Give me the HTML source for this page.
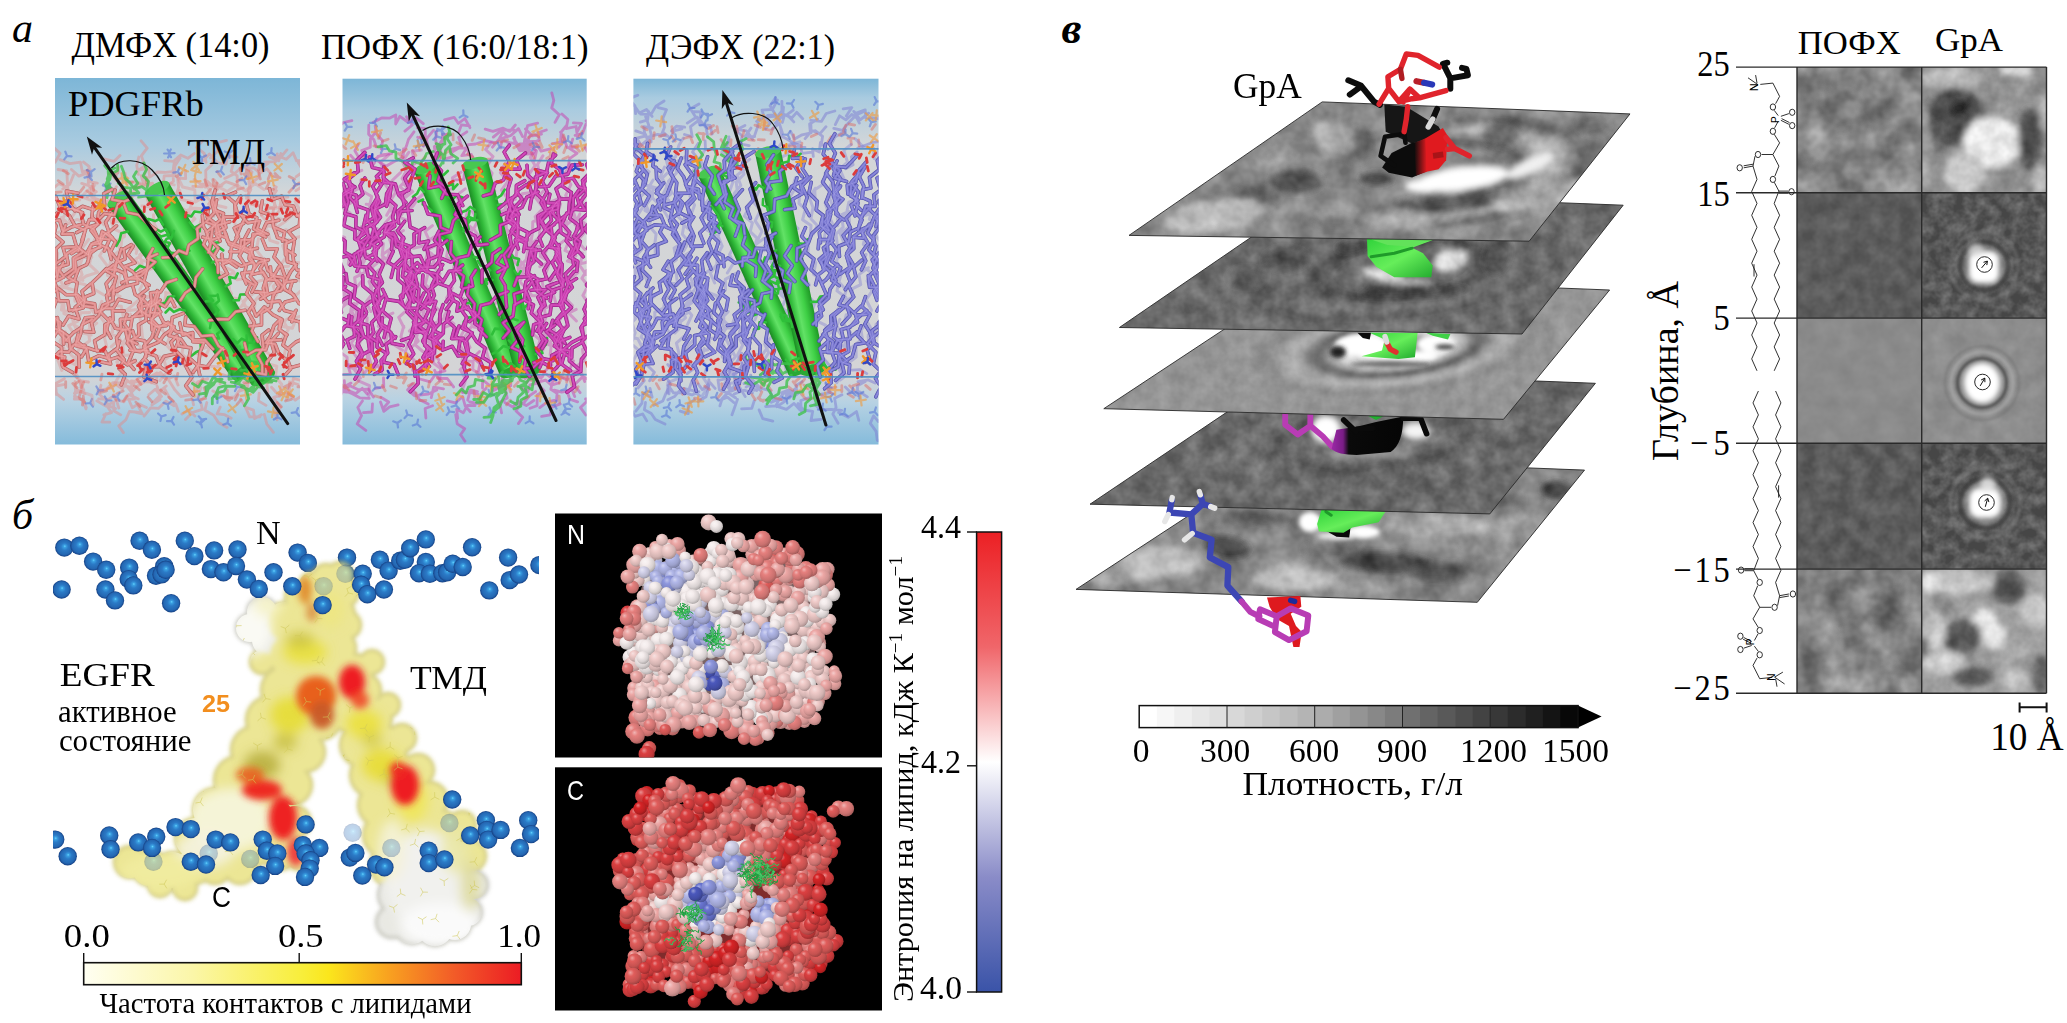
<!DOCTYPE html>
<html lang="ru"><head><meta charset="utf-8"><title>figure</title>
<style>html,body{margin:0;padding:0;background:#fff;overflow:hidden}svg{display:block}</style></head><body>
<svg width="2067" height="1023" viewBox="0 0 2067 1023" font-family="'Liberation Serif','Times New Roman',serif" fill="#000">
<defs>
<linearGradient id="ga0" x1="0" y1="0" x2="0" y2="1"><stop offset="0" stop-color="#7db6d7"/><stop offset="18.1%" stop-color="#a9cbe0"/><stop offset="31.1%" stop-color="#d3d6d8"/><stop offset="81.4%" stop-color="#d4d4d6"/><stop offset="88.4%" stop-color="#b7d2e3"/><stop offset="100%" stop-color="#85bbdb"/></linearGradient>
<clipPath id="ca0"><rect x="55" y="78" width="245" height="366.5"/></clipPath>
<linearGradient id="gc00" gradientUnits="userSpaceOnUse" x1="128.1" y1="191.7" x2="107.9" y2="206.3"><stop offset="0" stop-color="#1f9a26"/><stop offset="0.3" stop-color="#3fd046"/><stop offset="0.55" stop-color="#62e266"/><stop offset="0.8" stop-color="#2fb838"/><stop offset="1" stop-color="#1c8a24"/></linearGradient>
<linearGradient id="gc01" gradientUnits="userSpaceOnUse" x1="168.8" y1="182.4" x2="145.2" y2="195.6"><stop offset="0" stop-color="#1f9a26"/><stop offset="0.3" stop-color="#3fd046"/><stop offset="0.55" stop-color="#62e266"/><stop offset="0.8" stop-color="#2fb838"/><stop offset="1" stop-color="#1c8a24"/></linearGradient>
<path id="fp0" d="M92.3,319.4l-10.3,5.3 -1.3,9.1 -3,7.9 8.8,6.9 -4.9,8.2 M262.3,239.1l4.1,10.1 10.9,-0.5 -3.3,8.3 7.1,8.2 3.9,11.2 M202.6,268.9l-6.7,8.4 -1.4,9.5 -9.1,6 -4.8,7.4 M183.3,313.4l-11,4.1 -1.5,12.4 -6.9,5.1 -5.1,7 -11.1,4.9 -7.3,4.8 -10.5,-1.5 M250,247l3.5,10.5 11.7,2.8 -5.1,8.6 6.2,9 -3,10 1.6,8.4 M202.4,215.4l1.1,11.2 4.7,7.4 -4.8,10.5 5.8,7 8.1,8.9 9.7,-0.1 9.7,6.7 M122.4,329.6l-5.9,8.4 1.7,9.5 -9.7,7.3 2.1,9.2 -9.4,-2.1 M126.9,314.4l-2.9,9.6 6.3,7.9 -3,11.2 5.9,8.2 -4.9,11.2 5.7,6.8 M116.4,270.4l-10,-1.8 -7.7,7.9 -6.6,6.2 1.7,10.8 -8.6,3.4 -1.9,10.9 -10.5,3 M229.7,221.7l-12,3.5 2.9,11.5 -10,3.7 7.7,7.7 -4.2,7.5 3.6,8.2 0.3,8.9 M112.1,237.2l-10,-5.8 -2.3,9.1 -8.3,3.5 -5.8,10.9 M114,240.3l-8.9,-7 -5.2,10.1 -8.6,1.2 -3,10.4 -9,-6.6 -7.7,5.1 M84.9,345.4l-11,-0.8 -5.3,7.7 -9,-0.8 -7.3,7.9 M292.5,281l-3,9.5 6.9,8.6 -11.4,3 -5.7,8.3 M224.4,232.6l3.4,9.2 11.5,4.1 7.5,4.3 10.6,-2 M157.3,254.1l-8.4,3.4 -1.9,12.3 -3.1,11.4 3.8,7.6 -8.6,6.6 2.8,8 -0.3,8.6 M294.3,241.5l-1.8,11 1.1,8.6 3.4,9.1 10.7,0.1 M221.9,254.2l1.2,9.9 9.1,-3.6 9.1,5.8 11.3,-4.3 M264.5,259.5l3.3,10.8 6.6,5.2 -9,6.1 2.1,11.2 -12.3,-0.9 M78.1,334.4l-2.6,11.2 11.1,2.8 2,12.2 10.4,-5 9,2.7 M296.1,310.3l-6.6,8.7 10.7,3.1 0.3,8.7 6.3,6.4 -11,4.8 -7.2,6.1 M204,223l-6.8,5.5 0.8,10.2 -9.2,6.2 -2.1,8.9 -7.9,-3.3 -6.8,6.7 -9.5,0.5 M246.4,204.1l2.6,9.8 7.8,4 -3.3,11 10.5,6 M279.4,266.2l-6,10.2 5.6,10 -5.8,9.6 -2.4,11.6 -9.3,5.4 0,12 -11.7,1.2 M252.1,306.5l4.1,9.7 8.2,-9.2 8.7,7.8 9.1,4.9 -2.9,9.9 7.8,5.1 M113.8,264.8l-7.9,5.8 10.4,5.9 -2.5,9.2 -0,8.9 M133.2,246.1l-5.4,8.8 7.2,7.9 -10.3,3.6 7.7,5 6.9,8.2 M77.9,193.2l-11.5,-2.2 2.2,11.6 -8.6,6.2 9.4,6.8 5.8,10.5 10.2,4.1 -3.5,9.8 M51.7,305l-6.8,7.9 10.4,4.9 -1.1,10.6 9.1,3.7 0.3,12 M112.9,286.2l-6.4,9.4 2,9.3 -8.3,6.9 8.5,8.7 -2,9.7 4.2,8 M213.3,201l2.8,10.4 4.3,8.4 -7.9,7 -1.4,12.4 -8.3,-2 M124.2,310.9l-11.7,-0.3 0.5,9.7 -8.2,4.6 -0.1,9.8 -10.1,6.2 2.5,10.5 M278.2,333.4l-7.1,8.3 3.2,10.8 -7.6,9.9 -0.9,12.3 -8.5,-1.8 M58.4,212l-8.1,7.1 5.8,6.7 -2.1,8.6 9.1,7.7 -7,6.7 0,10.5 -2.1,10.6 M249.6,241.4l-7.5,5.1 8.1,3.2 -1.1,9.1 5.9,6.9 -4.7,10.9 6.1,6.9 -4.5,8.7 M269.5,188.8l3,10.7 9,-3.3 3.6,8.5 8.4,1.4 3.5,10 8.2,-2.9 M307.3,207l-7.1,6.6 -0.8,12.1 -10.8,5.9 6.4,7.4 -9.6,4.6 0.1,11.5 M270.4,266.7l0.7,8.8 12.3,2.4 1.3,11.5 9,5.5 5.4,8.7 9.1,3.4 M144.4,296l-5.9,9.8 4.2,9.7 -10.4,1.3 -1.8,11.4 -8.1,2.4 M240.6,214.7l7.2,8.1 11.9,-2.1 -2.6,8.1 10.7,5.4 M235.5,192.2l-8.9,3.8 7.9,6.7 2.9,10.7 8.1,3.6 -4.8,9.5 -4.5,11 M177.1,337.7l1.9,8.3 12,1.9 -2,9.8 7.6,6.8 M280,318.9l-0.7,10.2 7,6.2 -3.4,9.7 7.1,5.6 -2.1,9.6 2.9,8.7 -5.9,6.5 M47,347.5l6,7.1 11.7,2.3 -1.4,10.4 9.1,5.1 M76.2,248.1l-9.9,5.9 2,10.2 -9.4,3.1 -1.7,11.2 M93.8,317l-8.5,0.7 -4.3,10.1 -7.4,4.7 -8,8 M52.3,306.1l-0.7,9.4 8.8,7.1 -1.4,9.6 8.3,8.8 M157.3,290.6l-3.5,11 6.9,10.3 -9.4,7 0.8,11.2 M119.5,341.1l-2.7,8.8 7.5,10 -5.3,8.5 6.3,6 -4,10.5 M310.4,199.9l-4.8,10.4 -4.8,7.7 -7.2,-5.5 -8.7,7.1 M208.4,208l-1.2,9 8.1,6.4 1.4,10.3 9.1,4 M295.8,280.9l-9.7,1.1 -5.3,8.7 -11.2,3 -9.1,5.4 M281,339.8l-12.1,0.6 -3.1,9.3 -9.9,0.4 -8.3,4.7 -3,-11.7 M65.6,224.9l-3.6,9.3 10.8,-0.4 3.4,11.7 6.9,6.7 -9.7,5.8 0.3,10.8 -8.7,6.2 M58,288.2l8.1,6.5 11,-0.2 4.9,11.3 11.9,1.3 M216.6,199.8l-1.8,10.1 8.7,3.6 -1.9,11.4 4.4,9.2 3.3,10.5 11.9,4.1 7.9,4.1 M151.9,301.1l-1.8,11.4 8.7,0.6 4.7,9.1 10.6,4.4 -5,9 11.6,3.2 5.6,8 M123.5,286.2l-10.7,5.3 0.5,8.8 -10.6,4.8 -3.8,10.3 -7.4,7.5 2.3,9.3 -9.1,-0.7 M176.3,279.4l-9.6,3.2 -6.2,9.3 -10,0.9 1.6,10.5 -8.7,3.1 M145.8,269.3l-9.4,4.8 1.2,9.1 -12.1,3 -8.7,5.2 M84.7,255.5l-9.4,4.3 0.6,11.1 -7.8,6.4 9,5.2 -1.7,12.3 3.7,9.1 M179.6,339l-4.8,10.4 8.3,8.9 3.6,9.6 5.1,9.2 -6.1,8.7 7.4,9.1 M158.9,292.4l-2.5,9.2 -1.2,9 -3.1,9.1 7.5,8.3 -4.1,10 9.4,5.7 M131.3,244.6l-7.6,4.5 1.4,9.8 -8.6,3.9 -2.6,11.7 -7.8,9.2 3.1,11.8 M111.7,213.2l-6.1,9.1 3.3,9.4 -8.7,6 0.4,9.6 -11.8,4.1 -0.5,10.5 M160.2,300.1l-9.2,6.2 -1.4,10.2 -9.3,-5.9 -8.9,8.1 -11,0.6 0.5,8.6 M185.7,316.8l-0.9,8.4 9.4,1.1 7.3,9.9 11.2,-1 5.8,10.6 6.8,5.1 2.6,10.9 M265.7,236.9l-8.8,-3.6 -6,6.4 -9.6,0.1 -1.7,11.8 -10,0.1 M57.6,292.1l1.2,8.5 9.1,0.3 1.4,9.5 10.8,-1.7 M166.3,325.7l-11.1,0.8 -3.3,10.9 -8,8.5 2.5,10.2 -6.3,7.6 M215.2,190.3l-3.4,12 2.6,10.4 -8.4,9.2 9.3,3.4 -8.9,6.9 4.3,11.4 -2.2,8.7 M243.7,223.3l-9.5,4.7 3.9,8.5 -6.5,10.5 -1.3,11.9 -7.9,5.8 5,8.9 -7.8,4.2 M179.8,322.9l2.8,12.3 10.1,-2.6 0.2,9.2 11.1,0.6 -4,9.9 -1.4,12.3 -5.4,7.7 M112.1,189.5l-8.4,4.1 0.8,11.2 -5.9,7.5 -1.1,12 -11.9,3.7 -2.7,12 -4.6,11.2 M152.8,248.6l-5.2,9.7 7.8,3.7 -7,6.1 -7.3,7.6 -9.2,1.8 -10.2,5.3 M116.5,225.8l-8.4,7 7.4,8.9 -4.8,9.8 6.4,8.6 -3.2,8.2 10,4.7 3.4,10.6 M132.8,286.1l2.3,8.4 8,5.2 7.5,7.3 7.1,-4.6 7.3,4.3 5.7,-8.2 4.1,7.9 M249.1,230.2l-4.4,8.2 -0.5,9.2 -4.9,8.3 6.8,10.3 -2.6,12.2 10.5,6.6 M99.7,246.5l-8.9,6.6 -4.1,11.5 -7.9,3.8 -4.3,11.7 -8.5,2.8 M68.6,197.7l1.5,10.1 10.7,4.2 2.6,12.2 10.2,4.8 4.3,9.1 11.6,1.6 -5.1,11.3 M240.7,196.1l-5.8,9.1 0.7,11.9 -12.1,-0.2 2.4,10.7 -10.2,6 4.4,7.5 M262.3,200.7l-1.9,10.8 11.7,4.3 1.5,11.3 11.1,4.8 -2.1,9.3 M130.3,302.2l-11.6,-3 -5.4,9.2 -8.8,0 -8.6,4.1 -1.2,-8.7 -9.1,-1.6 -8.7,-7.9 M150.2,301.5l-4.4,10 0.3,8.8 -7.6,4.3 0.5,10.7 -8.1,5.3 M82.5,212.6l-10.4,-4.4 -10.9,1.7 -4.7,-11.5 -10.7,4.1 -0,-9.2 -8.5,-8 5.1,-7.9 M252.8,249.1l-2.7,8.2 4.7,7.2 -3,10 11.3,-2.4 4.4,7.4 10.3,0.9 7.1,8.3 M90.7,283.8l-8.7,7.5 2,8.2 -8.9,7.9 3.9,11.7 -10.4,-3 -5.5,8.9 M131.2,341.4l4.3,9.1 12.1,-0 -3,8 7.9,9.1 -6.6,9.8 10.3,4.3 M115.2,190.2l-3.3,9.4 11.1,2.1 4.2,10.8 11.4,2.3 7.7,7.4 9.3,7.4 M260.5,293.3l7.3,8.9 11.9,-1.1 4.7,9.4 10.6,2.8 -3.2,8.4 M121.4,248.7l-3.6,11.3 7,9.2 1.8,9.2 12.3,0.5 10.3,6.3 M129.7,199.3l-11.6,4.7 -3.9,11.1 -9.6,-1.5 -6.6,6.5 -8.7,-0.6 -3.1,8.4 -9.6,4.7 M57.5,317.6l1.2,11.4 10,7.3 1.7,12.2 8.4,6.4 0.5,12.4 M303.5,312.7l-2.6,9.5 9.3,4.6 3.1,10.3 12.1,0.8 M109.8,318l5.6,10.3 10,1.4 2.1,9.7 9.3,4.3 M281,318.6l-7.1,7.2 -3.5,10 -4.6,7.2 9.3,1 3.7,9.3 7.6,6.7 M268.7,330l-6.7,5.2 1.5,12 -5.9,8.6 4.7,8.9 0,9.2 M80.7,224.6l-9.4,2.5 -8.3,4.5 -3.5,-11.6 -12.1,2.1 -7.9,-5.7 -11,2 M286.7,251l0.7,10.8 9,2.7 -5.5,6.8 -5.1,9.5 M149.1,321.9l9.5,5.6 9.5,-5.1 8.1,9.1 10,2.1 7,6.3 11.5,-0 8.4,9.2 M222.8,348l-8.4,9.2 -7.3,9.7 -9.5,-1.9 2.2,10.4 M316.5,336.7l-9.8,2 5.4,8.9 -7.7,6.3 -2.9,10.8 -12.1,3.2 M92.9,206.2l-1,11 6.9,6.4 -7.8,6.8 5.3,6.9 3.5,7.8 8.5,3.1 2.9,11.2 M301.9,268.9l-4.8,7.5 8.2,2.7 7.5,5.1 6.6,7.4 -2.7,10.8 M278.8,220.3l-12.3,2.4 -4.8,10.5 -8.6,0.9 -1.1,11.9 M273.7,226.8l3.9,10.8 9.4,3.1 -1.5,8.4 9.4,6 M132.7,330.9l2.6,8.1 9.3,1.9 2.2,11.2 9.3,4 4.2,10.8 9.5,6.3 M86.8,347.5l8,2.7 10.4,0.9 3.5,8.8 9.3,-2.9 9.4,7.8 7.7,-4.1 M75.3,246.9l-12.3,0.7 2.6,8.9 -10,7.5 1.3,11.9 -11.5,4.8 -6.5,10.7 M250.3,284.7l-3.8,8.9 7.4,9.8 -5.7,8.7 6.2,10.7 -2.5,8.1 6.1,10.7 M176.9,335.7l-5.9,6.6 4.1,11.7 -10.9,2.3 -6.3,10.5 -11.1,-0.9 -3,11 M55.5,196l3.5,8.4 8.4,-3.7 7.4,10.2 7.7,-4.6 11.4,3.6 6.7,-5.6 M245.2,310.2l-9.5,1.4 -7.3,7.8 -9.1,-0.3 -10.1,1.2 M57,267.5l-8.4,3.7 0.7,11.7 -7.6,4.4 1.5,8.3 M57.4,331.6l-6.1,9.1 10.2,6.7 0.3,8.7 0.6,9.7 M268.4,259.8l-9.8,2.9 -6.7,9.3 -10.2,1 4.6,10.9 M63.5,262.4l-4.5,7.7 4.8,6.9 -9.2,4.7 2.6,8.2 -7.4,4.9 6.6,5.8 -3.8,10"/>
<linearGradient id="ga1" x1="0" y1="0" x2="0" y2="1"><stop offset="0" stop-color="#7db6d7"/><stop offset="8.4%" stop-color="#a9cbe0"/><stop offset="21.4%" stop-color="#d3d6d8"/><stop offset="80.9%" stop-color="#d4d4d6"/><stop offset="87.9%" stop-color="#b7d2e3"/><stop offset="100%" stop-color="#85bbdb"/></linearGradient>
<clipPath id="ca1"><rect x="342.5" y="78.7" width="244.2" height="365.8"/></clipPath>
<linearGradient id="gc10" gradientUnits="userSpaceOnUse" x1="435.6" y1="163.5" x2="414.4" y2="172.5"><stop offset="0" stop-color="#1f9a26"/><stop offset="0.3" stop-color="#3fd046"/><stop offset="0.55" stop-color="#62e266"/><stop offset="0.8" stop-color="#2fb838"/><stop offset="1" stop-color="#1c8a24"/></linearGradient>
<linearGradient id="gc11" gradientUnits="userSpaceOnUse" x1="487.6" y1="159.8" x2="462.4" y2="166.2"><stop offset="0" stop-color="#1f9a26"/><stop offset="0.3" stop-color="#3fd046"/><stop offset="0.55" stop-color="#62e266"/><stop offset="0.8" stop-color="#2fb838"/><stop offset="1" stop-color="#1c8a24"/></linearGradient>
<path id="fp1" d="M366,215.4l-2.7,12 6.1,9.8 -6.3,10.4 -2.5,8.2 M509.4,145.1l-5.3,6.9 5.1,9.5 -4.2,10.3 6.2,7 -3.3,10.5 -0.2,11.9 -8.8,7.1 M435.1,309.8l-4.5,9.4 5.2,8.7 -6.9,9.8 7.8,4.1 -2.5,8.1 M413.5,322.1l2.8,8.3 9.7,2.9 -1.3,12.1 7.9,7 -0.8,8.6 M466.6,318.5l-1.6,8.5 6.5,6.6 5.2,8.2 8.3,6.2 -2.5,9.4 8.5,5.3 -1.5,10.7 M527,165.2l0.7,9.9 8.9,7.9 -1.5,9.5 8.8,8.3 2.3,8.9 11.1,-4.4 M582.3,164.7l-10.3,0.4 -4.1,9 -12.1,1.9 -6.9,10.3 -9.2,0.4 M549.9,194.2l-2.2,8.6 10,0.3 0.4,10.2 2.2,10.6 0.5,8.5 9.9,6.9 M566.8,213l-4.7,10.6 7.7,8.8 -3.6,8.5 6.3,7.5 -3.7,8.3 9,4.6 -1,10 M599.5,265.2l-8.2,4.5 8.2,8.9 -3.4,10 5.8,10.9 1.3,9.5 M377.3,337.4l-0.2,9.8 8.7,5.8 -2.1,9.2 10.5,2.4 4,9.9 M576.5,278.6l-7.8,4.9 -4.1,9.4 -5.2,10.7 4.9,10 -8.6,7.6 8.5,8.5 -5.3,10.8 M442.7,264.6l-5.9,9.7 0.7,9 -9.3,7.5 2,9.6 -9,8.5 M448.9,311.5l-2.3,9 8.1,7 -3,11.1 11.5,-0.3 M412.2,168.8l-7.5,9.4 4.5,10.3 -7.4,5.7 2.5,11.5 -6.7,5.6 1,11.9 M525.2,299.2l-10.9,5.5 -1.2,11.3 -10.1,6.8 6.5,8.1 -6.3,7.2 M523.9,322.1l-9.8,7.2 3.1,11.2 -5.5,7 8.7,4.1 -0.7,10.3 M557.5,282.5l-10.5,4 7.5,5.8 -11.5,4.6 2.1,8.5 -6.5,5.4 3.9,10.3 -5.7,10.1 M343.1,183.3l2.6,8.3 10.6,3.6 0.8,10.8 10.9,3.9 -0.8,10.7 6.9,7.6 -2.4,9.5 M436.2,244.1l-9.3,3.6 2.4,12.2 -2.1,10.6 8,7.9 -3.7,7.7 2.9,9.1 -4.7,9.1 M452.1,317.3l-8.6,6.9 -0.2,9 -8.7,8.6 -0.6,11.7 -7.9,4.3 -0.4,11.1 -9.1,2.6 M338.5,245.7l0.1,12.2 9.7,-2 6.7,10.3 11.3,0.8 2,9.3 11.4,3.6 M554.4,224.3l-8.1,5.8 8.9,7.7 -3.7,8.1 7.5,7.4 -6.9,9.1 4.2,8 -6.6,9.5 M384.7,225.1l-8.4,9.3 5.2,9.5 -8.3,7.5 4,9.6 M512,200.1l-2.5,10.2 8.7,6.4 -1,10.3 10.3,5.1 -0.8,8.7 M562.2,264.3l-0.8,11.6 2,10.5 -11.4,4.1 -1.8,10.6 M345.1,326.1l-6.8,9.3 5.4,8.6 -4.4,7.4 -0.2,9.6 -7.6,6.6 M404.2,264.1l-1.8,12.2 9.1,7.3 -5.1,7.6 4,9.1 -4.8,7.8 M509,209.2l-2.2,9.8 8.8,3.7 -4.4,8.2 8.3,8.4 -6.1,7.4 -4.9,10.1 M459.8,206l-5,8.6 10.5,5.6 1.4,11.1 8.6,4.7 2.2,9.1 10.2,-1 M329.9,172.8l-2.2,9 7.9,4.7 -2.3,11 6.6,6.1 -3.7,9.7 M393.2,222.9l-6.8,9.6 8.4,3.2 1.2,10.2 10.7,6.6 -1.5,11.7 6.3,7.8 -4.2,7.8 M518,225.1l-0.3,10.8 8.1,3.8 0.4,8.4 10,1.1 -1.5,8.4 6.7,6.3 M430,175.9l-1.4,12.3 10.9,-2.3 7.3,8.4 10.9,0.4 5.1,11 M524.8,180.7l-8.4,4.6 -0.3,10.3 -8,4.3 2.7,10.9 -9.2,4 M379.5,280.7l-1.2,10.8 1.4,9.5 -6.1,6.4 2.2,8.5 M347.6,297l-8,4.7 1.9,11 -9.7,6 6,7.3 -6.4,8.7 M546.5,211.1l-8.4,4.7 0.7,12.6 -8.6,4.2 -5.7,7.6 -9.2,-0.4 3.1,9.1 M547.4,172.5l-5.1,8.5 4.8,10.8 -6,10.8 4.7,8.5 -6.1,6.8 6.4,10.8 -5.5,8.3 M414.7,198.5l-7.3,8.6 1.6,10 1.1,9.9 9.6,4.3 -1,11.7 9.7,-1.9 -4.4,8.2 M540.5,250l-9.9,1.3 -2.4,11.3 -1.6,10.9 5.8,8 -6.8,9.3 4.3,9.4 -1.7,8.6 M555.6,155.1l-6.8,6.4 -2.4,11 -9.9,-2.6 0.9,9 -8.8,4.5 3.6,10.6 M443.1,304.7l-3.2,9.2 0.1,9.4 -7.1,7.1 8,3.8 M416.5,316.5l-0.2,12.1 8.3,5.6 -0.1,9.6 7.8,7 -7.2,8.6 M501.6,255.4l-5.1,7.3 9.3,5.4 -5,10 4.5,7.6 0.4,11 0.9,10.2 -7.4,7.6 M530.8,262.4l-2.7,11.1 9.7,5.7 -0.6,12.3 9.5,6.9 M392.5,183.4l-5.9,10.6 -1,10.1 -10.8,5.3 0.1,12.5 M331.6,286.6l-3.3,11.6 6.5,7.1 4.2,11.6 8.6,3.8 M569.9,337.4l-9.6,3.8 1,9.1 -9.4,5.1 -2.1,11 -9.9,-5.1 -7.2,6.8 -8.5,0.2 M345.5,286.4l-7.8,6.2 3.5,9.7 -5.7,6.3 4.9,9.8 -8.8,5.8 M412,270.8l-2.4,8.9 5.9,6.2 -2.3,10.6 5.7,6.5 -2.5,9.7 7.8,9.4 -9.9,3.9 M437.3,153l-3.5,9.5 7.7,8.4 -3.7,10.1 8.5,6.7 -4.6,10.6 M593.9,200.2l-7.7,3.7 1.9,9.5 -7.6,6.7 2.3,11.6 -8.4,9.1 3.3,10.3 -7.3,6.1 M546.7,172l-11.2,5 1.1,10.6 -5,10.8 -1.9,10.6 M354.3,172.9l-10.5,6.4 9.3,6.5 -3.2,11.8 5.7,6.5 M402.1,238.9l0.5,9 9.4,8 0.3,10.3 7.1,6.1 M546.6,323.5l-6.8,9.6 3.1,7.9 -6.3,9.5 6.8,8.8 -9.7,3.5 M600.8,305.4l-9.4,4.2 1.3,11.3 -10.6,4.7 1,11.1 -11.1,5.7 -9.4,7.7 M507.8,291.5l-11,4.2 -6.5,7.4 -9.6,2.3 -1.8,8.7 -9.5,7.6 M516.7,214.3l-8,7.2 7,5.7 -6,8.2 1.8,9.8 -7.8,9.8 4,11.7 -10.1,5.5 M376.7,248.4l-1,8.5 7.7,7.2 -4.3,10.4 3.3,8 -6.6,8 M536.8,241.6l-6.2,8.2 3.3,11.8 -6.9,6.4 2.8,8.7 -12.3,0.6 -3.3,8.4 M411.5,270.8l-5.9,9 3.7,8.5 -9,7.8 3.1,9.6 M349,315.2l-1.2,10.8 11.5,1.8 4.2,8.1 8.3,5.9 0.3,9.8 4.4,10 -6.6,9.5 M354.3,174.1l-7.2,5.5 3.3,7.9 -8.7,7.7 2.8,10 -10.3,5.9 M390.7,190.4l-2.6,8.1 7.8,7 -3.3,11.4 2.2,9.3 -9.6,6.6 7.4,5.8 -1.1,10.8 M475.6,270.2l-4.6,7.2 1.8,8.8 -9.5,2.3 -3.2,8.8 -7.6,-4 -6.5,8.5 M568.9,198.9l-9.5,0.2 -1.2,10.1 -8.9,2.3 2.2,8.8 -6.1,7.2 M581.9,342.5l-9.9,5.6 -0.3,9.9 -10.1,-6.4 -8.5,9 -9.5,-1.8 -4,8.9 M532.3,281.8l3.4,8.2 10.1,-0.5 -7.9,7.9 4.5,9.5 -4.5,11.4 6.5,10.7 M411.8,282.2l-6.9,6.7 5.7,10.4 -1.3,9.3 6.4,6.5 -1.9,10.1 -3,11.9 -9.3,3.4 M534.4,275.7l-8.4,5.7 -1.6,9.1 -10.4,3.5 1.6,10.9 M523.4,322.7l-6.6,8.3 6,8.7 -2.3,11.6 5.4,7.9 -1.9,9 5.7,8.2 M465.6,300.6l-4.2,9.4 5.3,7.6 -4.6,10.6 10.1,4.6 -7.6,9.9 3.3,11.7 -5.7,9.2 M379.5,233.2l-7.1,5.4 -2.8,8.8 -11.7,4.3 2.2,11.9 -3.2,7.8 M439,231l-4.6,9 7.7,9.4 -3.3,11.2 2.7,8.5 M335.5,258.6l-0.9,11.5 8.8,7.5 -1.2,10.2 8.8,6 -1.3,9.7 9.9,6.9 -1.5,10.4 M377.6,198.4l-2.8,9.4 5.7,9.5 -6.8,8.3 3.7,10.8 -7.8,6.5 8.6,4.7 M383.9,166.5l-0.7,11.3 8.3,6.8 -1.7,11.8 -3.2,9.9 M382.6,308.9l-5.7,8.3 5,10.4 -4.5,7.4 5.1,10.4 M426.2,320.5l-6.6,6 7.5,6.6 -4.4,7.9 5,8 -4.8,8.5 6.5,8.8 M460.7,298.8l6.2,10.3 8.5,3.2 -0.6,11.3 7.7,5.3 -2.9,11.7 M365,233.2l-7.3,5.2 3.8,11.8 -7.4,4.2 1.7,9.5 M589.6,334l-7.6,7.2 5.4,11.3 -6,6.8 -0.6,12 -8.6,4.4 2.3,11.1 -7.6,5.5 M576.7,243.5l-4.7,11.3 1.8,10.6 -8.5,8.7 2.4,10.1 M412.1,210.5l-10.9,0.6 -4.3,10.2 -10.8,3.4 -1.8,12 -10.3,6.9 1,9.8 -8.8,4.6 M345.6,215.9l-1.8,9.6 11.2,4.9 -0.3,8.6 9.1,4.7 1.3,12.2 7.1,4.8 M413.2,157.9l-8.4,4.4 10.2,6.9 -3.6,9.5 -2.7,11.7 -9,3.1 M525.8,288.4l-1.3,11.8 9,4.7 -2.2,8.4 7.8,7.5 0.2,12.5 7.3,7.5 -4.5,7.9 M366,314.5l-6.3,8.1 8.4,2.7 -0.3,10.4 9.7,6.5 M525.4,153l-9,7.4 3.8,8.8 -12,-0.2 -5,11.4 -8.1,2.7 -3.5,10.4 -8.3,2.4 M362.7,275.9l0.2,10 9.5,7.9 1.5,9.9 5.3,9.5 -0.3,9.3 7.6,4.7 -2.5,10.4 M459,326l-3.5,11 11.2,5 1.9,11.2 10.3,5.1 4.2,9.5 M565.5,181.6l-9.5,7.2 4.1,11.1 -8.2,6.6 2.5,9.6 M451.4,241.5l-1,11.6 6.8,8.3 -2.1,8.2 8.7,6.5 -2.3,10.9 M480.3,236.9l-8.6,8.5 -3.4,10.2 -9.8,2.2 -7.9,4.4 -9.1,-3.9 -7.3,8.7 -12.5,0.2 M382.1,183.7l-6.3,9.8 3.8,8.2 -5.2,8.1 2.8,12 -10.8,5.9 1.6,8.8 -7.6,5.9 M385.8,299.3l-3.2,11.7 8.6,7.4 -3,11.3 6.9,8.7 M346.1,273.6l1.1,9.1 8.3,3.7 -1.5,11.4 8.7,5.9 3.8,8.6 M563.2,177.7l-0.9,8.4 9.1,6.4 -2.1,11.4 -0.7,9 -8.3,6.6 M404.6,221.3l-7.1,9.5 6.4,7.7 -4.7,8.4 3.4,10.6 -8.6,8.3 -2.8,11.7 M462.7,265l-9.6,7.2 1.4,8.4 -5.3,7.7 4.1,11.7 -7.1,9.3 M591.3,157.3l-4.7,7.4 3.8,9.7 -7.6,9.8 4.1,9.1 -6.6,8.6 4.6,8.2 -11.3,-0.9 M578.7,190.2l-5.4,7.6 -0.4,10.2 -3.1,10.5 8.3,6.2 -2.6,9.3 M469,285.3l-1.7,9.3 7.4,9.2 -1.2,8.6 8.4,7.3 -2.7,9.5 7.4,7.7 M395.7,336.7l-9.7,7.6 1.8,8.7 -6.7,7.4 1.1,9.5 -7.9,4.4 M338.1,221.9l-2.7,11.9 9.8,7.4 -0.6,10.9 10,5.7 -4.3,7.3 M443.2,341.2l-0.6,8.9 9.7,-3.8 5.7,9.7 9.8,-0.7 M347.3,325l-8.4,5.8 4.2,8.7 -11.7,-0.9 -1.6,10.4 -8.8,6 M588.7,298.8l-4.7,10.5 3.7,7.9 -6.8,10.5 3,10.5 M364.9,177.9l-4.9,7.7 2.9,8.4 -8.7,7.3 3.1,11.1 M467.4,196.1l-9.3,7.8 2.7,9.6 -7.3,7 -3.1,11.2 -11.1,2.8 0.7,9.9 M355,186.9l-9.3,5.2 2.7,9.5 -3.6,12 11.2,3.2 -0.2,10.2 7.6,3.9 -4.9,8.2 M424.7,227.6l-10.7,6.2 0.3,11 -7.5,4.6 -0.6,9.5 -7.4,8.8 M437.2,274.1l0.4,9 11,4 1,11.2 8.6,4.7 -1.4,8.3 11.2,-4.1 6.1,10.7 M387.5,224.1l-3.3,8.3 9.6,0.7 4.7,9 11,4 -1.8,11.3 12.5,-1.5 5.3,11.3 M500.1,248.7l-7.6,5.3 -0.9,8.5 -9.6,7.9 -0.2,12.4 M369.5,156.9l2.8,10.6 10.6,2.4 -6.5,6.6 4.6,8.8 M447.1,240.4l-8.7,6.8 -0.4,8.7 -10.8,4.4 -0.5,9.5 -11,0.9 M554.8,325l-8.6,6.5 7.4,7.7 4.8,10.1 11.2,1.3 -0.3,10.2 9.3,8 M559.2,230.5l-6.5,8 6.8,9.6 -4.4,9.3 4.6,7.6 -2.6,9.5 5.2,10.9 M559,244.7l-2.8,8.1 5,10.5 -4.2,9.1 7.1,7.6 -2.6,8.2 -0.1,10.1 2.3,9.6 M413.2,336l-4.3,8.4 4.8,9.5 -7.5,9.6 8,2.8 0.9,10 M393.2,251.4l-5.1,10.9 10.4,6.3 -0.7,10.7 6.4,5.7 -1.3,12.2 M460,341.4l-1.7,8.6 7.7,5.9 -1.9,11.4 2.9,9.3 -6.4,8.4 M441.2,333.7l-8.4,5.4 1.6,10.9 -7.9,4.7 0.1,8.7 -9.1,8.4 0.6,11.8 -7.8,8.1 M548.3,213l-7.6,8.9 5.1,8.3 -6.6,7.5 3.4,8.4 M538.1,191.8l-11.2,5.3 -4.9,10.3 -8.7,3.9 -2.4,9.7 -10.7,4.2 0.4,9.1 -10.2,5.8 M460.9,270.3l-11.7,0.9 -6.2,10.3 -6.9,-7.8 -10.5,-2.1 -8.3,-9 -6.8,6.1 M544.4,302.3l-5.4,8.5 3.4,11 -8.7,2.8 -1.3,10.3 M421.1,265.7l-6,9.6 2.3,10.1 -7.1,5.3 3.5,11.4 M526.2,184.7l-9.8,6.5 5.7,7.9 -7.1,8 4.1,7.6 M552.7,320.3l-3.2,9.9 9,6 -4.1,9.9 10.4,6.8 -3.2,11.2 8.9,6.5 M563.9,311.3l-6.7,7.3 5,10.6 -8.4,8.1 7.8,7.4 -2.5,8.7 1.4,9.7 -7.4,8.1 M362.8,317.8l-2.1,8.6 3.1,10.2 -6.3,6.1 4.6,9.3 -5.7,9.3 4.2,7.5 -5.6,10.3 M593.1,275l-6.6,10 6.7,7.7 -6.1,7.6 4.8,9.2 -7.6,9.4 5.4,8.2 M364.9,152.4l-7.7,7.2 1,11.7 -9.4,7.5 3.3,11.9 -9.2,5.4 3.1,11 M424,202.8l3.9,11.2 12.2,2.1 0.5,11.3 8,3.3 M517.7,191.7l-7.3,9.9 4.2,7.7 -4.3,7.5 7.7,9.5 -1.6,12.5 8.6,4.2 -1.4,8.8 M422.9,275.1l-0.7,10.6 7.5,8 -5.5,9.7 11.7,-2.1 -3.3,9.4 -1.7,11.1 -3.5,9.3 M329.3,233.5l1.2,9.7 7.7,6.6 1.2,10 4.2,11.5 -9.3,7.7 M385.2,294.4l-8.4,8.4 3.3,10.6 -8.5,9.3 2.1,9.7 -5.6,7.3 1.6,11 -8.2,4.5 M553.5,154l-2.3,9.2 8.3,6.2 4.1,10.3 9.5,-1.5 5.5,8.7 11.8,3 M378.5,178.2l-5.8,8.3 5.1,10.3 -6.4,10.6 2.4,10.3 -8,5 M370.8,301.3l-8.1,5.9 -0.8,10.7 -8.3,7 1.1,11.2 -7.7,3.9 2.8,8.4 M567.7,290.2l-3.3,10.2 7,7 -6.6,6.4 3.1,11.9 -8.5,8.8 5.7,8.9 M574.2,271.4l-6.4,7.7 4.5,8.2 -6.8,7 -4,11 -10.2,-0.4 -1.3,9.9 -10.3,2.8 M423.9,293.1l-4.5,10 9.5,6.8 -4.4,9.9 9,7.1 -1,9.3 8,9.5 M382.7,289.4l4.7,10.2 11.5,1.8 7.2,6.8 11.7,0.1 M374.4,259.5l-5.8,6.4 6.2,7.1 -2.4,8.6 5,6.8 -3.3,8 5,7.2 M403.5,237.3l-2.2,11.2 3.6,9.3 0.8,12.4 8,4.1 -1.7,9.5 6.9,5.5 -0.8,12.1 M409.5,302.7l-2.5,9.4 8.5,8.8 -0.2,11.6 11,-1.4 M382.3,317.8l-0.4,9.6 8.9,4.9 1.2,10.9 11.2,2.4 M556.9,201.8l-6.2,9.5 7.8,8.9 -7.4,6.5 1.3,11.7 -3.2,8.7 10,1.5 1,11.4 M589.4,173.4l-6.9,7.2 2.7,8.5 -8.2,7.9 2.3,8.1 -7.4,6.1 M351.8,316.7l-0.6,8.6 7.9,9.3 -1.9,11.2 5.7,8.1 -3.5,8.9 M578.5,227.9l-5,8.6 6.8,5 -3.1,8.8 6.1,6.5 M384.3,172.9l-0.8,9.4 11.8,1.5 3.3,11.2 7.4,7.5 M548.3,246.4l-5.5,6.4 6.2,9.5 -5.2,7.9 3,8.6 -11,2.4 4.7,7.9 -9.4,1.1 M591.9,218.7l-7.2,10.2 7,9.6 -4.2,10 6.8,8.1 2.7,9.6 5.9,8.5 -4.5,7.6"/>
<linearGradient id="ga2" x1="0" y1="0" x2="0" y2="1"><stop offset="0" stop-color="#7db6d7"/><stop offset="5.2%" stop-color="#a9cbe0"/><stop offset="18.2%" stop-color="#d3d6d8"/><stop offset="81.5%" stop-color="#d4d4d6"/><stop offset="88.5%" stop-color="#b7d2e3"/><stop offset="100%" stop-color="#85bbdb"/></linearGradient>
<clipPath id="ca2"><rect x="633.4" y="78.7" width="245.1" height="365.8"/></clipPath>
<linearGradient id="gc20" gradientUnits="userSpaceOnUse" x1="719.5" y1="167.2" x2="698.5" y2="176.8"><stop offset="0" stop-color="#1f9a26"/><stop offset="0.3" stop-color="#3fd046"/><stop offset="0.55" stop-color="#62e266"/><stop offset="0.8" stop-color="#2fb838"/><stop offset="1" stop-color="#1c8a24"/></linearGradient>
<linearGradient id="gc21" gradientUnits="userSpaceOnUse" x1="780.7" y1="149.4" x2="755.3" y2="154.6"><stop offset="0" stop-color="#1f9a26"/><stop offset="0.3" stop-color="#3fd046"/><stop offset="0.55" stop-color="#62e266"/><stop offset="0.8" stop-color="#2fb838"/><stop offset="1" stop-color="#1c8a24"/></linearGradient>
<path id="fp2" d="M839.6,309.4l-8.8,6.7 0.5,10.2 -8.4,8.3 10,7.1 -1.5,9.3 3.9,10.9 -7.1,8.6 M731.8,159.4l-3.5,11.5 6.8,7.2 -11.5,3.3 2.5,12.1 -6.5,6.3 4.6,8.9 M840.1,187.4l-6.8,7.4 2.9,10.9 -8.8,5.6 0.3,12 -8.4,9.3 1.2,10.2 M740.4,143.2l-9.7,7.2 5,11 -7.2,9.2 1.1,9.1 -7.9,5.5 2.6,10.2 -8.3,9.3 M752.1,314.7l-8.3,7.3 2,9.3 -9.8,5.8 0.2,9.1 -8.1,7.3 3.1,10.8 M708.3,312.1l-7.5,7.5 5.6,6.6 -6,7.9 4.4,8.2 -8.2,7.3 4.9,8.7 -8.1,7.7 M638.2,234.4l-7.3,8.1 4.8,7.3 -6.4,8.9 3,8.5 -8.6,1.9 -2.7,11.8 M772.3,237l-6.9,8.7 4.1,7.6 -4.3,10.2 5.9,10 -6,7.2 M819.9,226.2l-8,7.2 -3.7,10 -11.1,4.9 -0.5,12.6 M794.4,149.7l-2,8.7 10.3,-0.6 -6.8,10.4 6.3,8.5 M748.7,290l-9.1,7.1 1.9,11.7 -7.3,6.1 3.8,10.4 -7.6,8.1 M720,339.6l-2.1,9.8 9.6,7.8 2.3,10.4 11.6,4.2 -2.1,11.7 M656.1,167.4l0.5,11 5.3,7.1 -5.6,7.6 8.3,4.4 -0.6,10.1 8.1,4 M686.7,150.1l-0.3,12.5 10.2,4.6 -1.2,12.4 8.9,8.2 -1.8,10.5 0.2,12.1 M831.2,252.8l-4.8,11 8.4,6.5 -3.2,9.9 7.6,5.4 M630.5,247.1l2.5,10 10.1,3.9 -0.6,9.4 7.4,7.3 -3.6,8.7 M644.7,346.3l-6.8,6 3.6,9.1 -5.7,7.8 2.7,10.1 -7.6,7.4 M635,138.8l0.5,8.6 8.8,7.1 -4.5,11.2 7.4,8.3 -1.9,8.5 M694.4,158.6l-9.3,6 7,9.9 -6.6,9.5 3.9,9.1 -12.4,0.3 -3.2,9.2 -9.3,2.4 M693.6,270.7l-7.3,7.9 2.8,8.8 -9.1,7.4 2.8,11.3 -6.3,9.7 -2.8,10.4 M707.5,281.5l-4.6,7.8 4.8,11.2 -6.8,7.7 4.6,8.2 M883,153.6l-5.7,7 1.9,9.1 -9.8,7.8 1.5,10.6 -8.3,1.7 -0.9,8.5 M840.6,219.5l-7.9,9 -3.2,10.8 -10.6,0.3 -0.7,9.2 M663.6,182.9l-7,7.3 5.2,10.5 -7.3,8.6 3.8,7.6 -9.9,3.6 M691.1,256.9l-6,7.8 12.5,0.5 -0.5,9.1 10.7,3.8 -1.6,12.4 6.7,8.4 M745.2,236.8l-2.6,8.1 7.1,7.1 -2.9,8.4 9.5,6 -0.8,10 M856.8,332l-8.9,8 0.8,11.5 -9.8,5.7 -0.4,9.5 -7.9,4.2 0.6,11.8 -6.6,5.8 M680.4,253.8l-9.6,7.8 2.6,10.4 -8.9,7.9 4,8.3 M691.6,294.2l-10,7.4 1.4,11.8 -6.7,5.9 0,9.8 -7.9,6.1 -7.4,5.7 M832.8,240.7l-9.4,7.3 3,10 -2,8.8 6.4,5.9 -4.9,7.4 M801.2,181.7l-9.5,4.6 -5.1,9.7 -11.9,3.3 -0.6,11.9 -11,4.3 5.5,7.5 -2.5,10.4 M811.2,182.3l-2.3,10.6 8.4,8.3 -1.1,8.8 6.9,5.3 -2.7,10.5 8,4.8 M718.1,266.1l-2.4,12 7.1,5 -3.5,9.4 8.8,6.3 -2,11.1 M663.9,224.1l-4,8 6.4,9.2 -8.8,3.2 0.3,10.5 -10.1,2.8 M773.4,344.9l-1.3,11 8.1,5.5 -3.2,9.6 5.3,7 -8.3,4.3 M651,289.4l-1.2,12.4 6,6.1 7.6,7.7 9.9,-1.5 3.7,11.2 12.1,3.4 -5.3,10.4 M666,225.8l-11.4,-0.9 -7.5,3.9 -7.9,-4.4 -7.1,9.8 -9.5,5.3 7.1,7.3 M693.8,216.9l-5,7.6 3.7,7.7 -4.8,7.9 5.7,8.6 -5.6,8.6 3.4,8.2 -6,8.6 M747.4,332.2l-3.9,8 5.8,8.3 -6.1,8.8 5.4,8.5 -3.2,10.5 7.7,9.5 -4.3,7.4 M860.9,306.2l-6.1,6 2.8,9.9 -9.6,5.7 2.1,11.2 -12.5,0.8 -5.3,11.3 -10.6,0.9 M636.9,144.3l-4.4,8.8 7.7,7.5 -3.9,10.7 7.7,8.9 -2.1,8.9 7.4,6.9 -5,9.5 M805.5,227.6l-3.8,8.6 6,6.9 -2.6,8.9 8.8,6.8 -2.9,10.8 7,6.3 -2.4,8.9 M726.7,193.8l-2.2,8.1 8.8,6 -3.6,9.4 9.7,7.2 -4.1,11.6 M668.9,337.1l-1.2,9.4 8.3,9.1 -0.6,12.2 5.7,7.3 -2.7,10.6 6.2,7.6 M791,245.6l-6.4,10.2 7.7,9.7 -4.9,7.9 7.5,8.1 M825.6,144l-2.4,10.2 8.2,9.4 -5.4,9.4 7,9.1 1.1,12.1 8.9,5 -6.4,6.9 M755,308.3l-4.7,11.6 5.9,7.3 -3.8,9.2 7.9,9.3 -0.7,10.4 8.5,8.4 -2.4,8.5 M879.5,252.2l-7.2,7.7 3.9,8.9 -6.9,7.1 5.2,10.3 5.6,10.3 M676.8,298.5l-7.5,5.3 0.7,9.9 -7.8,8.4 1,11.8 -7.7,4.6 M761.5,249.4l-2.6,11.3 6.9,10.1 -3.5,10 9.7,7.6 -0.7,9.7 M773.5,154.8l-6.6,9.9 4.1,8.4 -5.4,8.2 5.1,7.6 M769.9,240.5l-1.6,9 8.3,6.4 -2.1,9.2 8.4,5.6 -1.6,8.5 9.3,3.9 -1.5,9.7 M707.3,252.6l-5.7,8 1.7,11.3 -8.1,6.9 3,11.2 -4,10.6 7.2,9.8 -5.4,10.6 M884.6,266.6l-6.9,8.8 4,9.2 -6.4,7.6 6.9,9.7 -5.2,9.1 M874.3,335.3l-7,8.4 8.6,8.5 -2.6,12 7.4,6.8 -5.2,7.4 5.5,8.3 -5.2,10.2 M837.7,264.4l-6.2,6.2 4.5,10 -6,8.7 -1.3,8.7 -9.3,8.3 2.2,9.7 -8.6,8.3 M732.5,275.1l-2.6,10 8.9,1.4 4.5,11.2 11,2.7 0.8,10.8 9.1,5.1 M668.9,275l-9.5,7.7 1.7,9 -9.9,5 0.1,8.5 -10.3,7.2 0.5,8.5 M714.2,254.1l6.6,9.3 7.1,-5.5 7.1,5.1 11.4,-2.9 M737.8,326.8l-8,9.2 2.6,8.4 -6.1,7.8 3.7,9.5 -5.8,10 4.6,7.6 -5.2,9.8 M653,288l-8.6,8.4 2.4,9.2 -8.3,7.9 3.3,11.6 M694.1,180.7l-1.1,8.8 8.8,6.3 0.2,9.8 7.9,2.9 -1.3,10.4 8,4.2 M706.6,333.1l-11.9,2.4 -0,9.3 -9.2,8.1 2.4,11.5 -6.2,7.2 M625.9,308.1l-3.2,8.4 6.4,9.3 -5.3,9.7 6.9,10.2 -1.8,9 M771.4,291.7l-9.3,2.1 -2.2,9.1 -7.6,3.8 -1.2,11.5 M657.1,345.7l-8.4,8 4.4,9.8 -8.9,0.3 -3.1,12 -4.9,8.1 M732.5,151.1l-8.3,9.4 0.5,9.2 -6.7,5.7 3,9 M645.6,229.6l-4.2,11.6 7.2,8.2 -5,8.2 6.9,9.7 M857.8,154.6l-5.6,6.5 -6.3,6.3 -10,-1.2 -2.4,9.5 M715.5,303l-1.7,9.6 7,6.9 -3.4,10.7 7.2,6 -4.3,8.2 5.6,6.4 -1.4,10.7 M694.8,177.1l-2.6,10.3 0.9,9.7 -6.5,6.1 2.4,9.6 M828.4,277.4l-6.8,6.2 4.8,10.9 -7,7.5 3.9,7.7 -7.4,4.9 0.4,10.8 M681.2,158l-3.8,10.2 6.3,8.7 3,9.5 11.8,2.8 1,9.5 M673,206.1l-2.2,10.7 6.7,7.7 -5,9.9 7.4,9.8 -3.6,11.4 M704.5,273.2l-4.4,9.8 4.9,7.7 -5.6,9.3 4.6,7.6 -4,9.9 6.2,10.4 M629.8,295.4l-0.4,11.9 9.4,-1.3 3,9.9 8.7,1.3 -5.8,9.6 6,10.4 M866.2,161.9l-7.6,8.7 -2.7,11.5 -8.7,3.1 0.7,9 M837.1,160.8l-3.8,7.8 7.1,9.6 -5.2,10.9 4.2,8.2 -6.5,9.4 5.2,7.6 M880.6,324.1l-8.6,6.6 2.3,11.6 -7.2,7.6 2.6,9 M702.9,318.6l-3.2,8.2 9.5,7.8 -2.1,9.9 7.6,7.7 -9.5,4.5 M637.2,209.3l-5.5,9.6 3.1,11.7 -10.7,1.7 -1.1,11.2 M714.3,217.2l-5.9,8.3 4,8.8 -4,7.7 3.8,9.6 -5,8 3.8,9.5 M879.6,208.1l-4.8,7.3 -3.8,9.7 -9.4,4.3 2.1,8.8 -10.5,-0.9 M810.6,176.9l-8.6,9.1 5.2,11.2 -2.9,9.3 5,9.2 M835.7,324.9l-2.2,12 7,5.1 -0.9,11.7 7.3,7.3 M709.5,202.7l-3.1,8.4 8.5,5.7 -1.9,8.2 6.1,7.1 M832.5,323.2l-7.8,7.2 3.7,10.4 -8.5,7.7 3.3,11.2 -6.2,5.9 3.2,11.2 M775.8,233.1l-9.8,5.3 -0,10.3 -10.2,-0.4 -2.7,8.6 -10.2,0.7 -0.6,8.6 M669,273l-4.3,8.1 4.2,8 -5.5,9.8 3.8,8 -5.1,7.3 M866.8,310.4l-8.8,7.4 -7.8,9.4 -9,2.2 2.1,8.9 -5.8,9.2 M684.7,242.2l-4.5,10.9 5.6,6.7 -7.7,9.9 4.4,9 -6.4,6.6 M856.7,185.5l-5.1,9.4 6.5,7.9 -2.5,9.5 6.5,7.6 -4.2,9.9 M751,309.3l-8.4,5.8 0.6,10 -0.3,11.8 7,5.5 -2.2,10 6.2,8.9 0.5,10.2 M665.4,338.1l-5.2,9.9 11.2,1.3 0.3,8.5 7.7,4.5 0.8,9.7 0.7,8.9 M885.1,172.8l-8.1,5.4 3.6,11.7 -6.8,5 1.3,11.5 -9.5,-0.3 -3.7,11 M634.4,276.7l-3,8.7 9.4,8.1 -3.9,11.1 7.1,7 -3.4,9.7 4.5,10.8 M865.3,166.6l-6,10.3 4.5,9.2 -1.5,11.5 8,3.6 -0.2,9 8.1,7.6 -2.2,8.7 M805.3,158.9l-3,9.7 5.3,8.2 -7.5,6.5 2.1,8.7 M647.7,155.1l-6.6,7.8 1.7,8.3 -8.5,8.4 5,10.9 -7.7,9.2 -2.2,9.5 M859.2,173l-8,9.3 7.2,9.6 -3.9,11.7 6.6,6.4 M826.7,173.4l-4.1,8.7 7.4,9.6 -4.1,10.7 5.3,8.9 -6.4,10.3 4.3,9.1 M822.7,217.2l-0.6,9.7 7.8,7.9 -2.7,9.1 1,11.3 -6.9,6.1 2.4,8.8 M647.3,292.7l-6,8.4 8.1,8.8 -3.1,8.9 3.5,7.9 -3.2,9.2 5.2,10.3 -6.4,9.8 M851.1,185.9l-0.7,9.9 7.7,4.2 -6.9,5 3.9,10.8 M869.2,208.1l-7.6,7.9 -3.2,12.1 -8,3.8 -1.8,10.4 -10,3.9 0.9,10.2 M652.7,206.3l-1.9,8.7 9.9,0.3 4.8,11.6 9.9,4.3 4.1,8.3 M707.6,156.8l-2.9,9.1 7.7,9.9 -3.1,11 5,7.3 M871.6,224.9l-4,8 6,7 -4.7,10.1 8,8.4 -4.1,9.9 8.3,8 0.6,9.1 M674.2,160.6l-6.1,7.3 5.5,10.2 -3.7,9 -3.2,8.1 -8.8,4.7 2.6,9.9 M860.8,231.1l-7.4,5.7 0.4,11.9 -7.5,6.8 3.6,11.7 -10.1,7.1 M690.5,336l-6.7,10.5 -1.4,10.3 -10.8,4.1 1.5,11.5 -9.5,6.7 M635.9,302.8l-1.8,9.2 7.8,7.1 -3.7,9.6 9.4,6.3 -3,8.7 8.3,6.2 M752.5,289.6l-6.5,7.9 2.6,11.7 -6.9,5 -5.7,9.7 -8.7,1.5 M695,182.6l-4.4,7.9 4.3,8.1 -7.5,8.1 5.1,10.9 -10.7,5.5 M852.8,211.2l-6.9,7.3 4.5,9.4 -7.2,7.5 5.8,10.8 M869.3,224.2l-7.2,8.6 6.1,10.5 -6.6,9.2 4.2,8.3 -4.4,9.1 M723.6,290.8l-6.2,10.7 5.1,10.1 -4.9,8.9 3,9.6 -5.8,9.3 M670.6,147l-3.9,9.1 8.7,7.5 -5.1,9.9 6.5,9.2 -1.4,11.9 7.7,8.8 -4.3,10.8 M706.4,210.1l-5.3,7.7 4.6,9.2 -6,6 4.2,10.4 M789.1,164.3l-9.6,7 1.7,9.5 -11.4,1.3 -3.2,9.4 M714.9,225.4l-3,10 6.6,6.7 -3.1,9.4 7.6,4 1,11.1 M742.4,189.7l-7.8,8.9 4.7,10.8 -4.6,10.7 8.8,3.6 1.1,10.4 M843.1,308.2l-8.9,7.3 1.7,11 -9.7,4.8 -7.2,9.8 M631.8,165.2l-3.7,9.4 5.2,8.1 -4.8,7.3 1.8,11.5 M681.7,194.8l-7.2,8.2 4.1,10.2 -9,7.2 4,9.8 M754,151.5l-9,5.8 -3.2,9.3 -9.5,1.8 -0.5,11.2 M703.7,338.2l-5,7.7 3.2,9.9 -7.6,8.7 3.4,7.9 -4.5,7.8 3.2,11 M654.4,245l-7.8,5.9 1.7,11.1 -10.2,5.8 3.5,10.9 -8,6.9 M865.5,296.6l-3.5,9.9 8,8 -5.2,9.7 4.9,7.9 3.4,10.3 8.4,5 M651.9,211.9l-7.9,9.5 2.8,9 -8.1,5.7 2.3,12.2 -8.8,6.2 3.4,8.4 M875.9,245.9l-2.3,8.4 5.8,8.2 -5,10.8 4.8,10.8 -5.4,7.2 3.2,9 M868.3,275.5l1.2,11.7 11.2,0.5 7.1,7.8 9.4,0.5 M804.8,250.3l-4.4,8.6 6.4,9.9 -5.1,9.9 6,6.3 M840.5,186l-6.9,5.9 3.3,11.1 -1,11.3 8,5.6 M755.7,182.7l-5.7,6.4 3.4,10.8 -6.8,7.6 3.8,10.6 M843.4,296.4l-4.5,8.4 9.2,2.5 8.2,7.8 10.4,-0.8 M681,202.4l-2.1,10 10.9,5.3 -0.3,9.2 4.6,9.1 -3,10.4 10.8,-0.3 M852.9,242.8l-6.2,10.6 6.3,10.8 -6,9.2 3.2,8.3 -4.9,8 M702.4,279.1l-4,8.9 5.3,7.4 -5,10.2 8.5,3.2 2,10.1 9.3,8.1 -2.6,9.4 M668.4,319.1l-11.1,-0.9 -4.6,8.8 -6.1,6.2 7.2,8.3 -1.8,9.1 M830.7,214.3l-2.7,8.9 5.9,7 -2.6,12.2 5.4,7.4 -4.9,11.6 8.9,6.4 -3.8,8.9 M861.1,325.8l-3.7,9.6 7.2,7.6 -8.9,1.5 -3.4,12 -10.2,7.1 2.1,9.2 -8.7,7.6 M703.8,288.9l-5,9.2 5.6,7.6 -4,8.7 10.9,5.8 -1.7,9.3 7.5,5 M636.7,186.5l-6.3,6.8 6.6,9.6 -2.7,11.2 8.9,8.1 -5,9.1 M797,177.8l-2.9,10.2 8.3,5.7 -9.8,5.6 2.5,9 -10.5,1.3 M828,341.2l-0.8,11.3 10.9,0.5 3.3,9 8.3,2.7 -0.7,8.8 M765.1,314.2l-5,10.5 7.5,4.6 -2,12.1 8.8,8.7 -2.7,9.7 -0.1,8.7 -6.6,5.9 M886.4,295l-5.4,7.9 4.8,11 -7.4,8.9 1.4,8.8 -6.9,5.9 M861.7,260.1l-8,7.2 2.2,9.3 -7.1,9.3 5,11 -7.2,7.9 3.3,10.8 -7.9,8.7 M645,184.2l-6.6,8.6 2.8,10.7 -8.1,7.1 4.8,7.2 -4.9,10.7 4.1,7.6 M749.9,339l-2.2,11.4 3.3,9.3 -6.7,6.6 -0.9,11.6 -7.9,3.6 3.9,9.6 M834.9,133.7l-5.6,9.7 6.1,9.9 -3.8,9 8.4,8.2 -5.4,7.8 12,3.1 M668.2,261.1l-5.2,8.5 8.4,4.3 -2.4,8.5 6.2,7.4 -4.9,8.9 M738.4,272.1l-2.8,8.1 8.7,7.9 -3.7,10.7 5.8,7.3 -2.5,8.1 7.5,9 -5.8,10.7 M826.3,253.1l-7.2,6.3 5.8,10.2 -7.1,5.6 4.7,10.2 M678.3,315.7l-9.8,6.7 -5.1,9.1 -8.8,0.5 -2.6,12.2 -8.1,3.5 -0.8,10.5 M886.5,193.2l-8.1,8 4,10.8 -6.6,6.1 4.5,9 -6.9,8.4 1.5,9.4 M689.4,308.6l-9.9,3.6 -2.8,8.9 -8.2,3 -5.6,10 -10.8,4.5 -0.9,9.7 -10,3.8 M697,258.2l-6.2,9.8 7.6,8.3 -2.6,8.9 8.8,8 -0.9,10.1 6.5,7.3 M647.5,143.3l-1.2,8.8 7.9,4.5 -1.4,9.4 7.5,5.3"/>
<radialGradient id="sph" cx="0.5" cy="0.5" r="0.5" fx="0.53" fy="0.42"><stop offset="0" stop-color="#66d4ff"/><stop offset="0.14" stop-color="#3aa0e2"/><stop offset="0.4" stop-color="#2b7ac6"/><stop offset="0.8" stop-color="#2467b2"/><stop offset="0.92" stop-color="#1b4f98"/><stop offset="1" stop-color="#15407e"/></radialGradient>
<clipPath id="cb"><rect x="53" y="480" width="486" height="480"/></clipPath>
<clipPath id="csil"><circle cx="326" cy="578" r="14"/><circle cx="340" cy="575" r="13"/><circle cx="312" cy="585" r="13"/><circle cx="300" cy="597" r="15"/><circle cx="322" cy="597" r="18"/><circle cx="344" cy="592" r="15"/><circle cx="262" cy="612" r="15"/><circle cx="250" cy="628" r="14"/><circle cx="268" cy="640" r="16"/><circle cx="285" cy="622" r="20"/><circle cx="310" cy="620" r="22"/><circle cx="335" cy="615" r="20"/><circle cx="347" cy="625" r="14"/><circle cx="290" cy="655" r="22"/><circle cx="315" cy="650" r="24"/><circle cx="338" cy="648" r="18"/><circle cx="262" cy="662" r="12"/><circle cx="285" cy="690" r="24"/><circle cx="310" cy="688" r="26"/><circle cx="335" cy="680" r="22"/><circle cx="355" cy="672" r="18"/><circle cx="365" cy="690" r="16"/><circle cx="372" cy="662" r="12"/><circle cx="270" cy="720" r="24"/><circle cx="295" cy="722" r="26"/><circle cx="320" cy="718" r="22"/><circle cx="350" cy="712" r="20"/><circle cx="372" cy="718" r="20"/><circle cx="388" cy="705" r="12"/><circle cx="255" cy="750" r="24"/><circle cx="280" cy="755" r="26"/><circle cx="305" cy="752" r="20"/><circle cx="362" cy="745" r="22"/><circle cx="385" cy="748" r="22"/><circle cx="402" cy="738" r="14"/><circle cx="238" cy="780" r="24"/><circle cx="265" cy="788" r="26"/><circle cx="292" cy="785" r="20"/><circle cx="372" cy="775" r="22"/><circle cx="398" cy="778" r="24"/><circle cx="418" cy="770" r="16"/><circle cx="215" cy="810" r="22"/><circle cx="240" cy="815" r="24"/><circle cx="270" cy="820" r="24"/><circle cx="295" cy="822" r="16"/><circle cx="380" cy="805" r="22"/><circle cx="405" cy="808" r="26"/><circle cx="430" cy="800" r="18"/><circle cx="195" cy="838" r="20"/><circle cx="220" cy="842" r="22"/><circle cx="250" cy="846" r="22"/><circle cx="280" cy="850" r="20"/><circle cx="298" cy="858" r="12"/><circle cx="385" cy="835" r="22"/><circle cx="412" cy="838" r="26"/><circle cx="440" cy="832" r="22"/><circle cx="462" cy="825" r="14"/><circle cx="130" cy="862" r="16"/><circle cx="150" cy="868" r="18"/><circle cx="172" cy="870" r="18"/><circle cx="195" cy="866" r="18"/><circle cx="215" cy="868" r="16"/><circle cx="240" cy="868" r="16"/><circle cx="160" cy="885" r="12"/><circle cx="185" cy="888" r="12"/><circle cx="392" cy="865" r="22"/><circle cx="420" cy="868" r="26"/><circle cx="448" cy="862" r="24"/><circle cx="470" cy="856" r="16"/><circle cx="398" cy="895" r="20"/><circle cx="425" cy="898" r="24"/><circle cx="452" cy="892" r="22"/><circle cx="474" cy="885" r="14"/><circle cx="392" cy="922" r="16"/><circle cx="412" cy="926" r="18"/><circle cx="435" cy="928" r="18"/><circle cx="455" cy="924" r="16"/><circle cx="468" cy="912" r="14"/></clipPath>
<filter id="bl2" x="-10%" y="-10%" width="120%" height="120%"><feGaussianBlur stdDeviation="2"/></filter>
<filter id="bl6" x="-30%" y="-30%" width="160%" height="160%"><feGaussianBlur stdDeviation="6"/></filter>
<filter id="bl4" x="-30%" y="-30%" width="160%" height="160%"><feGaussianBlur stdDeviation="3.5"/></filter>
<linearGradient id="gcb"><stop offset="0" stop-color="#fffff2"/><stop offset="0.25" stop-color="#fbf6a8"/><stop offset="0.5" stop-color="#f8ee3a"/><stop offset="0.56" stop-color="#fbe61c"/><stop offset="0.7" stop-color="#f8a020"/><stop offset="0.85" stop-color="#f25a28"/><stop offset="1" stop-color="#ec1c24"/></linearGradient>
<radialGradient id="p0" cx="0.4" cy="0.36" r="0.68" fx="0.34" fy="0.28"><stop offset="0" stop-color="#858dcd"/><stop offset="0.3" stop-color="#2c3aa8"/><stop offset="0.72" stop-color="#273394"/><stop offset="0.93" stop-color="#212b7c"/><stop offset="1" stop-color="#181f5b"/></radialGradient>
<radialGradient id="p1" cx="0.4" cy="0.36" r="0.68" fx="0.34" fy="0.28"><stop offset="0" stop-color="#979ed8"/><stop offset="0.3" stop-color="#4b58bc"/><stop offset="0.72" stop-color="#424da5"/><stop offset="0.93" stop-color="#38418b"/><stop offset="1" stop-color="#283066"/></radialGradient>
<radialGradient id="p2" cx="0.4" cy="0.36" r="0.68" fx="0.34" fy="0.28"><stop offset="0" stop-color="#a8afe4"/><stop offset="0.3" stop-color="#6975d1"/><stop offset="0.72" stop-color="#5c67b8"/><stop offset="0.93" stop-color="#4e579b"/><stop offset="1" stop-color="#393f71"/></radialGradient>
<radialGradient id="p3" cx="0.4" cy="0.36" r="0.68" fx="0.34" fy="0.28"><stop offset="0" stop-color="#bdc2eb"/><stop offset="0.3" stop-color="#8d96dd"/><stop offset="0.72" stop-color="#7c84c2"/><stop offset="0.93" stop-color="#686fa4"/><stop offset="1" stop-color="#4c5177"/></radialGradient>
<radialGradient id="p4" cx="0.4" cy="0.36" r="0.68" fx="0.34" fy="0.28"><stop offset="0" stop-color="#d2d5f2"/><stop offset="0.3" stop-color="#b1b7e8"/><stop offset="0.72" stop-color="#9ca1cc"/><stop offset="0.93" stop-color="#8387ac"/><stop offset="1" stop-color="#60637d"/></radialGradient>
<radialGradient id="p5" cx="0.4" cy="0.36" r="0.68" fx="0.34" fy="0.28"><stop offset="0" stop-color="#e5e5f3"/><stop offset="0.3" stop-color="#d3d2ea"/><stop offset="0.72" stop-color="#bab9ce"/><stop offset="0.93" stop-color="#9c9bad"/><stop offset="1" stop-color="#72717e"/></radialGradient>
<radialGradient id="p6" cx="0.4" cy="0.36" r="0.68" fx="0.34" fy="0.28"><stop offset="0" stop-color="#f9f4f4"/><stop offset="0.3" stop-color="#f4ecec"/><stop offset="0.72" stop-color="#d7d0d0"/><stop offset="0.93" stop-color="#b5afaf"/><stop offset="1" stop-color="#847f7f"/></radialGradient>
<radialGradient id="p7" cx="0.4" cy="0.36" r="0.68" fx="0.34" fy="0.28"><stop offset="0" stop-color="#f6e1e0"/><stop offset="0.3" stop-color="#f0cbc9"/><stop offset="0.72" stop-color="#d3b3b1"/><stop offset="0.93" stop-color="#b29695"/><stop offset="1" stop-color="#826e6d"/></radialGradient>
<radialGradient id="p8" cx="0.4" cy="0.36" r="0.68" fx="0.34" fy="0.28"><stop offset="0" stop-color="#f4cccb"/><stop offset="0.3" stop-color="#eca7a5"/><stop offset="0.72" stop-color="#d09391"/><stop offset="0.93" stop-color="#af7c7a"/><stop offset="1" stop-color="#7f5a59"/></radialGradient>
<radialGradient id="p9" cx="0.4" cy="0.36" r="0.68" fx="0.34" fy="0.28"><stop offset="0" stop-color="#f0b5b4"/><stop offset="0.3" stop-color="#e6807e"/><stop offset="0.72" stop-color="#ca716f"/><stop offset="0.93" stop-color="#aa5f5d"/><stop offset="1" stop-color="#7c4544"/></radialGradient>
<radialGradient id="p10" cx="0.4" cy="0.36" r="0.68" fx="0.34" fy="0.28"><stop offset="0" stop-color="#eda1a0"/><stop offset="0.3" stop-color="#e05d5b"/><stop offset="0.72" stop-color="#c55250"/><stop offset="0.93" stop-color="#a64543"/><stop offset="1" stop-color="#793231"/></radialGradient>
<radialGradient id="p11" cx="0.4" cy="0.36" r="0.68" fx="0.34" fy="0.28"><stop offset="0" stop-color="#ea9091"/><stop offset="0.3" stop-color="#db4041"/><stop offset="0.72" stop-color="#c13839"/><stop offset="0.93" stop-color="#a22f30"/><stop offset="1" stop-color="#762323"/></radialGradient>
<radialGradient id="p12" cx="0.4" cy="0.36" r="0.68" fx="0.34" fy="0.28"><stop offset="0" stop-color="#e78081"/><stop offset="0.3" stop-color="#d62426"/><stop offset="0.72" stop-color="#bc2021"/><stop offset="0.93" stop-color="#9e1b1c"/><stop offset="1" stop-color="#741315"/></radialGradient>
<clipPath id="cn"><rect x="555" y="513.5" width="327" height="244"/></clipPath><clipPath id="cc"><rect x="555" y="767.3" width="327" height="243.2"/></clipPath>
<linearGradient id="gent" x1="0" y1="0" x2="0" y2="1"><stop offset="0" stop-color="#ec2024"/><stop offset="0.25" stop-color="#f0666a"/><stop offset="0.5" stop-color="#ffffff"/><stop offset="0.75" stop-color="#8a8cc8"/><stop offset="1" stop-color="#3a53a8"/></linearGradient>
<filter id="pb2" x="-30%" y="-30%" width="160%" height="160%"><feGaussianBlur stdDeviation="2"/></filter>
<filter id="pb4" x="-30%" y="-30%" width="160%" height="160%"><feGaussianBlur stdDeviation="3.2"/></filter>
<filter id="pb1" x="-30%" y="-30%" width="160%" height="160%"><feGaussianBlur stdDeviation="1.1"/></filter>
<clipPath id="cp0"><polygon points="1129,235.4 1529.2,241.2 1630,113.9 1322.2,101.9"/></clipPath>
<clipPath id="cp1"><polygon points="1119.4,327.5 1522,334 1623.2,205.2 1315.4,193.2"/></clipPath>
<clipPath id="cp2"><polygon points="1103.8,408.7 1503.5,419.3 1609.6,290 1301.8,278"/></clipPath>
<clipPath id="cp3"><polygon points="1090,504.2 1489.8,513.9 1595.4,383.3 1287.6,371.3"/></clipPath>
<clipPath id="cp4"><polygon points="1076,589.4 1477.3,602.3 1584.5,470.1 1276.7,458.1"/></clipPath>
<linearGradient id="grn" x1="0" y1="0" x2="1" y2="1"><stop offset="0" stop-color="#2fd23a"/><stop offset="0.5" stop-color="#66ee5a"/><stop offset="1" stop-color="#1fa82c"/></linearGradient>
<filter id="pn4" x="0" y="0" width="100%" height="100%" color-interpolation-filters="sRGB"><feTurbulence type="fractalNoise" baseFrequency="0.045" numOctaves="3" seed="35"/><feColorMatrix type="matrix" values="1.5 0 0 0 -0.25  1.5 0 0 0 -0.25  1.5 0 0 0 -0.25  0 0 0 0 0.22"/></filter>
<filter id="pn3" x="0" y="0" width="100%" height="100%" color-interpolation-filters="sRGB"><feTurbulence type="fractalNoise" baseFrequency="0.06" numOctaves="3" seed="34"/><feColorMatrix type="matrix" values="1.4 0 0 0 -0.3  1.4 0 0 0 -0.3  1.4 0 0 0 -0.3  0 0 0 0 0.2"/></filter>
<linearGradient id="pk" x1="0" y1="0" x2="1" y2="0"><stop offset="0" stop-color="#9a2aa6"/><stop offset="0.16" stop-color="#7a1c86"/><stop offset="0.24" stop-color="#0a0a0a"/><stop offset="1" stop-color="#050505"/></linearGradient>
<filter id="pn2" x="0" y="0" width="100%" height="100%" color-interpolation-filters="sRGB"><feTurbulence type="fractalNoise" baseFrequency="0.07" numOctaves="3" seed="33"/><feColorMatrix type="matrix" values="1.2 0 0 0 -0.05  1.2 0 0 0 -0.05  1.2 0 0 0 -0.05  0 0 0 0 0.12"/></filter>
<filter id="pn1" x="0" y="0" width="100%" height="100%" color-interpolation-filters="sRGB"><feTurbulence type="fractalNoise" baseFrequency="0.06" numOctaves="3" seed="32"/><feColorMatrix type="matrix" values="1.4 0 0 0 -0.3  1.4 0 0 0 -0.3  1.4 0 0 0 -0.3  0 0 0 0 0.2"/></filter>
<filter id="pn0" x="0" y="0" width="100%" height="100%" color-interpolation-filters="sRGB"><feTurbulence type="fractalNoise" baseFrequency="0.045" numOctaves="3" seed="31"/><feColorMatrix type="matrix" values="1.5 0 0 0 -0.25  1.5 0 0 0 -0.25  1.5 0 0 0 -0.25  0 0 0 0 0.22"/></filter>
<linearGradient id="br" x1="0" y1="0" x2="1" y2="0"><stop offset="0" stop-color="#0c0c0c"/><stop offset="1" stop-color="#e01a1f"/></linearGradient>
<filter id="gb5" x="-50%" y="-50%" width="200%" height="200%"><feGaussianBlur stdDeviation="5"/></filter>
<filter id="gb35" x="-50%" y="-50%" width="200%" height="200%"><feGaussianBlur stdDeviation="3.2"/></filter>
<filter id="gb4" x="-50%" y="-50%" width="200%" height="200%"><feGaussianBlur stdDeviation="4"/></filter>
<filter id="gb8" x="-50%" y="-50%" width="200%" height="200%"><feGaussianBlur stdDeviation="8"/></filter>
<filter id="gb3" x="-50%" y="-50%" width="200%" height="200%"><feGaussianBlur stdDeviation="2.6"/></filter>
<filter id="gb15" x="-50%" y="-50%" width="200%" height="200%"><feGaussianBlur stdDeviation="1.3"/></filter>
<clipPath id="cl0"><rect x="1797" y="67.1" width="124.7" height="125.7"/></clipPath><clipPath id="cr0"><rect x="1921.7" y="67.1" width="124.8" height="125.7"/></clipPath>
<filter id="nl0" x="0" y="0" width="100%" height="100%" color-interpolation-filters="sRGB"><feTurbulence type="fractalNoise" baseFrequency="0.04" numOctaves="3" seed="1"/><feColorMatrix type="matrix" values="1.5 0 0 0 -0.25  1.5 0 0 0 -0.25  1.5 0 0 0 -0.25  0 0 0 0 0.3"/></filter>
<filter id="nr0" x="0" y="0" width="100%" height="100%" color-interpolation-filters="sRGB"><feTurbulence type="fractalNoise" baseFrequency="0.06" numOctaves="3" seed="2"/><feColorMatrix type="matrix" values="1.5 0 0 0 -0.25  1.5 0 0 0 -0.25  1.5 0 0 0 -0.25  0 0 0 0 0.15"/></filter>
<clipPath id="cl1"><rect x="1797" y="192.8" width="124.7" height="125.3"/></clipPath><clipPath id="cr1"><rect x="1921.7" y="192.8" width="124.8" height="125.3"/></clipPath>
<filter id="nl1" x="0" y="0" width="100%" height="100%" color-interpolation-filters="sRGB"><feTurbulence type="fractalNoise" baseFrequency="0.06" numOctaves="3" seed="4"/><feColorMatrix type="matrix" values="1.4 0 0 0 -0.34  1.4 0 0 0 -0.34  1.4 0 0 0 -0.34  0 0 0 0 0.13"/></filter>
<filter id="nr1" x="0" y="0" width="100%" height="100%" color-interpolation-filters="sRGB"><feTurbulence type="fractalNoise" baseFrequency="0.085" numOctaves="3" seed="5"/><feColorMatrix type="matrix" values="1.5 0 0 0 -0.45  1.5 0 0 0 -0.45  1.5 0 0 0 -0.45  0 0 0 0 0.22"/></filter>
<clipPath id="cl2"><rect x="1797" y="318.1" width="124.7" height="125.2"/></clipPath><clipPath id="cr2"><rect x="1921.7" y="318.1" width="124.8" height="125.2"/></clipPath>
<filter id="nl2" x="0" y="0" width="100%" height="100%" color-interpolation-filters="sRGB"><feTurbulence type="fractalNoise" baseFrequency="0.05" numOctaves="3" seed="7"/><feColorMatrix type="matrix" values="1.3 0 0 0 -0.12  1.3 0 0 0 -0.12  1.3 0 0 0 -0.12  0 0 0 0 0.06"/></filter>
<filter id="nr2" x="0" y="0" width="100%" height="100%" color-interpolation-filters="sRGB"><feTurbulence type="fractalNoise" baseFrequency="0.06" numOctaves="3" seed="8"/><feColorMatrix type="matrix" values="1.3 0 0 0 -0.15  1.3 0 0 0 -0.15  1.3 0 0 0 -0.15  0 0 0 0 0.08"/></filter>
<clipPath id="cl3"><rect x="1797" y="443.3" width="124.7" height="125.8"/></clipPath><clipPath id="cr3"><rect x="1921.7" y="443.3" width="124.8" height="125.8"/></clipPath>
<filter id="nl3" x="0" y="0" width="100%" height="100%" color-interpolation-filters="sRGB"><feTurbulence type="fractalNoise" baseFrequency="0.06" numOctaves="3" seed="10"/><feColorMatrix type="matrix" values="1.4 0 0 0 -0.34  1.4 0 0 0 -0.34  1.4 0 0 0 -0.34  0 0 0 0 0.15"/></filter>
<filter id="nr3" x="0" y="0" width="100%" height="100%" color-interpolation-filters="sRGB"><feTurbulence type="fractalNoise" baseFrequency="0.085" numOctaves="3" seed="11"/><feColorMatrix type="matrix" values="1.5 0 0 0 -0.45  1.5 0 0 0 -0.45  1.5 0 0 0 -0.45  0 0 0 0 0.22"/></filter>
<clipPath id="cl4"><rect x="1797" y="569.1" width="124.7" height="124.1"/></clipPath><clipPath id="cr4"><rect x="1921.7" y="569.1" width="124.8" height="124.1"/></clipPath>
<filter id="nl4" x="0" y="0" width="100%" height="100%" color-interpolation-filters="sRGB"><feTurbulence type="fractalNoise" baseFrequency="0.04" numOctaves="3" seed="13"/><feColorMatrix type="matrix" values="1.5 0 0 0 -0.25  1.5 0 0 0 -0.25  1.5 0 0 0 -0.25  0 0 0 0 0.3"/></filter>
<filter id="nr4" x="0" y="0" width="100%" height="100%" color-interpolation-filters="sRGB"><feTurbulence type="fractalNoise" baseFrequency="0.06" numOctaves="3" seed="14"/><feColorMatrix type="matrix" values="1.5 0 0 0 -0.25  1.5 0 0 0 -0.25  1.5 0 0 0 -0.25  0 0 0 0 0.15"/></filter>
</defs>
<text x="12" y="42" font-size="42" font-style="italic" >а</text>
<text x="71.5" y="57" font-size="36" textLength="198" lengthAdjust="spacingAndGlyphs" >ДМФХ (14:0)</text>
<text x="321" y="58.5" font-size="36" textLength="267.5" lengthAdjust="spacingAndGlyphs" >ПОФХ (16:0/18:1)</text>
<text x="646" y="58.5" font-size="36" textLength="189" lengthAdjust="spacingAndGlyphs" >ДЭФХ (22:1)</text>
<rect x="55" y="78" width="245" height="366.5" fill="url(#ga0)"/>
<g clip-path="url(#ca0)" fill="none" stroke-linecap="round" stroke-linejoin="round">
<path d="M87.1,175.5l2.2,-8.9 -5.8,-4.5 M287.9,197.2l-7.7,0.4 1.4,10.1 -6.1,8 M145.7,193.2l2.8,9.6 9.3,-4.8 7.3,7.5 10.4,-2.5 M205.3,187.1l0.6,-9.1 -0.2,-7.4 6.3,-6.1 2,-8.5 M276.4,190.7l-4.7,6.9 4.1,8.8 -9.8,3.3 6.6,7.3 M141.1,175.6l2.9,9.3 8.5,-1.7 1.8,8.7 7.5,6.7 M272.6,157.6l8,-0.3 6.3,-7.4 M237,157.1l-9.1,-1.6 -1.9,8.5 -8.6,-1.2 M116.4,186.8l-3.8,6.1 10,1.7 M125.1,173.2l2.1,10 8.7,-1.4 6.2,3.8 4.5,-6.3 M277.2,155.6l9.1,3.7 6.8,-6.5 3.5,8.1 8.9,-1.4 M216.1,161l-6.7,-7.1 -5.9,6.5 M55.1,162.3l5,-8.9 -6.8,-6.2 M87.4,196.8l8.9,-5 -8,-6.1 0.1,-10 M138.8,157l-2.1,8.6 1.7,8.8 M175.6,197.5l3,-10.2 -0.9,-9.2 8,0.6 -0.3,-8.3 M274.8,186.1l-1.2,9.9 1.1,7.4 -1.8,9.4 1.7,10.3 M91.4,188.2l0.3,9 7.4,2.6 8.7,5.8 6.3,-5.1 M268.4,163.2l-7.3,5.1 -3.4,10.1 -7.7,5.3 -1.7,7.2 M217.3,189.6l-7.1,-4.5 -9.9,-1.2 -6.1,-4.5 M103.9,158.9l10.3,2.4 5.8,-5.7 M137.8,170.6l7.1,-4.8 -3.6,-10 5.9,-7.7 -6.1,-7.3 M296.2,176.6l7.4,-5.1 -5.1,-8.5 6.5,-3.7 M206.1,162.4l-1.9,-9 -7.5,-6.1 5.9,-6.4 M164.9,187.1l8.5,-5.7 -0.4,-10.2 1.5,-10.3 M246.5,198.4l4.4,-8.9 -2.1,-8 3.2,-9.5 -6.5,-4.1 M180.1,158.1l-5.3,8 0,9.4 -10.6,0.4 -1.3,10.7 M148.7,168.3l1,8.9 7.9,-5.2 7.6,0.4 8.1,-0.7 M60.1,159.6l9.7,4 10.7,-1.4 1.9,9.7 7.9,-2.2 M214.4,196.6l-5.8,7.5 7.7,4.4 -2.4,7.7 M276.3,187l-3.6,8.6 8.2,4.7 -1.3,8.6 M237.3,186.7l-0.1,-10.8 -6.1,-4.6 2.3,-7.6 M65.7,186.8l-6.8,-3.3 -6.3,5.4 -3.5,-9.2 -8.8,-1.1 M71.4,169.5l7.5,6.6 9.4,-3.7 1.3,9.3 7.7,1.5 M62.8,189l7,-4.7 3.9,-9.7 M272.3,175.6l-5.3,-6.8 -7.3,4.5 -5.6,-5.4 -7.5,0.3 M210.6,158.1l7.4,-7.4 -1.6,-7.7 10.1,-2.6 M245.7,195.3l5.3,8.9 9,2 1.6,9 M168.6,193l3.1,7.6 8.1,4 M214.1,179.7l5.5,6.5 6.4,-4.6 9.3,3.3 M164.7,160.6l8.8,0.8 7.2,-6.4 7.1,3.3 6.4,-4.7 M224.7,178.4l9.3,-4.4 7.5,-6.5 7.9,-2.7 M94.5,195.5l-2.8,-9 -10,-3.1 M264.9,162.1l10.7,-0.4 1.7,-7.9 M192.8,186.3l9.7,0.5 4.9,-5.5 6.1,5.9 8.5,-1.5 M143,177.9l4,-9.8 -8.9,2.3 M269.5,157.2l9.2,3.6 2.2,-7.3 M147.2,178.6l3.3,7.9 7.8,0.2 -2.9,9 6.8,3.6 M173.7,192.9l-3.2,9.7 6.8,3.6 M63.1,196.3l4.9,-6.1 -0.7,-9.2 -0.5,-10.1 -8.7,-1.4 M131.4,197.2l-7.4,5.7 0.4,7.6 -0.9,8.8 6.3,3.8 M295.9,190.7l7.7,-5 1.4,-8.4 5.1,-9.3 -4.2,-9.1 M113.9,383.2l8.3,5.7 5,-7.9 M252.2,380.7l4.7,6.2 5.1,-5.5 M74.4,393.4l9.4,-3.3 -4.7,-9.5 9.3,1.4 M259.2,393.2l-0.7,7.7 7.5,4.5 M152,404.9l8,-5.3 0.1,-8.7 6.2,-4.9 M103.8,414.8l7.7,-2.2 -4.6,-6.8 M100.9,385.3l-2.1,8.4 5.9,5.6 4.1,6.5 6.7,2.8 M122.3,385.6l8.3,1.6 6.2,-7.8 6.7,-3.8 0.9,-9.7 M238.4,391.5l9,-3.1 0.5,-10 M178,385l-3.6,-9 -7.3,3.4 -6.6,-7 -8,5.1 M206.8,402.5l-1.9,7.7 8.6,4.9 4.9,7.5 8.7,4.8 M245.5,407.2l4.2,9.7 10.2,-0.1 M301.2,380.5l-7.9,-2.2 -1,7.3 M279.5,413.7l-0.3,-7.4 -5.7,-8.9 7.1,-2 M247.1,382.8l-6.1,5.5 -6.3,8.7 -9.4,0.8 M164.5,388.6l4.8,8.9 6.6,6.9 2.4,7 M280.7,407.5l-6.2,4 2.6,8.4 M242.9,379.1l5.5,-9.2 -4.6,-6.5 M161.5,396.5l-6.3,-7.3 -6.4,5.5 M98.6,398.8l9.8,0.6 7.2,-4.8 M105.9,413.8l-3.9,8.2 7.8,0.2 M301.2,412l9.6,-3.2 7.5,-6.4 M64.4,378.7l-8.3,4.5 -8.8,5.9 M174.1,405.8l-8.1,-4.7 -7.6,7.3 -7.8,-0.6 -6.5,8.3 M126.1,399.2l8.3,-0.2 -3.6,-7.3 2.1,-6.9 -7.9,-6.1 M165.4,378.5l-8.5,-5.5 -6.3,3.6 -7.8,3.3 M229.9,377.1l-9.5,-3.3 -0.3,9.9 M193.5,404.8l-2,-10.1 -10.6,1.9 -6,-6.7 -5.6,-8.9 M286.3,399.5l3.1,-9.1 0.1,-8.5 8.5,2.6 M75.4,390.8l-1,8.3 7.9,-0.2 3.6,10 M75,381.7l0.4,7.4 9.5,4.5 M145.6,381.3l-8.1,4.7 -6,6.2 -5,-6.3 -9.2,-2.2 M194.9,416.1l-6.4,-6 -6.5,3.9 M133.3,412l9.1,1.9 -3.9,-7.2 M271.5,387.3l6.2,6.9 10,-1.2 7.6,7.2 8,-5.6 M131.4,381l7.6,1 10.5,-0.3 6.8,2.4 0.8,-10.3 M227.7,397.9l-7,-3 -7.8,-3.9 M63.5,384.6l-7.9,1.4 0.9,8.5 -6.4,-4.4 M240.6,399l5.1,8.4 7.8,2.7 1.1,8.5 6.9,-3.9 M53.9,387.4l3.1,6.7 6.6,5.3 M97.9,390.7l7.8,-0.7 7.1,-7.4 10.5,0.6 M128.6,399.3l3.7,8.5 6.1,-3.9 8.1,3.6 M96.8,400.9l9,5.2 7.9,-4.2 -0,8.9 7,4.1 M264.3,414.4l2.5,9.6 6.6,8.3 M271.3,376.2l-4.5,8.4 1.1,7.9 M86.3,407.6l-2.9,-7.4 -8.9,-4.1 M205.8,396l-5.4,5.1 2,8.2 -10,3.2 -7,7 M220.2,407.1l-3.1,6.8 7.5,0.8 6.6,3.5 M207.6,378.8l-10,3 -0.9,9.7 -7.4,0.6 M138.3,398.9l-9.5,-4.4 -4.8,7.3 -7.7,-2.2 2.5,8.4 M152.4,403.2l7.5,-7.6 -2.7,-9.1 M139.5,412.3l-10.1,-0.8 -3.5,8.3 -7.1,6.1 4.6,6.7" stroke="#df8c8c" stroke-width="2.8" opacity="0.5"/>
<path d="M266.3,188.4l2.6,-5.4 M117.9,173l0.4,-6 M92.8,184.4l0.9,5.9 M260.3,179l-1.4,-5.8 M181.2,173.1l-4.9,3.4 M273.5,189.4l-5.9,-0.9 M91.8,194.4l-4.9,-3.5 M61.2,191.9l-6,0.6 M241.2,174l-1.2,-5.9 M269.1,188.8l2.7,5.3 M244.1,174l3.9,4.5 M248.8,170.8l-0.9,5.9 M294.5,179.2l-5.3,-2.7 M294.2,186.2l5.1,-3.2 M215.2,188.7l1.7,-5.7 M259.3,184.8l5.6,-2.3 M220.8,176.3l-3.7,-4.8 M270.4,173.5l-2.2,5.6 M274.1,176.6l5.9,1.1 M89.6,175.9l-2.3,-5.6 M58.1,180.7l5,3.4 M117.2,181l-3.9,-4.6 M241.9,178.3l-5,3.3 M258.5,170.5l1,-5.9 M237.5,189.4l5.8,-1.4 M146.6,183.2l-0.4,-6 M68.3,173.7l-5.1,-3.1 M206.9,185.6l-2,-5.7 M116.2,172.3l-0.2,6 M213.6,185.5l-0.7,-6 M126.5,181.6l6,0.4 M118.7,194.6l2.6,-5.4 M293.1,187.9l-4.1,4.4 M279.3,177.8l-4.2,-4.3 M139.2,187.1l-6,0.4 M222.3,194.1l-6,0.7 M83.8,187.1l-3.7,4.7 M115,174.6l-5.9,-1 M246.6,169.9l-0.6,6 M206.8,193.9l3.8,-4.7 M135.9,402.1l4.1,4.4 M204.3,387.8l1.7,5.8 M243.7,382.7l6,-0.3 M165.3,393.9l-4.7,-3.8 M284.2,386.9l5.4,-2.7 M235.1,400l2.9,-5.3 M65.7,381.6l0,6 M287.5,388.6l3,-5.2 M288.2,393.6l5.2,2.9 M168.9,397.2l4.4,4.1 M151.9,401.7l-3.8,-4.6 M226,397.4l5.9,1.1 M205.6,398.5l-5.9,1.2 M77,387.7l-4.2,-4.2 M227.4,390.5l-0.1,6 M137.4,379.6l3.6,4.8 M84,401.8l-0.8,-5.9 M176.5,379.2l1.3,-5.9 M106.6,390.9l-5.8,1.4 M100.8,380l1.2,-5.9 M79.7,398.6l5,3.4 M229.4,400.2l-4.7,-3.7 M223.8,395.9l4.3,4.2 M199.5,383.7l3.3,-5 M191.6,399.3l-5.9,0.9 M77.2,378l-4.1,-4.4 M126.8,396l-3.3,5 M80.9,391.1l-1.7,5.7 M291.3,399.4l-5.8,1.6 M117.5,393.2l5.6,-2.2 M166.8,377.6l-2.9,5.2 M113.3,395l2.8,5.3 M83,399l-0.6,6 M277.3,402.4l4.1,4.4 M241.1,399.7l-3.9,4.5 M134.7,385.9l4.6,3.9 M81.3,387.6l2.4,-5.5 M265.6,379.4l5.7,2 M74.1,385.1l4.6,-3.9 M297.9,386.9l6,-0.5" stroke="#e05a50" stroke-width="2.8" opacity="0.42"/>
<path d="M228.9,153.3l0.6,4.5M228.9,153.3l-4.1,-1.8M228.9,153.3l3.6,-2.7 M67,155.8l4.5,0.5M67,155.8l-2.7,3.6M67,155.8l-1.7,-4.1 M88.9,176.7l3,3.3M88.9,176.7l-4.4,0.9M88.9,176.7l1.4,-4.3 M168.6,153.4l2.4,3.8M168.6,153.4l-4.5,0.1M168.6,153.4l2.2,-3.9 M220.8,171l3,3.4M220.8,171l-4.4,0.9M220.8,171l1.4,-4.3 M244,180.2l2.2,3.9M244,180.2l-4.5,-0.1M244,180.2l2.3,-3.9 M250.6,162.7l4.1,1.8M250.6,162.7l-3.6,2.7M250.6,162.7l-0.5,-4.5 M91,171.9l0.5,4.5M91,171.9l-4.1,-1.8M91,171.9l3.6,-2.7 M271.2,152.5l3.7,2.6M271.2,152.5l-4.1,1.9M271.2,152.5l0.4,-4.5 M170.1,153.4l-2,4M170.1,153.4l-2.5,-3.7M170.1,153.4l4.5,-0.3 M295.4,184.2l-2.1,4M295.4,184.2l-2.4,-3.8M295.4,184.2l4.5,-0.1 M107.2,186.7l1.1,4.4M107.2,186.7l-4.3,-1.3M107.2,186.7l3.3,-3.1 M177.8,171.9l2.9,3.5M177.8,171.9l-4.4,0.7M177.8,171.9l1.6,-4.2 M106.3,187.9l-1.7,4.2M106.3,187.9l-2.8,-3.5M106.3,187.9l4.5,-0.6 M202,157.5l-0.2,4.5M202,157.5l-3.8,-2.5M202,157.5l4,-2 M117.2,396.8l2.2,3.9M117.2,396.8l-4.5,-0.1M117.2,396.8l2.3,-3.8 M167.7,404.4l0.8,4.4M167.7,404.4l-4.2,-1.6M167.7,404.4l3.5,-2.8 M197.7,399.3l-4.4,0.9M197.7,399.3l1.4,-4.3M197.7,399.3l3,3.4 M237.1,387.1l-2.1,4M237.1,387.1l-2.4,-3.8M237.1,387.1l4.5,-0.2 M107,400.4l-2.3,3.9M107,400.4l-2.2,-3.9M107,400.4l4.5,0.1 M98.8,390.3l-2.1,4M98.8,390.3l-2.4,-3.8M98.8,390.3l4.5,-0.1 M227.5,423.1l3.5,2.8M227.5,423.1l-4.2,1.6M227.5,423.1l0.7,-4.4 M201.7,419.7l-1.4,4.3M201.7,419.7l-3,-3.4M201.7,419.7l4.4,-0.9 M200.9,423l1.1,4.4M200.9,423l-4.3,-1.3M200.9,423l3.3,-3.1 M171.5,420.9l-4.5,0.3M171.5,420.9l2,-4M171.5,420.9l2.5,3.7 M277.6,417.2l-3.8,2.3M277.6,417.2l-0.1,-4.5M277.6,417.2l3.9,2.2 M217.6,398.5l-0.2,4.5M217.6,398.5l-3.8,-2.4M217.6,398.5l4,-2 M90.2,403l2.7,3.6M90.2,403l-4.5,0.5M90.2,403l1.8,-4.1 M296.2,412.2l2.8,3.6M296.2,412.2l-4.5,0.6M296.2,412.2l1.7,-4.1 M161.4,416.5l-0.9,4.4M161.4,416.5l-3.3,-3M161.4,416.5l4.3,-1.4" stroke="#5a78d6" stroke-width="2.2" opacity="0.6"/>
<path d="M252,177.7l1.3,4.8M252,177.7l-4.9,1.2M252,177.7l-1.5,-4.8M252,177.7l4.8,-1.4 M195.5,181.5l0.3,5M195.5,181.5l-5,0.2M195.5,181.5l-0.5,-5M195.5,181.5l5,-0.4 M272.8,180.6l0.9,4.9M272.8,180.6l-4.9,0.7M272.8,180.6l-1.1,-4.9M272.8,180.6l4.9,-1 M196.1,166l-4.1,2.8M196.1,166l-2.7,-4.2M196.1,166l4,-3M196.1,166l2.9,4.1 M183.4,169.4l-2.1,4.6M183.4,169.4l-4.5,-2.2M183.4,169.4l1.9,-4.6M183.4,169.4l4.6,2 M122.2,178.4l-4.9,0.7M122.2,178.4l-0.6,-5M122.2,178.4l4.9,-0.9M122.2,178.4l0.8,4.9 M196,171.4l-1.2,4.8M196,171.4l-4.8,-1.4M196,171.4l1,-4.9M196,171.4l4.9,1.2 M124.3,181.5l-4,3M124.3,181.5l-2.9,-4.1M124.3,181.5l3.9,-3.1M124.3,181.5l3,4 M278.2,167.3l3.3,3.7M278.2,167.3l-3.8,3.2M278.2,167.3l-3.5,-3.6M278.2,167.3l3.7,-3.4 M281.4,390.7l-4.3,2.5M281.4,390.7l-2.3,-4.4M281.4,390.7l4.2,-2.7M281.4,390.7l2.5,4.3 M194.4,391.7l-5,0.3M194.4,391.7l-0.2,-5M194.4,391.7l5,-0.5M194.4,391.7l0.4,5 M245.8,395.2l-5,0.7M245.8,395.2l-0.5,-5M245.8,395.2l4.9,-0.9M245.8,395.2l0.7,4.9 M272.9,412.3l-0.9,4.9M272.9,412.3l-4.9,-1M272.9,412.3l0.7,-5M272.9,412.3l4.9,0.8 M283.6,395.7l4.6,1.8M283.6,395.7l-2,4.6M283.6,395.7l-4.7,-1.7M283.6,395.7l1.8,-4.7 M232.3,408.4l3.1,3.9M232.3,408.4l-4,3M232.3,408.4l-3.2,-3.8M232.3,408.4l3.9,-3.1 M111.7,387l2.2,4.5M111.7,387l-4.5,2.1M111.7,387l-2.4,-4.4M111.7,387l4.4,-2.3 M289.9,393.3l4,3M289.9,393.3l-3.1,3.9M289.9,393.3l-4.1,-2.8M289.9,393.3l2.9,-4 M187.8,410.5l-4.4,2.4M187.8,410.5l-2.3,-4.4M187.8,410.5l4.3,-2.6M187.8,410.5l2.5,4.3" stroke="#f09a3a" stroke-width="2.2" opacity="0.6"/>
<path d="M174.9,243.2l-12.5,-0.2 -2.3,10.1 -9.5,4.5 2,10.5 -8,3.5 -2.3,10.2 M244.2,351.2l-8.1,2.4 -3.5,8.4 -9.1,-3.4 -5.6,8.3 -9.1,-0.8 M304.9,315.2l-8.2,2.1 -4.3,10.9 -10,-1.7 -9.6,4.7 M104.2,248.5l-4.6,7.2 7.4,9.6 0.6,10.3 10.3,3.3 8.1,5.4 M202.9,213.7l-3.1,10.6 2.4,9.2 -4.3,7.5 8,8.5 -8,5.8 2.7,11 M257.5,290.9l-9.6,5.3 -6.4,10.2 -7.5,7.1 2,10.7 -4.9,10.3 M172.2,325.6l3.5,12.1 7.7,6.3 -1.5,10.1 9.5,8.3 M258.5,238.6l-2.3,11.4 7.6,9.6 -2.1,9 6.5,6.3 M303.9,196.9l-8.7,4.6 5.4,10.9 -10.5,0 -3.7,8.3 -9.6,6.5 -0.1,10.7 M139.3,329.7l-4.8,11.3 6.3,6.5 7.4,8.1 8.8,0.3 8.5,2.9 M130.6,208.5l-5.3,11.4 8.5,6.4 -2.5,9.2 6.9,9.6 -2,8.3 M133.7,218.4l-9.1,6.9 -0.2,11.4 -7.9,4.3 3.7,9.3 -9.1,6.6 7.2,7.1 2.2,9.9 M112.6,259.1l0.3,9.3 8.1,3.9 -3.3,11.2 0.1,8.6 -8.2,8.2 2.5,8.6 M233.9,272.1l-7.6,5.1 3.1,10.4 -1,9.8 12.1,1.5 M288.9,250.9l-0.4,11 11.3,0.8 10.9,1.7 5.3,-7 M174.2,184.9l-9.7,-2.5 -5,9.9 -8.2,5.7 -0.4,8.9 -8.9,-0.8 M206.1,208.9l-12.1,-0.6 -8.1,2.3 -8.3,-4.9 1.8,11.5 -1.4,9.9 M130.4,314.2l-6.6,6.1 -1.3,8.7 -10.9,-6.1 1.1,9.1 -8.5,4.4 2.6,10.8 -8.4,4.3 M182.1,264.7l-11,-5.4 -7.1,4.7 -3.9,-8.1 -8.8,6.6 -8.2,-1.9 M314.7,201.8l-9.5,5.5 -3.4,12.1 -8.4,-5.5 -6.7,6.2 -8.9,-1.7 -3.4,8.3 -9.9,-1.3 M211.5,265.7l-10.1,6 2.5,9.5 -0.4,11.1 8.5,8.9 M72.9,343l-2.2,11.5 7.3,6.9 -2.2,11.7 4.7,8.6 1,10 10.4,3.8 1.3,9.4 M171.5,341.6l2.6,11.6 8.8,2.2 1.2,10.3 9.7,5.8 -2,9.2 9.1,7.1 -3.4,9.1 M287.3,270.3l1.9,9.6 10.9,0.3 4.1,8 9.9,2.4 4.4,10.8 M220.5,239.7l-7.1,9.5 3.6,10.6 -3,10 10.9,4.1 0.1,9.7 6.6,10.2 M165.2,303.3l-11.3,-1.8 -6.8,7.8 -7.5,6.2 1.8,11.2 1.2,11.7 7.1,6.4 -3.5,12 M96.7,323.2l-8.6,6.9 1.6,10.6 -9.3,7.1 6.8,5.1 -8.1,4 -3.9,7.8 -7.9,-3.9 M177.7,177l4.9,10 12.1,2.8 0.7,12.1 10.1,-5.9 8.8,8.8 11.6,2.7 M134.8,193.7l-6.1,8.3 8.8,5.6 -4.2,10.3 10.1,7.4 -0.8,8.6 M280.4,281.3l-0.6,8.8 8.4,0.8 8,4.2 6.3,-6 10.2,-2.2 10.4,-6.4 9.2,6.3 M76.1,265.8l-9.9,4.4 2.6,9 -5.9,7.8 11.8,3.2 0.3,11.1 M255.5,223.2l0.2,10.9 12.2,-3 2,9.3 8,2.6 M220,283.4l-2.6,8.3 6.1,6.7 -1.1,8.4 8,7.2 M165.6,292.3l1,8.7 12.2,-0.5 2.4,9.2 10,6.9 M290.6,316.7l-6.9,4.8 4.5,8.3 -5.7,8.2 3.3,9.4 -1.7,8.7 M101.5,210.1l-0.7,11.3 9.6,-1.7 3.7,9.1 8.2,4.2 -1.1,12.3 M80.6,253.3l-1.4,12.1 2.9,9.3 -5.9,8 8.6,1.8 9.4,4.7 9.3,5.6 M213.2,287.1l0.4,10.9 11.1,2.4 -4.1,7.5 8.1,4 -0.8,10.5 7,5.3 -5.2,6.7 M260,339.3l1,10.5 0.6,12.1 -2.6,10.7 7.9,4.2 M288.7,239.7l-6.1,5.8 4,10.9 -6.3,9.3 1.1,11.6 -8.1,8.9 3,8.7 -6.3,8.6 M174.2,285.3l3.7,10.8 11.4,-2.8 6.8,9.6 11,-2.4 0.5,10.1 M199.4,273.6l-3.6,11.6 7.4,7.9 2.9,10.4 10.6,-4.4 -2.5,8.3 6,8.1 -4.3,9 M162.1,321.5l0.4,9.1 7.1,6.3 -3,8.1 6.9,8.2 -9.5,7.1 3.4,11.2 -7.7,9.2 M192.4,239l2,9 9.4,6.1 0.4,11.3 9.5,-1.2 M220.9,255l1.1,10.5 11.2,5.5 3.8,8.7 9.1,-1.1 M325.4,338l-9.4,6.3 9.1,6.1 -2.8,11.5 0.1,8.7 -8.6,7.4 1.5,12.2 M216.7,210.5l6.8,6 10.2,-0.1 2.2,12 4.1,9.9 -4,8.2 M185.1,278l-7,6.2 0.9,9.7 -12.5,-1.2 -2.7,11.7 M62.5,300.8l-1,9.2 11.5,2.6 1,11.2 4.6,10.4 -5.1,6.8 5.6,8 -4.1,9.5 M242.7,323.2l-9.4,0.1 -3.7,12 -8.9,-2.4 -5.8,7.1 M50.8,237.3l-1,11.3 7.9,4.7 -1.2,10.9 8.6,6.2 -6.2,6.5 4.7,10.3 -7.3,4.8 M225,196.6l-11.3,4.5 0,11.5 -8.6,8 6.8,7.5 -7.7,4.4 M104.2,225l-8.3,-9.3 -8.5,7 -10.4,-3.2 -9,4.1 -6.5,-6.1 M101.9,301.3l-4.6,11.2 7.3,10 4.3,11.4 8.3,2.4 6.3,7.7 11.5,-1.3 M94.7,185.4l-8,6 -6.7,7 -8.3,1.8 5.3,9.9 -7.6,9.9 M65.2,331.9l-5.2,9 4,7.9 -6.7,9.9 4.5,11.7 M271,224.3l5.9,10.1 9.3,-4.7 8.5,8.2 9.5,-2.3 M148.1,296.3l-9.5,3.6 -6.6,6 -7.5,5.8 1,12.4 -7.7,5.6 1.7,9.8 -8.2,7.2 M237.1,299.4l-8,3.6 -1.2,9.3 -6.8,7 -3.6,8.1 -7.5,7.5 2.3,9.9 -8.9,3.7 M267.9,261.4l-8.3,8.7 5,9.4 -11.7,3.5 -0.6,11.4 -9.3,7 5,9.7 M88.6,239.4l-7.2,10.1 9.6,6.6 -1.5,8.5 8.2,7.8 -11.4,3.6 -9.9,6.8 M138.6,228l-4.9,11 2.4,9.6 -10.2,0.5 -4.8,8 -9.8,-0.7 -1.3,8.4 -7.7,7.5 M79.7,200l-9,0.7 -3.6,10.3 -5.1,8.5 2.1,10.8 -8.6,3.1 M83.3,294.9l4.6,9.4 7.1,10.2 -5.6,10.7 1.6,9.9 -11.9,-3 M128.9,334l-6.5,10 1.5,10.6 -7.1,7.5 6.6,8.3 -5.2,7 -5.8,10.5 -10.8,2.1 M82.8,280.3l-9.8,-2.4 -5.8,7.6 -12,1.5 -10,3 -11.8,-2.6 -0.8,12.3 M152.4,296l-10.5,3.1 -4.2,10.3 -12.3,1.7 -2.8,12.2 M248.2,192.7l1.3,9.7 10.4,2.8 1.4,9.8 6.9,8.4 -3.5,8 M79.8,196.2l9.9,3.6 10.3,2.7 4.2,8.8 9.3,1.4 2.1,9.2 8.9,-1.7 M155.9,243.5l1.9,8.9 8,4.7 -1.3,9.9 9.4,7.6 -9.2,7.7 M113.8,349.1l5,7 10.7,-1 5.5,7.7 8.7,2.2 2.2,9 5.5,8.8 M288.6,266.2l-10.9,0.7 -3.2,11 -7,8.9 -5.8,6.4 -6.4,7.2 -1.2,11 -9.4,-5.4 M40,217.9l-2.8,9.6 8.5,7.2 -7.7,6.7 5.7,10.7 -3.1,11.3 5.8,7 M264.8,204.7l7.7,4 10.5,-1.7 9.9,4.7 8.2,-3.9 M234.6,333.2l-12.5,0.1 0.8,10.5 -12.2,1.3 -4.9,10.7 -11.5,-2.8 M146.5,186.4l-7.6,-3.7 -6.1,10 -11.4,-1.8 -6.7,8.5 -8.2,1.7 -1.8,11 M153.4,214.7l0.5,8.4 5.7,10.9 -11.5,2.6 0,11.3 -8.5,7.1 2.5,8.8 M206.4,185.3l5.8,8.5 6.4,-6.7 8.5,4.3 9.8,-6.3 8.6,5.7 9.6,-7.3 8.9,6 M164.2,261.4l7.8,9.1 6.6,-5.6 7,6.7 11.1,0.9 -0.1,11.2 9.4,4.8 -3.1,10.3 M89.7,312.4l-8.8,0.3 -3,8.4 -9.3,4.6 4.9,7.6 -7.8,9.6 5.2,7.4 -9.7,1.5 M254.1,320.2l-6.4,8 6.4,8.9 -6.1,10.4 7.4,8.5 -6,10.1 3.9,7.8 M95.3,238l-4.5,11 0.9,8.4 -9.1,-0.1 -3.3,9.6 -8.8,3 M206.9,233.8l-10,6.7 -7.8,6.8 -10.9,0.3 1.2,9.9 -5.6,10 8.6,2.8 M277.6,300.5l-10.4,5.1 -6.6,6.5 -10.2,5.7 -0.1,10.4 -2.2,11.5 M55,271.7l-5,10.8 0.7,8.9 -12.3,-0.9 6.7,7.6 M208.3,312.8l-12,1.1 -8.3,2.6 -4.9,-7.4 -12,-1.9 -8.5,-1.7 M145,253.1l-10,6.7 6.1,6.2 -3.8,8.4 6.5,7.7 -4.1,7.5 5.3,8 M50.2,289.9l4.2,9.3 9.5,5 0,9.4 8,3 2.4,8.7 8.2,3.9 M112.6,281.2l-0.9,11.7 8.4,3.4 -7.8,8.9 9,1 2,10.6 2.4,9.3 M265.5,337l-4.2,11.2 8.6,6.3 -2.1,9.3 8.9,2.4 -1.2,10.6 6.3,7.7 -2.3,11.8 M179.8,190.5l0.7,8.7 12.1,2.8 -4.2,10.7 6.5,6.1 -8.9,8.6 5.6,7.8" stroke="#df8c8c" stroke-width="3" opacity="0.38"/>
</g>
<g clip-path="url(#ca0)">
<polygon points="128.1,191.7 107.9,206.3 232.9,379.3 253.1,364.7" fill="url(#gc00)"/>
<ellipse cx="118" cy="199" rx="5.2" ry="12.5" transform="rotate(54.2 118 199)" fill="#48c850"/>
<ellipse cx="243" cy="372" rx="5.2" ry="12.5" transform="rotate(54.2 243 372)" fill="#2aa834"/>
<polygon points="168.8,182.4 145.2,195.6 251.2,384.6 274.8,371.4" fill="url(#gc01)"/>
<ellipse cx="157" cy="189" rx="5.7" ry="13.5" transform="rotate(60.7 157 189)" fill="#48c850"/>
<ellipse cx="263" cy="378" rx="5.7" ry="13.5" transform="rotate(60.7 263 378)" fill="#2aa834"/>
<path d="M153.7,267.7l-3.5,-3.8 -3.9,4.4 -6.4,-2.5 -5.3,4.8 M167.3,248l2.7,-4.9 -4.7,-1.2 M184.8,310.6l-5,-1.4 -5.9,2.7 -4.3,-3.6 -4,4.2 M206.4,340.6l-5.8,3.6 0.4,6 -4.7,1.8 -4.3,3.6 M215.3,314.5l3.1,-4.4 -4.1,-5 4.7,-4.4 -1.4,-6.1 M156.9,233.6l4.1,3 6.2,-1.8 3.6,4.2 M205.9,301.4l7.1,-0.7 -4.5,-4.7 7,-0.3 M170.7,252.8l6.8,0.5 5.8,-3.8 6.3,1.2 M241.1,350.2l5.7,-0.7 0.7,-6.7 5.9,-0 3.7,-5.4 M174.3,296.1l-6.1,0.9 -2.7,5.4 -4.7,1.7 -2.1,5.5 M127.7,231.6l-6.5,1.6 -1.6,7 -3.2,5.6 M233.2,339.2l4.1,3.9 4.4,-4.5 5.2,2.5 -0.2,-5.9 M160.6,238.7l2.6,5.5 3.5,-5.4 4.9,-1.2 2.4,-6.7 M247.7,375.5l-5.9,2 -6,4 M168.8,234.9l-3.2,-5.8 -4.7,2.5 -5.9,-3 M216.9,320.7l-5.6,0.6 -1.3,6.8 M163.1,224.7l-3.6,-5.7 -4.4,2.1 -6.6,-2.1 -6.8,1.4 M233.4,300.4l5.3,-0.1 1.6,-5.8 7.2,-0.1 M195.4,282.3l-6,3.2 -1.8,4.7 M225.5,286.3l5.2,-2.9 -1.4,-6.3 6,1.2 2.4,-4.9 M205.7,250.9l4.8,-1.2 2.3,-6.6 6.3,-0.9 M212.1,262.5l5.6,-2.2 -3.6,-5.1 M189.7,222.5l4.6,5.3 5.9,-3.1 -0.6,6.6 M185.3,214.6l5.9,1.8 3.3,-4.9 6.1,0.8 4.1,-3.1 M222.2,330.2l-5.1,3.5 1.9,4.8 -6.5,-0.3 M206.6,252.6l6.8,-1.1 5,-4.6 4.8,3.5" stroke="#2fbf3a" stroke-width="2.6" fill="none" stroke-linecap="round" stroke-linejoin="round"/>
<path d="M130.7,194l8.2,-1 -4.9,-5.5 3.8,-4.2 -4.3,-6.8 2.8,-4.8 M113.5,194.2l-2.5,-6 -4.8,-4.4 2.4,-5.7 -0.4,-6.9 6.4,-3.2 M147.9,191.1l-6,-4.5 -7.7,2.3 -4.2,-6 -4.8,-4.3 -1.6,-6.5 -2.2,-5.9 M130.7,193.8l-0.2,-5.7 -6.5,-0.6 -5.7,-4.4 M107,197.7l1.2,-7.4 -2.6,-5.6 4.2,-5 1.1,-5.8 6.7,-3.4 -0,-5.7 M104.9,192.8l4.8,-6.6 -2.5,-7.2 2.6,-7.1 -5.1,-6.3 M138.6,197.2l7.5,-1 0.8,-6.6 1.5,-8.1 -5.3,-5.7 3.5,-6.4 -2.7,-6.5 M222.1,379.3l-5.6,0.1 -2.9,5.1 -5.4,4.5 -2.3,7.1 M256.5,383.9l-4.7,3.2 -4.4,4.7 -3.6,-5.8 -6.2,-2.2 -2.6,-6.1 -6,1.7 0.3,-7.7 M224.9,382.9l-8.1,-2.2 -5.7,4.1 -5.3,2.3 0.8,5.8 -7.1,1.2 M263.6,387.8l-5.6,-1.1 -4.9,5.6 -4.9,-2.9 -6.7,-2.5 M219.1,381.1l-5.8,-4.1 -3.7,7 -7.2,-2.7 -4,5.8 -6,-3.6 M276.1,381l-6.3,-1.7 -6.9,4 -7.3,-1.4 -2.7,7.4 -6.2,1.8 2,7.5 -4.3,7.2 M271.8,382.2l-6.2,-0.2 -6.1,4 -4.2,-7.1 -6.9,2.5 -5.7,-4.3 -4.3,6.2 -7.2,-1.2 M267.5,381l-4.9,-4.3 -5.6,3.1 -1.6,-7 -5.9,2.8 -2.6,-5.8 -6.1,0.6 M277.8,378.2l-7.6,-2.5 -6.8,-2.6 2.8,-5.9 -6.8,0.2 -2.9,-4.9 -5.9,-0.9 -2.3,-5.5 M269,378.5l-4.3,-4.4 -6.5,-3.7 -1.1,-5.9 -6.5,-3.1 -6.3,-5.2 -6.2,-3.8 1.5,-5.8 M225.6,385.7l-6.9,1.8 -2.5,6.1 -3.9,4.6 -0,5.7 M234.8,386.4l-7.7,-0.3 -3.1,5.1 -6.5,1.4 -0.6,6.1" stroke="#3ec24a" stroke-width="2.8" fill="none" opacity="0.78" stroke-linecap="round" stroke-linejoin="round"/>
</g>
<g clip-path="url(#ca0)" fill="none" stroke-linecap="round" stroke-linejoin="round">
<use href="#fp0" stroke="#a65656" stroke-width="3.6"/>
<use href="#fp0" stroke="#df8c8c" stroke-width="2.7"/>
<use href="#fp0" stroke="#f0b2b2" stroke-width="0.7" opacity="0.7"/>
<path d="M290,201.9l-4.5,-0.7 M224.8,198.3l-1.4,-4.4 M282.8,213.3l-1.7,-4.3 M124.8,218.3l-4.6,-0.2 M62.1,202.2l-4.4,-1.2 M113.8,218.9l-0.7,4.5 M192.5,203.5l-4.5,-1 M181.8,197.4l-1.7,-4.3 M254.7,213.2l-2.5,3.9 M241.1,198.4l-0.7,4.6 M285.5,216.1l4.2,-1.9 M287.9,208.4l-1.7,4.3 M267.7,199.1l4.2,1.8 M186.2,212.6l-0.9,4.5 M108.7,210.3l4.3,-1.5 M241.4,213.1l2.2,-4 M204.1,212.3l3.7,2.7 M299,202l-3.3,-3.2 M144.4,207l-0.2,4.6 M268.3,214.5l-1.5,4.4 M162.1,215l-2.5,-3.9 M82.1,197l-4.4,-1.3 M267.5,205.2l-1.4,4.4 M84,214.8l-2.6,3.8 M92.6,202.9l2.6,3.8 M294.6,213.9l-4.4,-1.3 M256.2,206.3l1,-4.5 M238.1,217.6l-2.1,-4.1 M56.5,217.3l1.8,-4.2 M147.8,204.6l3.6,-2.8 M150.4,209.5l4.4,-1.2 M250.9,216.4l-4.5,0.9 M201.8,199.2l1.7,-4.3 M65.5,208.8l-4.6,-0.4 M248.5,200.7l-3.2,3.3 M236.4,217.9l-2.8,3.7 M119.3,206.5l3.2,-3.3 M66.8,211.1l1.1,4.5 M97.3,218.9l2.8,3.7 M71.9,203.3l-3.8,-2.7 M251.3,203l3.9,-2.4 M209.3,208.6l-4.4,1.3 M105.6,209.4l-3.2,-3.3 M169.2,204.5l-3.6,2.9 M58.3,208.8l3.6,2.9 M272.4,214.2l4.6,-0.1 M267.7,368.7l2.5,3.9 M269.5,367.7l-4.4,-1.5 M279.5,359.3l2.6,-3.8 M123.3,367.2l-4.5,0.7 M248.1,352.1l-4.6,-0.2 M177.5,356.3l-3.6,2.9 M284.3,362.4l-0.6,4.6 M76,372.1l0.5,-4.6 M231.6,368.6l4.6,0.6 M151.6,352.7l3.4,-3.1 M187.7,362.7l0.5,-4.6 M171.4,369.9l-3.3,3.2 M173.8,363.6l1.9,-4.2 M270.2,374.1l2,-4.1 M151.6,370.9l-4.4,1.5 M270.5,355.4l4.6,-0.4 M147.8,365.6l0.5,4.6 M142.8,369.3l-3.3,3.2 M208.3,368.2l-4.6,0.2 M121.9,365.9l-4.6,-0.3 M155.5,365l-3.6,2.8 M186.6,365.3l4.3,-1.6 M176.1,366l0.9,-4.5 M69.1,362.7l4,-2.2 M58.3,358.4l-3.9,-2.5 M61.7,360.9l4.6,0.1 M293.5,355.2l-3.5,2.9 M170.9,365.5l-4.2,2 M183.4,358.9l-1.4,4.4 M122.1,352.3l-0.5,-4.6 M176,350.6l-4.6,-0.6 M225.3,351.3l2,4.1 M286,362.3l2.4,-3.9 M95.9,363.5l3.8,-2.6 M100.4,351l3.5,-3 M63.4,360.9l1.1,4.5 M103.3,350.9l2.2,-4 M286.7,367.5l-3.8,-2.6 M139.4,366.2l2,4.1 M68.5,362.7l-3.6,2.9 M137.6,365.6l3.8,-2.6 M108.2,373.7l4.6,0.4 M282.8,357.1l-3,-3.5 M237.3,352.4l-3.3,3.2 M283,374.3l1.2,4.5 M206.2,355.9l-3.9,-2.4" stroke="#dc3c3c" stroke-width="2.8"/>
<path d="M100.7,207.3l1.4,4.3M100.7,207.3l-4.3,1.3M100.7,207.3l-1.6,-4.2M100.7,207.3l4.3,-1.5 M73.1,199.2l4.5,0.1M73.1,199.2l-0.3,4.5M73.1,199.2l-4.5,0M73.1,199.2l0.1,-4.5 M171.3,199.6l3.4,3M171.3,199.6l-3.1,3.3M171.3,199.6l-3.5,-2.9M171.3,199.6l3,-3.4 M64.4,202.7l0.6,4.5M64.4,202.7l-4.5,0.5M64.4,202.7l-0.8,-4.4M64.4,202.7l4.4,-0.7 M99.6,203.7l-1.7,4.2M99.6,203.7l-4.1,-1.9M99.6,203.7l1.6,-4.2M99.6,203.7l4.2,1.7 M222.1,361.9l-4.3,1.4M222.1,361.9l-1.3,-4.3M222.1,361.9l4.2,-1.6M222.1,361.9l1.5,4.3 M217.6,371.7l-3,3.4M217.6,371.7l-3.3,-3.1M217.6,371.7l2.8,-3.5M217.6,371.7l3.4,2.9 M90.9,363l4.5,0.6M90.9,363l-0.7,4.4M90.9,363l-4.5,-0.4M90.9,363l0.5,-4.5 M253.4,367.4l1.3,4.3M253.4,367.4l-4.3,1.2M253.4,367.4l-1.5,-4.2M253.4,367.4l4.3,-1.4 M248.8,374.4l4.3,1.3M248.8,374.4l-1.4,4.3M248.8,374.4l-4.4,-1.1M248.8,374.4l1.2,-4.3" stroke="#f0982a" stroke-width="2.4"/>
<path d="M67.5,204l-3.8,1.1M67.5,204l1,-3.9M67.5,204l2.9,2.8 M243.5,210.6l-3.5,2M243.5,210.6l0.1,-4M243.5,210.6l3.4,2.1 M201.3,196.9l-3.9,1.1M201.3,196.9l1,-3.9M201.3,196.9l2.8,2.8 M204.4,207.5l-2.2,3.4M204.4,207.5l-1.8,-3.6M204.4,207.5l4,0.2 M148.7,364.8l1.8,3.6M148.7,364.8l-4,-0.2M148.7,364.8l2.2,-3.3 M147.4,378.5l-3,2.7M147.4,378.5l-0.8,-3.9M147.4,378.5l3.8,1.3 M96.8,364.1l-3.3,2.3M96.8,364.1l-0.3,-4M96.8,364.1l3.6,1.7 M177.7,361.3l-3.9,1.1M177.7,361.3l1,-3.9M177.7,361.3l2.8,2.8" stroke="#2f48c8" stroke-width="2.4"/>
</g>
<line x1="55" y1="195.5" x2="300" y2="195.5" stroke="#4f8fc4" stroke-width="1.7" opacity="0.9"/>
<line x1="55" y1="376.5" x2="300" y2="376.5" stroke="#4f8fc4" stroke-width="1.7" opacity="0.9"/>
<line x1="287.7" y1="423.6" x2="93.7" y2="146.3" stroke="#111" stroke-width="3" stroke-linecap="round"/>
<polygon points="86.8,136.5 102.2,147.7 94.3,147.2 92,154.8" fill="#111"/>
<path d="M111.4,168 C120,158 140,158 152,170 C160,178 164,186 164.5,195" stroke="#111" stroke-width="1.2" fill="none"/>
<rect x="342.5" y="78.7" width="244.2" height="365.8" fill="url(#ga1)"/>
<g clip-path="url(#ca1)" fill="none" stroke-linecap="round" stroke-linejoin="round">
<path d="M485.2,129.2l7.7,2.1 10.2,-3.1 6.8,3.2 5.4,-6.4 M499.5,138.4l8.6,4 9.8,1.8 M395.7,124l0.1,-9.1 -6.4,3.3 -7.8,-0.2 -8.6,4.4 M522.6,136.6l-4.1,-8 -7.7,6.9 -8.6,2.9 -1.7,9.5 M492.5,147.2l6.4,-7.8 4.9,-9.2 10.4,-0 M423.3,123.6l-7.5,-6 -7.4,4.9 -8.6,-6.2 -3.6,6.9 M341.1,138l-5.9,-5.7 -8.2,2 -9.6,-4 -0.4,7.4 M375.2,125.9l1.1,7.9 6.3,7 -1.4,8.2 M414,131.8l-5.5,7.5 -2.2,7 -4.1,9.6 M585.3,147.8l5.4,9.2 6.9,2.4 M558.7,147.2l6.2,-7.6 -4.4,-7.5 M404.9,131.1l7.4,-6.1 -5.8,-8.2 M525.4,129l6.9,6.9 9.2,-1.7 M575.1,135.3l7.4,-1.8 3.4,-9.2 8.3,2.4 5.4,-6.2 M472.4,164l-7.5,6 -1.3,9.7 -8.1,0.1 M436.5,131.2l-0.9,8.7 2,9.7 M386,154.8l-8,1.6 -4.6,8.2 M534.5,160.2l2,-9.4 -6.7,-5.3 -4,-6.2 M351.9,120.7l-8.5,1.8 -6.4,5.7 M546.3,130l-8.5,2.8 1.5,7.2 -9,3.7 -2.7,7.2 M577.4,131.3l4.2,-7.9 -8.2,-0.6 M425.4,137.4l-0.2,-9.1 -7.8,-0.5 M514.1,137.1l2.1,7.5 9.1,0.3 1.2,9.1 7.9,-0.4 M458.6,147.3l-8.4,2.4 2,7.2 -8.1,2.2 M376.8,130.7l-6.4,8.1 -0.1,8.5 -8.6,3.3 6.4,8.6 M377.6,160.9l8.4,5.4 7.7,-4.6 9.5,-4.4 0.3,-8.3 M494.6,142.7l-9.5,-2 -9.6,3.3 -8.5,0.8 1.8,10.1 M514.6,141.9l5.2,9 7.3,-1.3 M507.4,136.2l-6.3,-5.6 -7.8,6.5 M433.5,130.4l-5.9,6.9 -4.2,8.8 M428.2,147.7l-1.7,-8.2 -8.8,-2.2 M564.3,139.7l2.9,7.9 10.3,-0.6 M358.2,144.3l-3.3,6.4 4.9,8.7 M439.4,160l1.5,-8 -1.7,-7.7 4.5,-6.1 M469.9,127.7l-5,-9.2 -6.5,5 -4.3,-6.2 -9.6,2.5 M555,122.4l4.2,-7.6 -7.5,-6.9 2.1,-7.4 -2,-7.6 M552,143.8l8.5,-1.6 0.7,-10.2 5.6,-6.8 M368.8,125.2l-0.2,9.1 5.3,5.5 2.3,7 M391.6,153.7l-10.2,1.3 -7,4.4 M350.5,155.2l5.1,5.7 8.7,-6.2 M519.6,147.9l9.6,2.7 -0.6,-9 8.9,-0.5 M530.9,152.2l-6.7,-4.1 -6.5,-3.5 -4.1,-6.1 M450.8,135l-8.1,-0.5 -0.8,8.4 -7.6,3.6 1.1,9 M535.9,142.7l5.2,8.5 9.4,-2.4 M572.7,139.2l-3,9.4 7.3,4.7 -7.4,5.4 -1.7,9.1 M586.1,120.8l6.5,7.7 9.9,-1.7 8.7,5.7 M476.1,163.9l-4.8,-9.5 -9.5,1.3 4.9,-7.6 -8.9,-0.1 M577.4,136.9l-1.3,-10.4 -9.9,2.1 1.7,-9 -6,-5.7 M469.5,125.8l-8,-1 -2.9,7.6 M452.5,151.9l9.1,-5.6 -3,-9 8.2,-5.5 M519.6,144l7.5,-0.6 2.4,-6.8 M537.6,123.2l-10,2.5 -1.9,7.5 -1.5,9.4 5.4,6.7 M531.1,376.6l4.8,6.1 9.9,-2.5 5.6,4.9 7.4,-2.3 M453.6,386.9l-6.3,-8.4 -9,-0.1 -3.7,-8.1 M443.5,388.8l-9.9,-1.6 -2.3,10.5 M344.3,380.7l0.6,10.1 7.4,3 7.5,4 9.4,0.6 M381.9,372.8l-4,-7.5 -6,5.1 M447.3,400.9l8.2,1.9 7.1,-6.2 2.6,9.4 5.2,5.8 M514.8,403.3l8.8,-0.1 5.7,-7.4 6.3,-4.2 M520.6,376.7l7.5,0.6 -2.4,-8.4 1.8,-9.6 M525.2,378.6l6.5,-7.2 -6.2,-3.8 M475,405.7l-7.6,-0.4 -4.1,7.5 -6.6,-3.7 0.9,9.2 M510,382l-4.5,7.2 1.7,8.9 -7.7,4.3 2.1,10.5 M338,383.6l2.2,-9.8 -6.7,-5.2 3.3,-9 -9.5,-2 M455.7,414.6l1.5,9.3 7.5,4.8 -4.1,6.1 4.4,6.4 M520.5,375.7l-10,-0.2 0.3,10.3 -9.8,-0.5 -7,2.4 M351,383.1l-6.8,3.7 -3.6,8.4 -5.8,-6.9 -6,4.8 M339.9,374.8l10.6,-0.7 -2.8,-9.5 10,1.7 M584.7,381.5l-3.7,-9.7 -7.6,-0.1 -6.9,-2.4 M556.4,401.4l0.7,-8.1 -6.3,-4 2.3,-9.9 -6.9,-5.4 M469.7,402l10.4,1.8 0.9,-9.8 5.2,-5.9 M478.5,370.9l1.3,-7.3 -6.5,-5.9 6.2,-6.1 M419.2,395l9.3,-0.9 8.2,-4 M558.3,375.9l9,4.2 2,-9.6 4.1,-9.8 M520.6,387.2l7.2,4.7 2.1,-7 9,-1.9 M581.4,375.4l7.6,4.7 9.5,-4.8 4.5,7.4 M477.8,394.1l-7.8,-1.8 -7.4,0.4 M541,378.3l-7.8,-3.5 -6.4,7.8 M398.1,404.9l-8.5,1.9 -5.8,4.5 -3.3,-9.3 M534.3,375.7l7.9,1.5 3.1,-6.5 6.5,-5.7 M587.4,400.8l-6.9,6.8 5.3,7.4 M412.4,383.7l-4.8,6.2 7.2,5.9 M556.7,399.9l-9.3,2 -7.6,5.7 M346.5,392.2l-7.8,-1 -2.4,6.8 -7.6,-4.8 -6.6,-3.3 M530,408.2l7,-2.4 0.3,-10.8 7,-4.3 -5.6,-5.4 M493.5,390.4l8.2,-4.2 0.7,-9 M362.4,401l-4.6,6.5 3.7,8.2 -4.3,8.3 8.6,6.4 M560.2,403.9l-9.1,3.5 -0.9,7.5 -8.5,1.5 M504.8,402.5l8.1,4.5 5.8,-5.6 7.6,4.2 7.5,-5.1 M585.5,399l9.2,-1.2 7,-4.7 7.2,2.2 5.7,-7.3 M432.6,405.7l-7.5,2.8 0.8,9.5 M363.5,412.6l8.5,-0.6 0.5,-8.1 M375.2,388.5l8.6,-1.7 -0.3,-8.9 M520.2,404.3l-4.2,6.7 6.7,6.3 -4.3,6.3 M413.8,391l5.8,8.7 8.6,4.4 M419.9,379l10.3,2.8 6.1,-8.8 8.7,-2.1 -6.4,-8.4 M554.3,390.2l7.3,2 10.4,-2.4 2.7,6.7 M567,391l2.8,8.2 7.8,2.7 M346.9,390l8.8,3.6 6.6,-5.3 4.9,5.7 M581.1,378.2l-6.9,6.9 5.9,7.6 M489.1,385.1l-6.5,-5.3 -0.1,8.2 M373.4,397l-5,-7.9 -10.5,0.5 -8,-3.8 -7.6,4.3 M477.5,391.6l-7.1,-1.7 -2.7,10.3 M383.5,408.2l5.2,-6.2 -7.8,-4.8" stroke="#c83aae" stroke-width="2.8" opacity="0.5"/>
<path d="M425.2,156.7l-3.8,4.7 M472.8,156.9l-5.3,-2.8 M565.9,147l-2.1,5.6 M461.9,145.9l-5,-3.3 M568.2,156.7l-5.4,2.6 M420.4,136.7l5.3,2.8 M542.2,147l-2.5,-5.5 M583.1,149.3l3.7,-4.7 M453.2,139.9l-0.2,-6 M444.6,138.9l3.1,-5.2 M565.4,140.6l-1.8,-5.7 M519.1,144.8l-5.2,3 M563.3,135.9l-0.8,5.9 M472.2,140.4l2.4,-5.5 M578,145.2l-5.9,1.1 M579.4,151.2l-4,-4.5 M448.8,151.1l-5.2,3 M528.4,137.5l4.9,-3.4 M489.8,159.2l-6,0.2 M530,144.7l5.9,-1.1 M382.5,141.3l5.6,-2.1 M378.5,138.4l2.1,-5.6 M550.4,152.9l0.1,6 M401.3,152.6l5,-3.3 M373.9,145.8l5.9,1.3 M579.1,136.5l3.1,-5.1 M507.6,139.7l-5.6,2.2 M533.3,145.9l5.9,1.2 M536.9,144.4l5.2,3.1 M345.9,148.6l-4.7,-3.7 M415.9,155.4l-3.3,-5 M493.8,143.4l5.7,-1.9 M554.2,147.6l-1.2,5.9 M531.4,152.6l2.7,5.3 M539,137l-5,-3.4 M441.2,157.5l-2.4,-5.5 M551.8,155.2l-5.1,3.2 M484.5,139.1l-5.9,-1.3 M398.5,153.5l4.4,4.1 M364.6,156.8l-1.5,5.8 M363.3,376.7l-0.6,-6 M571.6,384.7l-2.1,-5.6 M563.4,377.5l-5.5,-2.5 M559.2,396.2l0.4,6 M442.2,381.5l-4.7,-3.7 M416.6,398.8l-0.5,-6 M348.9,389.9l-4.1,-4.3 M514.3,386.4l4,-4.5 M444.3,384.1l6,0.7 M345.2,387.9l-4.7,-3.7 M477.9,397.8l4.8,3.6 M435.9,384.5l4.6,-3.8 M478.8,377.1l-2.5,-5.5 M397.3,377.7l6,-0.8 M403,377.9l3.3,-5 M428.4,387.2l1.2,-5.9 M523.4,399l5.5,-2.5 M555.2,380.7l-2,-5.7 M358.7,380.7l-4.3,4.2 M529.2,375.1l2.3,5.5 M553.7,375.7l-1.9,-5.7 M380.7,397.7l-5.7,-1.8 M537.5,379.4l-5.3,-2.8 M566.7,382.4l-0,-6 M559.9,378.2l5.9,-1.3 M494.5,379.8l3.7,-4.7 M425.9,400.4l-6,0.1 M413.9,383.3l-5.5,2.4 M510.3,400.2l-3.8,4.6 M403.4,383l2.8,-5.3 M390.7,386l5.7,2 M510.4,391.8l-1.7,-5.7 M382.3,385.5l2.9,5.2 M575.1,391.8l3.1,-5.2 M562.4,375.2l2.2,-5.6 M416.4,375.9l-0.4,-6 M571.3,377.4l4.7,-3.8 M561.3,377.6l-2.1,5.6 M474,391l0.7,6 M422.3,374.8l-1.2,-5.9" stroke="#e05a50" stroke-width="2.8" opacity="0.42"/>
<path d="M395.8,148.8l4.3,1.3M395.8,148.8l-3.3,3.1M395.8,148.8l-1,-4.4 M567.9,140.6l-4.1,1.9M567.9,140.6l0.4,-4.5M567.9,140.6l3.7,2.6 M463.5,114.9l-3.8,2.5M463.5,114.9l-0.2,-4.5M463.5,114.9l4,2.1 M436.5,136.4l-3.2,3.2M436.5,136.4l-1.2,-4.3M436.5,136.4l4.3,1.2 M374.5,122.6l2.4,3.8M374.5,122.6l-4.5,0.2M374.5,122.6l2.1,-4 M382.9,149l-2,4M382.9,149l-2.4,-3.8M382.9,149l4.5,-0.2 M422.2,143.9l-3.3,3.1M422.2,143.9l-1,-4.4M422.2,143.9l4.3,1.4 M418.9,144.4l-3.1,3.2M418.9,144.4l-1.2,-4.3M418.9,144.4l4.4,1.1 M534.6,146.7l4.5,0.4M534.6,146.7l-2.6,3.7M534.6,146.7l-1.9,-4.1 M441.5,130.4l0.9,4.4M441.5,130.4l-4.3,-1.4M441.5,130.4l3.4,-3 M581.1,137.5l-4.3,1.4M581.1,137.5l0.9,-4.4M581.1,137.5l3.3,3 M441.3,130.1l2.8,3.5M441.3,130.1l-4.4,0.7M441.3,130.1l1.7,-4.2 M499.5,147l-2.8,3.5M499.5,147l-1.6,-4.2M499.5,147l4.4,0.7 M347.2,126.8l4.5,0.1M347.2,126.8l-2.4,3.8M347.2,126.8l-2.1,-4 M412.1,121.3l3.5,2.9M412.1,121.3l-4.2,1.6M412.1,121.3l0.8,-4.4 M397.4,423l0.6,4.5M397.4,423l-4.2,-1.7M397.4,423l3.6,-2.7 M568.7,403.4l-4.3,1.3M568.7,403.4l1,-4.4M568.7,403.4l3.3,3.1 M565.4,412.4l-3.9,2.2M565.4,412.4l0.1,-4.5M565.4,412.4l3.9,2.3 M554.1,404.8l2.4,3.8M554.1,404.8l-4.5,0.2M554.1,404.8l2.1,-4 M529.6,420.9l-3.9,2.2M529.6,420.9l0.1,-4.5M529.6,420.9l3.8,2.4 M489.9,394.2l-3.1,3.3M489.9,394.2l-1.3,-4.3M489.9,394.2l4.4,1.1 M375.6,387.1l-2.8,3.5M375.6,387.1l-1.6,-4.2M375.6,387.1l4.4,0.7 M407.6,414.8l-3,3.3M407.6,414.8l-1.4,-4.3M407.6,414.8l4.4,1 M417.1,424l3.4,2.9M417.1,424l-4.3,1.5M417.1,424l0.9,-4.4 M449.5,411.5l4.5,0.6M449.5,411.5l-2.8,3.5M449.5,411.5l-1.7,-4.2 M455.9,405.4l-4.3,1.3M455.9,405.4l1.1,-4.4M455.9,405.4l3.2,3.1 M565.5,389.1l3.2,3.1M565.5,389.1l-4.3,1.2M565.5,389.1l1.1,-4.4 M423.7,391l4.4,0.9M423.7,391l-3,3.4M423.7,391l-1.4,-4.3 M491.2,411.7l4.5,0.6M491.2,411.7l-2.7,3.6M491.2,411.7l-1.7,-4.2 M565.8,408.7l-2.5,3.7M565.8,408.7l-2,-4M565.8,408.7l4.5,0.3" stroke="#5a78d6" stroke-width="2.2" opacity="0.6"/>
<path d="M376.9,131.3l-4.9,0.9M376.9,131.3l-0.8,-4.9M376.9,131.3l4.9,-1.1M376.9,131.3l1,4.9 M355.4,145.6l-4.4,2.5M355.4,145.6l-2.3,-4.4M355.4,145.6l4.2,-2.6M355.4,145.6l2.5,4.3 M537.1,129.9l-4.7,1.8M537.1,129.9l-1.6,-4.7M537.1,129.9l4.6,-1.9M537.1,129.9l1.8,4.7 M581.3,145.9l-4.9,1.1M581.3,145.9l-1,-4.9M581.3,145.9l4.8,-1.3M581.3,145.9l1.2,4.9 M418.7,145.6l0.9,4.9M418.7,145.6l-4.9,0.8M418.7,145.6l-1.1,-4.9M418.7,145.6l4.9,-1 M347.5,139.9l4.7,1.8M347.5,139.9l-1.9,4.6M347.5,139.9l-4.8,-1.6M347.5,139.9l1.7,-4.7 M557.3,144l-0.3,5M557.3,144l-5,-0.5M557.3,144l0.1,-5M557.3,144l5,0.3 M552.8,148.8l3.3,3.8M552.8,148.8l-3.9,3.2M552.8,148.8l-3.4,-3.6M552.8,148.8l3.7,-3.3 M483.4,145.2l4.9,0.7M483.4,145.2l-0.9,4.9M483.4,145.2l-5,-0.5M483.4,145.2l0.7,-5 M440.2,407.2l-4,3M440.2,407.2l-2.9,-4.1M440.2,407.2l3.9,-3.2M440.2,407.2l3,4 M440,399l-4.7,1.7M440,399l-1.6,-4.8M440,399l4.6,-1.9M440,399l1.7,4.7 M491.3,386.4l5,0.5M491.3,386.4l-0.6,5M491.3,386.4l-5,-0.3M491.3,386.4l0.4,-5 M550.2,403l0.4,5M550.2,403l-5,0.3M550.2,403l-0.7,-5M550.2,403l5,-0.5 M481.7,396.6l4.9,0.9M481.7,396.6l-1.1,4.9M481.7,396.6l-4.9,-0.7M481.7,396.6l0.9,-4.9 M507.7,386.2l3.7,3.3M507.7,386.2l-3.4,3.6M507.7,386.2l-3.9,-3.2M507.7,386.2l3.3,-3.8 M458.5,395.3l-2.1,4.6M458.5,395.3l-4.5,-2.2M458.5,395.3l1.9,-4.6M458.5,395.3l4.6,2 M540.5,396.3l-0.3,5M540.5,396.3l-5,-0.4M540.5,396.3l0.1,-5M540.5,396.3l5,0.2 M482.4,402.5l3.8,3.3M482.4,402.5l-3.4,3.7M482.4,402.5l-3.9,-3.1M482.4,402.5l3.2,-3.8" stroke="#f09a3a" stroke-width="2.2" opacity="0.6"/>
<path d="M367.4,254.1l-5.4,7.3 3.4,10.8 -10.8,5.5 1.4,11 -8,6.5 -2.4,9.1 -8.6,7.6 M475.3,183.3l-3.1,11.4 4.6,7.1 -4.4,9.7 5.6,8.6 -4.3,8.8 5.3,7.6 M561.3,197.3l-10.9,4.8 -0.3,11.9 -7.1,5.6 1.7,10.3 M357.3,326.4l-3.6,8.5 6.3,7.7 -6.6,10.2 5.3,6.8 -4.1,10.4 5.8,8.1 M496.3,324l5.5,8.9 8.7,2.6 0.4,11.7 11.1,5.6 4.1,11.4 8.6,2.3 M586.6,270.6l-4.7,7.7 6,7.6 -5,9.5 6,9.2 -4.5,11.4 M491.2,142.5l-5.6,7 7.4,7 -6.2,10.1 5.3,6.5 -2.3,8.4 5,9.7 M358.9,301l-7.1,10.1 3.9,8.6 -5.1,7.8 6.5,7.2 -6.1,8.8 8.2,9 M381,259.9l-9,7.4 3.1,7.9 -6.1,6.3 4.2,11.2 -7.3,9.5 5.1,9.3 M463.3,298.5l-3.2,10.8 8.4,9.2 5,8.4 11.2,1.6 4.7,8.5 M526.4,326.2l-1.2,10.3 5.5,7.2 -3.6,11 6.8,9.2 M415.8,324.5l-6.4,6.6 7.8,3.2 -2.3,10.3 7.9,6.9 M334.2,268.9l-1.2,12.3 9.9,7.7 1.3,9.5 7.7,5.5 -1.6,9.4 11.2,5.3 0.6,12 M432.4,225.6l-7.3,5.8 4.4,9.4 -5.9,7.2 8.4,5.9 -3.7,8.9 8.6,7.4 M394.8,230.5l-6.2,6 3.9,10.9 -9.8,7 0.5,12.2 -7.9,6.3 2.3,10.2 -7.7,4.7 M415.4,236.9l-2.3,11.3 11.2,-2.4 3,8.1 8.2,1.8 -3.1,9.5 7.5,8.4 -4.3,10.4 M418,241.3l-9,8.2 3.4,8.7 -5.2,8.9 2.6,8.8 -5.9,8.5 M503.3,280.9l-3.4,8.3 0.7,9.7 -8.7,7.5 10,6.2 -3.5,8.1 8.6,8 -4.9,7.4 M361.8,170.4l-10.8,4.5 -2.2,10.6 -9.4,4.1 3.5,10.9 -5.8,7.5 M590.2,344.8l-7.7,4.5 1.5,11.2 -7.2,5.7 0.7,8.6 M504.1,240.9l-6.6,6.9 9.5,7.1 -10.1,1.8 0.5,8.7 -10.3,5.6 2.2,11.1 -7.1,4.8 M403.7,326.2l-2.9,10.6 7.1,7.1 -2.7,8.3 9,8 -1.6,10 M549.6,227.2l-9.6,1.4 -0.7,8.9 -8.9,7.4 10.2,5 M424.5,193l-6.4,5.5 -5.4,7.8 -10.4,2.7 -8.3,2.8 -4.9,-10.5 -10.9,4.3 -12,-1.3 M505.8,297.8l-4.2,9.9 8,4.7 1.9,11.2 9.9,5.5 -2.6,8.8 M594.7,167.5l-7.9,7.8 4.1,11.1 -6.2,7 9.6,5 -3.2,12 8,8.3 M545.5,329.8l-2.3,12.1 8,3.9 -1,9 7.6,5 -0.6,8.5 M404.3,174.3l-0.7,9.7 9.1,7.6 -9.1,7.3 2.5,9.6 -6.7,8.9 10.3,3.8 M452.2,288l-5.6,10 2.6,8.7 -5,9.3 9.7,7.9 -8.8,3.2 M328.6,239.2l-0.3,11.4 2,10.5 -5.8,10 5,9.7 -3.5,9.8 6,6.6 -1.5,10.8 M506,216.9l-1.2,11 7.6,6.3 -3.1,8.9 8,5.4 -1.3,8.6 8.3,8.2 -1.8,10.1 M455.4,218.8l-6.9,5 -0.8,12.1 -10.4,-3.1 -0.5,12 -8.2,4.3 -2.6,9.4 M345.2,292.6l-1.8,11.1 10.9,-0.3 2.8,12 10,2.2 -0.4,9.4 7.4,5.3 -2.8,8.3 M549.9,243.3l-4.9,10.4 4.4,9.9 -4,11 5.4,8.2 -4.4,10.6 M535.1,150l-4.7,7.4 4.7,8.2 -7.2,10.3 3.8,8.2 M392.9,313.1l-10.1,4.4 -1.3,10.9 -7.3,5.5 0.6,12.4 -7.8,5.5 0.9,9.9 -9.9,4.4 M576.2,309.4l-9.7,4.7 1.7,10 -6.6,5.6 1.8,9.5 -6.5,6.3 M515.7,240l-6.3,9.2 4,8.7 4.5,8.2 9.6,5 5.6,6.3 8.6,1.8 1.8,9.5 M429.7,318.6l-4.7,8.5 6.9,6.7 -2.5,11.1 6.3,6.1 -2.6,11.8 7.6,5.8 -1.1,12.1 M471.5,326.5l-6.7,10.2 5.2,10.8 -7.2,6.9 4.8,9.1 -7.4,6.1 5.6,9.8 -3.9,11.9 M560.7,318.6l-7.8,7.8 3.4,8.5 -6.8,8.3 7.5,4.9 -2,8.5 7,6.1 M560.6,203.7l-3.4,11.2 9.5,6 -1.6,8.8 8.8,8.9 -0,10.3 8.5,4.5 -1.6,8.9 M601.9,251.8l-9.5,0 -5.1,10.3 -9.5,2.3 -0.1,8.5 -7.7,5.8 -4.4,8.5 -11.5,0 M505.4,280l-5.1,7.4 0.9,11.5 -2.7,11.6 1.1,11.6 -7.2,6.6 M334.6,207.3l-4.4,9.6 8.5,7.2 -3.7,10 9.6,3.2 0.4,11.8 M565.2,287.6l0.7,11 6.5,6.9 -2.8,8.6 6.8,6.9 M489,306.7l-4.4,9 7.3,8.8 -2.7,8.1 6.1,10.7 M377.3,228.6l-2.2,11.5 8.2,3.4 -1.1,12.2 7.6,6.7 M492.3,212.3l-5.5,11.3 6.9,10.2 5.5,10.3 9.6,3.7 1.2,11.9 9.3,5.9 -2.5,10.6 M366.7,327.6l3.9,10.4 3.6,8.8 -5.6,8.9 2.5,9.2 -6.8,8.4 M472.3,161.1l-2.2,9.8 6.1,5.9 5.5,8.2 10.3,3 M545.1,308.2l-9.5,4.9 0.5,9.5 -2.8,11.5 6.7,5.7 -2.9,11.5 4.8,7.2 M361,180.1l0.2,10.1 10.5,6.3 -2.5,10.6 5.9,10.5 -4.1,8.2 4.5,8.2 M464.8,257.2l-4.5,10.9 6.8,9.9 -4.3,9.8 8.1,8.7 -2.7,8.9 M448.4,245.2l-1.8,11.6 8.1,6.4 -2.1,10.4 8.9,2 1.7,11.4 5,9.3 -3.8,10.9 M374.1,222.4l-7.1,5 4.2,11.2 -6,7.8 -5.5,8.8 -10.3,-0.3 -1.1,9.3 M407.2,290.7l-7,9.2 7.2,9.7 -8.7,7.7 5.1,10.2 M430,167.7l-2.6,8.5 10.5,-0 1.7,10.6 6.7,5.7 -5.9,10 9,8.4 M569,240.7l-4,9.8 10.9,5.4 -8.5,5.1 11.7,3.5 6.8,10.1 11.8,-0.1 M454,297.2l-5.5,10.9 -5.2,11.3 -10.6,4.7 -0.3,9 -5.5,7.9 9.2,4.9 -1.9,12.3 M361.3,226.7l-4.1,10 5.3,7.3 -4.4,7.5 6.4,9.3 -5.8,9.6 4.3,9.4 -7.6,9.1 M538,175.3l-8.8,6.4 2.3,10.9 -9.3,1.2 -1.1,9.2 -8.7,2.4 0.6,8.7 -4,8.4 M421.2,150.1l-9,1.2 3,12.2 -9.9,5.6 1.1,11.2 -6.6,6.4 7.1,6 -5.2,7.3 M542.9,155.8l-5.3,8.6 2.1,10.3 -9.2,7.1 7.6,4.3 -2.9,11.2 7.5,9.7 M411.2,260.4l-7.5,5.7 1.4,11.9 -1.9,10.1 7.1,7.1 -4.5,8.8 M383.3,315l-5.1,11.4 9.6,8.1 -2.7,8.3 9.4,2.1 8,5.3 M546.5,187.4l-7.6,8.7 4.7,11.7 -8.4,9 2.9,8.3 M505.2,163.2l-4.8,9.5 7.5,8.6 -6.4,8.8 7.1,9.8 -4.1,10.1 M403.4,230.6l-7.4,4.7 3.1,10.2 -9.8,7.1 -3.1,11.2 M443.1,209.7l-1.9,11.6 9.5,-1.9 5.4,9.8 10.9,1.1 M467.3,212.3l-2.7,9.9 7.4,6 -1.9,8.8 1.2,11.8 -8.4,3.4 1.4,11.5 1.6,9.3 M465.2,188.9l-8.4,6.2 2.9,9.6 -9.6,-0.2 -2.9,9.4 -4.2,9.4 -3.8,10.8 -10.1,5.9 M478.9,178l1.2,11.3 9.9,4.3 -2.5,10.7 10.4,4.1 -0.3,10.7 8.6,5.1 0.2,10.4 M590.3,184.6l-8.4,8.3 0.8,9.1 -10.7,5.9 3.4,9.9 -9.3,7.4 2.3,12.1 -8.7,6.8 M360.1,187.6l-8,4.2 1.8,9.4 -7.8,4.4 2.1,8.5 -6,7.3 M336.5,338.6l0.7,11.4 9.8,7.1 0.5,9.1 8.6,3.6 2.4,11 10.9,4.8 -0.7,10.1 M400.4,172.6l-8.7,8.4 3.9,11.4 -6.4,10.5 3.4,11.4 -7.7,9.1 5.4,9.8 -11.7,-0.1 M419.6,269l-6.2,8.3 7.1,9.1 -4.5,9.4 6.7,7 -2.2,8.3 M501.3,324.8l-9.4,6.8 2.8,11.2 -8.8,7.2 2.9,9.5 M515.4,199.4l-9.1,1.7 -0.8,8.6 -9.2,3.7 1.5,10.9 -10,5.7 2,10.7 M561.3,276l-9.3,3.9 0.3,10.1 -10.8,3.8 0.6,10.9 M530.6,238.9l-2.7,11.5 -1.7,9.5 -8.2,7.7 3.8,10.4 -7.1,7.5 5.3,8.1 -6.7,8.6 M422.7,309l-5.5,6.5 5,8.2 -7.8,9.1 3.8,8.3 -7.7,7.1 M426.1,304l-3.2,10.8 6.8,9.6 -4.1,9.8 7.1,9.1 -0.3,9.5 6.4,7 M332.5,156.1l-2.3,11.7 9.5,8.1 -1.1,12.5 8.2,4.5 -3.1,11.4 M542.5,217.4l-9.7,4.4 -0.4,11.8 -2.2,12.2 9.6,0.4 0.7,10.2 9,5.5 -9.7,4.8 M569.6,163.8l-4.9,10.5 6.2,10.3 -5.2,10.7 5.5,11.1 1.7,10.8 9.2,4.1 7.7,6.7 M351.7,185.2l-12.1,1.9 0.9,10.5 -0.1,9.1 9.6,6.4 M579.9,213.8l-4.9,10.8 9.4,7.9 -7.1,8.5 7.5,8.4 M486.3,285.9l-9.2,6.5 10.9,5.4 0.4,9.7 10,5.4 M463.7,330.9l-5.7,10.9 5.4,9.4 -1.3,10.1 11,-0.1 -0.3,8.5 9.6,6 M461,172.2l-8.5,5.6 1.1,11 -9.1,0.6 -6.2,6.9 -6.1,-6.2 M428.1,273.1l-2.9,11.3 8.4,8.4 -0.5,12.1 8.3,7.3 -3.1,7.9 M408.7,152.3l-6.1,9.2 3.8,9.5 -4.3,7.4 5.5,8.7 -4.9,7.5 2.3,9.4 M559.5,285.9l-6.1,8.6 2.7,9.4 -11.7,4.4 1.3,9.5 -4,11.4 6.3,10.7 -5.8,11.1 M523.8,274.1l-4.1,7.6 6.9,6.8 5.4,7.2 10.1,-0 M591.6,301.5l-6.7,8 3,8.4 -6.8,9 4.1,10.7 M388.8,154.8l-8.5,7.6 4.3,8.9 -0.6,11.4 5.7,8.2 -4.4,8.4 5.9,8 -4.5,8" stroke="#c83aae" stroke-width="3" opacity="0.38"/>
</g>
<g clip-path="url(#ca1)">
<polygon points="435.6,163.5 414.4,172.5 500.4,376.5 521.6,367.5" fill="url(#gc10)"/>
<ellipse cx="425" cy="168" rx="4.8" ry="11.5" transform="rotate(67.1 425 168)" fill="#48c850"/>
<ellipse cx="511" cy="372" rx="4.8" ry="11.5" transform="rotate(67.1 511 372)" fill="#2aa834"/>
<polygon points="487.6,159.8 462.4,166.2 515.4,375.2 540.6,368.8" fill="url(#gc11)"/>
<ellipse cx="475" cy="163" rx="5.5" ry="13" transform="rotate(75.8 475 163)" fill="#48c850"/>
<ellipse cx="528" cy="372" rx="5.5" ry="13" transform="rotate(75.8 528 372)" fill="#2aa834"/>
<path d="M442.1,182l4.2,4.8 6.5,-2.9 0.4,5.2 4.3,-4.7 M448.3,196.7l4.4,2.7 3.8,-4 6.3,2.2 M443.4,238.3l-4.5,-2.4 -1.8,5.2 M502.7,325.6l5.8,-1.2 2.4,-6.1 6.8,1.9 M431.8,210.8l-3.8,-3.4 -5.2,-3 0.2,-4.9 -4.5,2.1 M463,231.4l5.9,-2.2 -2.1,-6.7 1.9,-6 0.9,-5.6 M423.8,191.9l-3.9,-4.2 -2.7,5.7 -4.2,3.3 M470.7,303l-6.5,0.4 0.4,5.6 -6.2,-2.1 M438.4,173.1l4.9,2.1 4.5,-4.2 M457.9,219.3l5.9,2.2 4.7,-4.9 5.9,2.6 1,-5.1 M508.9,340.4l4.1,4.2 6.6,-1.9 4.7,3.5 M473.6,256.7l6.2,1.6 -1,-6.9 3.2,-4.5 -3,-5.6 M476.7,317.3l-2.4,-5.1 -1.8,4.9 -5.7,0.6 -3.1,4.2 M514.4,270.8l3.6,4.8 2.7,-4.4 M490.2,270.4l-3.4,-3.7 -6,-1.3 -3.1,-4.6 M496.1,198.6l5,-3.1 3.6,-5.9 M497.7,205.1l6.9,-1.4 2.2,-5 M477.4,220.1l-6.8,-0.4 -3.9,5.5 -3.9,3.2 M535.6,354.2l6.9,-1 -1.9,-4.5 5.2,-3.9 1.2,-6.8 M492.6,280.1l-6.8,-1.1 1,5.1 M474.7,209.6l-4.5,-2.7 -3.8,3.5 -6.5,2.3 M522.7,303.4l0.7,5.5 4.2,-4.4 M509.7,252.4l4.2,5.4 5.1,1.1 -1.5,6.2 M505.1,329.2l-3.5,-4.9 -1.4,4.8 -5.2,-0.5 -2.8,5.7 M514.6,366.6l-3.9,-3.4 -4.4,3.3 -4,-3.6 M509.8,347.7l-6.5,-1.6 -5,4.8 -5.5,2.8" stroke="#2fbf3a" stroke-width="2.6" fill="none" stroke-linecap="round" stroke-linejoin="round"/>
<path d="M440.4,165.6l4.1,-7.2 1,-8 5.6,-5.6 -3.9,-6 1.9,-6.7 M453.1,163.1l4.6,-4.7 -6.9,-4.7 -1.1,-6.2 M435.4,160.8l4.3,-6.2 -2.4,-8 7.6,-2.7 -0.3,-6.3 5.9,-3 -2.2,-7.7 M420,163.7l4.3,-5 2.3,-5.2 6.6,-2 M407.6,167.3l-4,-5.6 -7.7,-3.4 0,-6.1 -6.5,-1.4 -3.2,-5.2 -8.2,1.3 M443.2,163.2l-0.2,-8.3 -4.2,-4 3.3,-4.8 -5.9,-2.5 M418.8,163.1l-6.2,-2.1 -1,6.5 -5.8,0.7 M483.2,381l-7.7,-1.6 -1.1,6.1 -5.9,1.6 -2.6,5.9 -4.3,-3.9 -5.4,5.9 M503.4,381l-5,5.1 2,6.8 -4.1,4 2.2,7.2 -4.6,3.7 -0.9,8.1 -2.3,6.6 M520.4,372.1l-6.7,1.9 -1.7,6.8 -7.4,1 1.2,7.4 -7,-1 M532.1,373.8l-0.8,-5.9 -4.8,5 -8.2,1 -7,4.6 -5.8,-4.3 M490.2,373l-2.1,5.2 7.3,0.4 -3.4,6 7.4,0.7 0.1,6.5 M517.9,374l2.5,6.2 5.5,2.2 -0.4,6.5 1.7,7.6 -6.1,3.5 -0.3,6.2 -6.8,2.7 M535.3,379.5l-5.9,-1 -3.3,4.6 -6.4,3.2 4,5.8 -5.6,5.2 -1.4,7.2 -5.8,-3.1 M535.6,376.2l-2.7,7.6 -0.8,6.1 -6.8,-4.2 -7.5,0.6 M502.5,372l-4.1,4.2 1.2,7.9 -7.2,1.8 -0.5,7 -4.3,3.8 -3.8,5.7 -7.3,-0 M509.5,380.5l-7.2,0.5 3.1,7.1 -5.3,3.9 -3.2,4.6 M509.5,381.7l-6.3,4.5 -0.7,6.3 -6.1,1 -6.3,2.7 -6.8,-3.6 -4,6.7 -5.6,0.2 M504,379.7l-2.1,7.8 4.2,5.7 -3.6,6.8 -3.1,6.8 -4.5,3.5 -4.5,6.5 -6.4,0.6" stroke="#3ec24a" stroke-width="2.8" fill="none" opacity="0.78" stroke-linecap="round" stroke-linejoin="round"/>
</g>
<g clip-path="url(#ca1)" fill="none" stroke-linecap="round" stroke-linejoin="round">
<use href="#fp1" stroke="#8a1f7c" stroke-width="3.6"/>
<use href="#fp1" stroke="#c83aae" stroke-width="2.7"/>
<use href="#fp1" stroke="#e070cc" stroke-width="0.7" opacity="0.7"/>
<path d="M500.5,169.8l4.6,-0 M569.2,181.2l-4.1,2.2 M420.9,164.1l4.1,2.1 M549.4,176.5l3.3,-3.2 M534,180.7l-4,2.2 M390.1,172.9l-4.2,1.9 M555.5,171.2l2.2,4 M462.7,165.7l1.2,4.4 M578.7,169.2l4.5,0.9 M529.5,183.5l-1.9,4.2 M495,166.3l2.1,-4.1 M539.4,184.2l2.1,-4.1 M422.7,181.4l-2.3,4 M503.3,173.1l4.6,0.3 M406.2,168.5l-4.4,1.5 M343.7,166.5l-4.6,0.6 M468.7,178.1l4.3,-1.5 M369.3,181.7l0,4.6 M485.2,183.6l0,4.6 M524.7,171l-1.6,4.3 M387.8,170.4l-3.2,-3.3 M509.8,179.5l-4.1,-2.1 M501.3,182l-4.6,-0.3 M449.2,183.3l4.1,-2.2 M409.2,181.4l2.3,-4 M555.9,164.9l-4.3,1.5 M476.6,176.1l-0.7,4.5 M478.8,167.9l3,3.5 M501.4,167.9l4.6,0.5 M366.5,179.8l-4.6,-0.1 M429.8,172.1l-2.8,3.7 M480.1,182.4l3.6,2.8 M415.1,178.3l4.6,-0.6 M538.4,172.4l-3.3,-3.2 M458.1,172.7l1.4,4.4 M343.8,164.2l-0.1,-4.6 M355.3,162.5l4.6,-0.6 M581.1,165.3l-1.9,-4.2 M408.6,167.3l3.5,3 M427.2,167.9l-1.5,-4.3 M433.8,182l-2.9,3.6 M436.9,168l-1.4,4.4 M380.3,180.5l-4.6,0.3 M460.9,183.6l-0.9,-4.5 M574.2,176.1l4.5,1.1 M516.6,174.3l3.7,2.7 M516.5,371.8l-3.2,-3.3 M380.9,366.9l-1.7,4.3 M475.7,358.3l3.9,2.5 M465.7,371.3l4.3,-1.7 M376.5,352l3.9,-2.5 M564.6,370.5l4.2,1.9 M427.9,360.5l-4.2,1.8 M350.7,366.2l4.5,-0.7 M539,351l-3.2,-3.3 M466,354.4l-4.6,-0.1 M503.6,361.5l-0.7,-4.5 M353.8,352.5l-4.6,-0.2 M419.5,360.1l-2.9,3.5 M504.8,360l2.9,3.6 M358.3,363.4l3.9,2.4 M511.2,371l0.2,-4.6 M547.7,367.5l4.5,0.9 M360.6,360.1l4.6,-0.2 M494,361.4l-2,4.2 M495.9,359.6l-3.3,3.2 M447.5,365l-3.3,3.2 M469.6,365.1l-3.8,-2.6 M484.1,370.4l-1.7,-4.3 M519.5,360.5l2.2,-4 M544.7,371.6l-4.6,0.1 M437,356.9l3.8,-2.5 M406.1,354.1l1.7,4.3 M483.8,367.2l4.6,0.6 M418.9,371.8l4.4,-1.4 M536.9,361.3l4.1,-2.1 M407.3,363.3l3,3.5 M440.1,349.1l-3.8,-2.6 M398.1,359.5l1.9,4.2 M420.9,363l-4.4,-1.2 M392,363.6l-2.5,3.9 M555.6,359.8l2.3,4 M548.8,362.9l-0.3,4.6 M414.1,369l-1.2,-4.4 M431.8,362l-4,-2.2 M374.9,356.5l3.7,-2.7 M550.8,359.8l3.7,-2.7 M400.2,353.2l0.9,4.5 M553.6,372l-2.1,4.1 M346.1,365.8l0.1,-4.6 M368.1,361.3l0.5,4.6 M586.3,362.5l1.5,4.4" stroke="#dc3c3c" stroke-width="2.8"/>
<path d="M479,174.7l-2.3,3.9M479,174.7l-3.8,-2.4M479,174.7l2.1,-4M479,174.7l3.9,2.3 M513.4,163.4l-1.5,4.2M513.4,163.4l-4.2,-1.6M513.4,163.4l1.3,-4.3M513.4,163.4l4.3,1.5 M348,160.7l-0.2,4.5M348,160.7l-4.5,-0.4M348,160.7l0,-4.5M348,160.7l4.5,0.2 M508.1,166.6l3.6,2.8M508.1,166.6l-2.9,3.5M508.1,166.6l-3.7,-2.6M508.1,166.6l2.7,-3.6 M350.3,174.5l-0.6,4.5M350.3,174.5l-4.4,-0.7M350.3,174.5l0.4,-4.5M350.3,174.5l4.5,0.5 M405,357.9l-1.1,4.4M405,357.9l-4.3,-1.2M405,357.9l0.9,-4.4M405,357.9l4.4,1 M520.5,370.4l-1.9,4.1M520.5,370.4l-4,-2M520.5,370.4l1.7,-4.2M520.5,370.4l4.1,1.8 M370.2,369l-1.2,4.3M370.2,369l-4.3,-1.3M370.2,369l1,-4.4M370.2,369l4.4,1.1 M427.6,370.6l-1.8,4.1M427.6,370.6l-4.1,-1.9M427.6,370.6l1.6,-4.2M427.6,370.6l4.1,1.8 M556.6,375.6l-3.3,3M556.6,375.6l-2.9,-3.4M556.6,375.6l3.2,-3.1M556.6,375.6l3.1,3.3" stroke="#f0982a" stroke-width="2.4"/>
<path d="M365.4,158.9l3.1,2.6M365.4,158.9l-3.8,1.3M365.4,158.9l0.7,-3.9 M575.4,167.9l-3.1,2.5M575.4,167.9l-0.6,-4M575.4,167.9l3.7,1.5 M562.5,169.1l-0,4M562.5,169.1l-3.4,-2.1M562.5,169.1l3.5,-1.9 M372.1,158.1l3.4,2.1M372.1,158.1l-3.6,1.8M372.1,158.1l0.2,-4 M389.6,374.5l-2.1,3.4M389.6,374.5l-1.8,-3.6M389.6,374.5l4,0.2 M490.7,374.7l2.3,3.3M490.7,374.7l-4,0.3M490.7,374.7l1.8,-3.6 M552.6,378.4l3.7,1.6M552.6,378.4l-3.2,2.4M552.6,378.4l-0.4,-4 M489.5,373.7l-4,0.5M489.5,373.7l1.6,-3.7M489.5,373.7l2.4,3.2" stroke="#2f48c8" stroke-width="2.4"/>
</g>
<line x1="342.5" y1="160.6" x2="586.7" y2="160.6" stroke="#4f8fc4" stroke-width="1.7" opacity="0.9"/>
<line x1="342.5" y1="374.7" x2="586.7" y2="374.7" stroke="#4f8fc4" stroke-width="1.7" opacity="0.9"/>
<line x1="556" y1="420.5" x2="411.9" y2="113.4" stroke="#111" stroke-width="3" stroke-linecap="round"/>
<polygon points="406.8,102.5 420.1,116.2 412.3,114.3 408.8,121.4" fill="#111"/>
<path d="M422.5,130.5 C432,124 452,124 461,136 C467,144 470,152 470.7,160" stroke="#111" stroke-width="1.2" fill="none"/>
<rect x="633.4" y="78.7" width="245.1" height="365.8" fill="url(#ga2)"/>
<g clip-path="url(#ca2)" fill="none" stroke-linecap="round" stroke-linejoin="round">
<path d="M666.2,136l-8.6,-1.7 -9.5,2.7 M854.2,117.1l-5.6,5.6 -6.1,7.7 -8.7,-2 M645.9,135.8l-9.1,2.4 4.5,7.2 -5.2,6.4 M661,136l3.5,-8.8 -1.6,-8.9 3.6,-8.6 -8.3,-2.1 M640.7,114.1l10.3,0.3 5,-8.3 8.1,-5.1 M684.7,127.2l-8.1,-1.1 -5.2,5 M698.2,120.6l-7.7,6.1 1.7,10 -7.7,-2.2 M652.1,116.4l-5.6,-6.9 -7.2,3.4 -5.6,-8 -10,1.9 M698.3,143.2l-5.8,8.8 5.6,6.6 3,8.6 7.9,6.2 M810.7,120.4l10.7,1 4.8,-7.9 8.6,-2.5 M776.2,116l-10.6,1 4.8,5.8 -4.9,6 M645.6,116.7l3.1,8.3 2.3,8.7 0.1,8.4 M752.6,139.4l-6.1,-8.6 -10.5,-1.4 M705.1,140.9l0.4,8.8 10.7,0 M687.3,123.1l8.6,-5.6 -5.5,-8.7 8.6,-4.8 M865.8,118l-0.6,-8.2 -9.5,3.6 M780.4,126.6l1.6,10 7.8,4 5.6,6.3 9.6,0.4 M648.7,143.4l-3.2,-9.1 -9.7,-3.4 M754.3,136.4l3.5,-10.1 0.6,-7.2 M756.6,121.4l7.6,-4.2 -2.2,-7 10.5,-0.9 4.9,-9.3 M697.2,117.2l2.5,7.5 10.4,0.7 2,8.6 M844,131.4l-9.1,5.7 -4.5,8.9 M870.2,117.6l8.8,1.2 3,-7 M767.7,115.3l7.8,-0.5 -5.4,-9 5.4,-8.1 M744.9,125.4l-9.2,4.8 6.3,5.5 -1,8.3 8.2,1.6 M817.7,119.1l-8.1,4.9 0.7,8.4 -5.2,6.3 M812.9,130.9l7.1,2.7 6,-6.9 M821.2,145.4l1.4,-9.1 -7.4,-5.6 M846.3,116l5.5,-8.4 -8.6,1.2 M681.9,128.8l-7.2,1.9 -4.7,7.3 -6.8,-5.8 M859.3,119.7l-7.6,-5.2 -5.8,5.4 -6.3,-4.1 -4.3,8.8 M784.9,137.9l8.1,4.9 7.7,2.7 1.3,7.9 10.2,-1.3 M635.6,113.7l-0.6,-7.8 -6.2,-7.1 9,-3.6 M793.2,110.1l-6.1,4.6 6.7,7.2 M775.4,123.1l7.3,-7.4 0.8,-8.6 M881.7,141.2l-8.5,1.1 -7.2,2.7 -8.2,3.1 M802.7,118.7l-6,-6.4 -4.8,5.6 -7.4,-3.3 -2.1,7.9 M649.9,137.9l-6.8,5.7 -6.3,5.8 -8.2,-3 M790.6,131.3l3.9,7.6 7.6,-4.1 9,-2 -0.2,-8.1 M883.2,147.3l2.4,7.5 7.3,-2.3 M827.7,149.5l-7.3,-7 -1.1,9.5 -6.8,-3.2 0.8,7.6 M628.9,122l-6.1,6.7 7.9,7.2 -5.9,8.1 8.4,0.2 M640.3,122.1l7.4,-2.2 0.9,-8.5 M729.1,136.9l-2.3,10 6.9,4.9 M776.3,118.2l5.6,-7.4 -0,-9.5 M782.3,132.8l-3,-9.4 -7.2,5.8 M857.1,151.9l-5.7,4.8 1.7,8 -7.5,4.1 M707.8,137.5l-1.6,-9.6 -6.4,-7.9 1.1,-8.2 -7.4,-0.1 M853.8,111.4l6.4,8.4 8.4,-6.6 M652.4,128l-8.7,-1.4 1.3,8.7 M751,128.1l-5.9,8.5 9.6,-0.1 M863.9,111.5l-8.4,3.7 3.8,7.8 M667.9,399.8l6.6,-3.2 5.6,-6.5 8.3,1.4 3.4,-10.2 M867.3,396.8l-7.6,-5 -8.9,0.7 -5.5,-5.5 M776.9,406.7l8.8,-5.8 1.3,-9.6 6.6,5.3 8.1,-5.7 M740.6,389.5l-8.1,-1.8 -5,5.3 -5.4,5.8 -2.2,7 M820.2,394.5l10.2,-1.8 -4.6,-9.1 M668.1,385.4l5.4,7.4 9.7,-0.1 8.8,2.2 6.8,-3.2 M750.8,375.1l-1.6,8.7 5.3,6.4 M778.8,406.9l7.7,2.4 7.5,-5.9 5.6,6.1 M759.1,409.9l3.7,8.8 10,2.4 M735.5,397.7l-6.1,-3.9 -10,-3.9 -1.4,-9.9 M741.7,408.9l10.1,-0.5 2.4,-7.5 M698.1,401.6l7.9,-4.8 2.6,-9 0.3,-8.1 M635.8,411.2l6.2,-8 0.7,-10.3 9.4,4.2 -2.1,-8.8 M630.9,403.7l-8.8,-4.2 -8.3,6.3 -8,-2.4 M760.2,390.3l-7.7,-7.4 -6.4,4.2 M838.6,412.6l9.6,4.7 8.3,-5.7 2.3,8.7 M765.6,406.5l10.2,-0.7 3.6,-7 9.7,-0.6 6.7,-7.5 M866.8,373.6l-6.5,-4 -8.4,0.6 M726.3,385.4l4.8,5.7 8.8,-3.5 5.3,9 M801.3,373.9l-4.1,-7.3 -4,-6.1 M802,381.6l-6,4.1 0.9,7.3 -8.7,-2.9 -6.7,2.8 M771.4,402.3l7.1,-3.2 5.8,-6.3 9.5,3.7 0.8,-7.4 M734.1,402.7l-6.7,-5.6 -7.4,3.1 M645.5,402.4l-1.1,7.4 6.9,3.6 4,6.2 9.7,4.5 M669,393.9l1,-10.5 -3.6,-6.3 6.5,-7 -5.1,-5.5 M841.7,410.4l-10.6,-1.1 -10.6,0.6 -5.6,-5.7 M694.3,399.8l-6,4 -0.1,9.9 -8,-2.6 M731.8,390.5l4.1,-7.5 -2.7,-8.7 7.6,-3.8 1.5,-7.4 M653.8,405.3l9,-4.3 3.1,-7.6 4.6,-8.7 M756.1,383l-7.2,0.2 3.5,9.7 -8.4,-2.7 -9.8,3.8 M865.2,381.6l-7.8,4.1 0.4,10.1 M687.1,373.6l6.8,-4.9 -6,-8.6 M773.8,398.7l10.7,0.9 6.5,-7.9 7.3,1 M649.6,380.8l4.8,-8.5 -7.7,-7.5 M808.6,397.9l-7.8,2.6 0.3,10.6 M773.1,399.5l-3.1,-8.8 -9.9,-2.7 -7.2,-7.9 -9,3.5 M737.5,399.4l-2.9,8.1 -2.6,7.3 M873.2,416.6l-2.9,6.8 5.8,8 1.2,8.9 7.8,2.1 M715.1,388.4l-5,-5.8 -7.6,7.2 -4.4,-5.9 M841.9,394.8l-7.3,3.5 1.5,9.2 -3.3,6.6 5.3,9.1 M875.1,383.1l-6.7,-3.2 -10.4,1.8 M718.5,380.4l8.4,-1.9 3.5,-9 6.3,-7.1 5,-9.2 M631.1,409.2l3.9,7.2 7.7,-2.4 4.1,6.9 M798,403.6l5.7,6.4 9,1.3 -1.7,9.2 10.1,-1.2 M637.9,388l6.4,-7.5 -3.6,-9.4 M730.2,388.6l-2,-7.8 -7.4,-6.5 8.9,-5.1 M760.3,375.4l6.3,-4.9 -3.7,-9.8 M843.6,373.8l-4.4,-9.5 -9.7,1.2 -5.5,-6.6 M873.6,415.8l4.8,5.8 6.5,-7.1 M677.6,374.2l2.8,-8.8 -8.6,-0.1 M750.6,375.1l-1.9,10.2 8.1,5.3 M699.5,395.6l-6.3,-4.9 -9.9,-2.4" stroke="#7c7ad2" stroke-width="2.8" opacity="0.5"/>
<path d="M647,129.7l-5.2,-2.9 M667.6,147.8l-4.3,4.2 M758.2,148.4l-2.6,5.4 M843.5,130.8l2.3,-5.5 M665.2,134.7l-5.8,1.6 M731.1,139.7l-0.5,6 M773,128.1l-2,5.7 M640.1,144.1l4.5,4 M690.5,137l2.1,5.6 M710.7,134.1l4.7,-3.7 M736.8,126.2l0.6,6 M850.6,138.7l0.8,5.9 M704.5,134.1l-5.9,-0.9 M875.4,124.4l-3.5,4.9 M683.9,138.5l5.7,-1.9 M672.6,132.6l-0.7,-6 M858.6,139.9l0.6,6 M721,139.6l3.3,5 M801.9,143.1l-0.9,5.9 M742.4,136.6l1.7,-5.8 M708.4,128.5l5.2,-3 M764.1,126.7l0.8,-6 M764.3,140l-6,-0.4 M703.2,139.5l0.2,-6 M853.9,138.3l-6,-0.1 M637.6,144.9l3,5.2 M831.2,136.7l-3.2,5.1 M671.7,136.2l3.5,4.9 M760.5,127.4l-5.5,-2.3 M653.6,138.6l0.7,-6 M794.1,140.8l-0.5,-6 M839.4,135.2l5.5,-2.4 M795.1,146.7l-5.9,-0.9 M718.1,132.5l-1.1,-5.9 M732.2,126l4,4.5 M770,130.1l-5.9,-1 M816.7,134.1l-5.4,2.5 M848.8,124l5.9,1.1 M754.2,140.3l-5.9,-0.8 M649.8,140.6l-0.5,6 M698,383.2l-2.7,-5.3 M833.4,393.9l-5.4,-2.7 M870.2,389.4l-4.5,-4 M835.9,387.1l-5.9,1.1 M759.3,397.3l2.5,-5.5 M766.3,400.2l-6,0.1 M793.1,381.7l3.7,4.7 M763.2,383.6l4.7,-3.8 M795.1,381.9l4.4,-4 M739.7,384.9l-4.3,4.2 M841.8,385.7l0,6 M824.7,389.4l5.6,-2.1 M775.3,398l5.8,1.7 M721.6,383.6l1.1,5.9 M854.1,389.9l-4.4,-4.1 M704.7,386.1l5,3.4 M665.1,379l-5.9,1 M805.6,398.7l-4.1,-4.3 M792.9,390.3l-4.8,-3.6 M633.4,398.5l1.7,5.8 M734.8,377.4l4,4.4 M652.8,380.6l4,-4.5 M807.2,399.6l5.8,-1.4 M761.2,387.6l1.3,-5.9 M675.7,385.4l-5.8,-1.5 M808.2,389.1l-4.3,-4.1 M739.8,384.3l-4.7,3.7 M852.9,385.8l5.7,-1.9 M800.8,383.9l3.8,-4.7 M755.3,399.7l-3.3,-5 M659.3,388.9l-2.9,-5.3 M818.3,393.5l5.3,2.9 M642.9,380.7l-0.5,-6 M853.4,397.3l-5.1,-3.2 M717.5,398.1l3.9,-4.6 M763.1,401.2l-5.1,-3.2 M771.3,390.5l-3.6,-4.8 M726.8,377l-3.4,-4.9 M700.4,399.2l-5.9,-1 M684.1,388.5l-1.4,5.8" stroke="#e05a50" stroke-width="2.8" opacity="0.42"/>
<path d="M676.2,138.7l4.3,1.4M676.2,138.7l-3.4,2.9M676.2,138.7l-0.8,-4.4 M845.3,134l3.7,2.5M845.3,134l-4,2M845.3,134l0.3,-4.5 M871.3,122.1l-1.5,4.2M871.3,122.1l-2.9,-3.4M871.3,122.1l4.4,-0.8 M791.5,103.7l2,4M791.5,103.7l-4.5,-0.3M791.5,103.7l2.5,-3.7 M775.2,101.7l3.8,2.4M775.2,101.7l-4,2.1M775.2,101.7l0.2,-4.5 M707.9,116l-0.4,4.5M707.9,116l-3.7,-2.6M707.9,116l4.1,-1.8 M852.7,133.1l4.5,0.6M852.7,133.1l-2.8,3.5M852.7,133.1l-1.6,-4.2 M818.5,105l-1.2,4.3M818.5,105l-3.2,-3.2M818.5,105l4.4,-1.1 M703.5,113.5l-2.5,3.8M703.5,113.5l-2,-4M703.5,113.5l4.5,0.3 M704.4,124.7l-4.5,0.6M704.4,124.7l1.7,-4.2M704.4,124.7l2.7,3.6 M667.6,140.3l1.1,4.4M667.6,140.3l-4.3,-1.2M667.6,140.3l3.3,-3.1 M876.6,101.2l4.5,0.3M876.6,101.2l-2.5,3.7M876.6,101.2l-1.9,-4.1 M730,112.2l4.4,0.8M730,112.2l-2.9,3.4M730,112.2l-1.5,-4.3 M787.7,134.8l2,4M787.7,134.8l-4.5,-0.3M787.7,134.8l2.5,-3.7 M690,107.8l4.5,0.2M690,107.8l-2.4,3.8M690,107.8l-2,-4 M859.4,394.2l0,4.5M859.4,394.2l-3.9,-2.3M859.4,394.2l3.9,-2.2 M852,392.3l-4.3,1.5M852,392.3l0.9,-4.4M852,392.3l3.4,3 M646.7,391l4.3,1.2M646.7,391l-3.3,3.1M646.7,391l-1,-4.4 M827.1,426.3l-2.6,3.7M827.1,426.3l-1.9,-4.1M827.1,426.3l4.5,0.4 M715.6,397l-4.4,0.7M715.6,397l1.6,-4.2M715.6,397l2.8,3.5 M844.2,413.3l3.5,2.9M844.2,413.3l-4.2,1.5M844.2,413.3l0.8,-4.4 M666.2,415l3.6,2.7M666.2,415l-4.2,1.7M666.2,415l0.6,-4.5 M827.1,386.7l4.4,1M827.1,386.7l-3,3.3M827.1,386.7l-1.3,-4.3 M786.7,399l0.5,4.5M786.7,399l-4.1,-1.8M786.7,399l3.7,-2.6 M635.7,393.1l-4,2.1M635.7,393.1l0.2,-4.5M635.7,393.1l3.8,2.4 M822.2,408.1l3.5,2.8M822.2,408.1l-4.2,1.6M822.2,408.1l0.7,-4.4 M679.9,404.5l4.1,1.8M679.9,404.5l-3.7,2.6M679.9,404.5l-0.4,-4.5 M668.2,407l-4.4,0.8M668.2,407l1.6,-4.2M668.2,407l2.9,3.5 M830.1,397.4l1.7,4.2M830.1,397.4l-4.5,-0.7M830.1,397.4l2.8,-3.5 M874.5,411.8l3,3.3M874.5,411.8l-4.4,0.9M874.5,411.8l1.4,-4.3" stroke="#5a78d6" stroke-width="2.2" opacity="0.6"/>
<path d="M758.9,116.4l1.4,4.8M758.9,116.4l-4.9,1.2M758.9,116.4l-1.6,-4.8M758.9,116.4l4.8,-1.4 M876.3,115.3l5,0.6M876.3,115.3l-0.8,4.9M876.3,115.3l-5,-0.4M876.3,115.3l0.5,-5 M763.7,125.1l-0.8,4.9M763.7,125.1l-4.9,-1M763.7,125.1l0.6,-5M763.7,125.1l4.9,0.8 M661.1,121.4l-0.8,4.9M661.1,121.4l-4.9,-0.9M661.1,121.4l0.6,-5M661.1,121.4l5,0.7 M814.3,115.2l-4.3,2.6M814.3,115.2l-2.4,-4.4M814.3,115.2l4.2,-2.7M814.3,115.2l2.6,4.3 M869.3,116.8l-3.4,3.6M869.3,116.8l-3.5,-3.5M869.3,116.8l3.3,-3.8M869.3,116.8l3.7,3.4 M874,138.2l4.1,2.9M874,138.2l-3,4M874,138.2l-4.2,-2.7M874,138.2l2.8,-4.1 M777.5,117.5l-4,2.9M777.5,117.5l-2.8,-4.1M777.5,117.5l3.9,-3.1M777.5,117.5l3,4 M762.4,121.1l4.7,1.8M762.4,121.1l-1.9,4.6M762.4,121.1l-4.7,-1.6M762.4,121.1l1.8,-4.7 M698.3,401.5l0.1,5M698.3,401.5l-5,-0M698.3,401.5l-0.3,-5M698.3,401.5l5,-0.2 M646.2,395l-2.7,4.2M646.2,395l-4.1,-2.8M646.2,395l2.5,-4.3M646.2,395l4.2,2.7 M690.3,402.1l1.5,4.8M690.3,402.1l-4.8,1.4M690.3,402.1l-1.7,-4.7M690.3,402.1l4.7,-1.6 M825.7,397.5l-4.9,0.8M825.7,397.5l-0.7,-5M825.7,397.5l4.9,-1.1M825.7,397.5l0.9,4.9 M835.2,390l-0.1,5M835.2,390l-5,-0.3M835.2,390l-0.1,-5M835.2,390l5,0.1 M860.9,400.5l-5,0.6M860.9,400.5l-0.5,-5M860.9,400.5l4.9,-0.8M860.9,400.5l0.7,5 M687.3,410.3l4.5,2.2M687.3,410.3l-2.3,4.4M687.3,410.3l-4.6,-2M687.3,410.3l2.1,-4.5 M653.9,403.1l-3.2,3.9M653.9,403.1l-3.8,-3.3M653.9,403.1l3,-4M653.9,403.1l3.9,3.1 M802,389.9l1.5,4.8M802,389.9l-4.8,1.4M802,389.9l-1.7,-4.7M802,389.9l4.8,-1.6" stroke="#f09a3a" stroke-width="2.2" opacity="0.6"/>
<path d="M771.1,337.4l-6.4,6.5 4,8.9 -6.4,9.9 4.2,8.6 M815.3,188.3l-5.9,9.3 3.6,9.9 -2.1,11.2 6.4,6.9 -4,8.4 M866.2,233.1l-2.9,11.2 6.5,5.8 2.1,11.3 10.7,2.9 4.6,9.9 11.2,2 M728.1,142.3l-6.3,10 5.7,6.7 -4.2,10.1 8.4,9.2 -8.3,2.8 M694.7,167.7l-4.8,10 6.2,8.3 -6.2,10.1 4.7,9 -4.2,11.3 M684.8,335.7l-8.4,7.5 2.7,10.5 -8.3,4.5 0.1,8.6 M647.6,201.6l-2.7,8.9 7.9,4.5 -3.9,10.8 7.2,8.2 -1.4,11.2 M802.7,263.8l-3.3,11.8 9.4,8.1 -0.9,12 7,7.3 -2.9,8.1 5.6,6.7 -3.1,9.4 M642.4,262.8l-3.3,8.3 0.1,11.8 -7.5,6.2 4.4,10.7 -5.1,8.7 4.2,9.8 -7.6,9.1 M647.6,189.7l-8.5,8.4 4.5,7.8 -6.3,9.9 3.2,8.3 -5.3,6.8 -1.6,11 -10.3,3.1 M747.5,261l-2.9,11.6 7.2,6.7 -3.2,9.5 5.6,7.4 -3.2,8.9 6.8,6.7 -2.8,8.1 M866.1,254.3l-3.9,11.4 9.5,7.3 -4.3,8.3 4.9,10.7 M696,281.6l-6.7,7.3 2.9,7.9 -7,7.9 3.3,7.7 -9,4.9 1.5,9.4 -6,6.3 M831.5,166l-6.5,7.6 -1.5,10.5 -8.7,5.6 0.3,10 M774.5,205.5l-7.2,7.9 5.1,10.9 -6.4,7.4 2.5,8.9 -4.1,10.2 M762.9,309.1l0.6,10.7 11,4.8 0,10.7 9.6,2.5 -4.9,10.7 8.4,6.1 -4,9.2 M871.8,210.6l-2.4,8.6 7.2,5.2 -2.1,9.4 6.3,8.4 -3.8,8.2 M797.7,296.8l-2,9.6 8.8,7.3 -3.9,8.4 6.2,10 -3.1,10.2 M868.4,267.6l-9.5,7 1.8,10 -8.2,4.1 -0.3,8.6 -7.7,4.1 M733.1,211.1l-4.7,7.1 5.4,10 -4.8,9.8 5.5,7.3 -5,9.4 4.3,8 -6.5,10.3 M749.3,206.5l-4.9,9.7 8,6.7 -2.2,8.7 6.9,6.6 -2.3,8.3 M736,273.3l-10.7,6.1 0.2,10.6 -8.5,7.1 0.7,8.7 -7.2,9 3.2,8.8 -5.6,7.4 M790.2,221.8l-3.6,11.4 8.1,5.9 -6.1,7.8 3.9,10.3 -6,10.6 -1.4,9.9 M839.8,319.4l-3.7,7.9 6,9 -5.6,10.4 6,10.7 -5.5,7.6 4.8,9.6 -5.1,8 M704.2,348.5l-3.2,11.4 6.1,6.6 -3.7,11.4 5.3,7.9 -6.7,10.6 M694.7,260.7l-7.1,9.9 4.6,11.2 -5.7,8.1 4.4,10 -4.4,8.9 5.3,6.5 -4.9,10.6 M704.5,150.2l-5.1,9.3 5.6,7.1 -5.8,10.9 8.7,4.2 -5.3,8.5 M830.8,196.5l-5.7,6.5 3.2,9 -6.3,7.4 3.6,10.8 -1.8,11.4 10,-3.1 M685.9,156.4l-10.1,5.9 0.7,10.6 -8.1,8.4 3.3,11.8 -9.1,7.9 M808.7,241.6l-0.8,12.4 7.9,8.5 -2.2,11.7 8.6,6.3 M684.1,242l-10,6 2.3,11.8 -8.1,5.6 -0,11.5 -9.6,5.1 2.1,8.5 -8.6,7.9 M664.5,167.1l-4.2,9.9 6.6,9.3 -4,8 5.9,6.1 -5,10.3 4.9,7.7 M764.3,238.3l-10,7.2 -0.8,11.7 -8.8,4.2 7.9,8.1 -7.1,9.9 7,8.8 -4.7,8 M735.9,314.2l-4.2,11.6 3.9,9.7 -5.1,11.1 4.8,10.3 -6.6,7.7 2.1,11 -6.5,8 M683.3,138.1l-4.5,7.5 -3.2,11.2 -9,4.4 2.5,10 -7.1,7.2 6,9.5 M721.8,228.4l-3.8,7.8 4.2,10 -5,9.5 -0.3,8.7 -6.6,8.7 4.4,9.9 M645.4,245.6l-8.5,9 1.8,8.9 -0.8,9.1 7.8,4.8 3.2,10.9 M641.8,174.2l0.9,8.4 10.3,6.1 -0.7,9 6.5,6.8 -3.5,10.7 M789.8,257l0.7,9.9 11.1,3.6 -0.5,10.5 8.2,4.1 M728.2,311.6l-6.5,6.6 2.7,12.3 -3.8,8.8 3.9,7.6 -2.4,9.7 6.8,8.7 5.4,10.1 M720.9,178.4l-7.4,5.7 1.4,9.7 -7.4,7.1 3.9,11.3 -9.3,7.6 M662.9,241.8l-7.8,5 0.2,8.4 -9.5,1 -1.7,9 -9.3,2 0.4,10.8 M825.6,296.9l-7.6,6.1 3.3,10.6 -5.2,7 9.8,4.8 -0.1,9.7 8.1,5.4 -5.1,9.5 M630.4,135.7l3,11.7 9.1,7 -3.1,10.3 9.7,6.9 -5.3,11.4 M627.7,276.6l-2.6,9.3 9.5,7.9 -1.3,11.3 10.8,-1.1 M819.5,344.1l-3.1,8 5.4,7.5 -4.7,10 4.5,10.5 -6.6,8.4 M741,326.9l-2.8,9.8 4.6,8.3 -5.1,9.8 4.7,9.8 -7,9.8 3.4,8 -8.6,0.8 M706.5,202l-2.5,8.9 6.7,8.3 -5.2,10.1 10.1,5.8 M858.5,207.6l-9.5,7.3 0.7,11.7 -9.4,6.8 3.5,9.2 -7.3,5.2 3.3,8.9 M673.6,297.4l-5.5,8.1 5.2,10 -8.4,9.1 5.4,10.3 -5,8.9 M758.7,191.3l-5,11.2 6.8,7.7 -5.3,10.6 6.8,10.3 -4.3,8.9 M839.5,253.4l-3.2,7.9 5.8,9.9 -3.2,10.9 7.3,7.9 -3.2,10.6 M846.3,314.7l-2.4,9.5 6.8,8.6 -5.8,9.6 0.3,9 -8.3,5.7 1.2,8.4 M802.9,322.8l-4.1,9.4 4.4,9.6 -8,2.7 -1,11 -10,5.6 2.5,11.8 M835.2,190.2l-5.5,8 3.3,8.5 -4.9,7.2 4.2,9.5 -2.5,8.3 M632.9,305.3l-7,7 1.7,11.6 -0.3,12.5 10.5,2.3 5.4,10.6 M838,308.8l-5.1,10.3 5.9,9.9 -10.5,5.1 1.4,8.3 -10.2,6.8 4.5,11.5 M772.9,232.9l-3.7,8.4 6.4,8.8 -4.9,11.3 4.6,7.3 -4.2,10.6 7.5,9.9 -3.7,8 M793.2,191.8l-5.7,9.3 2.8,10 -0.9,10.9 8.5,6.5 M870.9,272.6l-3.8,8.3 6,8.7 -7,10.1 5.4,10.4 -4.7,11 4.5,7.8 -3.2,7.9 M701.7,268.5l-6.5,6.1 3.2,9.2 -7.1,10.4 0.5,8.7 -9.8,7 3.5,7.9 -8.7,7 M749.7,159.4l-7.8,5.7 2.1,9.1 -7.8,7.9 1.1,8.8 M689.7,252.4l-8.4,5 0.9,9.4 -6,6 1.3,11 -11.3,-0.8 M649.8,307.6l-4.8,8.2 6.8,10.6 -6.5,8.9 3.6,10.1 -7.3,8.9 M839.1,279.3l-2.1,11.6 9,6.6 -2.1,9.6 8.1,6.4 M799.9,141.9l-10.8,2.8 -1.7,9.7 -9.4,4.3 1.1,10.6 -8.8,8 3.1,8.8 M723.6,311.7l0.2,8.8 8.6,8.9 -6.1,10.4 5.9,11.1 -3.9,9.7 3.3,8 M693,340.6l-8.4,8.6 3.4,11.7 -5.1,7.9 -4.1,9.3 -10.9,4.6 -0.4,10.2 M801.7,318.6l-11.4,1.9 0.1,9.5 -10.6,6.9 -0.1,9.9 -10.4,-1.8 -6.5,9.2 -11.9,0.7 M739.4,236.3l-5.3,8.7 8.3,3.5 1.6,8.7 8,4.3 -1.8,9 9.2,-3.4 7.5,9.8 M776.2,268.1l-0.5,9.1 7.8,5.8 -2.5,12 7.3,6.6 M778.1,156.4l-8.9,5.6 -0.2,9.1 -8.4,5.2 2.1,10.2 M765.1,264.5l1.6,9.2 9.5,6.8 -3,9.2 8.9,5.1 M795.5,177.7l-3.2,10.5 7.4,4.2 -0.7,11.1 6.4,5.5 -2.8,10.7 8.4,5.8 -0.7,12.3 M637.9,316.1l-5.9,6.3 3.2,10.3 -3.9,11.1 7.3,6.4 -5.6,11.1 5.1,11.5 M867.3,322.9l-6.3,7.1 1.5,9.4 -6.6,5.4 0.3,12.3 -7.5,5.6 0.6,10.2 -9.1,7.1 M653.1,180l-4.5,7.6 3.2,10.2 -6.1,7.2 4.7,9.5 -5.9,6 3.6,9.7 M773,289.2l-3,8.8 9,4.4 5,8.1 8.7,0.7 4.5,10.1 10.3,5 M674.8,293l-9.7,6.8 -1.6,8.4 -8.7,3.9 0.1,11.2 M710.9,250.7l-4.2,9.7 5.5,7.8 -8,5.8 3.6,9.2 -0.7,8.7 10.2,4.1 M876.4,327.7l-8.1,7.1 0.2,8.5 -8.9,-2 -8.9,6.9 -8.5,-2.4 M784.2,280.4l-4.2,10.3 6.7,5.4 -4.6,11.3 6.5,6.9 -2.6,8.4 7.6,6.3 6.2,10.3 M849.4,211.5l-7.7,6 1.5,9.7 -7.2,6.9 1.4,11.4 -10.2,-3.3 M733.1,181.4l-4,11.3 6.6,7.5 -4.1,8.1 4.9,9.6 -5.6,6.9 1.7,9.3 M679.3,199.3l-1.2,10.5 6.6,6.5 -1.3,8.6 9.8,7.7 -2.7,8 M879.7,143.1l-2.3,12.2 7.8,7 -2.7,9.9 6.1,8.6 2.2,11.2 9.1,6.8 M641.7,152.7l-1.3,11.2 6.7,8.7 -1.6,12.4 11.8,3.2 M857.1,199.3l-8.3,2.9 -2,10.1 -9.4,4.4 0.3,9 M741.8,309.4l-7.1,7 2.1,11.5 -10.6,0.2 -5.4,8.3 -11.1,2.3 -1.7,11 -9.7,2 M788.5,214.4l-4.8,11 5.5,7.9 -4.6,9 9.4,5.7 M645.1,327.2l-4,10 8.7,8.6 -5.1,8.4 7.7,8.8 M744,169.8l-7,5.4 3.8,10.3 -6.4,7.8 2.4,10.8 -5.7,7 M855.2,138.8l8.5,8.5 9.7,0.6 0.9,10.6 8.8,1.8 1.4,8.7 11.4,4.7 M851.1,144.5l-7.3,5.9 3.8,11.8 -7.8,6.7 4.7,11.4 -11.5,-0.8 -3.7,9.6 M678.8,206l-1.9,9.1 7.4,7.9 -2,11.3 6.6,7.5 -5.4,9.5 M893.4,179.3l-6.2,6.6 1,10 -11.4,0.6 4.4,7.2 -9,0 -3.4,10.5 -9,2.6 M876.1,324.2l-0.8,9.8 9.5,5.5 -0.6,10.3 9.9,7.1 M781.1,143.6l-6.5,10 4.2,10.7 -5.7,9.3 6.3,10.3 -5.1,9" stroke="#7c7ad2" stroke-width="3" opacity="0.38"/>
</g>
<g clip-path="url(#ca2)">
<polygon points="719.5,167.2 698.5,176.8 788.5,374.8 809.5,365.2" fill="url(#gc20)"/>
<ellipse cx="709" cy="172" rx="4.8" ry="11.5" transform="rotate(65.6 709 172)" fill="#48c850"/>
<ellipse cx="799" cy="370" rx="4.8" ry="11.5" transform="rotate(65.6 799 370)" fill="#2aa834"/>
<polygon points="780.7,149.4 755.3,154.6 800.3,372.6 825.7,367.4" fill="url(#gc21)"/>
<ellipse cx="768" cy="152" rx="5.5" ry="13" transform="rotate(78.3 768 152)" fill="#48c850"/>
<ellipse cx="813" cy="370" rx="5.5" ry="13" transform="rotate(78.3 813 370)" fill="#2aa834"/>
<path d="M763.8,317.6l-4,-4.5 -5.9,2.1 -0.7,-4.8 -6.5,2.6 M768.8,278.6l5.5,-2.5 0.8,-6.1 5.7,1.6 M722.3,226.2l-4.6,-2.6 1.3,5.4 M764.8,269.7l6,0.6 2.8,-5.1 6.6,0.5 M769.8,280.9l6.5,2.9 2.2,-6 5.7,2 2.8,-5.1 M773.7,289.3l5.3,-0.1 -0.9,-5.6 3.8,-4 -1.3,-4.9 M759,307l-5.5,-2.5 -5.2,2.5 -3.1,-4 -6.5,-0.5 M720.8,223l-5,1.4 1.4,7 -6.5,2.8 M720.1,221.5l-2.2,-6.7 -3.1,-4 -3.2,-4.3 -2.4,4.8 M724.5,181.2l4.1,-3.6 -6.1,-3.2 5.1,-2.1 3.6,-4.5 M767.3,275.3l5.9,-4 -1.7,-4.7 2.8,-4.9 M765.9,322.3l-6.4,0 -0.4,6.3 -5.1,0.7 -0,6.6 M756.2,300.9l-6.3,-2.6 0,6.5 -6.5,-0.9 -1.7,6.3 M798.8,243.3l5.3,0.7 3.3,-4.6 M782.2,163.1l6.3,-1.5 0.7,-5.8 6.8,1.8 4.6,-3.8 M771.6,227.1l0.5,-4.8 -5.4,-1.2 M798.7,358.4l-6.2,2 -1.7,4.6 -4.7,-5.4 M763.4,187.8l-4.8,-2.7 -2.6,4.6 -4,-5 M810.9,301.9l6.4,-0.3 3,-5.1 7,-0.8 M792.2,326.9l-1,-5.2 -5.3,-1.1 0.6,-4.8 -5.8,-1.4 M784.2,288.3l-5.7,0.4 -0.7,4.9 -6.9,-2.1 M768.5,212.4l-1.2,-5.2 -4.5,-2.3 0.3,-5.8 M783.4,284.4l-1,-6.1 -6.1,-0.7 -3.8,-3.7 M791.4,323.1l-2.5,-4.5 -5.8,2.4 -2.4,-4.7 M776.3,250.1l-5.8,3.2 1.1,5.5 -6.6,-1.4 -1.5,4.6 M823.5,362.8l3.6,5.6 4.6,-2.2 4,3.3" stroke="#2fbf3a" stroke-width="2.6" fill="none" stroke-linecap="round" stroke-linejoin="round"/>
<path d="M694.5,171.2l5.6,-4.7 -1.9,-5.5 4.5,-6.1 -4.8,-6.4 2.7,-6.9 -3.8,-6.9 M738.3,166.8l-5,-5.3 -6.7,-1.4 0.8,-6.5 -5,-4.9 4.8,-6.2 M737.3,164.7l-2.3,-6.7 -7.5,0.6 -6.3,-3.9 M733,165.8l4.2,-5.4 -6,-5.7 -2.4,-6 -7.9,0.1 2.6,-6.3 2.6,-6.3 M720.8,170.1l-0.7,-6.6 -6.1,-1.6 2.3,-7.7 -2.1,-6 -0.5,-6.3 -6.2,-5.2 M728.9,169.1l2,-6.1 -5,-4 5.3,-5.7 M730.1,164.1l7.3,-1.5 0.2,-6.9 5.3,-6.4 -2.8,-7.6 6.1,-3.1 M823.6,372.7l-6.1,5.6 -3.9,5 -6.8,2 -4.5,6.6 -6.7,0.8 -1.8,6.1 M773.9,379.2l-8.3,0.5 -1.6,5.8 -4.6,-4.8 -6.3,4.1 -7.5,-2 M768.3,371.5l-4.4,-6 -7.8,0 -3.3,-6.7 -7.5,1.8 1,-7.1 M822.5,375.9l-6.3,4.3 -0.2,6.6 -6.1,5.3 1.2,6.4 -5.5,4.7 -0.6,8.3 -5.7,3.1 M795.3,370.7l-1.9,-5.7 -5.8,-1.3 -6.9,-0.4 -6,1.8 -6.2,-4.8 M791.3,375.2l-4.4,5.9 -0.5,6 -6.7,1 -1.3,6 -7.3,3.8 -4.1,6.1 M778.8,373.2l-8,-1.8 -7.3,0.1 1.2,-6.2 -7.1,-0.5 -4,-4.6 -4.7,4.2 M812.8,372.4l-3.8,5.1 5.5,2.2 -5.5,6.2 5.6,4.9 -0.3,6.5 1.9,5.5 M782.7,374l-4,-6.3 -5.8,5.8 -7.4,-3 -5.2,4.4 M772.4,370.3l-4.4,5.3 3.2,5.4 -3.9,7.1 4.2,6.6 -5,5.4 M817,371.9l-0.8,6.4 3.7,4.4 -4.1,6.7 3.6,5 -5.1,3.7 3.5,6.3 -7.4,1.4 M786.4,371.8l-6.6,3 -1.3,5.7 -5.4,-1.7 -6.9,2 -6.7,-2.4 -8.3,-1.2" stroke="#3ec24a" stroke-width="2.8" fill="none" opacity="0.78" stroke-linecap="round" stroke-linejoin="round"/>
</g>
<g clip-path="url(#ca2)" fill="none" stroke-linecap="round" stroke-linejoin="round">
<use href="#fp2" stroke="#4848a2" stroke-width="3.6"/>
<use href="#fp2" stroke="#7c7ad2" stroke-width="2.7"/>
<use href="#fp2" stroke="#a6a4e6" stroke-width="0.7" opacity="0.7"/>
<path d="M823.7,158.8l4.3,-1.5 M782.3,149.9l1.6,-4.3 M856.4,170.6l-2.7,3.7 M770.5,166.2l1.9,-4.2 M736.7,167.6l4.3,1.6 M738.1,155.5l-0.4,4.6 M873,156.8l2.6,-3.8 M861.3,154.3l-2.1,4.1 M826.4,161.2l3.5,3 M716.6,150l0.9,4.5 M708,150.2l4.1,-2 M782.1,166.3l3.7,2.8 M825.7,161.4l4.6,-0.5 M790.8,168.6l-3.3,-3.2 M638.5,159.1l-0.2,4.6 M735.1,158.6l4.2,1.9 M867.2,162.4l-0.8,-4.5 M727.9,151.9l-3.9,-2.4 M794,152.7l-4.4,-1.3 M762.1,154.2l1.9,4.2 M827.8,166.7l-3.5,-3 M644.3,154.1l2.7,3.7 M697.8,170.8l0.6,4.6 M669.8,163.3l4.2,1.8 M743,165.5l4,2.2 M690,156.1l4.3,1.6 M737.9,157.5l1.5,-4.3 M774.4,172.5l-3.9,2.4 M843.9,156.3l-2.7,-3.7 M789.2,164.3l4.1,2 M777.3,165.6l1.3,-4.4 M767.1,169.7l1.1,-4.5 M867.3,166.5l1,4.5 M810.7,159.3l-0.9,4.5 M859.3,154.8l-4.5,-0.9 M739.3,158.3l-4.6,-0 M770.9,168.9l-0.4,-4.6 M680.3,150.5l4,-2.2 M821.9,165.4l4.1,-2.2 M797.3,167.8l1.8,4.2 M678.4,154.2l-3.7,-2.7 M743.1,158.4l2.3,4 M826.5,165.2l3,3.4 M719.7,169.4l-3.7,-2.8 M832.6,160.1l-4.4,-1.4 M792.8,155.7l4.2,-2 M796.8,364.8l-2.9,-3.6 M682.2,368.3l2.3,4 M646.7,356.9l-3.4,3 M806.6,365.5l-3.7,-2.7 M645.3,372.2l-3.8,-2.6 M665.2,355.2l0.1,4.6 M857.6,373.3l-0.1,4.6 M755.8,359.9l3.1,-3.4 M741.1,355.3l-0.4,4.6 M701.4,373.6l3.7,2.7 M714.3,361.2l4.1,-2.1 M801.9,365.9l2.7,3.7 M830.7,374.4l-1.8,4.3 M678.8,358l2.6,3.8 M813.3,362.2l-4.5,0.7 M815.5,366.1l-0.6,4.6 M771.6,353.9l2.5,-3.8 M862.7,371.7l-0.9,4.5 M767.6,372.3l2.4,3.9 M866.6,358.3l-1.1,4.5 M750.5,364.8l0.3,-4.6 M840.5,351.3l4.3,-1.7 M662.9,367l1,4.5 M687.1,366.4l3.7,2.7 M717.5,370.9l1.1,4.5 M686.2,360.9l-2,-4.1 M762.7,369.9l-3.9,-2.4 M669.9,357.1l-4.1,-2 M699,354.8l-2.2,4.1 M713.9,363.5l-2.9,-3.6 M868.8,358l3.2,3.3 M795,354.9l-3.5,-3 M738.8,363.8l-4.6,0.1 M758.9,357.6l4,2.3 M691.1,361.9l-4.4,-1.4 M761.4,354.8l1.6,4.3 M700,364.1l2.9,-3.6 M791.1,366.1l4.6,0.5 M767.4,373.3l2.3,-4 M644.7,357.5l0.7,4.5 M862.8,351l4.2,-1.8 M671.2,367.3l-2.2,4.1 M753.6,351.4l1,4.5 M720.1,370.7l-4.4,-1.5 M742.3,373.2l0.4,4.6 M795,364.9l-1.7,4.3" stroke="#dc3c3c" stroke-width="2.8"/>
<path d="M645.9,162.4l-4.5,0.6M645.9,162.4l-0.5,-4.5M645.9,162.4l4.4,-0.8M645.9,162.4l0.7,4.5 M697.1,160.9l0.9,4.4M697.1,160.9l-4.4,0.8M697.1,160.9l-1.1,-4.4M697.1,160.9l4.4,-1 M871.3,149.2l-2.1,4M871.3,149.2l-3.9,-2.2M871.3,149.2l1.9,-4.1M871.3,149.2l4,2 M800.9,161.7l-4.5,0.2M800.9,161.7l-0.1,-4.5M800.9,161.7l4.5,-0.4M800.9,161.7l0.3,4.5 M786.1,148.7l4.5,0.3M786.1,148.7l-0.5,4.5M786.1,148.7l-4.5,-0.1M786.1,148.7l0.3,-4.5 M796.6,365.8l2.5,3.7M796.6,365.8l-3.8,2.4M796.6,365.8l-2.6,-3.6M796.6,365.8l3.7,-2.5 M639.7,366.4l-3.3,3.1M639.7,366.4l-3,-3.4M639.7,366.4l3.1,-3.2M639.7,366.4l3.1,3.2 M826.1,371l-3.5,2.8M826.1,371l-2.7,-3.6M826.1,371l3.4,-3M826.1,371l2.9,3.5 M865.7,359.8l-3.5,2.8M865.7,359.8l-2.7,-3.6M865.7,359.8l3.4,-3M865.7,359.8l2.9,3.5 M827,378.5l-4.1,1.8M827,378.5l-1.6,-4.2M827,378.5l4.1,-1.9M827,378.5l1.8,4.1" stroke="#f0982a" stroke-width="2.4"/>
<path d="M653.7,158.8l3.6,1.7M653.7,158.8l-3.3,2.2M653.7,158.8l-0.2,-4 M664.1,151.7l-3.7,1.4M664.1,151.7l0.7,-3.9M664.1,151.7l3.1,2.6 M774.1,145.4l-3.6,1.7M774.1,145.4l0.3,-4M774.1,145.4l3.3,2.3 M667.6,155.7l4,0.3M667.6,155.7l-2.3,3.3M667.6,155.7l-1.7,-3.6 M637.4,375.1l4,0.4M637.4,375.1l-2.4,3.2M637.4,375.1l-1.6,-3.7 M707,366.4l-0.1,4M707,366.4l-3.4,-2.1M707,366.4l3.5,-1.9 M867.3,361.9l-3.8,1.4M867.3,361.9l0.7,-3.9M867.3,361.9l3,2.6 M761.3,364.5l1.6,3.7M761.3,364.5l-4,-0.5M761.3,364.5l2.4,-3.2" stroke="#2f48c8" stroke-width="2.4"/>
</g>
<line x1="633.4" y1="148.9" x2="878.5" y2="148.9" stroke="#4f8fc4" stroke-width="1.7" opacity="0.9"/>
<line x1="633.4" y1="376.9" x2="878.5" y2="376.9" stroke="#4f8fc4" stroke-width="1.7" opacity="0.9"/>
<line x1="825.9" y1="425" x2="725.9" y2="101.5" stroke="#111" stroke-width="3" stroke-linecap="round"/>
<polygon points="722.4,90 733.6,105.4 726.2,102.4 721.8,109" fill="#111"/>
<path d="M731.4,118 C742,111 764,111 773,124 C779,132 782,140 783,148.5" stroke="#111" stroke-width="1.2" fill="none"/>
<text x="68" y="115.6" font-size="35" textLength="135.6" lengthAdjust="spacingAndGlyphs" >PDGFRb</text>
<text x="187.6" y="163.5" font-size="35" textLength="77.4" lengthAdjust="spacingAndGlyphs" >ТМД</text>
<text x="12" y="529" font-size="42" font-style="italic" >б</text>
<g clip-path="url(#cb)">
<circle cx="297.6" cy="552.6" r="9.2" fill="url(#sph)"/><circle cx="307.9" cy="562.9" r="9.2" fill="url(#sph)"/><circle cx="323.6" cy="586.3" r="9.2" fill="url(#sph)"/><circle cx="347" cy="557.6" r="9.2" fill="url(#sph)"/><circle cx="345.4" cy="573.8" r="9.2" fill="url(#sph)"/>
<g filter="url(#bl2)" opacity="0.8"><circle cx="326" cy="578" r="15.2" fill="#c9c166"/><circle cx="340" cy="575" r="14.2" fill="#c9c166"/><circle cx="312" cy="585" r="14.2" fill="#c9c166"/><circle cx="300" cy="597" r="16.2" fill="#c9c166"/><circle cx="322" cy="597" r="19.2" fill="#c9c166"/><circle cx="344" cy="592" r="16.2" fill="#c9c166"/><circle cx="262" cy="612" r="16.2" fill="#b9b9ae"/><circle cx="250" cy="628" r="15.2" fill="#b9b9ae"/><circle cx="268" cy="640" r="17.2" fill="#b9b9ae"/><circle cx="285" cy="622" r="21.2" fill="#c9c166"/><circle cx="310" cy="620" r="23.2" fill="#c9c166"/><circle cx="335" cy="615" r="21.2" fill="#c9c166"/><circle cx="347" cy="625" r="15.2" fill="#c9c166"/><circle cx="290" cy="655" r="23.2" fill="#c9c166"/><circle cx="315" cy="650" r="25.2" fill="#c9c166"/><circle cx="338" cy="648" r="19.2" fill="#c9c166"/><circle cx="262" cy="662" r="13.2" fill="#c9c166"/><circle cx="285" cy="690" r="25.2" fill="#c9c166"/><circle cx="310" cy="688" r="27.2" fill="#c9c166"/><circle cx="335" cy="680" r="23.2" fill="#c9c166"/><circle cx="355" cy="672" r="19.2" fill="#c9c166"/><circle cx="365" cy="690" r="17.2" fill="#c9c166"/><circle cx="372" cy="662" r="13.2" fill="#c9c166"/><circle cx="270" cy="720" r="25.2" fill="#c9c166"/><circle cx="295" cy="722" r="27.2" fill="#c9c166"/><circle cx="320" cy="718" r="23.2" fill="#c9c166"/><circle cx="350" cy="712" r="21.2" fill="#c9c166"/><circle cx="372" cy="718" r="21.2" fill="#c9c166"/><circle cx="388" cy="705" r="13.2" fill="#c9c166"/><circle cx="255" cy="750" r="25.2" fill="#c9c166"/><circle cx="280" cy="755" r="27.2" fill="#c9c166"/><circle cx="305" cy="752" r="21.2" fill="#c9c166"/><circle cx="362" cy="745" r="23.2" fill="#c9c166"/><circle cx="385" cy="748" r="23.2" fill="#c9c166"/><circle cx="402" cy="738" r="15.2" fill="#c9c166"/><circle cx="238" cy="780" r="25.2" fill="#c9c166"/><circle cx="265" cy="788" r="27.2" fill="#c9c166"/><circle cx="292" cy="785" r="21.2" fill="#c9c166"/><circle cx="372" cy="775" r="23.2" fill="#c9c166"/><circle cx="398" cy="778" r="25.2" fill="#c9c166"/><circle cx="418" cy="770" r="17.2" fill="#c9c166"/><circle cx="215" cy="810" r="23.2" fill="#c9c166"/><circle cx="240" cy="815" r="25.2" fill="#c9c166"/><circle cx="270" cy="820" r="25.2" fill="#c9c166"/><circle cx="295" cy="822" r="17.2" fill="#c9c166"/><circle cx="380" cy="805" r="23.2" fill="#c9c166"/><circle cx="405" cy="808" r="27.2" fill="#c9c166"/><circle cx="430" cy="800" r="19.2" fill="#c9c166"/><circle cx="195" cy="838" r="21.2" fill="#c9c166"/><circle cx="220" cy="842" r="23.2" fill="#c9c166"/><circle cx="250" cy="846" r="23.2" fill="#c9c166"/><circle cx="280" cy="850" r="21.2" fill="#c9c166"/><circle cx="298" cy="858" r="13.2" fill="#c9c166"/><circle cx="385" cy="835" r="23.2" fill="#c9c166"/><circle cx="412" cy="838" r="27.2" fill="#c9c166"/><circle cx="440" cy="832" r="23.2" fill="#c9c166"/><circle cx="462" cy="825" r="15.2" fill="#c9c166"/><circle cx="130" cy="862" r="17.2" fill="#c9c166"/><circle cx="150" cy="868" r="19.2" fill="#c9c166"/><circle cx="172" cy="870" r="19.2" fill="#c9c166"/><circle cx="195" cy="866" r="19.2" fill="#c9c166"/><circle cx="215" cy="868" r="17.2" fill="#c9c166"/><circle cx="240" cy="868" r="17.2" fill="#c9c166"/><circle cx="160" cy="885" r="13.2" fill="#c9c166"/><circle cx="185" cy="888" r="13.2" fill="#c9c166"/><circle cx="392" cy="865" r="23.2" fill="#c9c166"/><circle cx="420" cy="868" r="27.2" fill="#c9c166"/><circle cx="448" cy="862" r="25.2" fill="#c9c166"/><circle cx="470" cy="856" r="17.2" fill="#c9c166"/><circle cx="398" cy="895" r="21.2" fill="#b9b9ae"/><circle cx="425" cy="898" r="25.2" fill="#b9b9ae"/><circle cx="452" cy="892" r="23.2" fill="#b9b9ae"/><circle cx="474" cy="885" r="15.2" fill="#b9b9ae"/><circle cx="392" cy="922" r="17.2" fill="#b9b9ae"/><circle cx="412" cy="926" r="19.2" fill="#b9b9ae"/><circle cx="435" cy="928" r="19.2" fill="#b9b9ae"/><circle cx="455" cy="924" r="17.2" fill="#b9b9ae"/><circle cx="468" cy="912" r="15.2" fill="#b9b9ae"/></g>
<g filter="url(#bl2)" opacity="0.95"><circle cx="326" cy="578" r="12.5" fill="#eee896"/><circle cx="340" cy="575" r="11.5" fill="#eee896"/><circle cx="312" cy="585" r="11.5" fill="#eee896"/><circle cx="300" cy="597" r="13.5" fill="#eee896"/><circle cx="322" cy="597" r="16.5" fill="#eee896"/><circle cx="344" cy="592" r="13.5" fill="#eee896"/><circle cx="262" cy="612" r="13.5" fill="#ebebe6"/><circle cx="250" cy="628" r="12.5" fill="#ebebe6"/><circle cx="268" cy="640" r="14.5" fill="#ebebe6"/><circle cx="285" cy="622" r="18.5" fill="#eee896"/><circle cx="310" cy="620" r="20.5" fill="#eee896"/><circle cx="335" cy="615" r="18.5" fill="#eee896"/><circle cx="347" cy="625" r="12.5" fill="#eee896"/><circle cx="290" cy="655" r="20.5" fill="#eee896"/><circle cx="315" cy="650" r="22.5" fill="#eee896"/><circle cx="338" cy="648" r="16.5" fill="#eee896"/><circle cx="262" cy="662" r="10.5" fill="#eee896"/><circle cx="285" cy="690" r="22.5" fill="#eee896"/><circle cx="310" cy="688" r="24.5" fill="#eee896"/><circle cx="335" cy="680" r="20.5" fill="#eee896"/><circle cx="355" cy="672" r="16.5" fill="#eee896"/><circle cx="365" cy="690" r="14.5" fill="#eee896"/><circle cx="372" cy="662" r="10.5" fill="#eee896"/><circle cx="270" cy="720" r="22.5" fill="#eee896"/><circle cx="295" cy="722" r="24.5" fill="#eee896"/><circle cx="320" cy="718" r="20.5" fill="#eee896"/><circle cx="350" cy="712" r="18.5" fill="#eee896"/><circle cx="372" cy="718" r="18.5" fill="#eee896"/><circle cx="388" cy="705" r="10.5" fill="#eee896"/><circle cx="255" cy="750" r="22.5" fill="#eee896"/><circle cx="280" cy="755" r="24.5" fill="#eee896"/><circle cx="305" cy="752" r="18.5" fill="#eee896"/><circle cx="362" cy="745" r="20.5" fill="#eee896"/><circle cx="385" cy="748" r="20.5" fill="#eee896"/><circle cx="402" cy="738" r="12.5" fill="#eee896"/><circle cx="238" cy="780" r="22.5" fill="#eee896"/><circle cx="265" cy="788" r="24.5" fill="#eee896"/><circle cx="292" cy="785" r="18.5" fill="#eee896"/><circle cx="372" cy="775" r="20.5" fill="#eee896"/><circle cx="398" cy="778" r="22.5" fill="#eee896"/><circle cx="418" cy="770" r="14.5" fill="#eee896"/><circle cx="215" cy="810" r="20.5" fill="#eee896"/><circle cx="240" cy="815" r="22.5" fill="#eee896"/><circle cx="270" cy="820" r="22.5" fill="#eee896"/><circle cx="295" cy="822" r="14.5" fill="#eee896"/><circle cx="380" cy="805" r="20.5" fill="#eee896"/><circle cx="405" cy="808" r="24.5" fill="#eee896"/><circle cx="430" cy="800" r="16.5" fill="#eee896"/><circle cx="195" cy="838" r="18.5" fill="#eee896"/><circle cx="220" cy="842" r="20.5" fill="#eee896"/><circle cx="250" cy="846" r="20.5" fill="#eee896"/><circle cx="280" cy="850" r="18.5" fill="#eee896"/><circle cx="298" cy="858" r="10.5" fill="#eee896"/><circle cx="385" cy="835" r="20.5" fill="#eee896"/><circle cx="412" cy="838" r="24.5" fill="#eee896"/><circle cx="440" cy="832" r="20.5" fill="#eee896"/><circle cx="462" cy="825" r="12.5" fill="#eee896"/><circle cx="130" cy="862" r="14.5" fill="#eee896"/><circle cx="150" cy="868" r="16.5" fill="#eee896"/><circle cx="172" cy="870" r="16.5" fill="#eee896"/><circle cx="195" cy="866" r="16.5" fill="#eee896"/><circle cx="215" cy="868" r="14.5" fill="#eee896"/><circle cx="240" cy="868" r="14.5" fill="#eee896"/><circle cx="160" cy="885" r="10.5" fill="#eee896"/><circle cx="185" cy="888" r="10.5" fill="#eee896"/><circle cx="392" cy="865" r="20.5" fill="#eee896"/><circle cx="420" cy="868" r="24.5" fill="#eee896"/><circle cx="448" cy="862" r="22.5" fill="#eee896"/><circle cx="470" cy="856" r="14.5" fill="#eee896"/><circle cx="398" cy="895" r="18.5" fill="#ebebe6"/><circle cx="425" cy="898" r="22.5" fill="#ebebe6"/><circle cx="452" cy="892" r="20.5" fill="#ebebe6"/><circle cx="474" cy="885" r="12.5" fill="#ebebe6"/><circle cx="392" cy="922" r="14.5" fill="#ebebe6"/><circle cx="412" cy="926" r="16.5" fill="#ebebe6"/><circle cx="435" cy="928" r="16.5" fill="#ebebe6"/><circle cx="455" cy="924" r="14.5" fill="#ebebe6"/><circle cx="468" cy="912" r="12.5" fill="#ebebe6"/></g>
<g clip-path="url(#csil)">
<g filter="url(#bl6)"><ellipse cx="250" cy="630" rx="22" ry="26" fill="#fbfbf4" opacity="0.95"/><ellipse cx="268" cy="605" rx="14" ry="12" fill="#f6f3c8" opacity="0.9"/><ellipse cx="305" cy="652" rx="22" ry="12" fill="#e9e040" opacity="0.95"/><ellipse cx="330" cy="610" rx="14" ry="18" fill="#eee680" opacity="0.8"/><ellipse cx="290" cy="715" rx="20" ry="18" fill="#e6dc3a" opacity="0.95"/><ellipse cx="262" cy="765" rx="18" ry="14" fill="#b9b040" opacity="0.9"/><ellipse cx="364" cy="724" rx="18" ry="14" fill="#ebe040" opacity="0.95"/><ellipse cx="382" cy="765" rx="20" ry="16" fill="#e8dc38" opacity="0.95"/><ellipse cx="412" cy="800" rx="16" ry="22" fill="#efe65a" opacity="0.9"/><ellipse cx="230" cy="820" rx="42" ry="32" fill="#f6f4da" opacity="0.95"/><ellipse cx="205" cy="850" rx="30" ry="18" fill="#f4f2e0" opacity="0.9"/><ellipse cx="300" cy="640" rx="14" ry="8" fill="#c9c040" opacity="0.8"/><ellipse cx="285" cy="742" rx="12" ry="9" fill="#c4bc3c" opacity="0.8"/><ellipse cx="372" cy="740" rx="10" ry="8" fill="#cfc640" opacity="0.7"/><ellipse cx="392" cy="778" rx="9" ry="8" fill="#c8c03c" opacity="0.7"/><ellipse cx="160" cy="872" rx="40" ry="18" fill="#f1eca0" opacity="0.9"/><ellipse cx="425" cy="880" rx="40" ry="50" fill="#f1f1ee" opacity="1"/><ellipse cx="440" cy="925" rx="40" ry="22" fill="#fafafa" opacity="1"/><ellipse cx="392" cy="850" rx="14" ry="30" fill="#f4f2d8" opacity="0.9"/><ellipse cx="455" cy="850" rx="14" ry="24" fill="#e9e7a8" opacity="0.9"/><ellipse cx="470" cy="885" rx="10" ry="26" fill="#dfdca0" opacity="0.9"/><ellipse cx="345" cy="835" rx="12" ry="20" fill="#f3f0c0" opacity="0.8"/></g>
<g filter="url(#bl4)"><ellipse cx="316" cy="696" rx="20" ry="20" fill="#e8601c" opacity="1"/><ellipse cx="322" cy="715" rx="12" ry="14" fill="#c85a28" opacity="0.95"/><ellipse cx="305" cy="590" rx="7" ry="14" fill="#e08a2a" opacity="0.9"/><ellipse cx="312" cy="612" rx="6" ry="10" fill="#d88a40" opacity="0.8"/><ellipse cx="352" cy="682" rx="13" ry="17" fill="#ee1c24" opacity="1"/><ellipse cx="360" cy="700" rx="9" ry="9" fill="#f04a28" opacity="0.9"/><ellipse cx="262" cy="790" rx="20" ry="10" fill="#ee2a24" opacity="1"/><ellipse cx="283" cy="818" rx="14" ry="22" fill="#ee2424" opacity="1"/><ellipse cx="296" cy="852" rx="9" ry="14" fill="#ee3a3a" opacity="0.95"/><ellipse cx="250" cy="775" rx="14" ry="8" fill="#e8601c" opacity="0.9"/><ellipse cx="405" cy="785" rx="14" ry="20" fill="#ee1c24" opacity="1"/><ellipse cx="398" cy="770" rx="8" ry="8" fill="#ee2a24" opacity="1"/></g>
<path d="M236.6,625.8l-2.3,4.5M236.6,625.8l-2.7,-4.2M236.6,625.8l5,-0.2 M146.1,768.3l2.1,4.6M146.1,768.3l-5,-0.5M146.1,768.3l3,-4 M140.9,757.8l5,0.6M140.9,757.8l-3,4M140.9,757.8l-1.9,-4.6 M276.1,595.8l4.8,1.4M276.1,595.8l-3.6,3.4M276.1,595.8l-1.1,-4.9 M272.8,875.9l4.6,1.9M272.8,875.9l-4,3M272.8,875.9l-0.6,-5 M200.4,802.2l-4.9,0.8M200.4,802.2l1.8,-4.7M200.4,802.2l3.1,3.9 M327.8,716.8l-5,0.4M327.8,716.8l2.2,-4.5M327.8,716.8l2.8,4.2 M136.8,887.6l3.1,3.9M136.8,887.6l-5,0.7M136.8,887.6l1.9,-4.6 M171.9,613.6l2.8,4.1M171.9,613.6l-5,0.4M171.9,613.6l2.2,-4.5 M413.8,636.9l-1.3,4.8M413.8,636.9l-3.5,-3.5M413.8,636.9l4.8,-1.3 M350,707.8l-0.7,4.9M350,707.8l-3.9,-3.1M350,707.8l4.7,-1.8 M142.6,592.1l4,3M142.6,592.1l-4.6,1.9M142.6,592.1l0.7,-5 M364.9,728.2l2.8,4.2M364.9,728.2l-5,0.3M364.9,728.2l2.3,-4.4 M330.8,737.7l2.9,4M330.8,737.7l-5,0.5M330.8,737.7l2.1,-4.5 M406,828.6l3.6,3.5M406,828.6l-4.8,1.4M406,828.6l1.3,-4.8 M326.8,764.3l-4.6,1.9M326.8,764.3l0.7,-5M326.8,764.3l3.9,3.1 M382.6,676.5l-5,0.3M382.6,676.5l2.2,-4.5M382.6,676.5l2.7,4.2 M162.5,724.7l-3.6,3.5M162.5,724.7l-1.2,-4.9M162.5,724.7l4.8,1.5 M174.7,750.9l5,0.6M174.7,750.9l-3,4M174.7,750.9l-1.9,-4.6 M360.6,852.9l-1.1,4.9M360.6,852.9l-3.6,-3.4M360.6,852.9l4.8,-1.4 M435.2,686.1l-2.9,4.1M435.2,686.1l-2.1,-4.5M435.2,686.1l5,0.5 M334,784.6l0.7,5M334,784.6l-4.6,-1.9M334,784.6l4,-3 M422.4,919.5l0.4,5M422.4,919.5l-4.5,-2.2M422.4,919.5l4.1,-2.8 M359.1,592.4l-3,4M359.1,592.4l-2,-4.6M359.1,592.4l5,0.6 M353,937.4l-4.2,2.7M353,937.4l-0.2,-5M353,937.4l4.4,2.4 M222.5,712.7l-2.5,4.3M222.5,712.7l-2.5,-4.4M222.5,712.7l5,0.1 M128.1,740.8l4.3,2.5M128.1,740.8l-4.4,2.5M128.1,740.8l0.1,-5 M162.2,591.8l-3.7,3.3M162.2,591.8l-1,-4.9M162.2,591.8l4.7,1.6 M166.6,661.6l1.7,4.7M166.6,661.6l-4.9,-0.9M166.6,661.6l3.3,-3.8 M433.7,599.8l0.8,4.9M433.7,599.8l-4.7,-1.8M433.7,599.8l3.9,-3.1 M317.8,896.9l-4.2,2.7M317.8,896.9l-0.2,-5M317.8,896.9l4.4,2.4 M431,673l1.3,4.8M431,673l-4.8,-1.3M431,673l3.6,-3.5 M249.2,897.2l-5,0.7M249.2,897.2l1.9,-4.6M249.2,897.2l3,4 M174.3,635.2l3.7,3.3M174.3,635.2l-4.8,1.5M174.3,635.2l1.1,-4.9 M204,749.4l-1.4,4.8M204,749.4l-3.5,-3.6M204,749.4l4.9,-1.2 M214.6,571.5l1.3,4.8M214.6,571.5l-4.8,-1.4M214.6,571.5l3.6,-3.5 M252.9,779.5l-4.9,0.7M252.9,779.5l1.9,-4.6M252.9,779.5l3.1,3.9 M368.6,760.7l-1.8,4.7M368.6,760.7l-3.1,-3.9M368.6,760.7l4.9,-0.7 M363.4,590l-4.8,1.6M363.4,590l1.1,-4.9M363.4,590l3.7,3.4 M400.8,893.6l-4,3M400.8,893.6l-0.5,-5M400.8,893.6l4.6,2 M261.3,717.6l4.7,1.6M261.3,717.6l-3.8,3.3M261.3,717.6l-0.9,-4.9 M348.3,593l4.9,1M348.3,593l-3.4,3.7M348.3,593l-1.5,-4.8 M195.2,630.1l2.4,4.4M195.2,630.1l-5,-0.1M195.2,630.1l2.6,-4.2 M138.9,570.1l4.4,2.3M138.9,570.1l-4.2,2.7M138.9,570.1l-0.2,-5 M156.5,704.5l5,0.4M156.5,704.5l-2.9,4.1M156.5,704.5l-2.1,-4.5 M434.8,797.2l4.5,2.2M434.8,797.2l-4.2,2.7M434.8,797.2l-0.2,-5 M210.8,698.5l2.1,4.6M210.8,698.5l-5,-0.5M210.8,698.5l3,-4 M164.2,884.1l-5,0.1M164.2,884.1l2.4,-4.4M164.2,884.1l2.6,4.3 M287.8,749l4.8,1.3M287.8,749l-3.6,3.5M287.8,749l-1.2,-4.9 M156.8,696.8l3.4,3.7M156.8,696.8l-4.9,1M156.8,696.8l1.6,-4.7 M418.4,629.7l5,0.4M418.4,629.7l-2.8,4.1M418.4,629.7l-2.1,-4.5 M462.4,765.5l4.5,2.2M462.4,765.5l-4.2,2.7M462.4,765.5l-0.3,-5 M315.5,580l-0.4,5M315.5,580l-4.1,-2.9M315.5,580l4.6,-2.1 M472.3,889.4l-2.9,4.1M472.3,889.4l-2.1,-4.6M472.3,889.4l5,0.5 M214,705.7l4.3,2.5M214,705.7l-4.3,2.5M214,705.7l0.1,-5 M397.9,767.1l-3.8,3.2M397.9,767.1l-0.8,-4.9M397.9,767.1l4.7,1.8 M238.7,652.5l-4.1,2.8M238.7,652.5l-0.3,-5M238.7,652.5l4.5,2.2 M474.6,885.5l-4.1,2.9M474.6,885.5l-0.4,-5M474.6,885.5l4.5,2.2 M414.6,843.8l3.8,3.3M414.6,843.8l-4.7,1.6M414.6,843.8l1,-4.9 M306.3,701.6l5,0.5M306.3,701.6l-2.9,4.1M306.3,701.6l-2,-4.6 M130.1,673.4l3.4,3.6M130.1,673.4l-4.9,1.1M130.1,673.4l1.5,-4.8 M369.3,923.9l0.8,4.9M369.3,923.9l-4.7,-1.8M369.3,923.9l3.9,-3.1 M457.3,935.6l-4.9,0.7M457.3,935.6l1.9,-4.6M457.3,935.6l3,4 M251.3,651.6l3.8,3.3M251.3,651.6l-4.7,1.6M251.3,651.6l1,-4.9 M190.8,645.6l-1.9,4.6M190.8,645.6l-3,-4M190.8,645.6l5,-0.6 M444.1,881l0.3,5M444.1,881l-4.5,-2.2M444.1,881l4.2,-2.7 M355.1,865.9l4.8,1.3M355.1,865.9l-3.6,3.5M355.1,865.9l-1.2,-4.8 M357.8,906.6l-3.9,3.2M357.8,906.6l-0.8,-4.9M357.8,906.6l4.7,1.8 M390.1,746.9l4.2,2.7M390.1,746.9l-4.4,2.3M390.1,746.9l0.2,-5 M404.1,693l-4,2.9M404.1,693l-0.5,-5M404.1,693l4.5,2.1 M469.8,716.5l1.5,4.8M469.8,716.5l-4.9,-1.1M469.8,716.5l3.4,-3.7 M460.8,838.2l4.3,2.5M460.8,838.2l-4.4,2.4M460.8,838.2l0.1,-5 M165.7,625.9l-4.8,1.5M165.7,625.9l1.1,-4.9M165.7,625.9l3.6,3.4 M410.3,624.1l-4.3,2.6M410.3,624.1l-0.1,-5M410.3,624.1l4.4,2.4 M472.9,813.2l2.3,4.5M472.9,813.2l-5,-0.3M472.9,813.2l2.8,-4.2 M317.5,618.5l5,0.2M317.5,618.5l-2.7,4.2M317.5,618.5l-2.3,-4.5 M469.5,810.4l-0.4,5M469.5,810.4l-4.1,-2.9M469.5,810.4l4.5,-2.1 M456.1,730.5l-4.6,2M456.1,730.5l0.6,-5M456.1,730.5l4,3 M417.4,648.1l3.5,3.6M417.4,648.1l-4.8,1.2M417.4,648.1l1.4,-4.8 M225.5,659l-1.3,4.8M225.5,659l-3.5,-3.6M225.5,659l4.9,-1.2 M213.4,725l4.6,2M213.4,725l-4,2.9M213.4,725l-0.5,-5 M447.6,700.9l0.7,5M447.6,700.9l-4.6,-1.9M447.6,700.9l4,-3 M330,904.6l1.2,4.8M330,904.6l-4.8,-1.4M330,904.6l3.6,-3.5 M450.4,755.6l-0.5,5M450.4,755.6l-4,-2.9M450.4,755.6l4.6,-2 M308.5,576.9l0.9,4.9M308.5,576.9l-4.7,-1.7M308.5,576.9l3.8,-3.2 M185.9,571.5l-4,3M185.9,571.5l-0.5,-5M185.9,571.5l4.6,2.1 M182,745.2l-3.2,3.8M182,745.2l-1.6,-4.7M182,745.2l4.9,1 M320.3,690.6l-0.3,5M320.3,690.6l-4.2,-2.8M320.3,690.6l4.5,-2.2 M320,860.2l4.7,1.6M320,860.2l-3.8,3.3M320,860.2l-0.9,-4.9 M321.7,661.9l3.2,3.8M321.7,661.9l-4.9,0.9M321.7,661.9l1.7,-4.7 M398,757.9l-1,4.9M398,757.9l-3.8,-3.3M398,757.9l4.7,-1.6 M393.6,907.6l0.9,4.9M393.6,907.6l-4.7,-1.7M393.6,907.6l3.9,-3.2 M340.5,757.1l-0.2,5M340.5,757.1l-4.2,-2.7M340.5,757.1l4.4,-2.3 M369.4,737.4l-0.5,5M369.4,737.4l-4,-3M369.4,737.4l4.6,-2 M292.1,918.4l-2.9,4.1M292.1,918.4l-2,-4.6M292.1,918.4l5,0.6 M435.6,918.6l3.4,3.6M435.6,918.6l-4.9,1.1M435.6,918.6l1.5,-4.8 M321.4,919l-4.4,2.4M321.4,919l0.1,-5M321.4,919l4.3,2.6 M169.4,615l0.9,4.9M169.4,615l-4.7,-1.7M169.4,615l3.8,-3.2 M146.1,659l4.9,1.1M146.1,659l-3.4,3.6M146.1,659l-1.4,-4.8 M361,860.1l-4.7,1.6M361,860.1l1,-4.9M361,860.1l3.7,3.3 M175.6,835l-2.4,4.4M175.6,835l-2.6,-4.3M175.6,835l5,-0 M171.5,896.6l-5,0.5M171.5,896.6l2.1,-4.6M171.5,896.6l2.9,4.1 M199.1,922.4l1.6,4.7M199.1,922.4l-4.9,-1M199.1,922.4l3.4,-3.7 M295.4,936.3l-4.3,2.5M295.4,936.3l0,-5M295.4,936.3l4.3,2.5 M178.1,729.7l-0.2,5M178.1,729.7l-4.2,-2.7M178.1,729.7l4.5,-2.2 M242.1,642.4l2.7,4.2M242.1,642.4l-5,0.2M242.1,642.4l2.3,-4.4 M380,577.2l-0.8,4.9M380,577.2l-3.8,-3.2M380,577.2l4.7,-1.7 M278.6,576.7l2.5,4.3M278.6,576.7l-5,0M278.6,576.7l2.5,-4.3 M344.6,759.5l4.9,1M344.6,759.5l-3.3,3.7M344.6,759.5l-1.5,-4.8 M474.6,861.7l-5,0.5M474.6,861.7l2.1,-4.5M474.6,861.7l2.8,4.1 M157.7,668.3l5,0.6M157.7,668.3l-3,4M157.7,668.3l-1.9,-4.6 M400.4,670.1l4.6,2M400.4,670.1l-4,3M400.4,670.1l-0.5,-5 M272,907.2l-4.2,2.7M272,907.2l-0.2,-5M272,907.2l4.4,2.3 M213.1,625.3l-4.8,1.3M213.1,625.3l1.4,-4.8M213.1,625.3l3.5,3.6 M325.4,829.2l4.8,1.4M325.4,829.2l-3.6,3.4M325.4,829.2l-1.1,-4.9 M140.7,824.6l1.2,4.9M140.7,824.6l-4.8,-1.4M140.7,824.6l3.7,-3.4 M146.1,917.2l-2,4.6M146.1,917.2l-2.9,-4.1M146.1,917.2l5,-0.5 M408.6,601l-4.5,2.2M408.6,601l0.4,-5M408.6,601l4.1,2.8 M144,889.2l0.7,4.9M144,889.2l-4.6,-1.9M144,889.2l4,-3.1 M242.1,774.6l-4.9,1.1M242.1,774.6l1.5,-4.8M242.1,774.6l3.4,3.7 M216.4,617.8l-0.4,5M216.4,617.8l-4.1,-2.9M216.4,617.8l4.5,-2.1 M205.8,610.5l4.4,2.4M205.8,610.5l-4.3,2.5M205.8,610.5l-0,-5 M138.1,644.7l2.8,4.2M138.1,644.7l-5,0.3M138.1,644.7l2.3,-4.5 M229.8,851l3.1,3.9M229.8,851l-5,0.7M229.8,851l1.9,-4.6 M300,635.8l2.3,4.4M300,635.8l-5,-0.2M300,635.8l2.7,-4.2 M126.5,662.7l5,0.2M126.5,662.7l-2.7,4.2M126.5,662.7l-2.2,-4.5 M383.9,773.9l4.1,2.8M383.9,773.9l-4.5,2.2M383.9,773.9l0.4,-5 M290.9,915.8l4.7,1.6M290.9,915.8l-3.8,3.3M290.9,915.8l-0.9,-4.9 M414.8,729.9l0.1,5M414.8,729.9l-4.4,-2.5M414.8,729.9l4.3,-2.5 M420.5,715.4l-0.1,5M420.5,715.4l-4.3,-2.6M420.5,715.4l4.4,-2.4 M367.6,933.5l2.4,4.4M367.6,933.5l-5,-0.2M367.6,933.5l2.7,-4.2 M419.6,831.5l-2.1,4.6M419.6,831.5l-2.9,-4.1M419.6,831.5l5,-0.4 M265.7,698.6l4.9,0.8M265.7,698.6l-3.2,3.8M265.7,698.6l-1.7,-4.7 M166.7,596.2l-3.4,3.6M166.7,596.2l-1.4,-4.8M166.7,596.2l4.9,1.2 M212,630.4l4.8,1.3M212,630.4l-3.6,3.5M212,630.4l-1.2,-4.8 M422.9,892.1l-2.5,4.3M422.9,892.1l-2.4,-4.4M422.9,892.1l5,0.1 M221.5,659.6l3,4M221.5,659.6l-5,0.6M221.5,659.6l2,-4.6 M285.4,628.3l0.9,4.9M285.4,628.3l-4.7,-1.8M285.4,628.3l3.9,-3.2 M214.8,925.9l-5,0.4M214.8,925.9l2.1,-4.5M214.8,925.9l2.8,4.1 M316.9,660.4l-5,0.5M316.9,660.4l2,-4.6M316.9,660.4l2.9,4.1 M231.4,701.9l5,0M231.4,701.9l-2.5,4.3M231.4,701.9l-2.4,-4.4 M257.4,745.6l-0,5M257.4,745.6l-4.3,-2.6M257.4,745.6l4.4,-2.4 M192.4,756.8l5,0.1M192.4,756.8l-2.6,4.3M192.4,756.8l-2.4,-4.4 M215.1,603.2l1.6,4.8M215.1,603.2l-4.9,-1.1M215.1,603.2l3.4,-3.7 M135,578.3l2.9,4.1M135,578.3l-5,0.4M135,578.3l2.1,-4.5 M203.8,786.7l-0.5,5M203.8,786.7l-4.1,-2.9M203.8,786.7l4.6,-2 M390.2,813.3l-3.1,3.9M390.2,813.3l-1.8,-4.7M390.2,813.3l4.9,0.8 M436.5,714.1l2.6,4.3M436.5,714.1l-5,0.1M436.5,714.1l2.4,-4.4 M474.5,625.3l-3.2,3.8M474.5,625.3l-1.7,-4.7M474.5,625.3l4.9,0.9 M351.6,586.2l-4.3,2.5M351.6,586.2l0.1,-5M351.6,586.2l4.3,2.6" stroke="#cfc85a" stroke-width="1" fill="none" opacity="0.55"/>
</g>
<circle cx="352.6" cy="832.7" r="9.2" fill="url(#sph)" opacity="0.3"/><circle cx="449.4" cy="823" r="9.2" fill="url(#sph)" opacity="0.3"/><circle cx="208.7" cy="853.4" r="9.2" fill="url(#sph)" opacity="0.3"/><circle cx="153.4" cy="861.7" r="9.2" fill="url(#sph)" opacity="0.3"/><circle cx="250.2" cy="858.9" r="9.2" fill="url(#sph)" opacity="0.3"/><circle cx="391.3" cy="847.9" r="9.2" fill="url(#sph)" opacity="0.3"/>
<circle cx="297.6" cy="552.6" r="9.2" fill="url(#sph)" opacity="0.25"/><circle cx="307.9" cy="562.9" r="9.2" fill="url(#sph)" opacity="0.25"/><circle cx="323.6" cy="586.3" r="9.2" fill="url(#sph)" opacity="0.25"/><circle cx="347" cy="557.6" r="9.2" fill="url(#sph)" opacity="0.25"/><circle cx="345.4" cy="573.8" r="9.2" fill="url(#sph)" opacity="0.25"/>
<circle cx="64.3" cy="547.6" r="9.2" fill="url(#sph)"/><circle cx="79.4" cy="545.7" r="9.2" fill="url(#sph)"/><circle cx="93.1" cy="561.6" r="9.2" fill="url(#sph)"/><circle cx="106.2" cy="569.8" r="9.2" fill="url(#sph)"/><circle cx="61.6" cy="589.5" r="9.2" fill="url(#sph)"/><circle cx="105.4" cy="589.5" r="9.2" fill="url(#sph)"/><circle cx="115" cy="600.4" r="9.2" fill="url(#sph)"/><circle cx="129.2" cy="567.6" r="9.2" fill="url(#sph)"/><circle cx="128.7" cy="579.1" r="9.2" fill="url(#sph)"/><circle cx="133.3" cy="585.4" r="9.2" fill="url(#sph)"/><circle cx="139.6" cy="540.8" r="9.2" fill="url(#sph)"/><circle cx="151.9" cy="549.8" r="9.2" fill="url(#sph)"/><circle cx="164.2" cy="566.2" r="9.2" fill="url(#sph)"/><circle cx="156" cy="575.8" r="9.2" fill="url(#sph)"/><circle cx="161.5" cy="574.4" r="9.2" fill="url(#sph)"/><circle cx="165.6" cy="569.8" r="9.2" fill="url(#sph)"/><circle cx="171.1" cy="603.2" r="9.2" fill="url(#sph)"/><circle cx="184.8" cy="540.8" r="9.2" fill="url(#sph)"/><circle cx="194.4" cy="556.1" r="9.2" fill="url(#sph)"/><circle cx="214.1" cy="550.4" r="9.2" fill="url(#sph)"/><circle cx="237.5" cy="549.4" r="9.2" fill="url(#sph)"/><circle cx="210.9" cy="569.1" r="9.2" fill="url(#sph)"/><circle cx="223.5" cy="572.3" r="9.2" fill="url(#sph)"/><circle cx="236" cy="566" r="9.2" fill="url(#sph)"/><circle cx="246.9" cy="579.5" r="9.2" fill="url(#sph)"/><circle cx="258.8" cy="588.9" r="9.2" fill="url(#sph)"/><circle cx="273.5" cy="572.3" r="9.2" fill="url(#sph)"/><circle cx="292.3" cy="586.3" r="9.2" fill="url(#sph)"/><circle cx="322.6" cy="605.1" r="9.2" fill="url(#sph)"/><circle cx="362.7" cy="573.8" r="9.2" fill="url(#sph)"/><circle cx="361.1" cy="584.8" r="9.2" fill="url(#sph)"/><circle cx="367.3" cy="594.2" r="9.2" fill="url(#sph)"/><circle cx="383.9" cy="589.5" r="9.2" fill="url(#sph)"/><circle cx="379.9" cy="559.8" r="9.2" fill="url(#sph)"/><circle cx="388.6" cy="570.7" r="9.2" fill="url(#sph)"/><circle cx="400.2" cy="560.7" r="9.2" fill="url(#sph)"/><circle cx="404.9" cy="559.8" r="9.2" fill="url(#sph)"/><circle cx="410.2" cy="548.2" r="9.2" fill="url(#sph)"/><circle cx="425.8" cy="539.4" r="9.2" fill="url(#sph)"/><circle cx="425.8" cy="562" r="9.2" fill="url(#sph)"/><circle cx="419" cy="573.2" r="9.2" fill="url(#sph)"/><circle cx="429.9" cy="573.8" r="9.2" fill="url(#sph)"/><circle cx="442.4" cy="573.2" r="9.2" fill="url(#sph)"/><circle cx="447.1" cy="572.3" r="9.2" fill="url(#sph)"/><circle cx="452.7" cy="563.8" r="9.2" fill="url(#sph)"/><circle cx="462.7" cy="567" r="9.2" fill="url(#sph)"/><circle cx="472.1" cy="547.3" r="9.2" fill="url(#sph)"/><circle cx="508.1" cy="557.6" r="9.2" fill="url(#sph)"/><circle cx="509.7" cy="580.1" r="9.2" fill="url(#sph)"/><circle cx="519" cy="574.5" r="9.2" fill="url(#sph)"/><circle cx="489.3" cy="590.4" r="9.2" fill="url(#sph)"/><circle cx="539.4" cy="565.1" r="9.2" fill="url(#sph)"/>
<circle cx="55.2" cy="839.6" r="9.2" fill="url(#sph)"/><circle cx="67.7" cy="856.2" r="9.2" fill="url(#sph)"/><circle cx="109.2" cy="835.4" r="9.2" fill="url(#sph)"/><circle cx="110.5" cy="849.3" r="9.2" fill="url(#sph)"/><circle cx="138.2" cy="842.4" r="9.2" fill="url(#sph)"/><circle cx="156.2" cy="836.8" r="9.2" fill="url(#sph)"/><circle cx="152" cy="847.9" r="9.2" fill="url(#sph)"/><circle cx="175.5" cy="827.1" r="9.2" fill="url(#sph)"/><circle cx="190.8" cy="829.1" r="9.2" fill="url(#sph)"/><circle cx="190.8" cy="861.7" r="9.2" fill="url(#sph)"/><circle cx="206" cy="864.5" r="9.2" fill="url(#sph)"/><circle cx="215.7" cy="839.6" r="9.2" fill="url(#sph)"/><circle cx="230.3" cy="842.4" r="9.2" fill="url(#sph)"/><circle cx="262.7" cy="839.6" r="9.2" fill="url(#sph)"/><circle cx="266.8" cy="850.7" r="9.2" fill="url(#sph)"/><circle cx="277.3" cy="853.4" r="9.2" fill="url(#sph)"/><circle cx="275.1" cy="865.9" r="9.2" fill="url(#sph)"/><circle cx="260.7" cy="875" r="9.2" fill="url(#sph)"/><circle cx="305.6" cy="824.4" r="9.2" fill="url(#sph)"/><circle cx="302.8" cy="845.1" r="9.2" fill="url(#sph)"/><circle cx="319.4" cy="847.9" r="9.2" fill="url(#sph)"/><circle cx="305.6" cy="853.4" r="9.2" fill="url(#sph)"/><circle cx="310.5" cy="860.3" r="9.2" fill="url(#sph)"/><circle cx="309.7" cy="868.6" r="9.2" fill="url(#sph)"/><circle cx="305" cy="876.9" r="9.2" fill="url(#sph)"/><circle cx="349.8" cy="857.6" r="9.2" fill="url(#sph)"/><circle cx="355.4" cy="852.9" r="9.2" fill="url(#sph)"/><circle cx="362.3" cy="875.5" r="9.2" fill="url(#sph)"/><circle cx="376.1" cy="864.5" r="9.2" fill="url(#sph)"/><circle cx="384.4" cy="867.2" r="9.2" fill="url(#sph)"/><circle cx="428.7" cy="850.7" r="9.2" fill="url(#sph)"/><circle cx="428.7" cy="863.1" r="9.2" fill="url(#sph)"/><circle cx="444.4" cy="859.5" r="9.2" fill="url(#sph)"/><circle cx="452.2" cy="799.5" r="9.2" fill="url(#sph)"/><circle cx="470.2" cy="835.4" r="9.2" fill="url(#sph)"/><circle cx="485.9" cy="820.2" r="9.2" fill="url(#sph)"/><circle cx="486.7" cy="829.9" r="9.2" fill="url(#sph)"/><circle cx="488.1" cy="839.6" r="9.2" fill="url(#sph)"/><circle cx="500.6" cy="829.9" r="9.2" fill="url(#sph)"/><circle cx="519.9" cy="847.9" r="9.2" fill="url(#sph)"/><circle cx="528.2" cy="820.2" r="9.2" fill="url(#sph)"/><circle cx="531" cy="834.1" r="9.2" fill="url(#sph)"/>
</g>
<text x="256" y="544.3" font-size="34" textLength="24.6" lengthAdjust="spacingAndGlyphs" >N</text>
<text x="59.7" y="686" font-size="34" textLength="95" lengthAdjust="spacingAndGlyphs" >EGFR</text>
<text x="58" y="722.3" font-size="32" textLength="118.6" lengthAdjust="spacingAndGlyphs" >активное</text>
<text x="58.9" y="751" font-size="32" textLength="132.7" lengthAdjust="spacingAndGlyphs" >состояние</text>
<text x="202" y="712" font-size="24" font-family="'Liberation Sans',Arial,sans-serif" font-weight="bold" fill="#f28e1e" textLength="28" lengthAdjust="spacingAndGlyphs" >25</text>
<text x="410" y="689" font-size="34" textLength="77" lengthAdjust="spacingAndGlyphs" >ТМД</text>
<text x="212" y="907.4" font-size="29" font-family="'Liberation Sans',Arial,sans-serif" textLength="19" lengthAdjust="spacingAndGlyphs" >C</text>
<rect x="83.7" y="962.7" width="437.6" height="22" fill="url(#gcb)" stroke="#111" stroke-width="1.6"/>
<line x1="83.7" y1="953" x2="83.7" y2="963" stroke="#111" stroke-width="1.4"/>
<line x1="299.2" y1="953" x2="299.2" y2="963" stroke="#111" stroke-width="1.4"/>
<line x1="521.3" y1="953" x2="521.3" y2="963" stroke="#111" stroke-width="1.4"/>
<text x="63.8" y="947" font-size="34.5" textLength="46" lengthAdjust="spacingAndGlyphs" >0.0</text>
<text x="278" y="947" font-size="34.5" textLength="45.6" lengthAdjust="spacingAndGlyphs" >0.5</text>
<text x="497.2" y="947" font-size="34.5" textLength="43.8" lengthAdjust="spacingAndGlyphs" >1.0</text>
<text x="99.5" y="1012.5" font-size="28.5" textLength="372" lengthAdjust="spacingAndGlyphs" >Частота контактов с липидами</text>
<rect x="555" y="513.5" width="327" height="244" fill="#000"/>
<rect x="555" y="767.3" width="327" height="243.2" fill="#000"/>
<g clip-path="url(#cn)"><g filter="url(#sfb)">
<rect x="640" y="558" width="175" height="161" rx="40" fill="#7c6464"/>
<circle cx="667.4" cy="598" r="8.5" fill="url(#q5)"/><circle cx="647.8" cy="580.8" r="6.9" fill="url(#q6)"/><circle cx="662.4" cy="684.2" r="7.5" fill="url(#q7)"/><circle cx="761.3" cy="570" r="7.5" fill="url(#q9)"/><circle cx="750.8" cy="722" r="6.7" fill="url(#q6)"/><circle cx="792.2" cy="635.1" r="7.5" fill="url(#q7)"/><circle cx="745.8" cy="655.8" r="9" fill="url(#q6)"/><circle cx="709" cy="602.4" r="8.6" fill="url(#q6)"/><circle cx="754.6" cy="603.1" r="6.9" fill="url(#q6)"/><circle cx="774.3" cy="685.3" r="7.9" fill="url(#q7)"/><circle cx="709.4" cy="586.9" r="8.4" fill="url(#q6)"/><circle cx="730.4" cy="569.3" r="7.8" fill="url(#q6)"/><circle cx="710.3" cy="614.5" r="8.3" fill="url(#q4)"/><circle cx="644.2" cy="566" r="8.2" fill="url(#q7)"/><circle cx="636.6" cy="717.6" r="8.2" fill="url(#p9)"/><circle cx="723.9" cy="597.2" r="5.7" fill="url(#p7)"/><circle cx="755.5" cy="676.5" r="8" fill="url(#q7)"/><circle cx="817.4" cy="658.1" r="5.7" fill="url(#p7)"/><circle cx="759.8" cy="545.1" r="8.3" fill="url(#p7)"/><circle cx="814.5" cy="621.2" r="6.6" fill="url(#q7)"/><circle cx="783.9" cy="605" r="8.5" fill="url(#q7)"/><circle cx="728.5" cy="609.5" r="8.8" fill="url(#q7)"/><circle cx="657.7" cy="678.8" r="6.6" fill="url(#p7)"/><circle cx="719" cy="675.9" r="6.9" fill="url(#q1)"/><circle cx="717.4" cy="591.8" r="8.3" fill="url(#q6)"/><circle cx="696.2" cy="700.1" r="7.8" fill="url(#q8)"/><circle cx="791.2" cy="658.6" r="6.7" fill="url(#q7)"/><circle cx="680.3" cy="565.8" r="7.5" fill="url(#q5)"/><circle cx="710.1" cy="658.8" r="6.9" fill="url(#q6)"/><circle cx="814.7" cy="664.3" r="9" fill="url(#q7)"/><circle cx="796.8" cy="609.7" r="8.3" fill="url(#p7)"/><circle cx="678" cy="666.3" r="7.5" fill="url(#p6)"/><circle cx="664.5" cy="607.2" r="7" fill="url(#q4)"/><circle cx="714.4" cy="664.6" r="8.5" fill="url(#q5)"/><circle cx="651.4" cy="573.1" r="7.7" fill="url(#p4)"/><circle cx="706.6" cy="700.8" r="7.3" fill="url(#p7)"/><circle cx="635.4" cy="669.9" r="7.2" fill="url(#p8)"/><circle cx="744.7" cy="633.1" r="9.1" fill="url(#q6)"/><circle cx="716.9" cy="714.3" r="7.1" fill="url(#q7)"/><circle cx="740.2" cy="562.7" r="7.4" fill="url(#q7)"/><circle cx="812.6" cy="574.5" r="7.2" fill="url(#q9)"/><circle cx="715.4" cy="672.1" r="7.5" fill="url(#p2)"/><circle cx="804.8" cy="681.2" r="9.2" fill="url(#q7)"/><circle cx="796.7" cy="553.9" r="8.1" fill="url(#p9)"/><circle cx="652.2" cy="642" r="7.1" fill="url(#q6)"/><circle cx="770.9" cy="643.3" r="8.2" fill="url(#p3)"/><circle cx="747.7" cy="626.7" r="9.2" fill="url(#q7)"/><circle cx="725.1" cy="655.2" r="7.8" fill="url(#q7)"/><circle cx="748.2" cy="666" r="7.2" fill="url(#q6)"/><circle cx="709.8" cy="696.1" r="6.4" fill="url(#q7)"/><circle cx="717.6" cy="657" r="7.9" fill="url(#q6)"/><circle cx="654.2" cy="560.8" r="8.2" fill="url(#p5)"/><circle cx="785.4" cy="567.4" r="8.9" fill="url(#q9)"/><circle cx="738.1" cy="680.1" r="7.6" fill="url(#p6)"/><circle cx="797.8" cy="626.9" r="8.3" fill="url(#q7)"/><circle cx="684.7" cy="641" r="7.4" fill="url(#p3)"/><circle cx="685.1" cy="580.6" r="5.9" fill="url(#p5)"/><circle cx="731.4" cy="707.7" r="7.8" fill="url(#p7)"/><circle cx="752.6" cy="699.3" r="8.2" fill="url(#q7)"/><circle cx="794.7" cy="633.5" r="8.2" fill="url(#q7)"/><circle cx="774.6" cy="603.2" r="7.8" fill="url(#q6)"/><circle cx="743" cy="553.6" r="7.4" fill="url(#q8)"/><circle cx="659.9" cy="728.3" r="6.7" fill="url(#p9)"/><circle cx="711.6" cy="553.7" r="8" fill="url(#p6)"/><circle cx="824.5" cy="678" r="8.6" fill="url(#q7)"/><circle cx="723.5" cy="680.1" r="8" fill="url(#q5)"/><circle cx="817.8" cy="643.2" r="8.3" fill="url(#p8)"/><circle cx="651.1" cy="657.9" r="7.8" fill="url(#p7)"/><circle cx="748.1" cy="559.5" r="8.2" fill="url(#q8)"/><circle cx="820.4" cy="683.2" r="6.5" fill="url(#q7)"/><circle cx="760.6" cy="701.7" r="7.9" fill="url(#p8)"/><circle cx="654.7" cy="707.9" r="7" fill="url(#p7)"/><circle cx="767.4" cy="618.4" r="9" fill="url(#q6)"/><circle cx="776.7" cy="613.1" r="7.2" fill="url(#p7)"/><circle cx="640.1" cy="677.5" r="6.4" fill="url(#p7)"/><circle cx="669.7" cy="639.2" r="6.5" fill="url(#q6)"/><circle cx="788.8" cy="592.2" r="7" fill="url(#p7)"/><circle cx="732.4" cy="589.2" r="6.5" fill="url(#q7)"/><circle cx="699.8" cy="575.2" r="6.6" fill="url(#q6)"/><circle cx="658.7" cy="724.4" r="7.9" fill="url(#p9)"/><circle cx="806.2" cy="632.6" r="8.3" fill="url(#p7)"/><circle cx="693.6" cy="658.8" r="6.9" fill="url(#q6)"/><circle cx="810.3" cy="648.3" r="7.6" fill="url(#q7)"/><circle cx="647.2" cy="669.9" r="7.6" fill="url(#p7)"/><circle cx="699.6" cy="601.9" r="7.8" fill="url(#p5)"/><circle cx="716.8" cy="625.2" r="6.3" fill="url(#p5)"/><circle cx="799.1" cy="602.8" r="6.4" fill="url(#q7)"/><circle cx="739.6" cy="708.9" r="8.1" fill="url(#q7)"/><circle cx="763.1" cy="625.9" r="9.1" fill="url(#q5)"/><circle cx="826" cy="594.3" r="5.7" fill="url(#p6)"/><circle cx="755.5" cy="591.6" r="8.3" fill="url(#q8)"/><circle cx="759.5" cy="584.9" r="6.5" fill="url(#q9)"/><circle cx="767.7" cy="661.3" r="8.1" fill="url(#q6)"/><circle cx="709.2" cy="713.5" r="8" fill="url(#q6)"/><circle cx="789.3" cy="722.6" r="7.3" fill="url(#p8)"/><circle cx="717.4" cy="567.7" r="8.2" fill="url(#p7)"/><circle cx="748.2" cy="721.9" r="5.9" fill="url(#p8)"/><circle cx="701.2" cy="661.9" r="8.1" fill="url(#q6)"/><circle cx="755.8" cy="685.2" r="7.3" fill="url(#q7)"/><circle cx="792.8" cy="596.7" r="8" fill="url(#p7)"/><circle cx="700.4" cy="712.8" r="7.1" fill="url(#q7)"/><circle cx="669" cy="694.2" r="7.4" fill="url(#q7)"/><circle cx="676.6" cy="626.6" r="7.5" fill="url(#q4)"/><circle cx="664.3" cy="558.6" r="7.9" fill="url(#q5)"/><circle cx="684.7" cy="552" r="7.7" fill="url(#q7)"/><circle cx="687.2" cy="602.3" r="7.7" fill="url(#p6)"/><circle cx="627.7" cy="612.8" r="7.3" fill="url(#p11)"/><circle cx="775.9" cy="710.8" r="8.9" fill="url(#q8)"/><circle cx="682.1" cy="720.6" r="8" fill="url(#p8)"/><circle cx="805.8" cy="568.9" r="7.8" fill="url(#p9)"/><circle cx="663.8" cy="724.8" r="7.4" fill="url(#p8)"/><circle cx="715.9" cy="562.5" r="7" fill="url(#q8)"/><circle cx="654" cy="636.1" r="6.7" fill="url(#p6)"/><circle cx="647.5" cy="635.8" r="7.8" fill="url(#p7)"/><circle cx="804.2" cy="595.9" r="7.4" fill="url(#p7)"/><circle cx="644.9" cy="729.3" r="6.5" fill="url(#p9)"/><circle cx="746.9" cy="610.8" r="6.1" fill="url(#p6)"/><circle cx="791.3" cy="707.7" r="6.5" fill="url(#p7)"/><circle cx="673.6" cy="713.5" r="8.2" fill="url(#p7)"/><circle cx="788.5" cy="671.7" r="8.3" fill="url(#p7)"/><circle cx="686.4" cy="672.7" r="6.5" fill="url(#p6)"/><circle cx="696" cy="680.3" r="7.7" fill="url(#q6)"/><circle cx="788.8" cy="580" r="5.7" fill="url(#p8)"/><circle cx="738.8" cy="611.9" r="7.9" fill="url(#q6)"/><circle cx="755.6" cy="581.3" r="6.4" fill="url(#q9)"/><circle cx="701.5" cy="589.4" r="7.1" fill="url(#p6)"/><circle cx="747.8" cy="710" r="6.2" fill="url(#p7)"/><circle cx="766" cy="597" r="6.3" fill="url(#p7)"/><circle cx="761.8" cy="666.4" r="6.6" fill="url(#p7)"/><circle cx="731" cy="673.2" r="8.3" fill="url(#p6)"/><circle cx="725.6" cy="710.1" r="6.3" fill="url(#p7)"/><circle cx="676.6" cy="592.5" r="7.4" fill="url(#p5)"/><circle cx="780.5" cy="720.9" r="8.2" fill="url(#p8)"/><circle cx="767.8" cy="733.3" r="6.8" fill="url(#p9)"/><circle cx="791.1" cy="565.9" r="5.8" fill="url(#p9)"/><circle cx="824.3" cy="671.2" r="6.1" fill="url(#p7)"/><circle cx="650" cy="554.9" r="7.8" fill="url(#p7)"/><circle cx="669.9" cy="673.6" r="7.6" fill="url(#q6)"/><circle cx="803.2" cy="648.8" r="6.9" fill="url(#p7)"/><circle cx="657.2" cy="596.5" r="8.3" fill="url(#p5)"/><circle cx="669.8" cy="710.4" r="8" fill="url(#p7)"/><circle cx="671" cy="648.8" r="7.7" fill="url(#q6)"/><circle cx="766.9" cy="655.8" r="7" fill="url(#p6)"/><circle cx="702.7" cy="565.7" r="7.7" fill="url(#q8)"/><circle cx="709.1" cy="672.1" r="6.3" fill="url(#p1)"/><circle cx="731.1" cy="538.8" r="6.7" fill="url(#p7)"/><circle cx="760" cy="677.4" r="7.2" fill="url(#p6)"/><circle cx="813.3" cy="625.2" r="6.7" fill="url(#p7)"/><circle cx="805.6" cy="672.5" r="6.2" fill="url(#p7)"/><circle cx="751" cy="707.5" r="7.7" fill="url(#p6)"/><circle cx="688.4" cy="611.2" r="7.4" fill="url(#p5)"/><circle cx="711.2" cy="561.1" r="5.7" fill="url(#p6)"/><circle cx="709.1" cy="621.1" r="7.7" fill="url(#p4)"/><circle cx="643.9" cy="579.6" r="6.6" fill="url(#p6)"/><circle cx="768.8" cy="589.2" r="6.9" fill="url(#p9)"/><circle cx="788.3" cy="662.2" r="8.7" fill="url(#q8)"/><circle cx="662.3" cy="572.9" r="6.5" fill="url(#p3)"/><circle cx="647.7" cy="729.6" r="6.9" fill="url(#p9)"/><circle cx="738.5" cy="727.6" r="6.7" fill="url(#p8)"/><circle cx="708" cy="676.9" r="7.1" fill="url(#q1)"/><circle cx="726.4" cy="698.7" r="8.3" fill="url(#p6)"/><circle cx="784" cy="662" r="7.7" fill="url(#p6)"/><circle cx="728.3" cy="661.5" r="7.1" fill="url(#q7)"/><circle cx="721.4" cy="650.9" r="7.6" fill="url(#p7)"/><circle cx="699.5" cy="625.1" r="6.8" fill="url(#p3)"/><circle cx="702.7" cy="706.7" r="6.2" fill="url(#p6)"/><circle cx="724.4" cy="691" r="6.6" fill="url(#p5)"/><circle cx="669.4" cy="680.5" r="5.6" fill="url(#p6)"/><circle cx="678.7" cy="700.3" r="7.3" fill="url(#p7)"/><circle cx="751.5" cy="621" r="6.7" fill="url(#p6)"/><circle cx="730.4" cy="688.5" r="5.8" fill="url(#p7)"/><circle cx="654.4" cy="625.7" r="7.9" fill="url(#p8)"/><circle cx="642.5" cy="589.9" r="6.8" fill="url(#q7)"/><circle cx="739.6" cy="555.5" r="6.9" fill="url(#q7)"/><circle cx="630.1" cy="657" r="7.6" fill="url(#p6)"/><circle cx="647.2" cy="709.4" r="7.7" fill="url(#p8)"/><circle cx="827.4" cy="569.3" r="7.2" fill="url(#p8)"/><circle cx="797.6" cy="668.4" r="5.7" fill="url(#p7)"/><circle cx="818.5" cy="598.5" r="6.6" fill="url(#p6)"/><circle cx="753.1" cy="554.2" r="7.8" fill="url(#p8)"/><circle cx="776.5" cy="721.1" r="7" fill="url(#p9)"/><circle cx="655.2" cy="546.8" r="5.9" fill="url(#p8)"/><circle cx="816.9" cy="626.6" r="6.9" fill="url(#p7)"/><circle cx="797.1" cy="658.2" r="6.4" fill="url(#p7)"/><circle cx="747.6" cy="594.7" r="7.9" fill="url(#p7)"/><circle cx="658.5" cy="669.7" r="6.4" fill="url(#p6)"/><circle cx="643.6" cy="640.6" r="6.6" fill="url(#p6)"/><circle cx="781.3" cy="583.7" r="6" fill="url(#p8)"/><circle cx="828.8" cy="589.2" r="6.3" fill="url(#p7)"/><circle cx="634.2" cy="688" r="7" fill="url(#p8)"/><circle cx="666.4" cy="658.5" r="5.7" fill="url(#p6)"/><circle cx="748.5" cy="669.3" r="7.6" fill="url(#p7)"/><circle cx="666" cy="708.1" r="6.5" fill="url(#p7)"/><circle cx="739.5" cy="699.2" r="6.5" fill="url(#p7)"/><circle cx="740" cy="643.5" r="7.9" fill="url(#p7)"/><circle cx="724.3" cy="569.1" r="6.2" fill="url(#p6)"/><circle cx="769.7" cy="605.3" r="7.3" fill="url(#p6)"/><circle cx="677.3" cy="713.3" r="6.8" fill="url(#p8)"/><circle cx="673.6" cy="570.3" r="7.9" fill="url(#p4)"/><circle cx="750.5" cy="657.6" r="6.6" fill="url(#p6)"/><circle cx="633" cy="651.6" r="6.2" fill="url(#p6)"/><circle cx="633.4" cy="639.8" r="6.6" fill="url(#p7)"/><circle cx="769.4" cy="723.3" r="8.2" fill="url(#p8)"/><circle cx="772.6" cy="681.5" r="6.5" fill="url(#p7)"/><circle cx="657.8" cy="567.3" r="7.1" fill="url(#p4)"/><circle cx="721.7" cy="684.6" r="7.8" fill="url(#p4)"/><circle cx="729.2" cy="559.8" r="7.5" fill="url(#p7)"/><circle cx="679.9" cy="562.7" r="7.2" fill="url(#p4)"/><circle cx="689.4" cy="692.2" r="6.6" fill="url(#p7)"/><circle cx="742.8" cy="701.1" r="5.6" fill="url(#p7)"/><circle cx="637.3" cy="580.2" r="7.3" fill="url(#p7)"/><circle cx="655.1" cy="686.3" r="6.9" fill="url(#p8)"/><circle cx="777.1" cy="672.9" r="6.5" fill="url(#p7)"/><circle cx="803.7" cy="629.7" r="7.4" fill="url(#p7)"/><circle cx="785.6" cy="699.8" r="7" fill="url(#p7)"/><circle cx="725.3" cy="671.3" r="6.9" fill="url(#p5)"/><circle cx="751.7" cy="546" r="7.1" fill="url(#p8)"/><circle cx="729.1" cy="628.3" r="5.7" fill="url(#p6)"/><circle cx="635.6" cy="637.1" r="5.7" fill="url(#p6)"/><circle cx="804.4" cy="721.9" r="6.1" fill="url(#p8)"/><circle cx="717" cy="575.1" r="7.9" fill="url(#p6)"/><circle cx="760" cy="642.8" r="6.9" fill="url(#p5)"/><circle cx="833.1" cy="594.5" r="7.1" fill="url(#p6)"/><circle cx="637.7" cy="607.2" r="7.9" fill="url(#p8)"/><circle cx="634.7" cy="572.2" r="6.3" fill="url(#p7)"/><circle cx="744.1" cy="577.1" r="6.5" fill="url(#p7)"/><circle cx="721.8" cy="666.1" r="7" fill="url(#p6)"/><circle cx="694.3" cy="649.4" r="7.6" fill="url(#p5)"/><circle cx="721.2" cy="614.2" r="8.1" fill="url(#p4)"/><circle cx="629.7" cy="665.7" r="7.1" fill="url(#p8)"/><circle cx="679.6" cy="658.8" r="7.7" fill="url(#p6)"/><circle cx="649.2" cy="748.1" r="7" fill="url(#p10)"/><circle cx="780.1" cy="629.4" r="8.4" fill="url(#p5)"/><circle cx="820.2" cy="647.1" r="5.8" fill="url(#p7)"/><circle cx="641.5" cy="687.7" r="6.5" fill="url(#p7)"/><circle cx="781.2" cy="671.1" r="7.4" fill="url(#p7)"/><circle cx="713.7" cy="616.9" r="7.9" fill="url(#p5)"/><circle cx="650.3" cy="717.2" r="5.7" fill="url(#p8)"/><circle cx="669.5" cy="544.9" r="6" fill="url(#p8)"/><circle cx="651.4" cy="619.6" r="6.9" fill="url(#p6)"/><circle cx="821.8" cy="621.7" r="6.5" fill="url(#p7)"/><circle cx="728.1" cy="555.2" r="7.4" fill="url(#p7)"/><circle cx="713.8" cy="548.3" r="7.4" fill="url(#p6)"/><circle cx="647.1" cy="561.7" r="7.4" fill="url(#p7)"/><circle cx="775.3" cy="715.1" r="7.3" fill="url(#p7)"/><circle cx="788.6" cy="677.1" r="6.4" fill="url(#p7)"/><circle cx="789.3" cy="703.1" r="7.6" fill="url(#p8)"/><circle cx="665.5" cy="715.9" r="6.7" fill="url(#p7)"/><circle cx="728.5" cy="620.2" r="8.4" fill="url(#p6)"/><circle cx="693" cy="589.6" r="7.3" fill="url(#p6)"/><circle cx="700.7" cy="581.9" r="6.1" fill="url(#p6)"/><circle cx="721.7" cy="589.5" r="7.2" fill="url(#p6)"/><circle cx="662.2" cy="546.3" r="6.1" fill="url(#p7)"/><circle cx="701.4" cy="669.3" r="5.7" fill="url(#p6)"/><circle cx="641.8" cy="562.2" r="6.9" fill="url(#p7)"/><circle cx="640.5" cy="611.1" r="7.7" fill="url(#p6)"/><circle cx="674.1" cy="618.1" r="5.7" fill="url(#p5)"/><circle cx="798.5" cy="716.3" r="5.7" fill="url(#p8)"/><circle cx="776.3" cy="642.2" r="8.1" fill="url(#p4)"/><circle cx="730.6" cy="692.8" r="8" fill="url(#p7)"/><circle cx="665.2" cy="568.5" r="6.9" fill="url(#p4)"/><circle cx="782.6" cy="637" r="5.8" fill="url(#p6)"/><circle cx="776.8" cy="555.2" r="7.8" fill="url(#p10)"/><circle cx="803.5" cy="607.4" r="6.7" fill="url(#p7)"/><circle cx="632.5" cy="587.1" r="6.5" fill="url(#p9)"/><circle cx="806.2" cy="701.9" r="5.7" fill="url(#p7)"/><circle cx="662.7" cy="690.7" r="7.8" fill="url(#p7)"/><circle cx="723.3" cy="603.2" r="6.4" fill="url(#p6)"/><circle cx="804.2" cy="664.8" r="7.8" fill="url(#p7)"/><circle cx="666.9" cy="551" r="8.2" fill="url(#p6)"/><circle cx="673.4" cy="624.9" r="6.4" fill="url(#p5)"/><circle cx="784.2" cy="554" r="6.6" fill="url(#p8)"/><circle cx="693.9" cy="713.4" r="7.3" fill="url(#p7)"/><circle cx="812.8" cy="673.4" r="8.1" fill="url(#p6)"/><circle cx="815.1" cy="702.7" r="7.9" fill="url(#p9)"/><circle cx="658.3" cy="640.6" r="7.8" fill="url(#p6)"/><circle cx="784.6" cy="715" r="6.8" fill="url(#p8)"/><circle cx="633.5" cy="694.7" r="6.7" fill="url(#p8)"/><circle cx="758.9" cy="613" r="7.5" fill="url(#p7)"/><circle cx="678.9" cy="550.2" r="7" fill="url(#p8)"/><circle cx="817.8" cy="701.5" r="7.1" fill="url(#p8)"/><circle cx="680.3" cy="642.8" r="7.4" fill="url(#p5)"/><circle cx="666.4" cy="636.1" r="5.7" fill="url(#p6)"/><circle cx="657.7" cy="551.5" r="8.2" fill="url(#p7)"/><circle cx="798.8" cy="693.7" r="6.9" fill="url(#p7)"/><circle cx="782.8" cy="619.6" r="6.4" fill="url(#p7)"/><circle cx="659.8" cy="603.1" r="7.8" fill="url(#p4)"/><circle cx="760.7" cy="621" r="7.3" fill="url(#p7)"/><circle cx="682" cy="594.4" r="6" fill="url(#p6)"/><circle cx="686.8" cy="656.5" r="7.5" fill="url(#p5)"/><circle cx="684.4" cy="651.4" r="6.1" fill="url(#p6)"/><circle cx="760.4" cy="635.5" r="6.6" fill="url(#p5)"/><circle cx="756" cy="575.1" r="6" fill="url(#p8)"/><circle cx="783.8" cy="650.4" r="6.3" fill="url(#p7)"/><circle cx="762.2" cy="687.3" r="7.6" fill="url(#p7)"/><circle cx="775.8" cy="547.6" r="7.4" fill="url(#p9)"/><circle cx="659" cy="619.8" r="6.8" fill="url(#p6)"/><circle cx="671.3" cy="656" r="7.1" fill="url(#p6)"/><circle cx="766.2" cy="717.8" r="6.8" fill="url(#p7)"/><circle cx="669.3" cy="632.8" r="6.8" fill="url(#p6)"/><circle cx="671.9" cy="576.3" r="6.9" fill="url(#p4)"/><circle cx="678.1" cy="685.7" r="7.1" fill="url(#p7)"/><circle cx="754.5" cy="661.6" r="6.8" fill="url(#p7)"/><circle cx="684.6" cy="679.7" r="8.3" fill="url(#p7)"/><circle cx="717.3" cy="553.3" r="5.7" fill="url(#p6)"/><circle cx="662" cy="539.8" r="6" fill="url(#p7)"/><circle cx="673.4" cy="610.3" r="6.8" fill="url(#p6)"/><circle cx="829.9" cy="620.2" r="6.4" fill="url(#p7)"/><circle cx="739.7" cy="662.7" r="8.1" fill="url(#p6)"/><circle cx="662.1" cy="627.7" r="5.9" fill="url(#p7)"/><circle cx="618.8" cy="640.6" r="6" fill="url(#p8)"/><circle cx="698.7" cy="595.4" r="6.1" fill="url(#p6)"/><circle cx="689.5" cy="687.1" r="7.6" fill="url(#p7)"/><circle cx="676.4" cy="619.5" r="5.8" fill="url(#p5)"/><circle cx="789.6" cy="576.8" r="6.7" fill="url(#p9)"/><circle cx="640.8" cy="634.4" r="7.7" fill="url(#p7)"/><circle cx="783.5" cy="594.6" r="7" fill="url(#p8)"/><circle cx="711.2" cy="651.9" r="6.8" fill="url(#p6)"/><circle cx="657.5" cy="650.2" r="6" fill="url(#p7)"/><circle cx="753.8" cy="598.7" r="5.7" fill="url(#p7)"/><circle cx="709.9" cy="685.2" r="6" fill="url(#p1)"/><circle cx="721.5" cy="550" r="6.3" fill="url(#p7)"/><circle cx="647.9" cy="685.1" r="6.5" fill="url(#p7)"/><circle cx="730.2" cy="714.2" r="6.5" fill="url(#p7)"/><circle cx="760.5" cy="718.5" r="7.6" fill="url(#p6)"/><circle cx="651.8" cy="691.8" r="5.9" fill="url(#p7)"/><circle cx="691.3" cy="624.5" r="7.9" fill="url(#p3)"/><circle cx="750.7" cy="633" r="6.6" fill="url(#p6)"/><circle cx="649.2" cy="604.5" r="8.3" fill="url(#p3)"/><circle cx="693.3" cy="673.7" r="7.3" fill="url(#p7)"/><circle cx="696.8" cy="620.3" r="7.8" fill="url(#p4)"/><circle cx="828.3" cy="584.8" r="6.7" fill="url(#p8)"/><circle cx="650" cy="587.7" r="6.6" fill="url(#p5)"/><circle cx="770.7" cy="545.3" r="6.6" fill="url(#p8)"/><circle cx="806.7" cy="580.2" r="8" fill="url(#p8)"/><circle cx="682.1" cy="668.4" r="6.7" fill="url(#p6)"/><circle cx="806.2" cy="612.4" r="6.3" fill="url(#p6)"/><circle cx="766.3" cy="585.4" r="8.2" fill="url(#p10)"/><circle cx="687.1" cy="629.2" r="7.4" fill="url(#p3)"/><circle cx="811.6" cy="677.6" r="7.8" fill="url(#p7)"/><circle cx="698.8" cy="678.1" r="7.6" fill="url(#p5)"/><circle cx="686.4" cy="591.4" r="7.8" fill="url(#p6)"/><circle cx="700.7" cy="683.5" r="6.9" fill="url(#p4)"/><circle cx="806.9" cy="620.4" r="7.2" fill="url(#p6)"/><circle cx="677" cy="651.8" r="6.5" fill="url(#p5)"/><circle cx="803.7" cy="718.2" r="6.8" fill="url(#p8)"/><circle cx="770" cy="562.3" r="7.7" fill="url(#p9)"/><circle cx="777.7" cy="580.2" r="5.9" fill="url(#p9)"/><circle cx="674.3" cy="587.4" r="7.4" fill="url(#p5)"/><circle cx="689.2" cy="714.1" r="6.1" fill="url(#p7)"/><circle cx="757.9" cy="599.7" r="6.4" fill="url(#p7)"/><circle cx="806.9" cy="589.2" r="5.8" fill="url(#p7)"/><circle cx="656.2" cy="701.3" r="7.1" fill="url(#p7)"/><circle cx="679.6" cy="695.2" r="7.5" fill="url(#p6)"/><circle cx="696.7" cy="572.5" r="7.8" fill="url(#p6)"/><circle cx="770.9" cy="651.6" r="5.7" fill="url(#p5)"/><circle cx="634.5" cy="564.8" r="8.3" fill="url(#p8)"/><circle cx="687.3" cy="598.6" r="7.2" fill="url(#p6)"/><circle cx="685.3" cy="702.8" r="7.8" fill="url(#p7)"/><circle cx="663.1" cy="671.5" r="5.6" fill="url(#p7)"/><circle cx="709.3" cy="721.4" r="5.9" fill="url(#p7)"/><circle cx="670.1" cy="685.8" r="7.8" fill="url(#p7)"/><circle cx="709" cy="580.4" r="7.5" fill="url(#p6)"/><circle cx="768.3" cy="701.5" r="6.9" fill="url(#p8)"/><circle cx="711" cy="666.7" r="7.1" fill="url(#p3)"/><circle cx="744.8" cy="693.4" r="8.3" fill="url(#p6)"/><circle cx="751" cy="567.3" r="6.9" fill="url(#p8)"/><circle cx="789.3" cy="642.5" r="6.8" fill="url(#p6)"/><circle cx="794.7" cy="723" r="7.2" fill="url(#p9)"/><circle cx="809.7" cy="683.9" r="6.6" fill="url(#p6)"/><circle cx="834.2" cy="670.9" r="5.6" fill="url(#p8)"/><circle cx="707.2" cy="628.1" r="7.8" fill="url(#p3)"/><circle cx="714.7" cy="599.6" r="6.9" fill="url(#p6)"/><circle cx="639.6" cy="551.2" r="7.5" fill="url(#p8)"/><circle cx="733.9" cy="676.5" r="6.5" fill="url(#p7)"/><circle cx="662.5" cy="620.9" r="6.7" fill="url(#p6)"/><circle cx="696.7" cy="634.7" r="6.6" fill="url(#p3)"/><circle cx="715.1" cy="700" r="7.9" fill="url(#p7)"/><circle cx="739.5" cy="671.3" r="6.1" fill="url(#p6)"/><circle cx="814.9" cy="614.6" r="8.2" fill="url(#p7)"/><circle cx="797.7" cy="683.4" r="5.9" fill="url(#p7)"/><circle cx="694.9" cy="614.9" r="5.7" fill="url(#p4)"/><circle cx="778.2" cy="620.4" r="8.3" fill="url(#p6)"/><circle cx="740" cy="604.8" r="5.8" fill="url(#p6)"/><circle cx="656" cy="576.7" r="5.9" fill="url(#p4)"/><circle cx="834.9" cy="683.8" r="6.5" fill="url(#p8)"/><circle cx="686.5" cy="634" r="7.5" fill="url(#p3)"/><circle cx="785.6" cy="575.1" r="8.2" fill="url(#p8)"/><circle cx="694.2" cy="582" r="8" fill="url(#p6)"/><circle cx="672.7" cy="728.7" r="6.8" fill="url(#p9)"/><circle cx="740.5" cy="580.8" r="7" fill="url(#p7)"/><circle cx="759.5" cy="555.8" r="6.5" fill="url(#p8)"/><circle cx="747.2" cy="584.2" r="7.1" fill="url(#p7)"/><circle cx="731.5" cy="604.1" r="7.7" fill="url(#p6)"/><circle cx="730.2" cy="723.8" r="7.3" fill="url(#p8)"/><circle cx="736.4" cy="636.2" r="5.9" fill="url(#p6)"/><circle cx="788.1" cy="693.9" r="7.2" fill="url(#p8)"/><circle cx="822.2" cy="611.6" r="7" fill="url(#p6)"/><circle cx="779.9" cy="640.6" r="7.9" fill="url(#p5)"/><circle cx="692.8" cy="561.3" r="6.9" fill="url(#p7)"/><circle cx="751.9" cy="691.4" r="7.2" fill="url(#p6)"/><circle cx="646.9" cy="677.5" r="5.7" fill="url(#p7)"/><circle cx="805.1" cy="643.3" r="7.3" fill="url(#p6)"/><circle cx="766" cy="694.4" r="6.9" fill="url(#p8)"/><circle cx="740.8" cy="565.2" r="8.3" fill="url(#p8)"/><circle cx="768.3" cy="629.5" r="7.7" fill="url(#p4)"/><circle cx="741.3" cy="598" r="7.7" fill="url(#p7)"/><circle cx="715.8" cy="611.2" r="6.2" fill="url(#p6)"/><circle cx="745" cy="683.9" r="8.1" fill="url(#p6)"/><circle cx="737.3" cy="627.1" r="7.6" fill="url(#p6)"/><circle cx="678.8" cy="610.6" r="5.8" fill="url(#p6)"/><circle cx="824.6" cy="693.4" r="6.9" fill="url(#p8)"/><circle cx="640.7" cy="673" r="5.9" fill="url(#p7)"/><circle cx="736.3" cy="620.9" r="6.8" fill="url(#p6)"/><circle cx="708.1" cy="594.8" r="8.2" fill="url(#p7)"/><circle cx="812.8" cy="634" r="6.2" fill="url(#p7)"/><circle cx="798.9" cy="569.5" r="6.9" fill="url(#p8)"/><circle cx="731.6" cy="730.8" r="8.4" fill="url(#p9)"/><circle cx="740.4" cy="577.4" r="8.2" fill="url(#p8)"/><circle cx="775.3" cy="625.1" r="5.9" fill="url(#p6)"/><circle cx="633.5" cy="731.4" r="8.3" fill="url(#p9)"/><circle cx="699.7" cy="694.5" r="7.7" fill="url(#p6)"/><circle cx="640.4" cy="626.4" r="6.4" fill="url(#p7)"/><circle cx="789.4" cy="613.3" r="6.1" fill="url(#p6)"/><circle cx="703.2" cy="616.8" r="7.6" fill="url(#p4)"/><circle cx="639.7" cy="607" r="7.4" fill="url(#p7)"/><circle cx="634.2" cy="663" r="8.2" fill="url(#p7)"/><circle cx="650.3" cy="703.5" r="5.8" fill="url(#p6)"/><circle cx="750.7" cy="713.7" r="5.7" fill="url(#p6)"/><circle cx="640.4" cy="619.8" r="7.5" fill="url(#p7)"/><circle cx="695.2" cy="721.5" r="6.8" fill="url(#p8)"/><circle cx="696" cy="642.1" r="8.4" fill="url(#p4)"/><circle cx="729.9" cy="574.3" r="6.7" fill="url(#p6)"/><circle cx="762" cy="721.3" r="6" fill="url(#p8)"/><circle cx="814.9" cy="606.8" r="6" fill="url(#p6)"/><circle cx="787.6" cy="715.9" r="8.2" fill="url(#p7)"/><circle cx="729.2" cy="699.2" r="7.9" fill="url(#p7)"/><circle cx="754.8" cy="609.5" r="6" fill="url(#p7)"/><circle cx="817.5" cy="705.5" r="6.1" fill="url(#p7)"/><circle cx="673.7" cy="724.6" r="8" fill="url(#p8)"/><circle cx="627.6" cy="668.5" r="5.7" fill="url(#p9)"/><circle cx="800.1" cy="618.9" r="8.2" fill="url(#p7)"/><circle cx="799" cy="591.4" r="6.9" fill="url(#p7)"/><circle cx="748.7" cy="607.3" r="6.1" fill="url(#p6)"/><circle cx="767.6" cy="672.8" r="7.3" fill="url(#p6)"/><circle cx="637" cy="736" r="7.8" fill="url(#p9)"/><circle cx="816.9" cy="637.1" r="8.2" fill="url(#p8)"/><circle cx="752.7" cy="638.7" r="5.8" fill="url(#p6)"/><circle cx="798.4" cy="707.6" r="7.2" fill="url(#p7)"/><circle cx="784.4" cy="680" r="7" fill="url(#p7)"/><circle cx="773.8" cy="662.7" r="5.7" fill="url(#p6)"/><circle cx="703.8" cy="720.2" r="6.4" fill="url(#p7)"/><circle cx="644.9" cy="720.1" r="7.1" fill="url(#p8)"/><circle cx="643" cy="647.2" r="8" fill="url(#p6)"/><circle cx="634.1" cy="624.8" r="7.6" fill="url(#p8)"/><circle cx="767.6" cy="676.1" r="8.3" fill="url(#p6)"/><circle cx="806.2" cy="690.6" r="7.8" fill="url(#p7)"/><circle cx="733.8" cy="597.6" r="6.7" fill="url(#p7)"/><circle cx="789.9" cy="558.9" r="7.2" fill="url(#p9)"/><circle cx="791.9" cy="555.3" r="8.3" fill="url(#p9)"/><circle cx="701.8" cy="647.6" r="5.8" fill="url(#p5)"/><circle cx="667" cy="702.4" r="6.4" fill="url(#p7)"/><circle cx="785.7" cy="591.6" r="6.5" fill="url(#p8)"/><circle cx="646.6" cy="753.9" r="8.1" fill="url(#p11)"/><circle cx="795.9" cy="559.7" r="6.3" fill="url(#p8)"/><circle cx="758.8" cy="738.8" r="5.8" fill="url(#p9)"/><circle cx="746.6" cy="730.1" r="8.3" fill="url(#p8)"/><circle cx="699" cy="640" r="5.6" fill="url(#p3)"/><circle cx="666.2" cy="612.7" r="5.8" fill="url(#p4)"/><circle cx="813.3" cy="597.6" r="5.7" fill="url(#p6)"/><circle cx="707.5" cy="566.7" r="5.9" fill="url(#p7)"/><circle cx="789.5" cy="649.5" r="7.6" fill="url(#p6)"/><circle cx="731.1" cy="642.5" r="6.8" fill="url(#p7)"/><circle cx="672.6" cy="701.5" r="6.4" fill="url(#p7)"/><circle cx="763.2" cy="728.3" r="7.8" fill="url(#p8)"/><circle cx="627.7" cy="576.6" r="7.2" fill="url(#p8)"/><circle cx="636.2" cy="560.7" r="6.1" fill="url(#p7)"/><circle cx="646.8" cy="666.2" r="8.3" fill="url(#p6)"/><circle cx="718.7" cy="631.8" r="6.3" fill="url(#p5)"/><circle cx="706.8" cy="639.4" r="7" fill="url(#p4)"/><circle cx="650.5" cy="597.6" r="6.6" fill="url(#p5)"/><circle cx="781.5" cy="609.9" r="6.6" fill="url(#p7)"/><circle cx="789.2" cy="687.6" r="6" fill="url(#p7)"/><circle cx="655.9" cy="663.8" r="8" fill="url(#p7)"/><circle cx="738.4" cy="539" r="7" fill="url(#p7)"/><circle cx="628.8" cy="629.7" r="5.9" fill="url(#p9)"/><circle cx="751.8" cy="629.1" r="8" fill="url(#p5)"/><circle cx="776" cy="572.2" r="6.1" fill="url(#p9)"/><circle cx="710.1" cy="707.2" r="8" fill="url(#p8)"/><circle cx="726.1" cy="641.2" r="5.7" fill="url(#p6)"/><circle cx="748.1" cy="714.5" r="6.2" fill="url(#p7)"/><circle cx="743.4" cy="545.9" r="6.4" fill="url(#p8)"/><circle cx="755.4" cy="739.1" r="6.8" fill="url(#p9)"/><circle cx="767.2" cy="635.3" r="7.2" fill="url(#p4)"/><circle cx="659.8" cy="714.9" r="6.7" fill="url(#p8)"/><circle cx="648.4" cy="629.6" r="6.9" fill="url(#p7)"/><circle cx="710.5" cy="633.7" r="5.9" fill="url(#p4)"/><circle cx="673.1" cy="604.4" r="8" fill="url(#p6)"/><circle cx="715.5" cy="722.2" r="6.1" fill="url(#p7)"/><circle cx="722" cy="715.5" r="8.2" fill="url(#p8)"/><circle cx="634.6" cy="655.9" r="5.8" fill="url(#p7)"/><circle cx="681.4" cy="705.6" r="7.3" fill="url(#p7)"/><circle cx="773.1" cy="633.6" r="6.3" fill="url(#p4)"/><circle cx="822.6" cy="679.3" r="7.2" fill="url(#p7)"/><circle cx="703.8" cy="698.1" r="6.7" fill="url(#p7)"/><circle cx="767.3" cy="568" r="8.1" fill="url(#p9)"/><circle cx="642.7" cy="661.1" r="8.1" fill="url(#p6)"/><circle cx="748.4" cy="568.9" r="7.9" fill="url(#p7)"/><circle cx="776" cy="589.8" r="6.2" fill="url(#p8)"/><circle cx="737.5" cy="721.7" r="6" fill="url(#p7)"/><circle cx="821" cy="591.4" r="7.8" fill="url(#p7)"/><circle cx="724.4" cy="582.6" r="7.8" fill="url(#p7)"/><circle cx="688.9" cy="662" r="6.4" fill="url(#p6)"/><circle cx="825.8" cy="574.8" r="7.2" fill="url(#p9)"/><circle cx="682" cy="606.5" r="7.2" fill="url(#p6)"/><circle cx="673" cy="560.2" r="7.7" fill="url(#p4)"/><circle cx="715.6" cy="639.1" r="5.8" fill="url(#p5)"/><circle cx="721.7" cy="625.5" r="7.2" fill="url(#p6)"/><circle cx="665.2" cy="729.7" r="5.8" fill="url(#p10)"/><circle cx="685.2" cy="557.3" r="5.8" fill="url(#p6)"/><circle cx="694.7" cy="604.3" r="7.3" fill="url(#p6)"/><circle cx="797.8" cy="597.8" r="7.1" fill="url(#p8)"/><circle cx="811.8" cy="692.6" r="7.2" fill="url(#p7)"/><circle cx="760.8" cy="654.9" r="7" fill="url(#p6)"/><circle cx="803.4" cy="657.9" r="6.2" fill="url(#p7)"/><circle cx="799.6" cy="581.9" r="6.7" fill="url(#p9)"/><circle cx="695.8" cy="707.6" r="6.6" fill="url(#p7)"/><circle cx="733.1" cy="583.1" r="8.3" fill="url(#p7)"/><circle cx="790.7" cy="605.4" r="7.6" fill="url(#p7)"/><circle cx="681.2" cy="576.1" r="7.7" fill="url(#p4)"/><circle cx="753.7" cy="559.1" r="6.2" fill="url(#p9)"/><circle cx="745.1" cy="640.6" r="5.7" fill="url(#p7)"/><circle cx="663.5" cy="583.1" r="5.7" fill="url(#p5)"/><circle cx="699.1" cy="732.4" r="6.3" fill="url(#p10)"/><circle cx="773.4" cy="597.2" r="6.1" fill="url(#p7)"/><circle cx="731.3" cy="634.4" r="6.1" fill="url(#p7)"/><circle cx="776.7" cy="562.9" r="5.6" fill="url(#p9)"/><circle cx="709.9" cy="730.1" r="7.2" fill="url(#p9)"/><circle cx="649.8" cy="724.8" r="6.2" fill="url(#p9)"/><circle cx="736.9" cy="649.4" r="6.4" fill="url(#p7)"/><circle cx="724.5" cy="724.8" r="6.7" fill="url(#p9)"/><circle cx="647.1" cy="647.5" r="8" fill="url(#p6)"/><circle cx="677.5" cy="544" r="7.1" fill="url(#p8)"/><circle cx="640.9" cy="715" r="7.2" fill="url(#p8)"/><circle cx="761.6" cy="706.6" r="6.8" fill="url(#p7)"/><circle cx="776.3" cy="647.9" r="8.3" fill="url(#p5)"/><circle cx="732.6" cy="544.4" r="6.9" fill="url(#p6)"/><circle cx="655.8" cy="692.5" r="5.6" fill="url(#p7)"/><circle cx="767.6" cy="734.9" r="6.1" fill="url(#p7)"/><circle cx="797.9" cy="677.1" r="7.8" fill="url(#p6)"/><circle cx="725.5" cy="632.5" r="6.2" fill="url(#p5)"/><circle cx="765.5" cy="553.1" r="7.2" fill="url(#p9)"/><circle cx="757.8" cy="647.1" r="7.8" fill="url(#p6)"/><circle cx="725.6" cy="575.4" r="6.6" fill="url(#p6)"/><circle cx="654.5" cy="609.7" r="6.1" fill="url(#p4)"/><circle cx="773.8" cy="653.8" r="8.3" fill="url(#p5)"/><circle cx="642.9" cy="657.5" r="6.5" fill="url(#p6)"/><circle cx="718.4" cy="691.8" r="7.7" fill="url(#p5)"/><circle cx="814.7" cy="592" r="7" fill="url(#p6)"/><circle cx="647.5" cy="564.9" r="8" fill="url(#p6)"/><circle cx="685.1" cy="708.2" r="8" fill="url(#p7)"/><circle cx="703.5" cy="633" r="7.6" fill="url(#p4)"/><circle cx="722.6" cy="561.2" r="6.7" fill="url(#p7)"/><circle cx="658.1" cy="581.3" r="6" fill="url(#p4)"/><circle cx="754.9" cy="669.2" r="6.1" fill="url(#p7)"/><circle cx="666.3" cy="639.2" r="7.4" fill="url(#p6)"/><circle cx="798.6" cy="665.5" r="7.1" fill="url(#p7)"/><circle cx="663.4" cy="651.5" r="7.8" fill="url(#p7)"/><circle cx="656.9" cy="659.3" r="8" fill="url(#p7)"/><circle cx="743.1" cy="677.1" r="7.3" fill="url(#p6)"/><circle cx="822.6" cy="570.4" r="8.3" fill="url(#p8)"/><circle cx="729.7" cy="651.4" r="6.4" fill="url(#p6)"/><circle cx="634" cy="611.9" r="7.4" fill="url(#p9)"/><circle cx="725" cy="621.8" r="6.4" fill="url(#p6)"/><circle cx="791.5" cy="620.6" r="6.8" fill="url(#p7)"/><circle cx="785.6" cy="706" r="6.4" fill="url(#p8)"/><circle cx="731.6" cy="653.9" r="7.9" fill="url(#p6)"/><circle cx="707.6" cy="576.4" r="8.3" fill="url(#p6)"/><circle cx="714.9" cy="683.1" r="7.6" fill="url(#p1)"/><circle cx="816.9" cy="580.6" r="7.5" fill="url(#p8)"/><circle cx="715.9" cy="605.6" r="8" fill="url(#p6)"/><circle cx="835.5" cy="676" r="6.7" fill="url(#p8)"/><circle cx="626.8" cy="642.6" r="7.2" fill="url(#p6)"/><circle cx="822.5" cy="577.5" r="7.9" fill="url(#p8)"/><circle cx="781.9" cy="692.9" r="5.7" fill="url(#p8)"/><circle cx="746.7" cy="617.9" r="5.7" fill="url(#p5)"/><circle cx="777.6" cy="569.4" r="7.3" fill="url(#p8)"/><circle cx="826.4" cy="628.6" r="6.3" fill="url(#p8)"/><circle cx="696" cy="662.9" r="6.9" fill="url(#p7)"/><circle cx="700.3" cy="653.8" r="7.6" fill="url(#p6)"/><circle cx="699.6" cy="558.2" r="6" fill="url(#p8)"/><circle cx="640.3" cy="700.6" r="7" fill="url(#p8)"/><circle cx="618.9" cy="632.8" r="5.8" fill="url(#p9)"/><circle cx="715.2" cy="709.7" r="7.7" fill="url(#p7)"/><circle cx="812.8" cy="658.8" r="6.5" fill="url(#p6)"/><circle cx="735.8" cy="692.7" r="8.4" fill="url(#p7)"/><circle cx="735.7" cy="713" r="5.7" fill="url(#p7)"/><circle cx="761.8" cy="591.9" r="7.8" fill="url(#p9)"/><circle cx="799.4" cy="646.1" r="8" fill="url(#p6)"/><circle cx="744.1" cy="738.6" r="6.3" fill="url(#p9)"/><circle cx="736.6" cy="587.8" r="6.8" fill="url(#p7)"/><circle cx="700.4" cy="612.3" r="5.7" fill="url(#p5)"/><circle cx="737.2" cy="542.9" r="6.2" fill="url(#p7)"/><circle cx="669.5" cy="583.8" r="8.2" fill="url(#p3)"/><circle cx="825" cy="656.6" r="7.8" fill="url(#p8)"/><circle cx="692.6" cy="596.6" r="7.4" fill="url(#p6)"/><circle cx="695" cy="695.9" r="7.5" fill="url(#p7)"/><circle cx="814.6" cy="718.5" r="6.7" fill="url(#p8)"/><circle cx="666.4" cy="592.7" r="5.6" fill="url(#p6)"/><circle cx="745.9" cy="586.9" r="7.7" fill="url(#p7)"/><circle cx="739.7" cy="684.6" r="6.7" fill="url(#p7)"/><circle cx="761" cy="573.2" r="7.5" fill="url(#p8)"/><circle cx="811.8" cy="583.5" r="7.8" fill="url(#p7)"/><circle cx="817.9" cy="669.1" r="6.3" fill="url(#p7)"/><circle cx="768.2" cy="575" r="8.3" fill="url(#p9)"/><circle cx="673" cy="598.7" r="8" fill="url(#p6)"/><circle cx="761.2" cy="669.6" r="6.4" fill="url(#p7)"/><circle cx="807.6" cy="711.1" r="7.7" fill="url(#p8)"/><circle cx="817.1" cy="602" r="6.9" fill="url(#p7)"/><circle cx="758.4" cy="560.2" r="5.7" fill="url(#p9)"/><circle cx="663" cy="679.1" r="5.6" fill="url(#p7)"/><circle cx="671.6" cy="662.1" r="6.1" fill="url(#p6)"/><circle cx="809.7" cy="709.5" r="6.4" fill="url(#p8)"/><circle cx="634.2" cy="618.7" r="7" fill="url(#p9)"/><circle cx="626.6" cy="618.6" r="6.9" fill="url(#p9)"/><circle cx="814.3" cy="642.3" r="7.9" fill="url(#p7)"/><circle cx="792" cy="626.1" r="8" fill="url(#p7)"/><circle cx="680.5" cy="631.8" r="8.1" fill="url(#p4)"/><circle cx="804.4" cy="684.5" r="6.4" fill="url(#p7)"/><circle cx="780.3" cy="688.3" r="6" fill="url(#p8)"/><circle cx="644" cy="572.4" r="6.1" fill="url(#p5)"/><circle cx="765.5" cy="610.8" r="6.8" fill="url(#p6)"/><circle cx="639.6" cy="705.6" r="7.7" fill="url(#p8)"/><circle cx="691.1" cy="567.4" r="8.3" fill="url(#p6)"/><circle cx="714.4" cy="583.2" r="6.9" fill="url(#p6)"/><circle cx="796.5" cy="702.1" r="6.8" fill="url(#p7)"/><circle cx="770.4" cy="683.2" r="7.1" fill="url(#p8)"/><circle cx="629.6" cy="634.3" r="6.9" fill="url(#p8)"/><circle cx="689.2" cy="575" r="6" fill="url(#p5)"/><circle cx="760" cy="693.3" r="5.8" fill="url(#p7)"/><circle cx="775.8" cy="702.8" r="7.9" fill="url(#p9)"/><circle cx="773.9" cy="691" r="6.1" fill="url(#p8)"/><circle cx="667" cy="666.6" r="7" fill="url(#p7)"/><circle cx="795.3" cy="640.9" r="6.4" fill="url(#p7)"/><circle cx="798" cy="574.9" r="5.8" fill="url(#p9)"/><circle cx="700.6" cy="555.1" r="7.2" fill="url(#p9)"/><circle cx="718.1" cy="649.6" r="7.6" fill="url(#p5)"/><circle cx="753.5" cy="646.5" r="8" fill="url(#p7)"/><circle cx="792.6" cy="547.3" r="7.3" fill="url(#p9)"/><circle cx="677.3" cy="677.1" r="7.7" fill="url(#p6)"/><circle cx="708.6" cy="522.4" r="8" fill="url(#p7)"/><circle cx="677" cy="582.5" r="6.9" fill="url(#p4)"/><circle cx="686.9" cy="619.8" r="7.4" fill="url(#p4)"/><circle cx="689.3" cy="722.4" r="7.6" fill="url(#p8)"/><circle cx="643.2" cy="596.2" r="6.5" fill="url(#p7)"/><circle cx="762.6" cy="539.2" r="8.4" fill="url(#p9)"/><circle cx="810.7" cy="570" r="6.8" fill="url(#p9)"/><circle cx="716.5" cy="526.4" r="6.5" fill="url(#p6)"/><circle cx="826.1" cy="685.6" r="6" fill="url(#p8)"/><circle cx="655.1" cy="588" r="6.6" fill="url(#p6)"/><circle cx="747.8" cy="647.1" r="6.8" fill="url(#p7)"/><circle cx="696.1" cy="684.3" r="8" fill="url(#p6)"/><circle cx="758.3" cy="606.9" r="8.2" fill="url(#p6)"/><circle cx="766.1" cy="705.3" r="6.6" fill="url(#p8)"/><circle cx="641.6" cy="692.7" r="7.3" fill="url(#p7)"/><circle cx="825.8" cy="604.2" r="6.8" fill="url(#p6)"/><circle cx="785.2" cy="659.2" r="8" fill="url(#p7)"/><circle cx="636.5" cy="677" r="6.3" fill="url(#p8)"/><circle cx="686.5" cy="565.7" r="6.8" fill="url(#p5)"/><circle cx="781.5" cy="558.2" r="6.5" fill="url(#p9)"/><circle cx="806.1" cy="572.4" r="6.6" fill="url(#p9)"/><circle cx="817.2" cy="692.8" r="8.2" fill="url(#p7)"/><circle cx="753.8" cy="731" r="6.5" fill="url(#p8)"/><circle cx="818.2" cy="662.6" r="7.4" fill="url(#p7)"/><circle cx="736.2" cy="656.1" r="7.5" fill="url(#p7)"/><circle cx="668.9" cy="551.4" r="7.5" fill="url(#p7)"/><circle cx="651" cy="614" r="8.2" fill="url(#p5)"/>
<path d="M677.6,611.4l-2.6,1.5 1.6,2.6 M682.6,611.6l-1,-3.5 -2.7,0.5 -1.5,-2.2 M685.2,611.2l-2.1,-2.9 -2.2,2 -2.9,-1 -0.7,2.9 M682.6,612.2l2.2,1.5 1.3,-3.4 3.4,-0.4 -0.3,-3.8 M682.5,610.3l1.9,-2.9 -2,-2.1 3.1,-0.8 -3.5,-1.3 M679.7,610.4l2.1,2.4 3,-0.4 1.7,3.2 3.1,-0.2 M676.1,612.4l1.4,3.5 3,-1.6 -0.4,2.9 M686.9,613.9l0.5,-2.9 -2.6,-1 3.2,-0.7 -1.4,-3.1 M681.7,610.8l1.3,-2.2 -3.1,-2.2 0.9,-3.4 M682.4,610.7l-2.6,-0.9 -1.9,2.7 M684,610.1l3.1,1.8 3.7,0 2.6,2 M677.3,608.5l3.5,0.2 1.8,-3.3 3.5,1.3 1.9,-2 M684.7,609.1l-0.2,3 2.7,-2 -0.7,3 M683,612.5l0.3,3.4 2.9,0 1.9,3 3.4,-1.7 M682.9,610.2l-3.7,-0.1 -2,2.6 -3.5,-1.5 M682.4,614.3l-2.9,1 1.8,2 -3.1,2 M679.7,615.4l-0.9,-3.2 -2.7,0.4 M683.6,612.7l-1.5,-2.2 -1.6,2.1 -3.7,0.4 M683,615.4l-2,2.6 3.4,-1 0.5,2.6 2.7,-0.1 M682,610.2l0.2,3.3 2.5,2.6 1.2,3.2 M687.5,615l1.6,-2.9 0.2,-3.4 M682.2,612.2l-2.5,2.7 -0.1,3" stroke="#1fa040" stroke-width="1" fill="none"/>
<path d="M677.6,611.4l-2.6,1.5 1.6,2.6 M682.6,612.2l2.2,1.5 1.3,-3.4 3.4,-0.4 -0.3,-3.8 M676.1,612.4l1.4,3.5 3,-1.6 -0.4,2.9 M682.4,610.7l-2.6,-0.9 -1.9,2.7 M684.7,609.1l-0.2,3 2.7,-2 -0.7,3 M682.4,614.3l-2.9,1 1.8,2 -3.1,2 M683,615.4l-2,2.6 3.4,-1 0.5,2.6 2.7,-0.1 M682.2,612.2l-2.5,2.7 -0.1,3" stroke="#52d070" stroke-width="0.7" fill="none"/>
<path d="M708.9,637l-1.7,2.3 2.3,2.5 -1.8,2.6 1.5,2.7 M717.2,645.5l-2.4,-1.8 -2.8,2.7 M705.1,641.9l2.7,-0.8 -2.5,-1.5 3.5,-1.2 M712.8,634.4l-0.2,3.7 2.7,-1 1.4,2.5 2.6,-1 M715.4,636.1l-3.1,-2.2 -1.9,2.8 -3.3,-2 -1.3,3.2 M717.3,632.4l2.8,1.8 1.9,-2 M715.5,646.8l2.6,1.3 2.4,-1.7 0.4,2.6 3.4,-0.7 M713.7,640.7l-2.3,1.2 0.9,3.5 M716.6,640.3l-3.5,-0.7 -0.1,3.8 M714.7,640.1l2.1,1.6 1.9,-2.6 3,-1.7 -2.8,-2.5 M708.7,637.8l1.4,-2.4 -3.3,0.1 M707,635.1l2,2.1 3.2,-1.9 2.4,2.2 2.9,-1.9 M718.5,643.2l2.8,1.7 3.5,-0.7 M711.5,639.8l1.9,2.5 2.8,-0.3 -0.6,2.8 M713.5,638.2l-1.1,2.4 2,1.9 M717.4,635.1l0.3,3.2 2.2,1.4 M717.2,640.3l-3,1.2 2.5,1.7 -1.1,2.4 M716.2,641.7l0.5,3.2 1.9,-2 2.3,1.2 M721.4,643.7l1.4,2.2 1.4,-2.9 2.8,2.3 3,-0.4 M713.7,640.2l-0,-2.7 -3.5,-1.2 3,-1 M715.4,637.5l-2.7,-2.4 -1.5,2.6 -3.4,0.1 M718.1,637.7l0.8,-3.5 -0.1,-3.3 1.1,-3.5 M715.3,634.3l-0,-3.1 -1.9,-1.9 -1.8,-2.9 M712.1,635.4l1.3,3.2 2.8,-1.6 1.8,2.4 2.6,-1.9 M709,646.4l1.1,2.8 2.5,-1.4 0.8,3.5 1.9,-2.6 M715.8,638.2l2.6,-2.2 -1.6,-2.9 M710.4,637.5l-1.9,-2.7 -3.5,-1.2 M712.2,636.4l0.8,-2.9 -1.3,-3.1 -0.1,-2.9 M709.5,636l0.1,2.8 3.4,0.4 -2.9,2.3 1.4,3.5 M720.9,640.5l3,1.4 1,-2.9 M713.5,642.2l3.2,-0.1 0.8,-3 M714,639.6l2.4,-2.5 -1.2,-2.3 2.6,-2.2 -0.2,-2.9 M713.7,636.3l1.7,3.1 3.5,0.4 -1,3.1 M719.1,637.9l-2.5,1.9 -0.4,3.8 M717.3,637.6l-2.2,2 1.4,3.3 M708.5,634l2.9,-1.1 -1.2,-3 M716.4,633.6l1.8,-1.9 0.4,-3.6 1.2,-3.2 -2.8,0.7 M718.6,633.3l-3.4,0.2 -3.2,0.9 M707.7,635.5l-0.2,3.3 2,-2.5 M714,639.6l1.7,2.5 1.2,-2.4 M715.2,645.4l-3.2,0.2 -0.3,3.4 -3.4,-0.5 -0.8,2.8 M717.6,638.9l3,1.1 1.2,-3.2 3,-0.8 M710.6,634.3l3.1,-2.1 -1.4,-3.4 M714.1,641.2l2.5,1.9 2.6,0.9 -0.8,3.1 M709.8,642l-2.5,-1.4 -3.5,-0.5 0.1,-3" stroke="#1fa040" stroke-width="1" fill="none"/>
<path d="M708.9,637l-1.7,2.3 2.3,2.5 -1.8,2.6 1.5,2.7 M712.8,634.4l-0.2,3.7 2.7,-1 1.4,2.5 2.6,-1 M715.5,646.8l2.6,1.3 2.4,-1.7 0.4,2.6 3.4,-0.7 M714.7,640.1l2.1,1.6 1.9,-2.6 3,-1.7 -2.8,-2.5 M718.5,643.2l2.8,1.7 3.5,-0.7 M717.4,635.1l0.3,3.2 2.2,1.4 M721.4,643.7l1.4,2.2 1.4,-2.9 2.8,2.3 3,-0.4 M718.1,637.7l0.8,-3.5 -0.1,-3.3 1.1,-3.5 M709,646.4l1.1,2.8 2.5,-1.4 0.8,3.5 1.9,-2.6 M712.2,636.4l0.8,-2.9 -1.3,-3.1 -0.1,-2.9 M713.5,642.2l3.2,-0.1 0.8,-3 M719.1,637.9l-2.5,1.9 -0.4,3.8 M716.4,633.6l1.8,-1.9 0.4,-3.6 1.2,-3.2 -2.8,0.7 M714,639.6l1.7,2.5 1.2,-2.4 M710.6,634.3l3.1,-2.1 -1.4,-3.4" stroke="#52d070" stroke-width="0.7" fill="none"/>
</g></g>
<g clip-path="url(#cc)"><g filter="url(#sfb)">
<rect x="640" y="804" width="173" height="174" rx="40" fill="#802c2c"/>
<circle cx="812.9" cy="872" r="7.5" fill="url(#q10)"/><circle cx="783.8" cy="880.2" r="7.7" fill="url(#q10)"/><circle cx="707.2" cy="892.2" r="6.9" fill="url(#q3)"/><circle cx="636.8" cy="859.9" r="7" fill="url(#p10)"/><circle cx="707.6" cy="974.8" r="8.8" fill="url(#q11)"/><circle cx="655.7" cy="931.9" r="7.5" fill="url(#q10)"/><circle cx="778.1" cy="875.7" r="7.8" fill="url(#q11)"/><circle cx="651.9" cy="931.2" r="8.3" fill="url(#q10)"/><circle cx="729" cy="968.2" r="8.3" fill="url(#q10)"/><circle cx="656.7" cy="811.7" r="6.3" fill="url(#p10)"/><circle cx="703.2" cy="936.9" r="8.3" fill="url(#q5)"/><circle cx="663.3" cy="953.6" r="6.9" fill="url(#q11)"/><circle cx="752" cy="801.5" r="7.4" fill="url(#q11)"/><circle cx="716.6" cy="807.8" r="7.9" fill="url(#q10)"/><circle cx="640.5" cy="962" r="7.9" fill="url(#q11)"/><circle cx="722" cy="857.6" r="9.1" fill="url(#q5)"/><circle cx="810.5" cy="911.5" r="8.1" fill="url(#q12)"/><circle cx="750.7" cy="911.3" r="7.7" fill="url(#q7)"/><circle cx="759.3" cy="886" r="9.1" fill="url(#q8)"/><circle cx="809.8" cy="897.3" r="7.1" fill="url(#q12)"/><circle cx="789.3" cy="821.5" r="5.7" fill="url(#p10)"/><circle cx="696.2" cy="857.4" r="5.7" fill="url(#p9)"/><circle cx="694.9" cy="942.1" r="7.2" fill="url(#p8)"/><circle cx="745.6" cy="886.7" r="8.1" fill="url(#p7)"/><circle cx="772.6" cy="919.9" r="7.1" fill="url(#p5)"/><circle cx="677.3" cy="848.8" r="6.4" fill="url(#p11)"/><circle cx="785.5" cy="933.3" r="6.8" fill="url(#q10)"/><circle cx="708" cy="852" r="7.6" fill="url(#q8)"/><circle cx="821.6" cy="841.8" r="8.4" fill="url(#q11)"/><circle cx="729.3" cy="902.1" r="8.8" fill="url(#q6)"/><circle cx="788.3" cy="945.2" r="7.2" fill="url(#q11)"/><circle cx="785.7" cy="835.4" r="6.9" fill="url(#p10)"/><circle cx="713.8" cy="858.1" r="6.4" fill="url(#q7)"/><circle cx="784.4" cy="951.4" r="7.4" fill="url(#q11)"/><circle cx="802.7" cy="846.1" r="8.1" fill="url(#p11)"/><circle cx="750.3" cy="887.4" r="7.9" fill="url(#q8)"/><circle cx="781.8" cy="948" r="8.3" fill="url(#q10)"/><circle cx="681" cy="910.7" r="7.5" fill="url(#p8)"/><circle cx="740.2" cy="910" r="6.8" fill="url(#q8)"/><circle cx="651.3" cy="897.2" r="6.3" fill="url(#p7)"/><circle cx="802.1" cy="850.6" r="6.3" fill="url(#p10)"/><circle cx="783.9" cy="863.9" r="6.2" fill="url(#p11)"/><circle cx="701.8" cy="823.9" r="8.7" fill="url(#q11)"/><circle cx="770.3" cy="968.2" r="7.4" fill="url(#q11)"/><circle cx="644.9" cy="852.8" r="7.3" fill="url(#p9)"/><circle cx="656.4" cy="946.3" r="7.9" fill="url(#p11)"/><circle cx="759.7" cy="798.1" r="7.7" fill="url(#p11)"/><circle cx="628.6" cy="984.2" r="6" fill="url(#p10)"/><circle cx="812.1" cy="884.9" r="7.5" fill="url(#q11)"/><circle cx="643.3" cy="948.1" r="7.4" fill="url(#q9)"/><circle cx="703" cy="933" r="7.5" fill="url(#q4)"/><circle cx="643.3" cy="823.6" r="9.2" fill="url(#q11)"/><circle cx="746.4" cy="944.9" r="8.3" fill="url(#p8)"/><circle cx="710.9" cy="844.8" r="8.9" fill="url(#q8)"/><circle cx="766.2" cy="865.6" r="7.8" fill="url(#p10)"/><circle cx="728.1" cy="834.8" r="9.1" fill="url(#q10)"/><circle cx="646.8" cy="793.2" r="7.1" fill="url(#p12)"/><circle cx="695.5" cy="842.9" r="7.5" fill="url(#p8)"/><circle cx="780.8" cy="903.8" r="8.7" fill="url(#q8)"/><circle cx="691.2" cy="806.9" r="7.4" fill="url(#q11)"/><circle cx="790.5" cy="911.7" r="6.5" fill="url(#p10)"/><circle cx="754.4" cy="918.8" r="7.5" fill="url(#q7)"/><circle cx="768.7" cy="870.3" r="9.1" fill="url(#q12)"/><circle cx="666.3" cy="814" r="8.2" fill="url(#p9)"/><circle cx="669.4" cy="871.6" r="7.7" fill="url(#q9)"/><circle cx="696.6" cy="888.3" r="7.4" fill="url(#q4)"/><circle cx="721.8" cy="930.3" r="7.4" fill="url(#q6)"/><circle cx="693.9" cy="981.3" r="7.7" fill="url(#p11)"/><circle cx="765.1" cy="960.8" r="8.3" fill="url(#p10)"/><circle cx="731.5" cy="805.2" r="8.4" fill="url(#q10)"/><circle cx="685.8" cy="959.3" r="7.9" fill="url(#q10)"/><circle cx="714.8" cy="956.3" r="7.6" fill="url(#q11)"/><circle cx="707.6" cy="801.2" r="6" fill="url(#p10)"/><circle cx="788.8" cy="856" r="7.9" fill="url(#q11)"/><circle cx="724" cy="865.2" r="7.5" fill="url(#p4)"/><circle cx="674.3" cy="807.1" r="6.6" fill="url(#p9)"/><circle cx="681.2" cy="945.8" r="5.8" fill="url(#p10)"/><circle cx="655.5" cy="954.3" r="6.6" fill="url(#q11)"/><circle cx="790.4" cy="922.1" r="7.3" fill="url(#q11)"/><circle cx="717.8" cy="826" r="7.1" fill="url(#p9)"/><circle cx="776.5" cy="793.4" r="7.2" fill="url(#p11)"/><circle cx="620.2" cy="863.8" r="6.5" fill="url(#p11)"/><circle cx="753.7" cy="831.3" r="9.2" fill="url(#q9)"/><circle cx="822.5" cy="860.8" r="7.3" fill="url(#p10)"/><circle cx="747.2" cy="924.4" r="7.2" fill="url(#q8)"/><circle cx="757.8" cy="874" r="6.2" fill="url(#p10)"/><circle cx="796.1" cy="887.8" r="6.7" fill="url(#p10)"/><circle cx="744.3" cy="825.7" r="6.5" fill="url(#p10)"/><circle cx="726.3" cy="942.3" r="7.2" fill="url(#q10)"/><circle cx="693" cy="866.9" r="8.7" fill="url(#q8)"/><circle cx="788.5" cy="938.6" r="7.4" fill="url(#p11)"/><circle cx="651.9" cy="924.4" r="7.8" fill="url(#q9)"/><circle cx="758.5" cy="959.7" r="7.2" fill="url(#q8)"/><circle cx="640.2" cy="908.6" r="9.1" fill="url(#q9)"/><circle cx="754.9" cy="864.7" r="5.7" fill="url(#p10)"/><circle cx="777.6" cy="894.2" r="7.7" fill="url(#p8)"/><circle cx="752.3" cy="793.7" r="7" fill="url(#p11)"/><circle cx="757.8" cy="949.3" r="9.2" fill="url(#q6)"/><circle cx="689" cy="885.1" r="7.5" fill="url(#p6)"/><circle cx="689.3" cy="867.7" r="5.6" fill="url(#p8)"/><circle cx="806" cy="970.9" r="5.7" fill="url(#p10)"/><circle cx="729" cy="910.5" r="8.2" fill="url(#p6)"/><circle cx="789.2" cy="865.8" r="8.3" fill="url(#q11)"/><circle cx="728.6" cy="922" r="6.9" fill="url(#p8)"/><circle cx="669.6" cy="892.5" r="7.1" fill="url(#p8)"/><circle cx="662.1" cy="822.9" r="8.7" fill="url(#q9)"/><circle cx="730.9" cy="975.7" r="6" fill="url(#p10)"/><circle cx="783.1" cy="926.4" r="5.9" fill="url(#p9)"/><circle cx="777.2" cy="821.8" r="7.2" fill="url(#q9)"/><circle cx="757.8" cy="897.5" r="8.5" fill="url(#q5)"/><circle cx="736.8" cy="879.5" r="8.4" fill="url(#p6)"/><circle cx="708.8" cy="899.7" r="6.6" fill="url(#p3)"/><circle cx="702.7" cy="847.7" r="7" fill="url(#p8)"/><circle cx="651.1" cy="900.5" r="8.2" fill="url(#q8)"/><circle cx="791.1" cy="888.1" r="6.4" fill="url(#p9)"/><circle cx="732.6" cy="844.9" r="8.3" fill="url(#q7)"/><circle cx="640.2" cy="931.4" r="8.1" fill="url(#p9)"/><circle cx="665.1" cy="973.5" r="8.4" fill="url(#q11)"/><circle cx="701.9" cy="954.2" r="6.6" fill="url(#p10)"/><circle cx="720.9" cy="895" r="5.8" fill="url(#p4)"/><circle cx="761.3" cy="806.4" r="7.7" fill="url(#q11)"/><circle cx="828.7" cy="942.3" r="6" fill="url(#p10)"/><circle cx="654.2" cy="908.3" r="7.2" fill="url(#p7)"/><circle cx="679.3" cy="785.4" r="6.5" fill="url(#p10)"/><circle cx="765" cy="976.5" r="5.8" fill="url(#p11)"/><circle cx="762.5" cy="793.7" r="7.6" fill="url(#p11)"/><circle cx="812.9" cy="844.7" r="5.8" fill="url(#p11)"/><circle cx="686.7" cy="838.5" r="8.3" fill="url(#p11)"/><circle cx="648.9" cy="978.6" r="8.2" fill="url(#p12)"/><circle cx="703.5" cy="868.1" r="6.8" fill="url(#p7)"/><circle cx="750.8" cy="848.8" r="6.3" fill="url(#p9)"/><circle cx="746.8" cy="818.9" r="7.1" fill="url(#p9)"/><circle cx="747.1" cy="894.8" r="5.8" fill="url(#p8)"/><circle cx="750.4" cy="948.1" r="6.8" fill="url(#p7)"/><circle cx="760.4" cy="924.9" r="7.6" fill="url(#p6)"/><circle cx="633.4" cy="955.8" r="5.8" fill="url(#p9)"/><circle cx="629.7" cy="894.7" r="5.7" fill="url(#p10)"/><circle cx="750.8" cy="859.8" r="6.5" fill="url(#p9)"/><circle cx="673.1" cy="959.2" r="8.3" fill="url(#p10)"/><circle cx="821.3" cy="871.2" r="8.2" fill="url(#p11)"/><circle cx="738.4" cy="933.2" r="5.8" fill="url(#p8)"/><circle cx="827.3" cy="841.3" r="6.2" fill="url(#p10)"/><circle cx="669.3" cy="818.5" r="5.9" fill="url(#p10)"/><circle cx="765.9" cy="848.2" r="6.3" fill="url(#p9)"/><circle cx="670.2" cy="975.5" r="6.7" fill="url(#q10)"/><circle cx="647.3" cy="951.4" r="8.1" fill="url(#q10)"/><circle cx="695.4" cy="902.6" r="6.7" fill="url(#p1)"/><circle cx="796.2" cy="800.9" r="8.2" fill="url(#p10)"/><circle cx="649.1" cy="969.1" r="7.3" fill="url(#p11)"/><circle cx="785.6" cy="886" r="7.5" fill="url(#p10)"/><circle cx="772.6" cy="927.5" r="8.8" fill="url(#q8)"/><circle cx="685.4" cy="921.7" r="7.9" fill="url(#q8)"/><circle cx="700" cy="908.2" r="8.7" fill="url(#q2)"/><circle cx="654.8" cy="894.5" r="6.6" fill="url(#p8)"/><circle cx="743.4" cy="941.2" r="8" fill="url(#p7)"/><circle cx="694" cy="945.7" r="5.8" fill="url(#p9)"/><circle cx="678.3" cy="934.6" r="7.3" fill="url(#p11)"/><circle cx="725.3" cy="882.2" r="8.9" fill="url(#q5)"/><circle cx="769.9" cy="897.3" r="6.7" fill="url(#q4)"/><circle cx="701" cy="811" r="6.7" fill="url(#q11)"/><circle cx="795.2" cy="836.6" r="6.4" fill="url(#p12)"/><circle cx="643.3" cy="833.5" r="5.9" fill="url(#p10)"/><circle cx="658.7" cy="902.3" r="6.6" fill="url(#q7)"/><circle cx="679.9" cy="813.2" r="7.1" fill="url(#p11)"/><circle cx="743.9" cy="914.9" r="5.8" fill="url(#p8)"/><circle cx="782.8" cy="850.6" r="8.4" fill="url(#p12)"/><circle cx="774.5" cy="967.1" r="6.9" fill="url(#p11)"/><circle cx="753" cy="967.3" r="8.1" fill="url(#p9)"/><circle cx="784.3" cy="874.6" r="5.6" fill="url(#p11)"/><circle cx="806.7" cy="856" r="8.8" fill="url(#q9)"/><circle cx="642.7" cy="865.7" r="7.7" fill="url(#q11)"/><circle cx="768.4" cy="821.4" r="9.2" fill="url(#q9)"/><circle cx="647.7" cy="852.6" r="7" fill="url(#p9)"/><circle cx="714.7" cy="923.2" r="5.8" fill="url(#p6)"/><circle cx="728.5" cy="952.4" r="6.9" fill="url(#p11)"/><circle cx="739" cy="797.6" r="6.9" fill="url(#p9)"/><circle cx="746.7" cy="909.3" r="7.4" fill="url(#q8)"/><circle cx="682" cy="916.1" r="6.5" fill="url(#p7)"/><circle cx="670.4" cy="881.3" r="6.6" fill="url(#q9)"/><circle cx="702.8" cy="843.9" r="7.4" fill="url(#p8)"/><circle cx="762.4" cy="822.5" r="7.1" fill="url(#p9)"/><circle cx="797.7" cy="955.3" r="6.7" fill="url(#p9)"/><circle cx="759" cy="865.7" r="7.8" fill="url(#p10)"/><circle cx="745.3" cy="951.7" r="6.6" fill="url(#p9)"/><circle cx="761.1" cy="813.7" r="6.5" fill="url(#p10)"/><circle cx="706.9" cy="951.7" r="7.3" fill="url(#p10)"/><circle cx="807.5" cy="907.9" r="7.4" fill="url(#p12)"/><circle cx="701.8" cy="859.1" r="6.6" fill="url(#p8)"/><circle cx="788.4" cy="840.5" r="6.6" fill="url(#p12)"/><circle cx="708.8" cy="831.3" r="9" fill="url(#q9)"/><circle cx="636.3" cy="932" r="7.5" fill="url(#p10)"/><circle cx="803.6" cy="886.3" r="7.8" fill="url(#p10)"/><circle cx="681.6" cy="902.4" r="6.6" fill="url(#p7)"/><circle cx="766.4" cy="949.2" r="7.1" fill="url(#p8)"/><circle cx="811.5" cy="816.4" r="6.1" fill="url(#p11)"/><circle cx="743.5" cy="874.3" r="7.8" fill="url(#p7)"/><circle cx="705.9" cy="933.8" r="8.4" fill="url(#q4)"/><circle cx="723.4" cy="925.7" r="8.4" fill="url(#p7)"/><circle cx="821.8" cy="963.8" r="5.8" fill="url(#p11)"/><circle cx="792.7" cy="827" r="8.3" fill="url(#p11)"/><circle cx="651.3" cy="860" r="8" fill="url(#p10)"/><circle cx="744.4" cy="857.3" r="7" fill="url(#p6)"/><circle cx="745.7" cy="834.9" r="8.1" fill="url(#p10)"/><circle cx="812.8" cy="936.8" r="6.6" fill="url(#p10)"/><circle cx="714.3" cy="889.3" r="7.4" fill="url(#p4)"/><circle cx="718.3" cy="915" r="6" fill="url(#p5)"/><circle cx="678.7" cy="796.3" r="7.2" fill="url(#p10)"/><circle cx="792.5" cy="834.3" r="7.6" fill="url(#p12)"/><circle cx="642.7" cy="924.6" r="6.6" fill="url(#p10)"/><circle cx="731.1" cy="938.4" r="7.7" fill="url(#q8)"/><circle cx="709.5" cy="969.8" r="6.1" fill="url(#p12)"/><circle cx="762.4" cy="986.7" r="7.8" fill="url(#p11)"/><circle cx="632.4" cy="966" r="7.1" fill="url(#p10)"/><circle cx="650.8" cy="985.7" r="7.7" fill="url(#p11)"/><circle cx="710.6" cy="871.9" r="6.1" fill="url(#p6)"/><circle cx="722.6" cy="833.7" r="6.7" fill="url(#p10)"/><circle cx="694.3" cy="1001.3" r="6.6" fill="url(#p11)"/><circle cx="777.6" cy="881.1" r="7.7" fill="url(#p10)"/><circle cx="811.6" cy="971.9" r="5.9" fill="url(#p12)"/><circle cx="761.1" cy="988.5" r="5.9" fill="url(#p11)"/><circle cx="775.3" cy="799.1" r="6.5" fill="url(#p11)"/><circle cx="735.7" cy="895.1" r="6.9" fill="url(#p5)"/><circle cx="651.3" cy="840.9" r="7.3" fill="url(#p9)"/><circle cx="641.9" cy="889.9" r="6.3" fill="url(#p10)"/><circle cx="755.9" cy="926.7" r="6" fill="url(#p7)"/><circle cx="695.3" cy="872.1" r="6.5" fill="url(#p8)"/><circle cx="799.8" cy="843.7" r="5.7" fill="url(#p11)"/><circle cx="782.5" cy="825.8" r="6.6" fill="url(#p10)"/><circle cx="817.9" cy="939.2" r="7.9" fill="url(#p10)"/><circle cx="666.7" cy="932.7" r="8.2" fill="url(#p10)"/><circle cx="730.5" cy="984.7" r="7.9" fill="url(#p9)"/><circle cx="807.4" cy="946.1" r="6" fill="url(#p9)"/><circle cx="795.5" cy="909.1" r="6.3" fill="url(#p10)"/><circle cx="836.2" cy="941.3" r="7.4" fill="url(#p11)"/><circle cx="630" cy="989.7" r="7.5" fill="url(#p11)"/><circle cx="737.2" cy="884.9" r="8.2" fill="url(#p6)"/><circle cx="634.6" cy="867.9" r="6.7" fill="url(#p10)"/><circle cx="722.6" cy="850.5" r="8.2" fill="url(#p9)"/><circle cx="641.7" cy="875.7" r="7.2" fill="url(#p10)"/><circle cx="719" cy="966.8" r="8.4" fill="url(#p12)"/><circle cx="794.9" cy="851.6" r="7.4" fill="url(#p11)"/><circle cx="776" cy="834.2" r="7.7" fill="url(#p9)"/><circle cx="828.8" cy="932.5" r="7.5" fill="url(#p10)"/><circle cx="651.7" cy="960.1" r="7.5" fill="url(#p11)"/><circle cx="667" cy="836.6" r="8.1" fill="url(#p9)"/><circle cx="657.2" cy="926.4" r="7.7" fill="url(#p9)"/><circle cx="671.6" cy="932.8" r="6.6" fill="url(#p11)"/><circle cx="835.3" cy="842.8" r="5.7" fill="url(#p11)"/><circle cx="670.6" cy="967.7" r="5.9" fill="url(#p10)"/><circle cx="769.1" cy="790.9" r="5.8" fill="url(#p12)"/><circle cx="774.3" cy="948.1" r="5.9" fill="url(#p10)"/><circle cx="732.9" cy="819.1" r="6.4" fill="url(#p10)"/><circle cx="689.3" cy="830.9" r="6.1" fill="url(#p11)"/><circle cx="647.2" cy="807.6" r="5.9" fill="url(#p11)"/><circle cx="687.7" cy="941.9" r="7.7" fill="url(#p10)"/><circle cx="711.2" cy="856.3" r="7.2" fill="url(#p8)"/><circle cx="665.2" cy="849.4" r="7.3" fill="url(#p10)"/><circle cx="722.1" cy="827.6" r="5.9" fill="url(#p9)"/><circle cx="752.3" cy="964.4" r="5.7" fill="url(#p9)"/><circle cx="689" cy="855.4" r="6.9" fill="url(#p10)"/><circle cx="781.4" cy="797.5" r="6.1" fill="url(#p10)"/><circle cx="656.4" cy="984.7" r="6.1" fill="url(#p10)"/><circle cx="672" cy="862.9" r="8.2" fill="url(#p11)"/><circle cx="719.1" cy="879.3" r="7.7" fill="url(#p5)"/><circle cx="762.2" cy="829.8" r="7.4" fill="url(#p9)"/><circle cx="633.9" cy="915.9" r="8.1" fill="url(#p10)"/><circle cx="762.2" cy="907.7" r="7.8" fill="url(#p3)"/><circle cx="739.6" cy="814.6" r="7.4" fill="url(#p9)"/><circle cx="775.1" cy="939" r="8.2" fill="url(#p8)"/><circle cx="715.5" cy="874" r="5.9" fill="url(#p7)"/><circle cx="680.1" cy="882.2" r="7.4" fill="url(#p8)"/><circle cx="800.5" cy="809.1" r="7.7" fill="url(#p11)"/><circle cx="722.4" cy="917.5" r="5.9" fill="url(#p6)"/><circle cx="700.2" cy="949.7" r="6.1" fill="url(#p11)"/><circle cx="647.7" cy="869.9" r="7.8" fill="url(#p11)"/><circle cx="799.7" cy="893.9" r="5.7" fill="url(#p9)"/><circle cx="768.3" cy="811.4" r="7.1" fill="url(#p10)"/><circle cx="650.4" cy="886.8" r="6.9" fill="url(#p10)"/><circle cx="637" cy="892.9" r="5.9" fill="url(#p10)"/><circle cx="641.6" cy="894.1" r="7.6" fill="url(#p10)"/><circle cx="695.9" cy="926.1" r="6.6" fill="url(#p6)"/><circle cx="788" cy="931" r="7.8" fill="url(#p11)"/><circle cx="775" cy="841.6" r="6.3" fill="url(#p10)"/><circle cx="813.1" cy="852.7" r="7.1" fill="url(#p10)"/><circle cx="803.9" cy="864.1" r="7.1" fill="url(#p10)"/><circle cx="754" cy="840.5" r="7.3" fill="url(#p9)"/><circle cx="700.6" cy="905.2" r="7.3" fill="url(#p2)"/><circle cx="728.7" cy="855.6" r="6.8" fill="url(#p4)"/><circle cx="744.5" cy="811.6" r="6.8" fill="url(#p9)"/><circle cx="636.9" cy="840.5" r="5.7" fill="url(#p11)"/><circle cx="701.9" cy="878.4" r="6.3" fill="url(#p6)"/><circle cx="677.2" cy="809" r="5.9" fill="url(#p10)"/><circle cx="671.8" cy="917" r="7.2" fill="url(#p8)"/><circle cx="811.3" cy="865.3" r="8.1" fill="url(#p9)"/><circle cx="632.2" cy="884.7" r="5.7" fill="url(#p10)"/><circle cx="662.6" cy="799.9" r="6.7" fill="url(#p11)"/><circle cx="721.5" cy="886.4" r="6.3" fill="url(#p4)"/><circle cx="720.8" cy="908.1" r="7" fill="url(#p5)"/><circle cx="656.1" cy="882.1" r="6.1" fill="url(#p10)"/><circle cx="769.8" cy="856.1" r="7.4" fill="url(#p11)"/><circle cx="809.9" cy="820" r="7" fill="url(#p12)"/><circle cx="655.4" cy="849.1" r="6.6" fill="url(#p9)"/><circle cx="820.9" cy="838.6" r="6.5" fill="url(#p9)"/><circle cx="640.9" cy="957" r="6.3" fill="url(#p9)"/><circle cx="717.2" cy="949.7" r="6.7" fill="url(#p11)"/><circle cx="784.3" cy="860.6" r="7.7" fill="url(#p12)"/><circle cx="670.7" cy="859.7" r="7.7" fill="url(#p11)"/><circle cx="743.1" cy="866.9" r="6.5" fill="url(#p7)"/><circle cx="750.3" cy="938.7" r="8.2" fill="url(#p6)"/><circle cx="803.7" cy="902" r="8.2" fill="url(#p10)"/><circle cx="642.2" cy="830.2" r="8.4" fill="url(#p10)"/><circle cx="633.4" cy="989.3" r="6.8" fill="url(#p11)"/><circle cx="747.7" cy="843.4" r="7" fill="url(#p9)"/><circle cx="636.9" cy="837.4" r="6.7" fill="url(#p10)"/><circle cx="796.7" cy="860.1" r="6.1" fill="url(#p10)"/><circle cx="658.8" cy="867" r="7" fill="url(#p10)"/><circle cx="761.6" cy="837.9" r="5.6" fill="url(#p9)"/><circle cx="693.2" cy="955.7" r="7.5" fill="url(#p10)"/><circle cx="737.3" cy="871.2" r="5.8" fill="url(#p5)"/><circle cx="679.3" cy="960.7" r="7.5" fill="url(#p10)"/><circle cx="785.1" cy="844.1" r="6.1" fill="url(#p11)"/><circle cx="642.1" cy="939.5" r="7" fill="url(#p10)"/><circle cx="820.8" cy="821.7" r="6.2" fill="url(#p11)"/><circle cx="751.1" cy="871.9" r="6" fill="url(#p9)"/><circle cx="756" cy="818" r="6.7" fill="url(#p9)"/><circle cx="636.5" cy="873.4" r="7.5" fill="url(#p9)"/><circle cx="679" cy="866.3" r="8.2" fill="url(#p10)"/><circle cx="642.1" cy="855.6" r="6.7" fill="url(#p10)"/><circle cx="728.6" cy="884.7" r="7.1" fill="url(#p4)"/><circle cx="746.3" cy="960.5" r="6.7" fill="url(#p9)"/><circle cx="657.6" cy="831" r="6.3" fill="url(#p9)"/><circle cx="693.9" cy="933.8" r="7.3" fill="url(#p7)"/><circle cx="768.2" cy="886.6" r="6" fill="url(#p8)"/><circle cx="674.6" cy="813.8" r="6.3" fill="url(#p10)"/><circle cx="687.4" cy="901.8" r="6" fill="url(#p5)"/><circle cx="725.3" cy="961.8" r="6.7" fill="url(#p11)"/><circle cx="765.9" cy="828.8" r="8.3" fill="url(#p8)"/><circle cx="776.2" cy="829.9" r="7.8" fill="url(#p9)"/><circle cx="635.5" cy="828" r="7.9" fill="url(#p11)"/><circle cx="747" cy="967.6" r="6.2" fill="url(#p8)"/><circle cx="799.2" cy="791.7" r="6.1" fill="url(#p9)"/><circle cx="689" cy="895.9" r="8.4" fill="url(#p4)"/><circle cx="798.7" cy="879.8" r="6.7" fill="url(#p9)"/><circle cx="648.5" cy="814.6" r="8.3" fill="url(#p12)"/><circle cx="622.7" cy="858.3" r="5.8" fill="url(#p11)"/><circle cx="672.5" cy="923.6" r="8" fill="url(#p9)"/><circle cx="643.5" cy="795.9" r="8.4" fill="url(#p11)"/><circle cx="809.7" cy="962.1" r="7.3" fill="url(#p11)"/><circle cx="819.7" cy="830.1" r="7.2" fill="url(#p11)"/><circle cx="738" cy="902.6" r="6.3" fill="url(#p6)"/><circle cx="618.4" cy="870.3" r="5.6" fill="url(#p11)"/><circle cx="625.7" cy="864.6" r="7.1" fill="url(#p11)"/><circle cx="669.1" cy="885.8" r="7.1" fill="url(#p9)"/><circle cx="713.4" cy="850.1" r="7.6" fill="url(#p8)"/><circle cx="767.7" cy="904.5" r="6.7" fill="url(#p3)"/><circle cx="642.9" cy="918.5" r="7.4" fill="url(#p10)"/><circle cx="648.9" cy="938.3" r="5.8" fill="url(#p9)"/><circle cx="738.8" cy="855.3" r="7.8" fill="url(#p3)"/><circle cx="740.6" cy="849.2" r="6.7" fill="url(#p5)"/><circle cx="725.1" cy="873.9" r="8.3" fill="url(#p6)"/><circle cx="627.2" cy="921.8" r="7.8" fill="url(#p12)"/><circle cx="806.1" cy="834.4" r="7.3" fill="url(#p11)"/><circle cx="748.2" cy="791.1" r="6" fill="url(#p10)"/><circle cx="743.5" cy="988.6" r="8.2" fill="url(#p11)"/><circle cx="678" cy="836" r="7.9" fill="url(#p12)"/><circle cx="744.7" cy="797.9" r="8" fill="url(#p10)"/><circle cx="740.3" cy="958.7" r="7.5" fill="url(#p10)"/><circle cx="654.8" cy="873.9" r="7.3" fill="url(#p9)"/><circle cx="642.9" cy="974.5" r="5.9" fill="url(#p11)"/><circle cx="629.6" cy="881.2" r="8" fill="url(#p9)"/><circle cx="709" cy="914.7" r="7.1" fill="url(#p2)"/><circle cx="796.2" cy="949.7" r="6.7" fill="url(#p10)"/><circle cx="695.1" cy="799" r="7.1" fill="url(#p11)"/><circle cx="785.1" cy="971.5" r="5.7" fill="url(#p9)"/><circle cx="750.4" cy="991.9" r="6.8" fill="url(#p12)"/><circle cx="797.1" cy="932.8" r="6.5" fill="url(#p11)"/><circle cx="629.1" cy="821.4" r="7.5" fill="url(#p11)"/><circle cx="736.3" cy="918.1" r="5.9" fill="url(#p8)"/><circle cx="677.1" cy="924.7" r="5.9" fill="url(#p10)"/><circle cx="796.6" cy="978.8" r="8.1" fill="url(#p9)"/><circle cx="814.9" cy="838.6" r="5.8" fill="url(#p11)"/><circle cx="669.9" cy="798.5" r="8.1" fill="url(#p10)"/><circle cx="785.5" cy="985.4" r="6.4" fill="url(#p9)"/><circle cx="763.5" cy="957.1" r="6" fill="url(#p9)"/><circle cx="767.5" cy="800.7" r="6.1" fill="url(#p11)"/><circle cx="662.3" cy="901.3" r="8.3" fill="url(#p6)"/><circle cx="821.7" cy="863.5" r="7.1" fill="url(#p10)"/><circle cx="822.2" cy="932" r="7.1" fill="url(#p10)"/><circle cx="687.3" cy="977.4" r="5.8" fill="url(#p10)"/><circle cx="817.7" cy="947.5" r="6.7" fill="url(#p10)"/><circle cx="813.6" cy="931.5" r="5.8" fill="url(#p10)"/><circle cx="777.5" cy="850.8" r="6.8" fill="url(#p11)"/><circle cx="718.6" cy="844.7" r="7.1" fill="url(#p9)"/><circle cx="663.2" cy="803.7" r="6.9" fill="url(#p10)"/><circle cx="685.8" cy="954.6" r="7" fill="url(#p10)"/><circle cx="642.7" cy="985.1" r="6.2" fill="url(#p11)"/><circle cx="838.4" cy="807.4" r="7" fill="url(#p9)"/><circle cx="797.5" cy="936.6" r="6.8" fill="url(#p11)"/><circle cx="689.4" cy="790.7" r="6.5" fill="url(#p10)"/><circle cx="754.6" cy="982.5" r="6" fill="url(#p11)"/><circle cx="708.2" cy="927.1" r="6.9" fill="url(#p4)"/><circle cx="789.1" cy="814.3" r="6.6" fill="url(#p9)"/><circle cx="739.8" cy="845.2" r="7.8" fill="url(#p6)"/><circle cx="805.4" cy="936.8" r="8.1" fill="url(#p10)"/><circle cx="825.2" cy="859.3" r="6.6" fill="url(#p10)"/><circle cx="654.4" cy="840.9" r="8" fill="url(#p8)"/><circle cx="716.8" cy="835.2" r="6.2" fill="url(#p9)"/><circle cx="770.1" cy="805.8" r="7.1" fill="url(#p10)"/><circle cx="804.5" cy="823.1" r="6.2" fill="url(#p11)"/><circle cx="745.6" cy="932.2" r="6.7" fill="url(#p7)"/><circle cx="673.3" cy="955.2" r="7.5" fill="url(#p11)"/><circle cx="816.8" cy="850" r="6.7" fill="url(#p10)"/><circle cx="696.8" cy="814.6" r="6" fill="url(#p11)"/><circle cx="702.5" cy="959.4" r="5.9" fill="url(#p10)"/><circle cx="637.3" cy="925" r="6.7" fill="url(#p10)"/><circle cx="736.2" cy="803.8" r="6.2" fill="url(#p10)"/><circle cx="699.3" cy="807.6" r="6.5" fill="url(#p11)"/><circle cx="763" cy="855.2" r="8" fill="url(#p9)"/><circle cx="814.8" cy="859.4" r="6.7" fill="url(#p9)"/><circle cx="689" cy="847.9" r="6.1" fill="url(#p9)"/><circle cx="662.5" cy="892.4" r="7.1" fill="url(#p9)"/><circle cx="810" cy="828" r="7.7" fill="url(#p11)"/><circle cx="694.7" cy="967.6" r="5.8" fill="url(#p10)"/><circle cx="761.5" cy="880.3" r="6.2" fill="url(#p10)"/><circle cx="806.6" cy="917.6" r="7" fill="url(#p11)"/><circle cx="680.7" cy="790.5" r="8.3" fill="url(#p9)"/><circle cx="787.8" cy="797.1" r="8.4" fill="url(#p9)"/><circle cx="792" cy="847.9" r="7.7" fill="url(#p11)"/><circle cx="774.6" cy="807.1" r="6.4" fill="url(#p10)"/><circle cx="818.2" cy="890.5" r="6.4" fill="url(#p12)"/><circle cx="674.7" cy="904.4" r="8.2" fill="url(#p7)"/><circle cx="666.2" cy="794.1" r="7.6" fill="url(#p10)"/><circle cx="703.8" cy="873.2" r="7.4" fill="url(#p7)"/><circle cx="822.6" cy="924.6" r="8" fill="url(#p11)"/><circle cx="657.7" cy="838.5" r="6" fill="url(#p9)"/><circle cx="754.3" cy="933.9" r="8.2" fill="url(#p5)"/><circle cx="774.5" cy="864.3" r="7.3" fill="url(#p11)"/><circle cx="634.6" cy="961.3" r="7.7" fill="url(#p10)"/><circle cx="789" cy="790.9" r="7.2" fill="url(#p10)"/><circle cx="722.3" cy="843.2" r="5.7" fill="url(#p9)"/><circle cx="665.9" cy="881.5" r="8.2" fill="url(#p10)"/><circle cx="662.4" cy="937" r="6.8" fill="url(#p11)"/><circle cx="736.6" cy="863.4" r="7.9" fill="url(#p3)"/><circle cx="680.9" cy="822.3" r="6.2" fill="url(#p11)"/><circle cx="715" cy="978.6" r="5.7" fill="url(#p10)"/><circle cx="739.4" cy="991.8" r="8.3" fill="url(#p11)"/><circle cx="714.4" cy="822.4" r="6.4" fill="url(#p10)"/><circle cx="827.2" cy="955.8" r="7.2" fill="url(#p11)"/><circle cx="746.7" cy="903.5" r="6.9" fill="url(#p8)"/><circle cx="688" cy="982.2" r="6.8" fill="url(#p10)"/><circle cx="758.3" cy="914.4" r="8.2" fill="url(#p4)"/><circle cx="687.3" cy="911.3" r="6" fill="url(#p5)"/><circle cx="699.9" cy="918.5" r="7.7" fill="url(#p3)"/><circle cx="821.5" cy="919.4" r="6" fill="url(#p11)"/><circle cx="708.9" cy="961.3" r="6.4" fill="url(#p12)"/><circle cx="789.1" cy="808.5" r="6.8" fill="url(#p10)"/><circle cx="670.9" cy="911.2" r="6.9" fill="url(#p8)"/><circle cx="639.7" cy="879.7" r="7.1" fill="url(#p10)"/><circle cx="820.4" cy="967.5" r="5.8" fill="url(#p12)"/><circle cx="733.8" cy="815" r="6.7" fill="url(#p10)"/><circle cx="788.2" cy="962.2" r="6.4" fill="url(#p10)"/><circle cx="745.7" cy="975.5" r="6.4" fill="url(#p10)"/><circle cx="795.2" cy="923" r="6.3" fill="url(#p11)"/><circle cx="723" cy="949.2" r="6.4" fill="url(#p11)"/><circle cx="809.8" cy="877.5" r="8.1" fill="url(#p10)"/><circle cx="796.3" cy="871.2" r="8" fill="url(#p10)"/><circle cx="807.8" cy="931" r="8" fill="url(#p11)"/><circle cx="709.9" cy="864.4" r="7.3" fill="url(#p7)"/><circle cx="651.9" cy="949.3" r="8.3" fill="url(#p10)"/><circle cx="637.1" cy="986.6" r="7.5" fill="url(#p11)"/><circle cx="676.8" cy="844.2" r="6.6" fill="url(#p12)"/><circle cx="766.7" cy="833.5" r="6.7" fill="url(#p9)"/><circle cx="662.8" cy="945" r="8.3" fill="url(#p11)"/><circle cx="802.4" cy="983.3" r="7.3" fill="url(#p10)"/><circle cx="802.2" cy="873.6" r="6" fill="url(#p9)"/><circle cx="805.4" cy="892.4" r="8.4" fill="url(#p11)"/><circle cx="767" cy="984.4" r="5.8" fill="url(#p11)"/><circle cx="663.2" cy="964.1" r="5.7" fill="url(#p11)"/><circle cx="717" cy="959" r="8.2" fill="url(#p12)"/><circle cx="758.3" cy="901.4" r="6.1" fill="url(#p4)"/><circle cx="831.8" cy="852.1" r="6.3" fill="url(#p11)"/><circle cx="807.8" cy="926.5" r="8.4" fill="url(#p10)"/><circle cx="656.4" cy="915.2" r="7.3" fill="url(#p8)"/><circle cx="739.2" cy="945.4" r="6.3" fill="url(#p10)"/><circle cx="788.2" cy="956.1" r="5.9" fill="url(#p11)"/><circle cx="800.2" cy="863.3" r="7.7" fill="url(#p10)"/><circle cx="720.8" cy="813" r="6.7" fill="url(#p9)"/><circle cx="813.4" cy="905.2" r="6.7" fill="url(#p11)"/><circle cx="774.2" cy="930.2" r="6.6" fill="url(#p8)"/><circle cx="680.9" cy="887" r="7.1" fill="url(#p7)"/><circle cx="736.9" cy="790.9" r="5.7" fill="url(#p9)"/><circle cx="648.9" cy="800.5" r="6.6" fill="url(#p12)"/><circle cx="790.7" cy="894.3" r="7.6" fill="url(#p9)"/><circle cx="677.6" cy="856.5" r="5.9" fill="url(#p11)"/><circle cx="772.5" cy="904.2" r="6.8" fill="url(#p4)"/><circle cx="736.9" cy="969.3" r="8.3" fill="url(#p10)"/><circle cx="692.9" cy="908.8" r="7.2" fill="url(#p3)"/><circle cx="659.5" cy="823.8" r="7.6" fill="url(#p8)"/><circle cx="666.3" cy="971.8" r="5.9" fill="url(#p11)"/><circle cx="741" cy="921.7" r="7" fill="url(#p9)"/><circle cx="718.4" cy="862.5" r="6.8" fill="url(#p3)"/><circle cx="714.4" cy="907.3" r="7.4" fill="url(#p3)"/><circle cx="686.8" cy="969.3" r="7.1" fill="url(#p9)"/><circle cx="739.9" cy="985.9" r="6.5" fill="url(#p10)"/><circle cx="636.7" cy="814.1" r="7.4" fill="url(#p11)"/><circle cx="729.4" cy="896.6" r="6.5" fill="url(#p4)"/><circle cx="736.4" cy="828.7" r="7" fill="url(#p10)"/><circle cx="723.3" cy="978.8" r="7.8" fill="url(#p10)"/><circle cx="635.3" cy="938.6" r="6.6" fill="url(#p10)"/><circle cx="810.9" cy="952.3" r="7.4" fill="url(#p9)"/><circle cx="799" cy="828.2" r="8.3" fill="url(#p11)"/><circle cx="805.6" cy="956.2" r="6" fill="url(#p10)"/><circle cx="700" cy="985.6" r="7.9" fill="url(#p11)"/><circle cx="637.4" cy="903" r="6.1" fill="url(#p9)"/><circle cx="685.3" cy="930.3" r="6.5" fill="url(#p9)"/><circle cx="715.3" cy="940.3" r="7.2" fill="url(#p7)"/><circle cx="723.2" cy="981.2" r="6.6" fill="url(#p10)"/><circle cx="766.9" cy="910.9" r="7.1" fill="url(#p3)"/><circle cx="658.2" cy="856.9" r="6" fill="url(#p11)"/><circle cx="686.2" cy="875.8" r="7.5" fill="url(#p8)"/><circle cx="726.1" cy="953.6" r="7.9" fill="url(#p12)"/><circle cx="686.7" cy="882.7" r="6.8" fill="url(#p7)"/><circle cx="694.6" cy="976.5" r="6.8" fill="url(#p11)"/><circle cx="737.2" cy="833.3" r="8.4" fill="url(#p10)"/><circle cx="736.7" cy="818.4" r="7" fill="url(#p9)"/><circle cx="772.8" cy="813.4" r="6.1" fill="url(#p9)"/><circle cx="620.6" cy="870.9" r="7.6" fill="url(#p10)"/><circle cx="700.3" cy="894.5" r="7.8" fill="url(#p2)"/><circle cx="780.7" cy="822.8" r="7.1" fill="url(#p9)"/><circle cx="804.9" cy="974.4" r="6.8" fill="url(#p10)"/><circle cx="658.7" cy="976.7" r="6.4" fill="url(#p11)"/><circle cx="687.8" cy="798.7" r="6.2" fill="url(#p10)"/><circle cx="783.9" cy="964.2" r="8.1" fill="url(#p10)"/><circle cx="656.5" cy="960.8" r="5.8" fill="url(#p11)"/><circle cx="666.3" cy="865.1" r="6.1" fill="url(#p10)"/><circle cx="708.9" cy="910" r="5.7" fill="url(#p2)"/><circle cx="818.6" cy="956.4" r="8.3" fill="url(#p10)"/><circle cx="745.4" cy="881.5" r="6.1" fill="url(#p7)"/><circle cx="694.2" cy="848.9" r="8.2" fill="url(#p9)"/><circle cx="627.4" cy="916.6" r="7.9" fill="url(#p10)"/><circle cx="728.8" cy="929.9" r="5.8" fill="url(#p8)"/><circle cx="755.7" cy="837.5" r="6.5" fill="url(#p10)"/><circle cx="826.6" cy="829.4" r="7.6" fill="url(#p10)"/><circle cx="732.6" cy="799.8" r="6.7" fill="url(#p9)"/><circle cx="733.3" cy="828.2" r="7.5" fill="url(#p10)"/><circle cx="803" cy="961.6" r="5.8" fill="url(#p10)"/><circle cx="725.5" cy="806.8" r="8.1" fill="url(#p9)"/><circle cx="663.9" cy="985.9" r="6.3" fill="url(#p10)"/><circle cx="752.8" cy="805.1" r="8.2" fill="url(#p11)"/><circle cx="650.6" cy="818.7" r="6.2" fill="url(#p10)"/><circle cx="677.9" cy="969.9" r="6.9" fill="url(#p9)"/><circle cx="725.8" cy="798.8" r="7.8" fill="url(#p10)"/><circle cx="691.8" cy="828.4" r="5.6" fill="url(#p12)"/><circle cx="650.9" cy="863.6" r="7.4" fill="url(#p10)"/><circle cx="738.9" cy="940.6" r="7.4" fill="url(#p9)"/><circle cx="776.8" cy="855.4" r="6.2" fill="url(#p11)"/><circle cx="733.2" cy="994" r="7.1" fill="url(#p9)"/><circle cx="694.1" cy="819.7" r="5.8" fill="url(#p12)"/><circle cx="679.5" cy="986.7" r="7.2" fill="url(#p9)"/><circle cx="678" cy="894.6" r="6.3" fill="url(#p7)"/><circle cx="644.3" cy="968" r="6" fill="url(#p11)"/><circle cx="709.7" cy="823.2" r="7.8" fill="url(#p10)"/><circle cx="731.8" cy="848.1" r="7.6" fill="url(#p5)"/><circle cx="753.1" cy="975.9" r="7.9" fill="url(#p10)"/><circle cx="674.3" cy="833.7" r="7.7" fill="url(#p11)"/><circle cx="788.3" cy="975" r="6.5" fill="url(#p10)"/><circle cx="688.2" cy="943.9" r="8" fill="url(#p9)"/><circle cx="703.4" cy="974.9" r="7.4" fill="url(#p11)"/><circle cx="715.5" cy="811" r="7.7" fill="url(#p10)"/><circle cx="776.4" cy="954" r="6.7" fill="url(#p10)"/><circle cx="806.7" cy="827.4" r="6.1" fill="url(#p11)"/><circle cx="634" cy="883" r="7.1" fill="url(#p10)"/><circle cx="830.1" cy="833.7" r="6.4" fill="url(#p10)"/><circle cx="681.1" cy="829.7" r="7.4" fill="url(#p11)"/><circle cx="753.2" cy="878.2" r="7.4" fill="url(#p9)"/><circle cx="647.3" cy="914.3" r="7.8" fill="url(#p8)"/><circle cx="679.9" cy="870" r="8" fill="url(#p9)"/><circle cx="750.5" cy="900.8" r="6.9" fill="url(#p8)"/><circle cx="725" cy="818.5" r="6.8" fill="url(#p9)"/><circle cx="689" cy="804.3" r="5.7" fill="url(#p11)"/><circle cx="666.3" cy="889.6" r="6.5" fill="url(#p8)"/><circle cx="672" cy="794.3" r="6.1" fill="url(#p9)"/><circle cx="833.4" cy="945.2" r="6.3" fill="url(#p11)"/><circle cx="743.2" cy="983.4" r="7.4" fill="url(#p11)"/><circle cx="792" cy="916.5" r="6" fill="url(#p10)"/><circle cx="825.5" cy="945.9" r="7.9" fill="url(#p10)"/><circle cx="666.2" cy="830.4" r="8" fill="url(#p9)"/><circle cx="695.3" cy="878.5" r="6.4" fill="url(#p6)"/><circle cx="667.2" cy="858.7" r="6.7" fill="url(#p11)"/><circle cx="826.1" cy="851.1" r="6.4" fill="url(#p10)"/><circle cx="815.1" cy="949.4" r="7.5" fill="url(#p10)"/><circle cx="800.3" cy="959.7" r="5.7" fill="url(#p10)"/><circle cx="774.9" cy="975.6" r="6.1" fill="url(#p11)"/><circle cx="641.5" cy="842.1" r="6.8" fill="url(#p10)"/><circle cx="766.2" cy="917.6" r="8" fill="url(#p4)"/><circle cx="651" cy="837.4" r="7.4" fill="url(#p9)"/><circle cx="783.5" cy="894.8" r="6.8" fill="url(#p9)"/><circle cx="714.9" cy="897.5" r="6.1" fill="url(#p4)"/><circle cx="658.1" cy="794.2" r="6.3" fill="url(#p11)"/><circle cx="772.8" cy="890.2" r="5.9" fill="url(#p8)"/><circle cx="797.7" cy="823.4" r="7.1" fill="url(#p11)"/><circle cx="731.3" cy="793.3" r="7" fill="url(#p9)"/><circle cx="741" cy="952" r="6.1" fill="url(#p10)"/><circle cx="619.7" cy="865" r="8.4" fill="url(#p11)"/><circle cx="758.1" cy="849.1" r="6.9" fill="url(#p9)"/><circle cx="656.9" cy="966.1" r="6.6" fill="url(#p11)"/><circle cx="665" cy="915.2" r="6.4" fill="url(#p7)"/><circle cx="685.2" cy="916.2" r="8.2" fill="url(#p7)"/><circle cx="791.4" cy="870" r="6.4" fill="url(#p10)"/><circle cx="642.5" cy="903.5" r="7.1" fill="url(#p9)"/><circle cx="747.9" cy="804.5" r="6.6" fill="url(#p9)"/><circle cx="633" cy="976.2" r="8.4" fill="url(#p10)"/><circle cx="731.3" cy="947.2" r="7.8" fill="url(#p12)"/><circle cx="811.2" cy="924.3" r="7.3" fill="url(#p11)"/><circle cx="798" cy="899.8" r="6.4" fill="url(#p10)"/><circle cx="702.1" cy="838.4" r="6" fill="url(#p8)"/><circle cx="670" cy="848.1" r="7.2" fill="url(#p11)"/><circle cx="633.6" cy="909" r="7.5" fill="url(#p10)"/><circle cx="662.3" cy="926.5" r="7" fill="url(#p10)"/><circle cx="799.5" cy="915.3" r="7" fill="url(#p11)"/><circle cx="797" cy="967.5" r="6.2" fill="url(#p9)"/><circle cx="739.1" cy="973.6" r="7.9" fill="url(#p9)"/><circle cx="662" cy="874.2" r="5.7" fill="url(#p9)"/><circle cx="694.9" cy="915.7" r="7" fill="url(#p4)"/><circle cx="780.7" cy="814.4" r="5.6" fill="url(#p9)"/><circle cx="772.9" cy="958.9" r="6.6" fill="url(#p10)"/><circle cx="751.1" cy="897.3" r="6.1" fill="url(#p7)"/><circle cx="703.8" cy="926.2" r="6.1" fill="url(#p4)"/><circle cx="782.7" cy="939.5" r="8.2" fill="url(#p11)"/><circle cx="627.4" cy="889.2" r="6.5" fill="url(#p9)"/><circle cx="770.1" cy="941.6" r="7.6" fill="url(#p8)"/><circle cx="628.1" cy="872.2" r="5.9" fill="url(#p11)"/><circle cx="651.9" cy="881.3" r="8.1" fill="url(#p11)"/><circle cx="670.4" cy="829" r="6.7" fill="url(#p10)"/><circle cx="789.6" cy="879.8" r="6.6" fill="url(#p10)"/><circle cx="846.3" cy="808.7" r="7.8" fill="url(#p9)"/><circle cx="678.6" cy="941.8" r="5.9" fill="url(#p11)"/><circle cx="700.6" cy="826.7" r="6.6" fill="url(#p11)"/><circle cx="802.5" cy="878.5" r="5.8" fill="url(#p10)"/><circle cx="636.9" cy="943.9" r="7.2" fill="url(#p10)"/><circle cx="708.2" cy="837.2" r="8.3" fill="url(#p9)"/><circle cx="673.7" cy="982.8" r="5.6" fill="url(#p9)"/><circle cx="760.5" cy="844.5" r="7.2" fill="url(#p9)"/><circle cx="672.4" cy="988.2" r="8.4" fill="url(#p8)"/><circle cx="784.2" cy="808.7" r="6.6" fill="url(#p10)"/><circle cx="713.8" cy="801" r="8.1" fill="url(#p11)"/><circle cx="753.8" cy="811" r="8.1" fill="url(#p10)"/><circle cx="779.9" cy="918.6" r="6.9" fill="url(#p8)"/><circle cx="666.2" cy="911.9" r="7.7" fill="url(#p7)"/><circle cx="770.4" cy="845.3" r="7.3" fill="url(#p10)"/><circle cx="709.5" cy="879.2" r="6.8" fill="url(#p6)"/><circle cx="700.6" cy="991.7" r="7.3" fill="url(#p12)"/><circle cx="768" cy="956.2" r="5.8" fill="url(#p9)"/><circle cx="677.7" cy="956.4" r="7" fill="url(#p10)"/><circle cx="647.4" cy="910.6" r="5.7" fill="url(#p8)"/><circle cx="826.9" cy="878.4" r="7.1" fill="url(#p11)"/><circle cx="833.2" cy="811.3" r="6.4" fill="url(#p10)"/><circle cx="737.2" cy="998.9" r="6.5" fill="url(#p10)"/><circle cx="674" cy="842.3" r="7.3" fill="url(#p11)"/><circle cx="710.8" cy="813" r="6.8" fill="url(#p10)"/><circle cx="689.3" cy="821.8" r="8.4" fill="url(#p11)"/><circle cx="763.4" cy="933.2" r="5.8" fill="url(#p7)"/><circle cx="674" cy="948.2" r="7.3" fill="url(#p11)"/><circle cx="792.3" cy="905.3" r="7.7" fill="url(#p10)"/><circle cx="723.7" cy="969.6" r="5.9" fill="url(#p11)"/><circle cx="787.5" cy="968.7" r="7" fill="url(#p10)"/><circle cx="738.2" cy="785.3" r="8.1" fill="url(#p9)"/><circle cx="694.6" cy="960.8" r="6.5" fill="url(#p10)"/><circle cx="641.7" cy="812.1" r="6.1" fill="url(#p11)"/><circle cx="701.7" cy="799" r="7.7" fill="url(#p11)"/><circle cx="751.4" cy="996.6" r="7.4" fill="url(#p11)"/><circle cx="799.1" cy="814.2" r="7.2" fill="url(#p11)"/><circle cx="794.7" cy="984.2" r="7.8" fill="url(#p10)"/><circle cx="810.7" cy="975.3" r="6.7" fill="url(#p11)"/><circle cx="676.6" cy="976.1" r="6.6" fill="url(#p10)"/><circle cx="700.9" cy="889.6" r="6.8" fill="url(#p2)"/><circle cx="619.9" cy="881.6" r="7.8" fill="url(#p9)"/><circle cx="753.2" cy="953.3" r="6.5" fill="url(#p7)"/><circle cx="685.6" cy="843.6" r="7.3" fill="url(#p10)"/><circle cx="747.4" cy="848.4" r="8" fill="url(#p9)"/><circle cx="654.9" cy="801" r="6.6" fill="url(#p10)"/><circle cx="776.6" cy="907.8" r="6" fill="url(#p7)"/><circle cx="656.4" cy="807.3" r="8.2" fill="url(#p10)"/><circle cx="722.3" cy="902.1" r="7.4" fill="url(#p5)"/><circle cx="694.8" cy="836.5" r="6.6" fill="url(#p10)"/><circle cx="662.1" cy="842.8" r="5.7" fill="url(#p10)"/><circle cx="728.9" cy="872.3" r="6.6" fill="url(#p5)"/><circle cx="709" cy="887.4" r="7.7" fill="url(#p3)"/><circle cx="762.6" cy="941.7" r="7.2" fill="url(#p7)"/><circle cx="780.9" cy="978.2" r="7.7" fill="url(#p10)"/><circle cx="761.6" cy="977.3" r="6.5" fill="url(#p12)"/><circle cx="705.9" cy="949.5" r="8.2" fill="url(#p10)"/><circle cx="626.5" cy="912.2" r="6.7" fill="url(#p10)"/><circle cx="769.2" cy="923.2" r="6" fill="url(#p6)"/><circle cx="673" cy="783.5" r="7.6" fill="url(#p9)"/><circle cx="659.8" cy="888.7" r="7" fill="url(#p9)"/><circle cx="718.6" cy="929.8" r="5.7" fill="url(#p5)"/><circle cx="708.6" cy="807.4" r="6.3" fill="url(#p12)"/><circle cx="768.1" cy="879.9" r="5.9" fill="url(#p10)"/><circle cx="768" cy="929.4" r="8.1" fill="url(#p7)"/><circle cx="783.6" cy="789.9" r="7.6" fill="url(#p11)"/><circle cx="654.4" cy="936.8" r="6.8" fill="url(#p10)"/><circle cx="671" cy="942.2" r="7.1" fill="url(#p11)"/><circle cx="730.3" cy="880.7" r="7.9" fill="url(#p5)"/><circle cx="637.2" cy="818.9" r="6" fill="url(#p11)"/><circle cx="782.1" cy="909.1" r="7.8" fill="url(#p9)"/><circle cx="819" cy="879.5" r="6.3" fill="url(#p12)"/><circle cx="789.2" cy="986.3" r="6.4" fill="url(#p10)"/><circle cx="819" cy="894.3" r="7.6" fill="url(#p11)"/><circle cx="640.1" cy="808.2" r="6.6" fill="url(#p12)"/><circle cx="814.5" cy="918.9" r="5.6" fill="url(#p11)"/><circle cx="705.9" cy="942.1" r="7.5" fill="url(#p8)"/><circle cx="718.1" cy="900" r="8.2" fill="url(#p4)"/><circle cx="820.5" cy="909.7" r="7.3" fill="url(#p12)"/><circle cx="687.2" cy="816.1" r="7.3" fill="url(#p11)"/><circle cx="729.5" cy="959.6" r="7.4" fill="url(#p11)"/><circle cx="760.1" cy="971.9" r="5.9" fill="url(#p10)"/><circle cx="706.9" cy="984.5" r="7.5" fill="url(#p11)"/><circle cx="701.5" cy="969.2" r="7.3" fill="url(#p11)"/><circle cx="649.7" cy="828.6" r="7.1" fill="url(#p8)"/><circle cx="628.4" cy="860" r="8.3" fill="url(#p11)"/><circle cx="695.5" cy="894" r="7.3" fill="url(#p1)"/><circle cx="733.3" cy="866.1" r="6.2" fill="url(#p4)"/><circle cx="730.7" cy="918.8" r="7" fill="url(#p8)"/>
<path d="M749,879.2l-3.3,1.2 1.5,3.1 -2.3,1.6 M738.8,875.6l2.8,1.5 1.8,-3.1 M753.2,870.3l1.9,-3.1 -0.8,-3.1 2.8,-0.6 M764.8,885.3l1.8,-1.8 -3.1,-0.3 2.6,-1.6 M753.1,879.5l2.6,2.8 3.4,-1.6 2.8,0.1 M759.7,880.2l-2.6,-1.2 -3.1,-0.1 -2.9,-1.3 -1.8,2.8 M768.7,872.6l1.8,-2.9 -3.4,-1.5 1.7,-2.5 -3.4,0.6 M758.9,873.7l-0.7,-2.5 -2.8,-0.6 M768.9,878.3l0.4,-2.8 -2.9,-1.8 -0.9,-2.9 -2.6,-2.5 M775.1,871.7l-2.7,-0.4 -0.4,3.3 M758.3,863.6l1.2,2.8 3.2,-2 2.6,0.8 -1.4,-3.2 M743.2,875.5l0.3,3.2 2.9,2 M769.4,874.7l3.8,0.1 0.8,-3 M766.1,877.7l-3.3,-1.1 -1.9,2.4 M762.3,870.4l-1,3.1 1.5,2.5 -2.2,2.1 M745.8,881.5l1.3,-2.3 -1.7,-2.3 1.2,-2.4 M772.3,882.3l2.4,1.2 2.8,-2.3 M763.2,883l3.6,-1.3 2.3,-2.1 2.3,1.3 M763.8,876.2l2.8,-2.3 -2,-3.1 3,-1.7 M747,874.5l1.4,-3.3 -3.1,0.3 M757.4,877l-1.6,2.7 -0.7,3.3 M768.3,876.6l3.3,1.6 -0.5,-3.7 3,-1.7 -0.7,-2.5 M764.7,867.2l1.3,3.1 2.7,-1.5 1.6,2.4 2.4,-1.2 M758.4,873.9l2.8,-0.3 -0.1,-2.7 0.8,-2.6 -2.9,-1.7 M750.4,863.9l-1.1,-2.4 -0.9,2.6 -0.7,-3.2 -1.3,3 M760.3,880.5l2.6,2.1 1.4,-3.1 2.4,2.7 M765.2,878.8l1.9,-3.1 -2.2,-1.6 1,-2.6 M761.2,865.7l-3.6,-1.1 -1.2,3.2 M757.2,871.4l-2.8,1.5 -0.2,3.1 -2.7,0.3 M751.2,873.4l-2.5,-2.6 -1.9,2.1 -2,-1.6 -0.9,3.2 M760.5,874l2.3,3 2.1,-2 2.1,2.2 M756,872.2l-1.5,2.6 3,-0.6 0.2,2.8 M772,873.1l1.6,-3.1 -3.7,-0.9 -2.2,-2.4 -3.6,0.9 M761.2,865l-2.2,-2.7 -3.7,0.8 M757.1,871.7l-2.7,1.1 -3.1,2 -3.7,0.1 M746.1,873.2l-3.4,1.2 -0.7,2.5 M757.5,865.6l1.7,2.6 0.5,-3.7 3,1 2.2,-2.2 M749.5,873.7l0.4,2.9 2.9,-1.6 3.1,0.5 M777.3,868.6l-2.4,-1.4 -3.3,1.2 -2.4,-0.9 -2.6,0.6 M759.9,871.7l-1.9,2 3.1,0.7 1,3.7 2.2,-1.4 M761.1,877.5l-2.3,2.9 2,2.2 0.4,3.6 M763.5,864.2l-0.5,-3.4 -2.9,-0.5 M757.5,868.1l-2.1,-2.5 -3.1,1.4 -0.6,-2.5 M749.8,866.4l1,-3.3 -2.1,-1.9 M765.3,872.9l-2.3,1.8 -0.1,2.6 M767.8,867.7l0.2,-3.7 -3,0.6 -2.3,-1.5 M749.6,885.7l-2.6,-1 -2.6,2.6 -3.8,-0.3 M759.2,875.6l1.1,3.3 1.7,-2.1 M769,881.6l3,-0.8 1.7,-2.6 M758.6,872.8l-0.1,-2.8 -3.2,-1.2 2.8,-2.3 M744.1,868.7l1.8,2 2.6,0.5 -3,1.7 -0,3.7 M757.1,874.1l-0.4,-3.2 -2.5,2.2 -2.3,-2.3 M750.3,877.5l3.3,1.6 2.7,-2.3 2.6,0.1 2.8,-1.7 M748.9,877.7l1.1,2.6 2.4,1.4 1.5,3.5 3.8,0.3 M756.6,865.3l-3.6,1 -1.3,2.4 -3.1,-2 -2.4,2.9 M758.2,888.1l2.9,-1.9 -1.4,-2.8 2.7,-1.3 -1.3,-2.8 M759.6,858.4l-2.7,-2 -3,1.2 -1.5,-3.4 -2.5,-1 M752.5,885.9l-2.5,2.2 2.1,2.9 -1.1,3.3 0.9,3.6 M758.8,872.6l3.4,0.6 1.8,-3.3 M758.4,872.8l-1.9,2.6 0.3,3.5 -3.3,0.7 2.3,1.6 M766,858.7l2.6,1.5 2.3,-1.9 2.6,1.3 2.1,-2.4 M757.2,872l-1.4,3.3 1.7,2.7 M756,860.5l3.7,-0.7 1.6,-2.6 M755.6,879.7l2.2,2.8 2,-1.6 2.3,3 M775.7,878.5l-0.3,-2.6 -3.3,1.4 -0.2,-2.9 -3.7,0.3 M760.7,881.8l-3.1,-1.6 -1,3.3 M747,865.8l-1.3,-2.8 -0.9,2.6 -3,0.8 0.8,3.6 M761.5,861.5l0.1,3.3 3,0.4 0.2,2.6 3.3,0.6 M764.3,879.5l-1.2,-3.6 -3,-0.5 M759.4,863.9l2.7,-2.5 -3.5,-1.1 2.7,-2.7 M777.1,873.2l1,2.6 2.5,-1.4 M769.1,876l-3.6,-0.5 -0.9,2.5 M759.3,873.4l-1.4,-3.1 -0.3,3.4 M758.5,872.1l0.4,2.6 2.1,-2.1 M757,857l2.1,1.5 1.9,-3.2 1.5,3.1 M768,866.1l3.3,-0.4 2.8,-2.2 2.9,2.1 2.2,-1.5 M763.7,873.7l0.1,-2.6 -3,0.6 1,-3.1 -2.6,-1.3 M768.2,883.5l3.8,0.6 1.6,-2.9 3.6,1.2 0.4,-2.8 M752.9,866.6l-2.3,2.8 2.7,1.7 M749,874.3l-2.5,2.2 1.5,2.7 M752.8,876.4l1.9,-2.4 0.6,-2.9 3.3,-1.2 0,-3.6 M768.5,870.3l-1.9,2.3 3,1.4 -1.4,3.5 M754.5,888.2l-2.2,1.5 -0.4,2.9 -2.3,-1.2 M757.5,872.3l-2.4,2.1 2.7,0.2 -0.7,2.9 2.7,0.7 M762.5,882.7l0.5,-2.6 -2.9,-1.5 0.7,-3.1 -1.1,-2.4 M758.6,872.7l0.3,3.2 3.2,-2.1 M746.2,876.3l3.1,1.8 2.3,-2.7 3.1,0.7 M757.1,864.8l-1.2,-2.6 -2.4,-2.1 3.5,-0.8 M744.3,874.2l-1,-2.5 -2.7,-0.4 0.2,-2.7 -3.5,0.4 M755.9,878.8l-2.5,-2.9 -3,2.3 -3,-1.4 -1,2.6 M760.6,866.7l-1.9,-3.1 -1.5,2.8 -3,-1.7 M759.2,870.2l-2.8,0.6 -1.2,3 -2,3.3 M748.2,874l0.4,-3.8 -2.6,1.9 M770.9,881.4l-1.7,3.1 2.5,-0.9 -2.4,2.6 M761.5,878.2l-2,-2.1 -1.9,2.3 -2.5,-1.3 -1.7,2.4 M759.5,886.2l-0.3,-2.5 -2.8,-0 -1.7,-2.8 M749.4,873.8l-3.2,1.5 2,2.4 M759,867.3l-2,2.3 3.4,0.1 -0.3,3.3 2.5,1.2 M751.1,871.6l-1,-2.5 -3.2,0.6 M759,870.4l-1.2,2.8 2.5,1.8 -1.5,2.7 2.3,2.4 M750.1,876.2l-2.8,2.3 1.3,2.6 M744.3,873.2l1.7,-3.1 -1.7,-2.6 -1.2,-3.3 -2.6,0 M759.7,868.8l-0.6,3.3 2.3,1.9 M755.9,868.7l-0.3,-2.6 -2.9,-1.2 2.4,-3 M755,867.4l3.4,-0.4 0.8,-3.3 2.8,-0.2 M750.6,872.8l-3.3,0.5 -2.4,2.8 -3.3,0.1 M758.5,872.7l0.6,3.5 2.8,-0.5 2.8,-0.1 1.8,-2.7 M768.5,877.2l-2.1,1.7 -1.4,3.3 -3.7,-1 -0.1,2.9 M758.7,873l-3,-0.9 -2.1,1.9 M746.8,876l-3,-2.2 -2.7,2.4 -1.8,-3.2 -2.3,1.5" stroke="#1fa040" stroke-width="1" fill="none"/>
<path d="M749,879.2l-3.3,1.2 1.5,3.1 -2.3,1.6 M764.8,885.3l1.8,-1.8 -3.1,-0.3 2.6,-1.6 M768.7,872.6l1.8,-2.9 -3.4,-1.5 1.7,-2.5 -3.4,0.6 M775.1,871.7l-2.7,-0.4 -0.4,3.3 M769.4,874.7l3.8,0.1 0.8,-3 M745.8,881.5l1.3,-2.3 -1.7,-2.3 1.2,-2.4 M763.8,876.2l2.8,-2.3 -2,-3.1 3,-1.7 M768.3,876.6l3.3,1.6 -0.5,-3.7 3,-1.7 -0.7,-2.5 M750.4,863.9l-1.1,-2.4 -0.9,2.6 -0.7,-3.2 -1.3,3 M761.2,865.7l-3.6,-1.1 -1.2,3.2 M760.5,874l2.3,3 2.1,-2 2.1,2.2 M761.2,865l-2.2,-2.7 -3.7,0.8 M757.5,865.6l1.7,2.6 0.5,-3.7 3,1 2.2,-2.2 M759.9,871.7l-1.9,2 3.1,0.7 1,3.7 2.2,-1.4 M757.5,868.1l-2.1,-2.5 -3.1,1.4 -0.6,-2.5 M767.8,867.7l0.2,-3.7 -3,0.6 -2.3,-1.5 M769,881.6l3,-0.8 1.7,-2.6 M757.1,874.1l-0.4,-3.2 -2.5,2.2 -2.3,-2.3 M756.6,865.3l-3.6,1 -1.3,2.4 -3.1,-2 -2.4,2.9 M752.5,885.9l-2.5,2.2 2.1,2.9 -1.1,3.3 0.9,3.6 M766,858.7l2.6,1.5 2.3,-1.9 2.6,1.3 2.1,-2.4 M755.6,879.7l2.2,2.8 2,-1.6 2.3,3 M747,865.8l-1.3,-2.8 -0.9,2.6 -3,0.8 0.8,3.6 M759.4,863.9l2.7,-2.5 -3.5,-1.1 2.7,-2.7 M759.3,873.4l-1.4,-3.1 -0.3,3.4 M768,866.1l3.3,-0.4 2.8,-2.2 2.9,2.1 2.2,-1.5 M752.9,866.6l-2.3,2.8 2.7,1.7 M768.5,870.3l-1.9,2.3 3,1.4 -1.4,3.5 M762.5,882.7l0.5,-2.6 -2.9,-1.5 0.7,-3.1 -1.1,-2.4 M757.1,864.8l-1.2,-2.6 -2.4,-2.1 3.5,-0.8 M760.6,866.7l-1.9,-3.1 -1.5,2.8 -3,-1.7 M770.9,881.4l-1.7,3.1 2.5,-0.9 -2.4,2.6 M749.4,873.8l-3.2,1.5 2,2.4 M759,870.4l-1.2,2.8 2.5,1.8 -1.5,2.7 2.3,2.4 M759.7,868.8l-0.6,3.3 2.3,1.9 M750.6,872.8l-3.3,0.5 -2.4,2.8 -3.3,0.1 M758.7,873l-3,-0.9 -2.1,1.9" stroke="#52d070" stroke-width="0.7" fill="none"/>
<path d="M688.8,914.5l1.4,-3.1 -2.4,-2.2 -0.6,-2.9 -2.6,1.7 M689.3,917l3.2,-0.2 1.5,-2.1 3.1,1.3 1.1,-2.5 M690.1,913l3.4,1.7 3.7,0.1 M694.1,908.2l-2.2,-1.5 -2.1,2.3 -1.8,-2.1 -2.2,2.8 M697.6,916l-3.2,-0.5 -2,2.5 -2.5,-1.7 -1.6,2 M683,914.9l3.6,-0.4 1.9,-1.8 2.6,0.3 0.9,-2.7 M687.7,919l1.5,-2.2 -3,-2.2 0.7,-2.7 M682,912.5l3.2,0.3 -0.2,-3.7 3.7,-0.3 M686.3,907.5l3.2,-0.1 2.1,-2.6 M686.8,923l-2.8,2 2.2,1.8 M683.9,909.2l-2.2,2.9 1.8,2.4 -2.8,-0.5 M693.9,914.3l-1.6,3.2 2.7,1.4 -1.8,2.7 M689.9,915.7l-1.7,2 1.2,3.5 -2.1,2.4 M695.7,907.8l-2.7,-0.4 -1.6,3.1 M696.4,914.5l2.1,-1.8 -2.6,-1.8 3.6,-1.2 -1.1,-3.6 M698.5,910.3l1.6,2.5 3.2,-0.5 3,1.3 M701.4,919.4l1.3,-3.1 -1.6,-2.5 M684.7,914.6l-1.3,-2.8 -3.1,0.8 0.3,-3.2 -2.2,-1.4 M700.2,913.8l0.8,-3.3 -2.8,-2.2 -0.1,-3.5 M689.8,913.5l1.7,2.1 2,-2.7 2.9,0.3 3.1,-1.4 M697.2,921.3l-1.2,-2.6 -3.4,0.3 M698.5,908.3l1.8,2.5 2.8,-1.5 M688.6,922l1.2,-3.5 -1.1,-3.4 2.8,-0.9 M695.6,913.3l-2.1,1.8 2.7,0.8 -1.1,3.6 1,3.1 M698.7,914.3l-3.2,-1.4 -1.1,2.5 -2.2,-1.5 M699.6,919.9l2.8,-2.4 -3.3,-0.3 2.6,-1.9 M695.6,907.6l1.1,-2.7 -1.6,-2.6 2.1,-1.8 M690.8,912.5l-3.3,1.7 0.7,2.9 M681.1,914.2l-2.9,-0.9 -2.5,0.9 M693.5,916.1l-1.7,-2.2 -2.6,1.3 -1.6,-2.1 -0.3,2.6 M692.3,914.2l1.4,-3.1 -2.6,-1.4 -1,-3.2 -3.6,0.8 M686.3,913.2l-3.7,1 1.8,3.3 M696.5,909.2l-3.2,0.4 0.8,3 -2.5,1.6 M696.3,920.7l2.6,-0.4 -0.2,-2.8 M697.3,906.6l-1.1,2.9 2.8,-0.6 -0.6,3.8 M685.2,907.4l-2.5,2.8 -0.7,2.5 -2.1,2.1 0.8,3 M688.9,916.3l-1,2.6 3.3,-0.8 -0.4,2.7 2.7,1.5 M683.9,912.6l-1.4,2.6 2.5,0.7 M688.4,913.5l-2.8,-2.6 0,3.2 M688.5,910.5l2.3,-2 1.1,-3 2.6,-1.4" stroke="#1fa040" stroke-width="1" fill="none"/>
<path d="M688.8,914.5l1.4,-3.1 -2.4,-2.2 -0.6,-2.9 -2.6,1.7 M694.1,908.2l-2.2,-1.5 -2.1,2.3 -1.8,-2.1 -2.2,2.8 M687.7,919l1.5,-2.2 -3,-2.2 0.7,-2.7 M686.8,923l-2.8,2 2.2,1.8 M689.9,915.7l-1.7,2 1.2,3.5 -2.1,2.4 M698.5,910.3l1.6,2.5 3.2,-0.5 3,1.3 M700.2,913.8l0.8,-3.3 -2.8,-2.2 -0.1,-3.5 M698.5,908.3l1.8,2.5 2.8,-1.5 M698.7,914.3l-3.2,-1.4 -1.1,2.5 -2.2,-1.5 M690.8,912.5l-3.3,1.7 0.7,2.9 M692.3,914.2l1.4,-3.1 -2.6,-1.4 -1,-3.2 -3.6,0.8 M696.3,920.7l2.6,-0.4 -0.2,-2.8 M688.9,916.3l-1,2.6 3.3,-0.8 -0.4,2.7 2.7,1.5 M688.5,910.5l2.3,-2 1.1,-3 2.6,-1.4" stroke="#52d070" stroke-width="0.7" fill="none"/>
<path d="M691.8,935.3l-3.7,-1 -1.8,1.8 M677.1,946.5l2.8,0.5 0.4,-3.2 M693.4,938.1l-1.3,-3.4 -2.7,1 M688.7,940.6l2.3,-3 -3,0.7 M678,946.6l2.6,-1.5 1.2,-3.3 M689.3,945.5l-1.3,-3.2 -2.4,1.9 -2,-2.6 M683.4,951.3l2.9,-0.6 -2.1,-2.5 2.8,-0.1 M682.9,937.8l-2.1,-2.2 0.5,3.2 -2.7,2.7 M688.6,930l3.1,1.3 3.7,-0.7 3.1,2 0.2,-2.9 M686.4,941.2l-2.4,-1 -2.5,1.4 M696.2,947.5l1.8,3.4 3,-0.1 0.3,3.8 M685.9,939.2l2.3,2.9 1.9,-2.8 M685.7,944.4l0.4,2.7 2.6,-0.1 1.6,2 2.7,-0.3 M686.7,940l-1.2,-2.4 -2.8,0.6 M691.8,943.9l0.3,-2.6 -3.3,-0.2 M687.6,939.3l2.7,2.2 0.1,-3.3 M686.2,940.9l-2.7,-1.4 -0.6,2.8 M681.6,942.7l3.4,-0.5 0.6,-3.8 2.2,-2.9 -1.5,-3.4 M693.1,948.7l-3.4,-1.4 -0.8,2.7 -2.6,-1.3 -0.8,3 M679.2,932.5l0.3,-3 -2.6,0.2 -1.8,-3.1 M693.7,932.2l-2,-3.1 -2,2.1 -2.9,-2.4 M676,939.9l-3.1,2.2 -0.8,2.9 -2.5,-1.6 M680.7,951.1l3,-1 2.4,-1.4 M685.7,940.8l-2.6,-0.6 -1.4,2.7 M683.5,941.1l-1.2,3.6 3.6,0.8 M687.3,936.2l3.5,-1.2 -2.8,-1.9 0.3,-3.2 M695.2,946.5l2.5,1.5 0.3,-3.7 3.1,-1.3 -0.1,-2.6 M674.4,939l-3.4,-1.6 -1.6,2.9 -3.1,-1.8 -2.2,2.7 M696.2,936.6l1.3,2.6 3.1,-0.2 1.5,2.6 2.6,-1.8 M687.1,934.7l0.4,-3.3 -3.5,0.3" stroke="#1fa040" stroke-width="1" fill="none"/>
<path d="M691.8,935.3l-3.7,-1 -1.8,1.8 M688.7,940.6l2.3,-3 -3,0.7 M683.4,951.3l2.9,-0.6 -2.1,-2.5 2.8,-0.1 M686.4,941.2l-2.4,-1 -2.5,1.4 M685.7,944.4l0.4,2.7 2.6,-0.1 1.6,2 2.7,-0.3 M687.6,939.3l2.7,2.2 0.1,-3.3 M693.1,948.7l-3.4,-1.4 -0.8,2.7 -2.6,-1.3 -0.8,3 M676,939.9l-3.1,2.2 -0.8,2.9 -2.5,-1.6 M683.5,941.1l-1.2,3.6 3.6,0.8 M674.4,939l-3.4,-1.6 -1.6,2.9 -3.1,-1.8 -2.2,2.7" stroke="#52d070" stroke-width="0.7" fill="none"/>
</g></g>
<text x="567" y="543.5" font-size="27.5" font-family="'Liberation Sans',Arial,sans-serif" fill="#fff" textLength="18" lengthAdjust="spacingAndGlyphs" >N</text>
<text x="567" y="799.5" font-size="27.5" font-family="'Liberation Sans',Arial,sans-serif" fill="#fff" textLength="17" lengthAdjust="spacingAndGlyphs" >C</text>
<rect x="976.6" y="532" width="25" height="460" fill="url(#gent)" stroke="#111" stroke-width="1.5"/>
<line x1="967" y1="532" x2="977" y2="532" stroke="#111" stroke-width="1.4"/>
<line x1="967" y1="765.8" x2="977" y2="765.8" stroke="#111" stroke-width="1.4"/>
<line x1="967" y1="992" x2="977" y2="992" stroke="#111" stroke-width="1.4"/>
<text x="921" y="538.3" font-size="33" textLength="40" lengthAdjust="spacingAndGlyphs" >4.4</text>
<text x="921" y="772.5" font-size="33" textLength="40" lengthAdjust="spacingAndGlyphs" >4.2</text>
<text x="920" y="999.2" font-size="33" textLength="42" lengthAdjust="spacingAndGlyphs" >4.0</text>
<text transform="translate(913,1002) rotate(-90)" font-size="30" textLength="446" lengthAdjust="spacingAndGlyphs">Энтропия на липид, кДж К<tspan font-size="19" dy="-11">−1</tspan><tspan dy="11"> мол</tspan><tspan font-size="19" dy="-11">−1</tspan></text>
<text x="1061.5" y="42.8" font-size="44" font-weight="bold" font-style="italic" textLength="20" lengthAdjust="spacingAndGlyphs" >в</text>
<polygon points="1076,589.4 1477.3,602.3 1584.5,470.1 1276.7,458.1" fill="rgb(138,138,138)"/>
<g clip-path="url(#cp4)">
<g transform="matrix(3.5455 0.1245 -1.5395 1.3175 1253.3 457.9)">
<g filter="url(#pb4)"></g>
<g filter="url(#pb2)"></g>
</g>
<g filter="url(#pb4)"><ellipse cx="1227.2" cy="547.1" rx="22.9" ry="10.9" fill="rgb(40,40,40)" opacity="0.95" transform="rotate(8 1227.2 547.1)"/><ellipse cx="1258.5" cy="516.3" rx="29.4" ry="6.8" fill="rgb(70,70,70)" opacity="0.75" transform="rotate(3 1258.5 516.3)"/><ellipse cx="1386.5" cy="562.8" rx="45.7" ry="10.2" fill="rgb(45,45,45)" opacity="0.95" transform="rotate(3 1386.5 562.8)"/><ellipse cx="1441.4" cy="571.9" rx="35.9" ry="8.2" fill="rgb(60,60,60)" opacity="0.85" transform="rotate(-3 1441.4 571.9)"/><ellipse cx="1556.3" cy="489.6" rx="14.7" ry="8.8" fill="rgb(40,40,40)" opacity="0.85" transform="rotate(0 1556.3 489.6)"/><ellipse cx="1331.7" cy="549.7" rx="29.4" ry="7.5" fill="rgb(70,70,70)" opacity="0.5" transform="rotate(0 1331.7 549.7)"/><ellipse cx="1156.7" cy="562.8" rx="45.7" ry="17" fill="rgb(212,212,212)" opacity="0.9" transform="rotate(-5 1156.7 562.8)"/><ellipse cx="1112.2" cy="578.5" rx="26.1" ry="8.5" fill="rgb(190,190,190)" opacity="0.6" transform="rotate(0 1112.2 578.5)"/><ellipse cx="1295.1" cy="578.5" rx="42.5" ry="12.9" fill="rgb(212,212,212)" opacity="0.9" transform="rotate(0 1295.1 578.5)"/><ellipse cx="1431" cy="524.9" rx="62" ry="10.9" fill="rgb(195,195,195)" opacity="0.8" transform="rotate(3 1431 524.9)"/><ellipse cx="1519.8" cy="527.5" rx="32.7" ry="12.9" fill="rgb(185,185,185)" opacity="0.7" transform="rotate(-10 1519.8 527.5)"/><ellipse cx="1491" cy="565.4" rx="29.4" ry="10.2" fill="rgb(170,170,170)" opacity="0.5" transform="rotate(-10 1491 565.4)"/><ellipse cx="1360.4" cy="586.3" rx="39.2" ry="6.8" fill="rgb(180,180,180)" opacity="0.5" transform="rotate(2 1360.4 586.3)"/><ellipse cx="1206.3" cy="521" rx="16.3" ry="6.1" fill="rgb(170,170,170)" opacity="0.5" transform="rotate(0 1206.3 521)"/><ellipse cx="1504.1" cy="500.1" rx="19.6" ry="6.8" fill="rgb(100,100,100)" opacity="0.5" transform="rotate(0 1504.1 500.1)"/></g>
<rect x="1076" y="458.1" width="508.5" height="144.2" filter="url(#pn4)"/>
</g>
<polygon points="1076,589.4 1477.3,602.3 1584.5,470.1 1276.7,458.1" fill="none" stroke="#2a2a2a" stroke-width="0.9"/>
<g clip-path="url(#cp4)" filter="url(#pb2)"><ellipse cx="1310" cy="522" rx="11" ry="10" fill="#fff"/><ellipse cx="1363" cy="532" rx="17" ry="6.5" fill="#fff"/><ellipse cx="1338" cy="536" rx="20" ry="4" fill="#e8e8e8"/></g>
<polygon points="1325.9,530.7 1350.6,527.1 1349.2,537.4 1336.5,536.7" fill="#0a0a0a" />
<polygon points="1321.5,509.6 1385.7,511.3 1378.7,522.2 1352.3,527.5 1343.5,532.8 1318.9,531.4 1317.1,524" fill="url(#grn)" />
<path d="M1325.9,511.7L1331.2,515.2" stroke="#1f9a2a" stroke-width="3" fill="none" stroke-linecap="round" stroke-linejoin="round"/>
<polygon points="1090,504.2 1489.8,513.9 1595.4,383.3 1287.6,371.3" fill="rgb(106,106,106)"/>
<g clip-path="url(#cp3)">
<g transform="matrix(3.5380 0.1085 -1.5160 1.3175 1264.6 371.9)">
<g filter="url(#pb4)"><ellipse cx="20" cy="70" rx="12" ry="10" fill="rgb(125,125,125)" opacity="0.45"/><ellipse cx="70" cy="75" rx="14" ry="8" fill="rgb(88,88,88)" opacity="0.5"/><ellipse cx="85" cy="30" rx="10" ry="8" fill="rgb(122,122,122)" opacity="0.4"/><ellipse cx="30" cy="25" rx="12" ry="8" fill="rgb(92,92,92)" opacity="0.4"/></g>
<g filter="url(#pb2)"><circle cx="51.1" cy="44.5" r="14" fill="none" stroke="rgb(170,170,170)" stroke-width="4" opacity="0.35"/><circle cx="51.1" cy="44.5" r="24" fill="none" stroke="rgb(60,60,60)" stroke-width="5" opacity="0.4"/><circle cx="51.1" cy="44.5" r="33" fill="none" stroke="rgb(150,150,150)" stroke-width="4" opacity="0.22"/></g>
</g>
<rect x="1090" y="371.3" width="505.4" height="142.6" filter="url(#pn3)"/>
</g>
<polygon points="1090,504.2 1489.8,513.9 1595.4,383.3 1287.6,371.3" fill="none" stroke="#2a2a2a" stroke-width="0.9"/>
<g clip-path="url(#cp3)" filter="url(#pb4)"><ellipse cx="1326" cy="429" rx="15" ry="14" fill="#fff"/><ellipse cx="1416" cy="431" rx="14" ry="9" fill="#f4f4f4"/><ellipse cx="1372" cy="454" rx="45" ry="5" fill="#ccc" opacity="0.45"/></g>
<path d="M1285.2,409.4L1285.2,424.8L1297.7,434.5L1310.3,425.8L1310.3,409.4M1310.3,425.8L1322.9,436.4L1332.1,446.6" stroke="#b83cb4" stroke-width="5.8" fill="none" stroke-linecap="round" stroke-linejoin="round"/>
<path d="M1331.6,449 L1336.4,429.7 L1356.8,426.8 L1376.1,421.9 L1403.2,416.6 Q1403.2,444.2 1390.6,451.9 L1356.8,455 Q1337.4,454.8 1331.6,449 Z" fill="url(#pk)"/>
<path d="M1367.4,415.6 L1384.8,415.6 L1376.1,420 Z" fill="#22b030"/>
<path d="M1343.7,420L1355.8,431.6M1356.8,429.2L1372.2,428.5M1403.2,418.3L1420.6,418.3L1426.6,433.7" stroke="#0a0a0a" stroke-width="5.6" fill="none" stroke-linecap="round" stroke-linejoin="round"/>
<polygon points="1103.8,408.7 1503.5,419.3 1609.6,290 1301.8,278" fill="rgb(150,150,150)"/>
<g clip-path="url(#cp2)">
<g transform="matrix(3.5375 0.1130 -1.5205 1.3000 1278.8 278.4)">
<g filter="url(#pb4)"><ellipse cx="75" cy="30" rx="10" ry="6" fill="rgb(160,160,160)" opacity="0.3"/><ellipse cx="25" cy="60" rx="10" ry="8" fill="rgb(140,140,140)" opacity="0.3"/></g>
<g filter="url(#pb2)"><circle cx="54.7" cy="48.8" r="13" fill="none" stroke="rgb(250,250,250)" stroke-width="6" opacity="0.95"/><circle cx="54.7" cy="48.8" r="21" fill="none" stroke="rgb(70,70,70)" stroke-width="5" opacity="0.7"/><circle cx="54.7" cy="48.8" r="28" fill="none" stroke="rgb(215,215,215)" stroke-width="4" opacity="0.6"/><circle cx="54.7" cy="48.8" r="35" fill="none" stroke="rgb(110,110,110)" stroke-width="3.5" opacity="0.35"/><circle cx="54.7" cy="48.8" r="42" fill="none" stroke="rgb(180,180,180)" stroke-width="3" opacity="0.2"/></g>
</g>
<rect x="1103.8" y="278" width="505.8" height="141.3" filter="url(#pn2)"/>
</g>
<polygon points="1103.8,408.7 1503.5,419.3 1609.6,290 1301.8,278" fill="none" stroke="#2a2a2a" stroke-width="0.9"/>
<g clip-path="url(#cp2)" filter="url(#pb2)"><ellipse cx="1362" cy="345" rx="27" ry="11" fill="#fff"/><ellipse cx="1436" cy="344" rx="19" ry="9" fill="#fff"/><ellipse cx="1398" cy="356" rx="40" ry="6" fill="#fff"/></g>
<g clip-path="url(#cp2)" filter="url(#pb2)"><ellipse cx="1338" cy="352" rx="8" ry="6" fill="#222"/><ellipse cx="1445" cy="347" rx="10" ry="2.5" fill="#333"/><ellipse cx="1390" cy="364" rx="40" ry="2.5" fill="#333" opacity="0.8"/></g>
<polygon points="1357.4,332.7 1371.1,332.7 1369.7,339.5 1362.8,338.1" fill="#0a0a0a" />
<polygon points="1369.7,332.7 1417.6,332.7 1414.9,357.3 1398.4,358.9 1361.5,356.2 1382,350.4 1384.7,339.5" fill="url(#grn)" />
<polygon points="1425.8,332.7 1450.4,334 1448,339.5 1432.7,335.7" fill="#3fd046" />
<path d="M1386.8,342.5L1390.2,349.1L1396,352.1" stroke="#e03030" stroke-width="5.4" fill="none" stroke-linecap="round" stroke-linejoin="round"/>
<path d="M1385,336.5L1386.7,342" stroke="#ddd" stroke-width="5.4" fill="none" stroke-linecap="round" stroke-linejoin="round"/>
<polygon points="1119.4,327.5 1522,334 1623.2,205.2 1315.4,193.2" fill="rgb(108,108,108)"/>
<g clip-path="url(#cp1)">
<g transform="matrix(3.5520 0.0925 -1.4860 1.3155 1291.7 194.6)">
<g filter="url(#pb4)"></g>
<g filter="url(#pb2)"><circle cx="53.5" cy="53.6" r="22" fill="none" stroke="rgb(45,45,45)" stroke-width="5" opacity="0.5"/><circle cx="53.5" cy="53.6" r="30" fill="none" stroke="rgb(160,160,160)" stroke-width="4" opacity="0.28"/><circle cx="53.5" cy="53.6" r="38" fill="none" stroke="rgb(55,55,55)" stroke-width="4" opacity="0.3"/><circle cx="53.5" cy="53.6" r="46" fill="none" stroke="rgb(150,150,150)" stroke-width="3.5" opacity="0.18"/></g>
</g>
<g filter="url(#pb4)"><ellipse cx="1285.9" cy="259.2" rx="22.9" ry="11.9" fill="rgb(60,60,60)" opacity="0.6" transform="rotate(0 1285.9 259.2)"/><ellipse cx="1246.7" cy="277.5" rx="19.6" ry="10.2" fill="rgb(70,70,70)" opacity="0.5" transform="rotate(0 1246.7 277.5)"/><ellipse cx="1351.2" cy="246.2" rx="16.3" ry="6.1" fill="rgb(40,40,40)" opacity="0.7" transform="rotate(-10 1351.2 246.2)"/><ellipse cx="1413.9" cy="291.9" rx="55.5" ry="6.1" fill="rgb(50,50,50)" opacity="0.6" transform="rotate(-3 1413.9 291.9)"/><ellipse cx="1497.5" cy="255.3" rx="13.1" ry="20.4" fill="rgb(55,55,55)" opacity="0.5" transform="rotate(20 1497.5 255.3)"/><ellipse cx="1383.4" cy="274.1" rx="20.2" ry="6.8" fill="rgb(255,255,255)" opacity="1" transform="rotate(8 1383.4 274.1)"/><ellipse cx="1450.5" cy="260" rx="17.6" ry="10.9" fill="rgb(255,255,255)" opacity="1" transform="rotate(-15 1450.5 260)"/><ellipse cx="1411.3" cy="282" rx="19.6" ry="3.4" fill="rgb(245,245,245)" opacity="0.8" transform="rotate(0 1411.3 282)"/><ellipse cx="1454.7" cy="246.9" rx="13.1" ry="3.4" fill="rgb(50,50,50)" opacity="0.7" transform="rotate(0 1454.7 246.9)"/><ellipse cx="1400.6" cy="287.2" rx="35.9" ry="3.7" fill="rgb(40,40,40)" opacity="0.7" transform="rotate(0 1400.6 287.2)"/><ellipse cx="1202.3" cy="299.7" rx="29.4" ry="8.5" fill="rgb(120,120,120)" opacity="0.4" transform="rotate(0 1202.3 299.7)"/><ellipse cx="1534.1" cy="229.2" rx="19.6" ry="6.8" fill="rgb(125,125,125)" opacity="0.4" transform="rotate(0 1534.1 229.2)"/></g>
<rect x="1119.4" y="193.2" width="503.8" height="140.8" filter="url(#pn1)"/>
</g>
<polygon points="1119.4,327.5 1522,334 1623.2,205.2 1315.4,193.2" fill="none" stroke="#2a2a2a" stroke-width="0.9"/>
<polygon points="1367,238.5 1436.8,238.5 1412.1,247.8 1423.1,253.3 1432.7,265.6 1431.3,277.2 1394.3,277.2 1376.5,267 1367.6,256" fill="url(#grn)" />
<path d="M1371.1,256.7L1394.3,253.3L1412.1,248.1" stroke="#1f9a2a" stroke-width="3" fill="none" stroke-linecap="round" stroke-linejoin="round"/>
<polygon points="1371.1,239.6 1434,239.3 1412.1,246.7 1387.5,245.1" fill="#62e25a" />
<polygon points="1129,235.4 1529.2,241.2 1630,113.9 1322.2,101.9" fill="rgb(140,140,140)"/>
<g clip-path="url(#cp0)">
<g transform="matrix(3.5400 0.0890 -1.4700 1.3040 1299.1 103.4)">
<g filter="url(#pb4)"></g>
<g filter="url(#pb2)"><path d="M50.6,26.3A26,26 0 0 1 68.1,74.4" fill="none" stroke="rgb(50,50,50)" stroke-width="6" opacity="0.55" stroke-linecap="round"/><path d="M52.1,17A35,35 0 0 1 67.1,84.8" fill="none" stroke="rgb(215,215,215)" stroke-width="6" opacity="0.55" stroke-linecap="round"/><path d="M51.3,8A44,44 0 0 1 77.1,90" fill="none" stroke="rgb(60,60,60)" stroke-width="6" opacity="0.5" stroke-linecap="round"/><path d="M55.1,-1.1A53,53 0 0 1 81.6,97.8" fill="none" stroke="rgb(190,190,190)" stroke-width="5" opacity="0.3" stroke-linecap="round"/></g>
</g>
<g filter="url(#pb4)"><ellipse cx="1296.1" cy="181.8" rx="26.7" ry="11.8" fill="rgb(55,55,55)" opacity="0.85" transform="rotate(0 1296.1 181.8)"/><ellipse cx="1255.8" cy="196.9" rx="23.6" ry="9.2" fill="rgb(75,75,75)" opacity="0.75" transform="rotate(0 1255.8 196.9)"/><ellipse cx="1376.6" cy="178.6" rx="17.3" ry="6.5" fill="rgb(40,40,40)" opacity="0.85" transform="rotate(0 1376.6 178.6)"/><ellipse cx="1459.6" cy="201.9" rx="66" ry="7.8" fill="rgb(65,65,65)" opacity="0.8" transform="rotate(-4 1459.6 201.9)"/><ellipse cx="1359" cy="146.6" rx="12.6" ry="18" fill="rgb(70,70,70)" opacity="0.65" transform="rotate(20 1359 146.6)"/><ellipse cx="1416.9" cy="132.8" rx="18.9" ry="8.2" fill="rgb(80,80,80)" opacity="0.5" transform="rotate(0 1416.9 132.8)"/><ellipse cx="1502.4" cy="134" rx="18.9" ry="13.1" fill="rgb(60,60,60)" opacity="0.6" transform="rotate(0 1502.4 134)"/><ellipse cx="1593" cy="125.2" rx="15.7" ry="9.8" fill="rgb(70,70,70)" opacity="0.65" transform="rotate(0 1593 125.2)"/><ellipse cx="1336.4" cy="220.8" rx="31.4" ry="6.5" fill="rgb(90,90,90)" opacity="0.5" transform="rotate(0 1336.4 220.8)"/><ellipse cx="1215.6" cy="215.8" rx="50.3" ry="15.7" fill="rgb(212,212,212)" opacity="0.9" transform="rotate(-8 1215.6 215.8)"/><ellipse cx="1333.8" cy="137.8" rx="22" ry="16.4" fill="rgb(195,195,195)" opacity="0.7" transform="rotate(30 1333.8 137.8)"/><ellipse cx="1396.7" cy="220.8" rx="34.6" ry="9.8" fill="rgb(198,198,198)" opacity="0.7" transform="rotate(0 1396.7 220.8)"/><ellipse cx="1547.7" cy="195.7" rx="59.7" ry="11.4" fill="rgb(205,205,205)" opacity="0.75" transform="rotate(-12 1547.7 195.7)"/><ellipse cx="1545.2" cy="155.4" rx="22" ry="19.6" fill="rgb(200,200,200)" opacity="0.55" transform="rotate(0 1545.2 155.4)"/><ellipse cx="1276" cy="155.4" rx="22" ry="8.2" fill="rgb(170,170,170)" opacity="0.45" transform="rotate(-20 1276 155.4)"/><ellipse cx="1447" cy="230.9" rx="31.4" ry="4.6" fill="rgb(175,175,175)" opacity="0.5" transform="rotate(0 1447 230.9)"/></g>
<rect x="1129" y="101.9" width="501" height="139.3" filter="url(#pn0)"/>
</g>
<polygon points="1129,235.4 1529.2,241.2 1630,113.9 1322.2,101.9" fill="none" stroke="#2a2a2a" stroke-width="0.9"/>
<g clip-path="url(#cp0)" filter="url(#pb4)"><ellipse cx="1462" cy="178.5" rx="47" ry="12" transform="rotate(-7 1462 178.5)" fill="#fff"/><ellipse cx="1530" cy="166" rx="26" ry="8" transform="rotate(-25 1530 166)" fill="#f0f0f0"/><ellipse cx="1425" cy="186" rx="20" ry="7" fill="#fff"/></g>
<polygon points="1384.3,104.5 1406.3,106.7 1438.5,126.5 1442.9,133.9 1412.1,143.4 1385.7,131.7" fill="#161616" />
<polygon points="1382.1,167.6 1391.6,152.9 1412.1,142.7 1420.2,141.9 1424.6,172 1412.1,177.6 1388.7,172.7" fill="#0c0c0c" />
<polygon points="1418,142.7 1442.9,128 1447.3,135.3 1446.1,160.3 1438.5,169.3 1423.9,172.3" fill="#e01a1f" />
<polygon points="1414.3,142.7 1425.3,138.5 1426.8,171.7 1415.8,175.7" fill="url(#br)" />
<polygon points="1432.7,152.9 1442.9,151.5 1443.7,157.3 1433.4,158.8" fill="#a81418" />
<path d="M1348.3,80.3L1360.8,85.5L1374,101.6L1379.9,104.8M1349.8,94.6L1360.8,86.6M1447.3,62.7L1442.9,63.8L1445.9,69.3L1450.3,78.1L1450.3,88.7M1450.3,78.4L1467.9,75.2L1466.4,68.9L1462,67.9M1437.1,108.9L1432.7,119.2" stroke="#0c0c0c" stroke-width="6" fill="none" stroke-linecap="round" stroke-linejoin="round"/>
<path d="M1403.3,133.9L1385,136.8L1380.6,155.9L1394.5,165.4M1404.1,131.7L1405.5,142.7" stroke="#0c0c0c" stroke-width="4.6" fill="none" stroke-linecap="round" stroke-linejoin="round"/>
<path d="M1432.7,119.2L1428.3,126.8" stroke="#d8d8d8" stroke-width="5.6" fill="none" stroke-linecap="round" stroke-linejoin="round"/>
<path d="M1439.3,67.1L1418,55.4L1406.3,53.9L1400.4,69.3L1387.9,76.7L1388.7,88.4L1379.1,104.1M1388.7,88.4L1398.9,101.6L1409.9,89.1L1419.5,97.9L1445.9,90.6M1398.9,101.6L1412.1,98.7L1419.5,97.9M1409.9,89.1L1403.3,101.9M1407.7,106.7L1406.3,119.2L1404.1,131.7M1445.9,137.5L1454.7,148.5L1469.3,155.9M1454.7,148.5L1447.3,149.3" stroke="#e0242c" stroke-width="5.4" fill="none" stroke-linecap="round" stroke-linejoin="round"/>
<path d="M1400.4,69.3L1401.9,78.4" stroke="#b01c22" stroke-width="5.4" fill="none" stroke-linecap="round" stroke-linejoin="round"/>
<path d="M1416.5,81.2L1423.9,82.7" stroke="#b8202a" stroke-width="6.2" fill="none" stroke-linecap="round" stroke-linejoin="round"/>
<path d="M1424.1,82.8L1432.1,84.6" stroke="#2a38b8" stroke-width="6.2" fill="none" stroke-linecap="round" stroke-linejoin="round"/>
<text x="1233" y="97.5" font-size="35" textLength="68.7" lengthAdjust="spacingAndGlyphs" >GpA</text>
<polygon points="1267,597.5 1300.4,596.1 1301.3,606.7 1290.7,613.7 1296,626 1301.7,631.7 1299.5,647.1 1293.4,647.1 1289,626 1276.7,619 1269.6,606.7" fill="#de1a1f" />
<path d="M1290.7,600.3L1294.6,601.4" stroke="#1c2a9a" stroke-width="5.5" fill="none" stroke-linecap="round" stroke-linejoin="round"/>
<path d="M1169.4,512.5L1191.3,514.3L1202.8,503.8L1200.5,495.5M1202.8,503.8L1210.2,506.4M1169.4,512.5L1171.8,500.2M1191.3,514.3L1193.1,532.8L1211.6,539.8L1209.8,557.4L1228.3,567.1L1227.4,585.6L1241.5,601.4" stroke="#3c46b4" stroke-width="6.3" fill="none" stroke-linecap="round" stroke-linejoin="round"/>
<path d="M1200.3,494.8L1199.3,491.6M1210.7,506.6L1214.7,508.1M1171.8,499.7L1172.2,497.6M1168.3,514.5L1164.8,521.5M1192.2,533.5L1184.5,539.8" stroke="#e6e6e6" stroke-width="5.4" fill="none" stroke-linecap="round" stroke-linejoin="round"/>
<path d="M1241.5,601.4L1250.3,611.9L1259.4,616.5M1276.7,616.3L1290.7,608.4L1308.3,615.5L1306.6,631.3L1289,640.1L1274.9,632.2L1276.7,616.3M1276.7,616.3L1260,609.3L1258.2,619L1274,626.4" stroke="#b83cb4" stroke-width="6" fill="none" stroke-linecap="round" stroke-linejoin="round"/>
<rect x="1139.2" y="705.6" width="18.1" height="22" fill="rgb(255,255,255)"/>
<rect x="1156.8" y="705.6" width="18.1" height="22" fill="rgb(247,247,247)"/>
<rect x="1174.3" y="705.6" width="18.1" height="22" fill="rgb(239,239,239)"/>
<rect x="1191.9" y="705.6" width="18.1" height="22" fill="rgb(231,231,231)"/>
<rect x="1209.4" y="705.6" width="18.1" height="22" fill="rgb(223,223,223)"/>
<rect x="1227" y="705.6" width="18.1" height="22" fill="rgb(216,216,216)"/>
<rect x="1244.5" y="705.6" width="18.1" height="22" fill="rgb(207,207,207)"/>
<rect x="1262.1" y="705.6" width="18.1" height="22" fill="rgb(198,198,198)"/>
<rect x="1279.6" y="705.6" width="18.1" height="22" fill="rgb(189,189,189)"/>
<rect x="1297.2" y="705.6" width="18.1" height="22" fill="rgb(180,180,180)"/>
<rect x="1314.7" y="705.6" width="18.1" height="22" fill="rgb(172,172,172)"/>
<rect x="1332.3" y="705.6" width="18.1" height="22" fill="rgb(160,160,160)"/>
<rect x="1349.8" y="705.6" width="18.1" height="22" fill="rgb(148,148,148)"/>
<rect x="1367.4" y="705.6" width="18.1" height="22" fill="rgb(136,136,136)"/>
<rect x="1384.9" y="705.6" width="18.1" height="22" fill="rgb(124,124,124)"/>
<rect x="1402.5" y="705.6" width="18.1" height="22" fill="rgb(112,112,112)"/>
<rect x="1420" y="705.6" width="18.1" height="22" fill="rgb(100,100,100)"/>
<rect x="1437.6" y="705.6" width="18.1" height="22" fill="rgb(89,89,89)"/>
<rect x="1455.1" y="705.6" width="18.1" height="22" fill="rgb(78,78,78)"/>
<rect x="1472.7" y="705.6" width="18.1" height="22" fill="rgb(67,67,67)"/>
<rect x="1490.2" y="705.6" width="18.1" height="22" fill="rgb(56,56,56)"/>
<rect x="1507.8" y="705.6" width="18.1" height="22" fill="rgb(44,44,44)"/>
<rect x="1525.3" y="705.6" width="18.1" height="22" fill="rgb(32,32,32)"/>
<rect x="1542.9" y="705.6" width="18.1" height="22" fill="rgb(20,20,20)"/>
<rect x="1560.4" y="705.6" width="18.1" height="22" fill="rgb(8,8,8)"/>
<polygon points="1578,705.6 1601.6,716.6 1578,727.6" fill="#000"/>
<rect x="1139.2" y="705.6" width="438.8" height="22" fill="none" stroke="#111" stroke-width="1.5"/>
<line x1="1227" y1="705.6" x2="1227" y2="727.6" stroke="#222" stroke-width="1"/>
<line x1="1314.7" y1="705.6" x2="1314.7" y2="727.6" stroke="#222" stroke-width="1"/>
<line x1="1402.5" y1="705.6" x2="1402.5" y2="727.6" stroke="#222" stroke-width="1"/>
<line x1="1490.2" y1="705.6" x2="1490.2" y2="727.6" stroke="#222" stroke-width="1"/>
<text x="1141" y="761.5" font-size="33.5" text-anchor="middle" >0</text>
<text x="1225" y="761.5" font-size="33.5" text-anchor="middle" >300</text>
<text x="1314" y="761.5" font-size="33.5" text-anchor="middle" >600</text>
<text x="1402" y="761.5" font-size="33.5" text-anchor="middle" >900</text>
<text x="1493.5" y="761.5" font-size="33.5" text-anchor="middle" >1200</text>
<text x="1575.5" y="761.5" font-size="33.5" text-anchor="middle" >1500</text>
<text x="1242.4" y="795" font-size="33" textLength="220.6" lengthAdjust="spacingAndGlyphs" >Плотность, г/л</text>
<g clip-path="url(#cl0)"><rect x="1797" y="67.1" width="124.7" height="125.7" fill="#838383"/>
<g filter="url(#gb35)"><ellipse cx="1815.8" cy="142" rx="18.1" ry="16.2" fill="rgb(168,168,168)" opacity="0.6"/><ellipse cx="1841.6" cy="109.7" rx="20.6" ry="18.6" fill="rgb(100,100,100)" opacity="0.5"/><ellipse cx="1881.4" cy="135.1" rx="9.9" ry="11.3" fill="rgb(100,100,100)" opacity="0.5"/><ellipse cx="1883.5" cy="177" rx="37" ry="17" fill="rgb(160,160,160)" opacity="0.5"/><ellipse cx="1877.2" cy="78.8" rx="11.5" ry="9.7" fill="rgb(160,160,160)" opacity="0.45"/><ellipse cx="1807.5" cy="95.3" rx="11.5" ry="22.7" fill="rgb(110,110,110)" opacity="0.3"/></g>
<rect x="1797" y="67.1" width="124.7" height="125.7" filter="url(#nl0)"/></g>
<g clip-path="url(#cr0)"><rect x="1921.7" y="67.1" width="124.8" height="125.7" fill="#959595"/>
<g filter="url(#gb35)"><ellipse cx="1950.5" cy="78.7" rx="28.3" ry="12.1" fill="rgb(200,200,200)" opacity="0.85"/><ellipse cx="1956.7" cy="117" rx="29.1" ry="29.8" fill="rgb(60,60,60)" opacity="0.9"/><ellipse cx="1959.4" cy="108.1" rx="9.7" ry="8.1" fill="rgb(20,20,20)" opacity="0.8"/><ellipse cx="1939.5" cy="135.4" rx="8.9" ry="16.1" fill="rgb(70,70,70)" opacity="0.7"/><ellipse cx="1992.3" cy="142.2" rx="29.1" ry="25.8" fill="rgb(255,255,255)" opacity="1"/><ellipse cx="1991" cy="143.6" rx="14.6" ry="14.5" fill="rgb(255,255,255)" opacity="1"/><ellipse cx="1964.2" cy="173.7" rx="20.2" ry="21" fill="rgb(225,225,225)" opacity="0.9"/><ellipse cx="2030" cy="139.5" rx="12.1" ry="32.2" fill="rgb(60,60,60)" opacity="0.9"/><ellipse cx="2015.6" cy="70.5" rx="16.2" ry="5.6" fill="rgb(250,250,250)" opacity="0.9"/><ellipse cx="2044.4" cy="113.6" rx="4.9" ry="17.7" fill="rgb(210,210,210)" opacity="0.8"/><ellipse cx="2041" cy="179.1" rx="8.9" ry="14.5" fill="rgb(215,215,215)" opacity="0.8"/><ellipse cx="1995.1" cy="99.9" rx="16.2" ry="14.5" fill="rgb(150,150,150)" opacity="0.5"/><ellipse cx="2005.4" cy="180.5" rx="20.2" ry="12.9" fill="rgb(140,140,140)" opacity="0.5"/><ellipse cx="1924.4" cy="149.1" rx="4" ry="40.3" fill="rgb(190,190,190)" opacity="0.6"/></g>
<rect x="1921.7" y="67.1" width="124.8" height="125.7" filter="url(#nr0)"/>
</g>
<g clip-path="url(#cl1)"><rect x="1797" y="192.8" width="124.7" height="125.3" fill="#5c5c5c"/>
<rect x="1797" y="192.8" width="124.7" height="125.3" filter="url(#nl1)"/></g>
<g clip-path="url(#cr1)"><rect x="1921.7" y="192.8" width="124.8" height="125.3" fill="#5a5a5a"/>
<rect x="1921.7" y="192.8" width="124.8" height="125.3" filter="url(#nr1)"/>
</g>
<g clip-path="url(#cl2)"><rect x="1797" y="318.1" width="124.7" height="125.2" fill="#8b8b8b"/>
<rect x="1797" y="318.1" width="124.7" height="125.2" filter="url(#nl2)"/></g>
<g clip-path="url(#cr2)"><rect x="1921.7" y="318.1" width="124.8" height="125.2" fill="#8f8f8f"/>
<rect x="1921.7" y="318.1" width="124.8" height="125.2" filter="url(#nr2)"/>
</g>
<g clip-path="url(#cl3)"><rect x="1797" y="443.3" width="124.7" height="125.8" fill="#5c5c5c"/>
<rect x="1797" y="443.3" width="124.7" height="125.8" filter="url(#nl3)"/></g>
<g clip-path="url(#cr3)"><rect x="1921.7" y="443.3" width="124.8" height="125.8" fill="#5a5a5a"/>
<rect x="1921.7" y="443.3" width="124.8" height="125.8" filter="url(#nr3)"/>
</g>
<g clip-path="url(#cl4)"><rect x="1797" y="569.1" width="124.7" height="124.1" fill="#808080"/>
<g filter="url(#gb35)"><ellipse cx="1815.1" cy="630.5" rx="17.3" ry="20.3" fill="rgb(178,178,178)" opacity="0.75"/><ellipse cx="1889.7" cy="612.5" rx="14.8" ry="18.7" fill="rgb(88,88,88)" opacity="0.7"/><ellipse cx="1852.1" cy="632.5" rx="13.2" ry="13" fill="rgb(98,98,98)" opacity="0.6"/><ellipse cx="1860.4" cy="673.2" rx="34.6" ry="22" fill="rgb(160,160,160)" opacity="0.6"/><ellipse cx="1892.5" cy="675.3" rx="8.2" ry="11.4" fill="rgb(95,95,95)" opacity="0.6"/><ellipse cx="1812.3" cy="578.8" rx="14" ry="9.8" fill="rgb(150,150,150)" opacity="0.4"/><ellipse cx="1911.3" cy="584.3" rx="12.3" ry="13" fill="rgb(100,100,100)" opacity="0.5"/></g>
<rect x="1797" y="569.1" width="124.7" height="124.1" filter="url(#nl4)"/></g>
<g clip-path="url(#cr4)"><rect x="1921.7" y="569.1" width="124.8" height="124.1" fill="#a2a2a2"/>
<g filter="url(#gb35)"><ellipse cx="1956" cy="580.8" rx="38" ry="12.2" fill="rgb(215,215,215)" opacity="0.9"/><ellipse cx="1929.9" cy="581.5" rx="8.9" ry="9.8" fill="rgb(245,245,245)" opacity="0.9"/><ellipse cx="2008.8" cy="586.3" rx="16.2" ry="18.7" fill="rgb(70,70,70)" opacity="0.9"/><ellipse cx="2035.5" cy="611.8" rx="15.4" ry="17.9" fill="rgb(215,215,215)" opacity="0.9"/><ellipse cx="1984.1" cy="620.8" rx="12.9" ry="12.2" fill="rgb(255,255,255)" opacity="1"/><ellipse cx="1994.4" cy="636.7" rx="12.1" ry="13" fill="rgb(250,250,250)" opacity="1"/><ellipse cx="1961.5" cy="636" rx="20.2" ry="17.1" fill="rgb(75,75,75)" opacity="0.9"/><ellipse cx="1933.4" cy="631.8" rx="12.9" ry="18.7" fill="rgb(215,215,215)" opacity="0.9"/><ellipse cx="1924.1" cy="646.3" rx="4.5" ry="11.4" fill="rgb(60,60,60)" opacity="0.8"/><ellipse cx="1944.3" cy="663.6" rx="21" ry="12.2" fill="rgb(225,225,225)" opacity="0.9"/><ellipse cx="1971.8" cy="676.7" rx="21" ry="9.8" fill="rgb(75,75,75)" opacity="0.9"/><ellipse cx="2015" cy="680.1" rx="13.8" ry="10.6" fill="rgb(210,210,210)" opacity="0.85"/><ellipse cx="2041" cy="674.6" rx="8.9" ry="22" fill="rgb(85,85,85)" opacity="0.85"/><ellipse cx="2019.8" cy="646.3" rx="12.9" ry="11.4" fill="rgb(190,190,190)" opacity="0.6"/><ellipse cx="1942.3" cy="602.2" rx="13.8" ry="11.4" fill="rgb(140,140,140)" opacity="0.5"/></g>
<rect x="1921.7" y="569.1" width="124.8" height="124.1" filter="url(#nr4)"/>
</g>
<g clip-path="url(#cr1)">
<ellipse cx="1984" cy="266" rx="26" ry="24" fill="#9a9a9a" opacity="0.55" filter="url(#gb5)"/>
<circle cx="1984" cy="266" r="24" fill="none" stroke="rgb(40,40,40)" stroke-width="5" opacity="0.5" filter="url(#gb15)"/><circle cx="1984" cy="266" r="34" fill="none" stroke="rgb(150,150,150)" stroke-width="4" opacity="0.25" filter="url(#gb15)"/>
<rect x="1969" y="251" width="30" height="32" rx="9" fill="#fff" filter="url(#gb3)"/>
<ellipse cx="1976" cy="250" rx="8" ry="7" fill="#ddd" opacity="0.7" filter="url(#gb3)"/>
</g>
<g clip-path="url(#cr2)">
<circle cx="1982" cy="383" r="37" fill="none" stroke="rgb(110,110,110)" stroke-width="3" opacity="0.4" filter="url(#gb15)"/><circle cx="1982" cy="383" r="31" fill="none" stroke="rgb(175,175,175)" stroke-width="3.5" opacity="0.55" filter="url(#gb15)"/><circle cx="1982" cy="383" r="24.5" fill="none" stroke="rgb(60,60,60)" stroke-width="3.5" opacity="0.65" filter="url(#gb15)"/>
<ellipse cx="1982" cy="383" rx="18" ry="20" fill="#fff" filter="url(#gb3)"/><ellipse cx="1982" cy="383" rx="12" ry="14" fill="#fff"/>
</g>
<g clip-path="url(#cr3)">
<ellipse cx="1985" cy="503" rx="27" ry="26" fill="#9a9a9a" opacity="0.5" filter="url(#gb5)"/>
<circle cx="1985" cy="503" r="25" fill="none" stroke="rgb(40,40,40)" stroke-width="5" opacity="0.5" filter="url(#gb15)"/><circle cx="1985" cy="503" r="35" fill="none" stroke="rgb(150,150,150)" stroke-width="4" opacity="0.25" filter="url(#gb15)"/>
<rect x="1969" y="488" width="32" height="30" rx="10" fill="#fff" filter="url(#gb3)"/>
<ellipse cx="1988" cy="485" rx="8" ry="8" fill="#eee" opacity="0.8" filter="url(#gb3)"/>
</g>
<circle cx="1984.5" cy="264.5" r="7.8" fill="none" stroke="#111" stroke-width="0.9"/>
<path d="M1981.6,267.9L1987.4,261.1M1986.8,265.1L1987.4,261.1L1983.5,262.3" stroke="#111" stroke-width="1" fill="none"/>
<circle cx="1982.5" cy="382" r="7.8" fill="none" stroke="#111" stroke-width="0.9"/>
<path d="M1980.2,385.9L1984.8,378.1M1984.9,382.2L1984.8,378.1L1981.1,380" stroke="#111" stroke-width="1" fill="none"/>
<circle cx="1986.5" cy="502.5" r="7.8" fill="none" stroke="#111" stroke-width="0.9"/>
<path d="M1985.3,506.8L1987.7,498.2M1988.9,502.1L1987.7,498.2L1984.6,501" stroke="#111" stroke-width="1" fill="none"/>
<g><path d="M1758,84.7L1748,77.8M1758,84.7L1749.7,89.7M1757,83.1L1755.6,75.1M1760.3,84.4L1772.9,83.1L1779.6,96.4L1775.6,103.7M1774.2,110.3L1778.2,115.6M1778.2,121.3L1774.6,127.9M1774.2,134.2L1779.6,142.9L1772.9,154.5L1761.6,154.5M1755,156.2L1753,166.1L1743.7,167.8M1753,164.2L1743.7,165.8M1772.9,154.5L1778.9,166.1L1774.9,176.1M1774.2,182.1L1778.9,191.1L1788.2,191.1M1778.9,193.1L1788.2,193.1M1780.9,116.3L1788.9,113.6M1780.9,120.3L1788.9,124.3M1781.6,118.6L1789.5,122.6M1753,166.1L1757,179.4L1751.7,191.4L1757,203.4L1751.7,215.3L1757,227.3L1751.7,239.3L1757,251.2L1751.7,263.2L1757,275.1L1751.7,287.1L1757,299.1L1751.7,311L1757,323L1751.7,335L1757,346.9L1751.7,358.9L1757,370.8M1754,264.2L1754,276.5M1778.9,191.1L1774.2,203.4L1779.6,215.3L1774.2,227.3L1779.6,239.3L1774.2,251.2L1779.6,263.2L1774.2,275.1L1779.6,287.1L1774.2,299.1L1779.6,311L1774.2,323L1779.6,335L1774.2,346.9L1779.6,358.9L1774.2,370.8" stroke="#1a1a1a" stroke-width="0.9" fill="none" stroke-linejoin="round"/><ellipse cx="1772.9" cy="107" rx="2.7" ry="3.1" fill="#fff" stroke="#1a1a1a" stroke-width="0.9"/><ellipse cx="1772.9" cy="131.3" rx="2.7" ry="3.1" fill="#fff" stroke="#1a1a1a" stroke-width="0.9"/><ellipse cx="1758" cy="154.5" rx="2.7" ry="3.1" fill="#fff" stroke="#1a1a1a" stroke-width="0.9"/><ellipse cx="1739.7" cy="167.8" rx="2.7" ry="3.1" fill="#fff" stroke="#1a1a1a" stroke-width="0.9"/><ellipse cx="1772.9" cy="179.4" rx="2.7" ry="3.1" fill="#fff" stroke="#1a1a1a" stroke-width="0.9"/><ellipse cx="1791.5" cy="191.7" rx="2.7" ry="3.1" fill="#fff" stroke="#1a1a1a" stroke-width="0.9"/><ellipse cx="1792.2" cy="112.3" rx="2.7" ry="3.1" fill="#fff" stroke="#1a1a1a" stroke-width="0.9"/><ellipse cx="1792.2" cy="125.6" rx="2.7" ry="3.1" fill="#fff" stroke="#1a1a1a" stroke-width="0.9"/></g>
<g transform="rotate(180 1766.3 380.9)"><path d="M1758,84.7L1748,77.8M1758,84.7L1749.7,89.7M1757,83.1L1755.6,75.1M1760.3,84.4L1772.9,83.1L1779.6,96.4L1775.6,103.7M1774.2,110.3L1778.2,115.6M1778.2,121.3L1774.6,127.9M1774.2,134.2L1779.6,142.9L1772.9,154.5L1761.6,154.5M1755,156.2L1753,166.1L1743.7,167.8M1753,164.2L1743.7,165.8M1772.9,154.5L1778.9,166.1L1774.9,176.1M1774.2,182.1L1778.9,191.1L1788.2,191.1M1778.9,193.1L1788.2,193.1M1780.9,116.3L1788.9,113.6M1780.9,120.3L1788.9,124.3M1781.6,118.6L1789.5,122.6M1753,166.1L1757,179.4L1751.7,191.4L1757,203.4L1751.7,215.3L1757,227.3L1751.7,239.3L1757,251.2L1751.7,263.2L1757,275.1L1751.7,287.1L1757,299.1L1751.7,311L1757,323L1751.7,335L1757,346.9L1751.7,358.9L1757,370.8M1754,264.2L1754,276.5M1778.9,191.1L1774.2,203.4L1779.6,215.3L1774.2,227.3L1779.6,239.3L1774.2,251.2L1779.6,263.2L1774.2,275.1L1779.6,287.1L1774.2,299.1L1779.6,311L1774.2,323L1779.6,335L1774.2,346.9L1779.6,358.9L1774.2,370.8" stroke="#1a1a1a" stroke-width="0.9" fill="none" stroke-linejoin="round"/><ellipse cx="1772.9" cy="107" rx="2.7" ry="3.1" fill="#fff" stroke="#1a1a1a" stroke-width="0.9"/><ellipse cx="1772.9" cy="131.3" rx="2.7" ry="3.1" fill="#fff" stroke="#1a1a1a" stroke-width="0.9"/><ellipse cx="1758" cy="154.5" rx="2.7" ry="3.1" fill="#fff" stroke="#1a1a1a" stroke-width="0.9"/><ellipse cx="1739.7" cy="167.8" rx="2.7" ry="3.1" fill="#fff" stroke="#1a1a1a" stroke-width="0.9"/><ellipse cx="1772.9" cy="179.4" rx="2.7" ry="3.1" fill="#fff" stroke="#1a1a1a" stroke-width="0.9"/><ellipse cx="1791.5" cy="191.7" rx="2.7" ry="3.1" fill="#fff" stroke="#1a1a1a" stroke-width="0.9"/><ellipse cx="1792.2" cy="112.3" rx="2.7" ry="3.1" fill="#fff" stroke="#1a1a1a" stroke-width="0.9"/><ellipse cx="1792.2" cy="125.6" rx="2.7" ry="3.1" fill="#fff" stroke="#1a1a1a" stroke-width="0.9"/></g>
<text x="1758" y="87.1" font-size="10.5" font-family="'Liberation Sans',Arial,sans-serif" text-anchor="middle" transform="rotate(-90 1758 87.1)">N</text>
<text x="1778.9" y="119.6" font-size="10" font-family="'Liberation Sans',Arial,sans-serif" text-anchor="middle" transform="rotate(-90 1778.9 119.6)">P</text>
<text x="1775" y="677" font-size="10" font-family="'Liberation Sans',Arial,sans-serif" text-anchor="middle" transform="rotate(-90 1775 677)">N</text>
<text x="1753.6" y="642" font-size="10" font-family="'Liberation Sans',Arial,sans-serif" text-anchor="middle" transform="rotate(-90 1753.6 642)">P</text>
<line x1="1736" y1="67.1" x2="2046.5" y2="67.1" stroke="#2a2a2a" stroke-width="1.4"/>
<line x1="1736" y1="192.8" x2="2046.5" y2="192.8" stroke="#2a2a2a" stroke-width="1.4"/>
<line x1="1736" y1="318.1" x2="2046.5" y2="318.1" stroke="#2a2a2a" stroke-width="1.4"/>
<line x1="1736" y1="443.3" x2="2046.5" y2="443.3" stroke="#2a2a2a" stroke-width="1.4"/>
<line x1="1736" y1="569.1" x2="2046.5" y2="569.1" stroke="#2a2a2a" stroke-width="1.4"/>
<line x1="1736" y1="693.2" x2="2046.5" y2="693.2" stroke="#2a2a2a" stroke-width="1.4"/>
<line x1="1797" y1="67.1" x2="1797" y2="693.2" stroke="#2a2a2a" stroke-width="1.4"/>
<line x1="1921.7" y1="67.1" x2="1921.7" y2="693.2" stroke="#2a2a2a" stroke-width="1.4"/>
<line x1="2046.5" y1="67.1" x2="2046.5" y2="693.2" stroke="#2a2a2a" stroke-width="1.4"/>
<text transform="translate(1729.6,75.8) scale(0.9,1)" font-size="36" text-anchor="end">25</text>
<text transform="translate(1729.6,206.2) scale(0.9,1)" font-size="36" text-anchor="end">15</text>
<text transform="translate(1729.6,329.6) scale(0.9,1)" font-size="36" text-anchor="end">5</text>
<text transform="translate(1729.6,454.7) scale(0.9,1)" font-size="36" text-anchor="end" textLength="44">−5</text>
<text transform="translate(1729.6,581.5) scale(0.9,1)" font-size="36" text-anchor="end" textLength="62.5">−15</text>
<text transform="translate(1729.6,700.2) scale(0.9,1)" font-size="36" text-anchor="end" textLength="62.5">−25</text>
<text x="1797.8" y="53.8" font-size="34.5" textLength="103" lengthAdjust="spacingAndGlyphs" >ПОФХ</text>
<text x="1935" y="50.5" font-size="34.5" textLength="68" lengthAdjust="spacingAndGlyphs" >GpA</text>
<text transform="translate(1677.5,461) rotate(-90)" font-size="38.5" textLength="180" lengthAdjust="spacingAndGlyphs">Глубина, Å</text>
<path d="M2019.5,707.3 H2046.7 M2019.6,702.4 V712.4 M2046.6,702.4 V712.4" stroke="#111" stroke-width="2" fill="none"/>
<text transform="translate(1990.2,749.8) scale(0.955,1)" font-size="39">10 Å</text>
</svg>
</body></html>
